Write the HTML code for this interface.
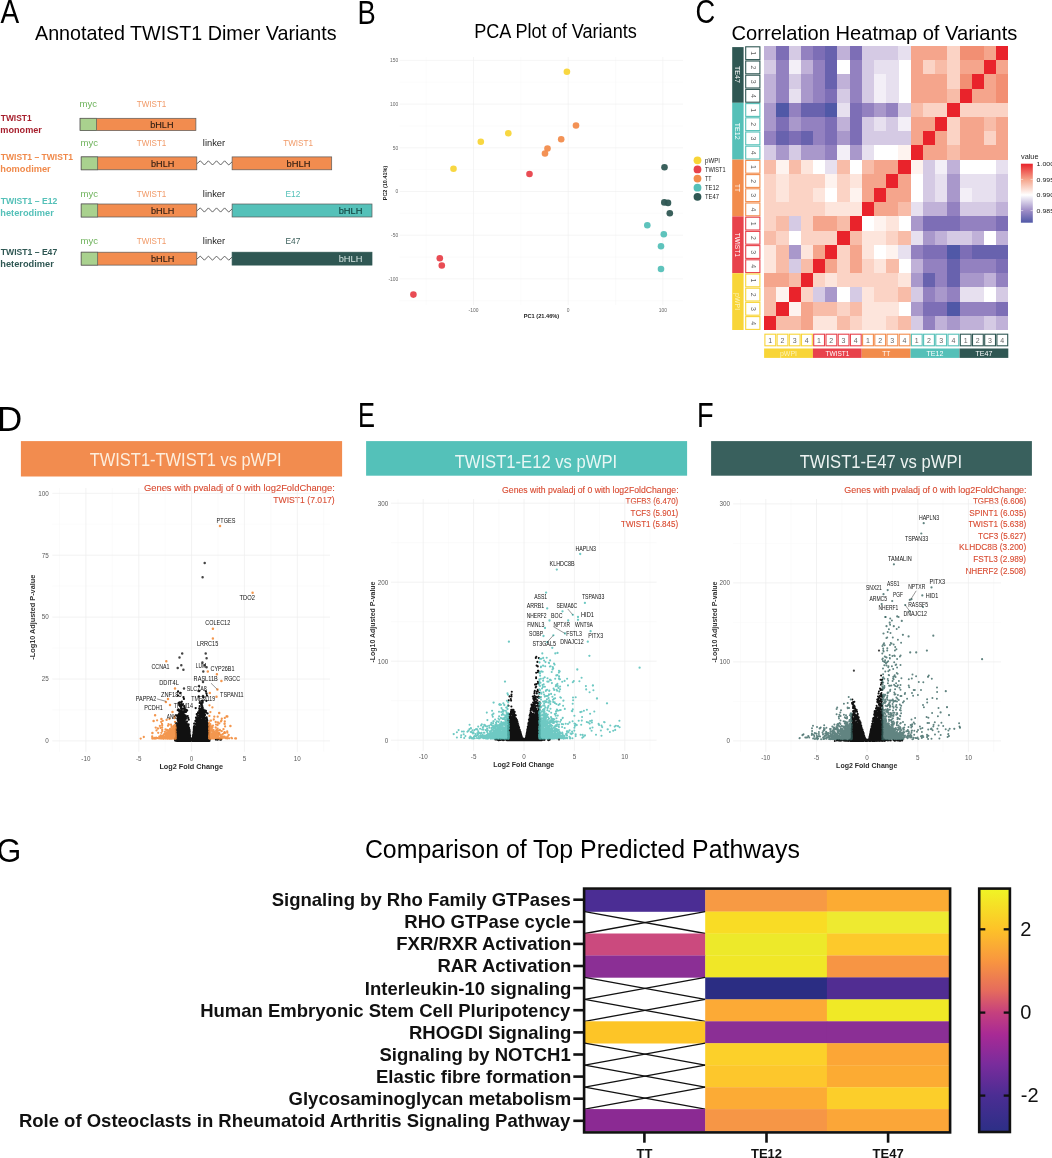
<!DOCTYPE html>
<html><head><meta charset="utf-8"><title>Figure</title>
<style>html,body{margin:0;padding:0;background:#fff}body{width:1052px;height:1158px;overflow:hidden}svg{display:block;will-change:transform}text{font-family:"Liberation Sans",sans-serif}</style></head>
<body>
<svg width="1052" height="1158" viewBox="0 0 1052 1158">
<rect width="1052" height="1158" fill="#fff"/>
<g id="A">
<text x="0.4" y="23.2" font-size="33.5" textLength="18.7" lengthAdjust="spacingAndGlyphs">A</text>
<text x="35.0" y="40.2" font-size="20.2" textLength="301.6" lengthAdjust="spacingAndGlyphs">Annotated TWIST1 Dimer Variants</text>
<rect x="80.1" y="118.3" width="115.8" height="12.3" fill="#f28c4f" stroke="#5a5a5a" stroke-width="0.7"/>
<rect x="80.1" y="118.3" width="16.5" height="12.3" fill="#a9d18e" stroke="#5a5a5a" stroke-width="0.7"/>
<text x="79.5" y="106.7" font-size="8.6" fill="#6db25a" textLength="17.5" lengthAdjust="spacingAndGlyphs">myc</text>
<text x="136.7" y="106.7" font-size="8.4" fill="#f19a68" textLength="29.7" lengthAdjust="spacingAndGlyphs">TWIST1</text>
<text x="150.2" y="127.7" font-size="8.8" fill="#2a1a10" textLength="23.3" lengthAdjust="spacingAndGlyphs" stroke="#2a1a10" stroke-width="0.12">bHLH</text>
<text x="0.8" y="121.4" font-size="8.7" fill="#a61e2c" font-weight="bold" textLength="30.8" lengthAdjust="spacingAndGlyphs">TWIST1</text>
<text x="0.3" y="133.3" font-size="8.7" fill="#a61e2c" font-weight="bold" textLength="41.6" lengthAdjust="spacingAndGlyphs">monomer</text>
<rect x="81.2" y="156.9" width="115.6" height="12.9" fill="#f28c4f" stroke="#5a5a5a" stroke-width="0.7"/>
<rect x="81.2" y="156.9" width="16.5" height="12.9" fill="#a9d18e" stroke="#5a5a5a" stroke-width="0.7"/>
<text x="80.6" y="145.7" font-size="8.6" fill="#6db25a" textLength="17.5" lengthAdjust="spacingAndGlyphs">myc</text>
<text x="136.7" y="145.7" font-size="8.4" fill="#f19a68" textLength="29.7" lengthAdjust="spacingAndGlyphs">TWIST1</text>
<text x="151.0" y="166.9" font-size="8.8" fill="#2a1a10" textLength="23.3" lengthAdjust="spacingAndGlyphs" stroke="#2a1a10" stroke-width="0.12">bHLH</text>
<text x="0.8" y="160.3" font-size="8.7" fill="#f0894a" font-weight="bold" textLength="72.1" lengthAdjust="spacingAndGlyphs">TWIST1 – TWIST1</text>
<text x="0.3" y="171.9" font-size="8.7" fill="#f0894a" font-weight="bold" textLength="50.4" lengthAdjust="spacingAndGlyphs">homodimer</text>
<polyline points="196.8,163.8 200.3,160.8 204.4,165.0 208.4,160.8 212.5,165.0 216.5,160.8 220.6,165.0 224.6,160.8 228.7,165.0 232.1,161.8" fill="none" stroke="#5a5a5a" stroke-width="0.95"/>
<text x="202.8" y="145.7" font-size="8.6" fill="#222" textLength="22.4" lengthAdjust="spacingAndGlyphs">linker</text>
<rect x="232.1" y="156.9" width="99.6" height="12.9" fill="#f28c4f" stroke="#5a5a5a" stroke-width="0.7"/>
<text x="283.2" y="145.7" font-size="8.4" fill="#f19a68" textLength="29.8" lengthAdjust="spacingAndGlyphs">TWIST1</text>
<text x="286.5" y="166.9" font-size="8.8" fill="#2a1a10" textLength="24.0" lengthAdjust="spacingAndGlyphs" stroke="#2a1a10" stroke-width="0.12">bHLH</text>
<rect x="81.2" y="204.0" width="115.6" height="13.0" fill="#f28c4f" stroke="#5a5a5a" stroke-width="0.7"/>
<rect x="81.2" y="204.0" width="16.5" height="13.0" fill="#a9d18e" stroke="#5a5a5a" stroke-width="0.7"/>
<text x="80.6" y="196.5" font-size="8.6" fill="#6db25a" textLength="17.5" lengthAdjust="spacingAndGlyphs">myc</text>
<text x="136.7" y="196.5" font-size="8.4" fill="#f19a68" textLength="29.7" lengthAdjust="spacingAndGlyphs">TWIST1</text>
<text x="151.0" y="214.1" font-size="8.8" fill="#2a1a10" textLength="23.3" lengthAdjust="spacingAndGlyphs" stroke="#2a1a10" stroke-width="0.12">bHLH</text>
<text x="0.8" y="203.7" font-size="8.7" fill="#54c0b8" font-weight="bold" textLength="56.5" lengthAdjust="spacingAndGlyphs">TWIST1 – E12</text>
<text x="0.3" y="215.6" font-size="8.7" fill="#54c0b8" font-weight="bold" textLength="53.5" lengthAdjust="spacingAndGlyphs">heterodimer</text>
<polyline points="196.8,210.9 200.3,207.9 204.4,212.1 208.4,207.9 212.5,212.1 216.5,207.9 220.6,212.1 224.6,207.9 228.7,212.1 232.1,208.9" fill="none" stroke="#5a5a5a" stroke-width="0.95"/>
<text x="202.8" y="196.5" font-size="8.6" fill="#222" textLength="22.4" lengthAdjust="spacingAndGlyphs">linker</text>
<rect x="232.1" y="204.0" width="139.9" height="13.0" fill="#55c1b9" stroke="#5a5a5a" stroke-width="0.7"/>
<text x="285.5" y="196.5" font-size="8.4" fill="#54c0b8" textLength="14.8" lengthAdjust="spacingAndGlyphs">E12</text>
<text x="338.7" y="214.1" font-size="8.8" fill="#0e3d3a" textLength="23.8" lengthAdjust="spacingAndGlyphs" stroke="#0e3d3a" stroke-width="0.1">bHLH</text>
<rect x="81.2" y="252.2" width="115.6" height="12.9" fill="#f28c4f" stroke="#5a5a5a" stroke-width="0.7"/>
<rect x="81.2" y="252.2" width="16.5" height="12.9" fill="#a9d18e" stroke="#5a5a5a" stroke-width="0.7"/>
<text x="80.6" y="244.4" font-size="8.6" fill="#6db25a" textLength="17.5" lengthAdjust="spacingAndGlyphs">myc</text>
<text x="136.7" y="244.4" font-size="8.4" fill="#f19a68" textLength="29.7" lengthAdjust="spacingAndGlyphs">TWIST1</text>
<text x="151.0" y="262.2" font-size="8.8" fill="#2a1a10" textLength="23.3" lengthAdjust="spacingAndGlyphs" stroke="#2a1a10" stroke-width="0.12">bHLH</text>
<text x="0.8" y="255.0" font-size="8.7" fill="#2f5753" font-weight="bold" textLength="56.4" lengthAdjust="spacingAndGlyphs">TWIST1 – E47</text>
<text x="0.3" y="266.9" font-size="8.7" fill="#2f5753" font-weight="bold" textLength="53.5" lengthAdjust="spacingAndGlyphs">heterodimer</text>
<polyline points="196.8,259.1 200.3,256.1 204.4,260.2 208.4,256.1 212.5,260.2 216.5,256.1 220.6,260.2 224.6,256.1 228.7,260.2 232.1,257.1" fill="none" stroke="#5a5a5a" stroke-width="0.95"/>
<text x="202.8" y="244.4" font-size="8.6" fill="#222" textLength="22.4" lengthAdjust="spacingAndGlyphs">linker</text>
<rect x="232.1" y="252.2" width="139.9" height="12.9" fill="#2f5753" stroke="#2f5753" stroke-width="0.7"/>
<text x="285.5" y="244.4" font-size="8.4" fill="#3c5f5b" textLength="14.8" lengthAdjust="spacingAndGlyphs">E47</text>
<text x="338.7" y="262.2" font-size="8.8" fill="#d4e4e1" textLength="23.8" lengthAdjust="spacingAndGlyphs">bHLH</text>
</g>
<g id="B">
<text x="357.4" y="23.5" font-size="33.8" textLength="18.2" lengthAdjust="spacingAndGlyphs">B</text>
<text x="474.2" y="38.3" font-size="19.6" textLength="162.6" lengthAdjust="spacingAndGlyphs">PCA Plot of Variants</text>
<line x1="426.2" y1="57.0" x2="426.2" y2="305.0" stroke="#f6f6f6" stroke-width="0.45"/>
<line x1="520.9" y1="57.0" x2="520.9" y2="305.0" stroke="#f6f6f6" stroke-width="0.45"/>
<line x1="615.6" y1="57.0" x2="615.6" y2="305.0" stroke="#f6f6f6" stroke-width="0.45"/>
<line x1="399.5" y1="300.8" x2="683.0" y2="300.8" stroke="#f6f6f6" stroke-width="0.45"/>
<line x1="399.5" y1="257.1" x2="683.0" y2="257.1" stroke="#f6f6f6" stroke-width="0.45"/>
<line x1="399.5" y1="213.3" x2="683.0" y2="213.3" stroke="#f6f6f6" stroke-width="0.45"/>
<line x1="399.5" y1="169.7" x2="683.0" y2="169.7" stroke="#f6f6f6" stroke-width="0.45"/>
<line x1="399.5" y1="126.0" x2="683.0" y2="126.0" stroke="#f6f6f6" stroke-width="0.45"/>
<line x1="399.5" y1="82.2" x2="683.0" y2="82.2" stroke="#f6f6f6" stroke-width="0.45"/>
<line x1="473.5" y1="57.0" x2="473.5" y2="305.0" stroke="#eeeeee" stroke-width="0.6"/>
<text x="473.5" y="311.6" font-size="4.9" fill="#666" text-anchor="middle">-100</text>
<line x1="568.2" y1="57.0" x2="568.2" y2="305.0" stroke="#eeeeee" stroke-width="0.6"/>
<text x="568.2" y="311.6" font-size="4.9" fill="#666" text-anchor="middle">0</text>
<line x1="662.9" y1="57.0" x2="662.9" y2="305.0" stroke="#eeeeee" stroke-width="0.6"/>
<text x="662.9" y="311.6" font-size="4.9" fill="#666" text-anchor="middle">100</text>
<line x1="399.5" y1="278.9" x2="683.0" y2="278.9" stroke="#eeeeee" stroke-width="0.6"/>
<text x="398.2" y="280.6" font-size="4.9" fill="#666" text-anchor="end">-100</text>
<line x1="399.5" y1="235.2" x2="683.0" y2="235.2" stroke="#eeeeee" stroke-width="0.6"/>
<text x="398.2" y="236.9" font-size="4.9" fill="#666" text-anchor="end">-50</text>
<line x1="399.5" y1="191.5" x2="683.0" y2="191.5" stroke="#eeeeee" stroke-width="0.6"/>
<text x="398.2" y="193.2" font-size="4.9" fill="#666" text-anchor="end">0</text>
<line x1="399.5" y1="147.8" x2="683.0" y2="147.8" stroke="#eeeeee" stroke-width="0.6"/>
<text x="398.2" y="149.5" font-size="4.9" fill="#666" text-anchor="end">50</text>
<line x1="399.5" y1="104.1" x2="683.0" y2="104.1" stroke="#eeeeee" stroke-width="0.6"/>
<text x="398.2" y="105.8" font-size="4.9" fill="#666" text-anchor="end">100</text>
<line x1="399.5" y1="60.4" x2="683.0" y2="60.4" stroke="#eeeeee" stroke-width="0.6"/>
<text x="398.2" y="62.1" font-size="4.9" fill="#666" text-anchor="end">150</text>
<text x="541.5" y="318.2" font-size="5" fill="#222" text-anchor="middle" font-weight="bold" textLength="35.5" lengthAdjust="spacingAndGlyphs">PC1 (21.46%)</text>
<text x="387.2" y="183.0" font-size="5" fill="#222" text-anchor="middle" font-weight="bold" textLength="34.5" lengthAdjust="spacingAndGlyphs" transform="rotate(-90 387.2 183.0)">PC2 (10.41%)</text>
<circle cx="566.9" cy="71.8" r="3.3" fill="#f8d537" fill-opacity="0.95"/>
<circle cx="508.3" cy="133.3" r="3.3" fill="#f8d537" fill-opacity="0.95"/>
<circle cx="480.8" cy="141.8" r="3.3" fill="#f8d537" fill-opacity="0.95"/>
<circle cx="453.5" cy="168.8" r="3.3" fill="#f8d537" fill-opacity="0.95"/>
<circle cx="576.0" cy="125.5" r="3.3" fill="#f28c4c" fill-opacity="0.95"/>
<circle cx="561.2" cy="139.2" r="3.3" fill="#f28c4c" fill-opacity="0.95"/>
<circle cx="547.5" cy="148.5" r="3.3" fill="#f28c4c" fill-opacity="0.95"/>
<circle cx="545.0" cy="153.5" r="3.3" fill="#f28c4c" fill-opacity="0.95"/>
<circle cx="529.5" cy="174.0" r="3.3" fill="#e8424b" fill-opacity="0.95"/>
<circle cx="439.8" cy="258.3" r="3.3" fill="#e8424b" fill-opacity="0.95"/>
<circle cx="441.8" cy="265.5" r="3.3" fill="#e8424b" fill-opacity="0.95"/>
<circle cx="413.4" cy="294.6" r="3.3" fill="#e8424b" fill-opacity="0.95"/>
<circle cx="664.5" cy="167.3" r="3.3" fill="#2f5753" fill-opacity="0.95"/>
<circle cx="664.3" cy="202.4" r="3.3" fill="#2f5753" fill-opacity="0.95"/>
<circle cx="668.0" cy="202.9" r="3.3" fill="#2f5753" fill-opacity="0.95"/>
<circle cx="669.8" cy="213.3" r="3.3" fill="#2f5753" fill-opacity="0.95"/>
<circle cx="647.3" cy="225.3" r="3.3" fill="#55c0b8" fill-opacity="0.95"/>
<circle cx="663.8" cy="234.3" r="3.3" fill="#55c0b8" fill-opacity="0.95"/>
<circle cx="661.0" cy="246.2" r="3.3" fill="#55c0b8" fill-opacity="0.95"/>
<circle cx="661.0" cy="269.0" r="3.3" fill="#55c0b8" fill-opacity="0.95"/>
<circle cx="697.5" cy="160.3" r="3.9" fill="#f8d537"/>
<text x="705.0" y="162.7" font-size="6.6" fill="#222" textLength="15.0" lengthAdjust="spacingAndGlyphs">pWPI</text>
<circle cx="697.5" cy="169.4" r="3.9" fill="#e8424b"/>
<text x="705.0" y="171.8" font-size="6.6" fill="#222" textLength="20.5" lengthAdjust="spacingAndGlyphs">TWIST1</text>
<circle cx="697.5" cy="178.6" r="3.9" fill="#f28c4c"/>
<text x="705.0" y="181.0" font-size="6.6" fill="#222" textLength="6.5" lengthAdjust="spacingAndGlyphs">TT</text>
<circle cx="697.5" cy="187.7" r="3.9" fill="#55c0b8"/>
<text x="705.0" y="190.1" font-size="6.6" fill="#222" textLength="14.0" lengthAdjust="spacingAndGlyphs">TE12</text>
<circle cx="697.5" cy="196.8" r="3.9" fill="#2f5753"/>
<text x="705.0" y="199.2" font-size="6.6" fill="#222" textLength="14.0" lengthAdjust="spacingAndGlyphs">TE47</text>
</g>
<g id="C">
<text x="695.6" y="23.3" font-size="33.5" textLength="19.7" lengthAdjust="spacingAndGlyphs">C</text>
<text x="731.6" y="39.7" font-size="20.2" textLength="285.7" lengthAdjust="spacingAndGlyphs">Correlation Heatmap of Variants</text>
<rect x="764.1" y="315.8" width="12.3" height="14.2" fill="#e9232b" shape-rendering="crispEdges"/>
<rect x="776.3" y="315.8" width="12.3" height="14.2" fill="#f8bca8" shape-rendering="crispEdges"/>
<rect x="788.5" y="315.8" width="12.3" height="14.2" fill="#f8bca8" shape-rendering="crispEdges"/>
<rect x="800.7" y="315.8" width="12.3" height="14.2" fill="#f5a58c" shape-rendering="crispEdges"/>
<rect x="812.9" y="315.8" width="12.3" height="14.2" fill="#fde5dc" shape-rendering="crispEdges"/>
<rect x="825.1" y="315.8" width="12.3" height="14.2" fill="#fde5dc" shape-rendering="crispEdges"/>
<rect x="837.4" y="315.8" width="12.3" height="14.2" fill="#f8bca8" shape-rendering="crispEdges"/>
<rect x="849.6" y="315.8" width="12.3" height="14.2" fill="#fbd3c5" shape-rendering="crispEdges"/>
<rect x="861.8" y="315.8" width="12.3" height="14.2" fill="#fde5dc" shape-rendering="crispEdges"/>
<rect x="874.0" y="315.8" width="12.3" height="14.2" fill="#fde5dc" shape-rendering="crispEdges"/>
<rect x="886.2" y="315.8" width="12.3" height="14.2" fill="#fbd3c5" shape-rendering="crispEdges"/>
<rect x="898.4" y="315.8" width="12.3" height="14.2" fill="#f8bca8" shape-rendering="crispEdges"/>
<rect x="910.6" y="315.8" width="12.3" height="14.2" fill="#d5cae4" shape-rendering="crispEdges"/>
<rect x="922.8" y="315.8" width="12.3" height="14.2" fill="#9381c0" shape-rendering="crispEdges"/>
<rect x="935.0" y="315.8" width="12.3" height="14.2" fill="#c0b1d8" shape-rendering="crispEdges"/>
<rect x="947.2" y="315.8" width="12.3" height="14.2" fill="#a998cb" shape-rendering="crispEdges"/>
<rect x="959.5" y="315.8" width="12.3" height="14.2" fill="#c0b1d8" shape-rendering="crispEdges"/>
<rect x="971.7" y="315.8" width="12.3" height="14.2" fill="#c0b1d8" shape-rendering="crispEdges"/>
<rect x="983.9" y="315.8" width="12.3" height="14.2" fill="#d5cae4" shape-rendering="crispEdges"/>
<rect x="996.1" y="315.8" width="12.3" height="14.2" fill="#c0b1d8" shape-rendering="crispEdges"/>
<rect x="764.1" y="301.6" width="12.3" height="14.2" fill="#f8bca8" shape-rendering="crispEdges"/>
<rect x="776.3" y="301.6" width="12.3" height="14.2" fill="#e9232b" shape-rendering="crispEdges"/>
<rect x="788.5" y="301.6" width="12.3" height="14.2" fill="#fef3ef" shape-rendering="crispEdges"/>
<rect x="800.7" y="301.6" width="12.3" height="14.2" fill="#f5a58c" shape-rendering="crispEdges"/>
<rect x="812.9" y="301.6" width="12.3" height="14.2" fill="#f8bca8" shape-rendering="crispEdges"/>
<rect x="825.1" y="301.6" width="12.3" height="14.2" fill="#f8bca8" shape-rendering="crispEdges"/>
<rect x="837.4" y="301.6" width="12.3" height="14.2" fill="#fbd3c5" shape-rendering="crispEdges"/>
<rect x="849.6" y="301.6" width="12.3" height="14.2" fill="#f8bca8" shape-rendering="crispEdges"/>
<rect x="861.8" y="301.6" width="12.3" height="14.2" fill="#fde5dc" shape-rendering="crispEdges"/>
<rect x="874.0" y="301.6" width="12.3" height="14.2" fill="#fde5dc" shape-rendering="crispEdges"/>
<rect x="886.2" y="301.6" width="12.3" height="14.2" fill="#fde5dc" shape-rendering="crispEdges"/>
<rect x="910.6" y="301.6" width="12.3" height="14.2" fill="#a998cb" shape-rendering="crispEdges"/>
<rect x="922.8" y="301.6" width="12.3" height="14.2" fill="#7d6eb6" shape-rendering="crispEdges"/>
<rect x="935.0" y="301.6" width="12.3" height="14.2" fill="#7d6eb6" shape-rendering="crispEdges"/>
<rect x="947.2" y="301.6" width="12.3" height="14.2" fill="#5058a7" shape-rendering="crispEdges"/>
<rect x="959.5" y="301.6" width="12.3" height="14.2" fill="#9381c0" shape-rendering="crispEdges"/>
<rect x="971.7" y="301.6" width="12.3" height="14.2" fill="#9381c0" shape-rendering="crispEdges"/>
<rect x="983.9" y="301.6" width="12.3" height="14.2" fill="#9381c0" shape-rendering="crispEdges"/>
<rect x="996.1" y="301.6" width="12.3" height="14.2" fill="#7d6eb6" shape-rendering="crispEdges"/>
<rect x="764.1" y="287.4" width="12.3" height="14.2" fill="#f8bca8" shape-rendering="crispEdges"/>
<rect x="776.3" y="287.4" width="12.3" height="14.2" fill="#fef3ef" shape-rendering="crispEdges"/>
<rect x="788.5" y="287.4" width="12.3" height="14.2" fill="#e9232b" shape-rendering="crispEdges"/>
<rect x="800.7" y="287.4" width="12.3" height="14.2" fill="#fbd3c5" shape-rendering="crispEdges"/>
<rect x="812.9" y="287.4" width="12.3" height="14.2" fill="#d5cae4" shape-rendering="crispEdges"/>
<rect x="825.1" y="287.4" width="12.3" height="14.2" fill="#a998cb" shape-rendering="crispEdges"/>
<rect x="849.6" y="287.4" width="12.3" height="14.2" fill="#d5cae4" shape-rendering="crispEdges"/>
<rect x="861.8" y="287.4" width="12.3" height="14.2" fill="#fde5dc" shape-rendering="crispEdges"/>
<rect x="874.0" y="287.4" width="12.3" height="14.2" fill="#fbd3c5" shape-rendering="crispEdges"/>
<rect x="886.2" y="287.4" width="12.3" height="14.2" fill="#fbd3c5" shape-rendering="crispEdges"/>
<rect x="898.4" y="287.4" width="12.3" height="14.2" fill="#f8bca8" shape-rendering="crispEdges"/>
<rect x="910.6" y="287.4" width="12.3" height="14.2" fill="#d5cae4" shape-rendering="crispEdges"/>
<rect x="922.8" y="287.4" width="12.3" height="14.2" fill="#9381c0" shape-rendering="crispEdges"/>
<rect x="935.0" y="287.4" width="12.3" height="14.2" fill="#a998cb" shape-rendering="crispEdges"/>
<rect x="947.2" y="287.4" width="12.3" height="14.2" fill="#9381c0" shape-rendering="crispEdges"/>
<rect x="959.5" y="287.4" width="12.3" height="14.2" fill="#e7e0ef" shape-rendering="crispEdges"/>
<rect x="971.7" y="287.4" width="12.3" height="14.2" fill="#e7e0ef" shape-rendering="crispEdges"/>
<rect x="996.1" y="287.4" width="12.3" height="14.2" fill="#d5cae4" shape-rendering="crispEdges"/>
<rect x="764.1" y="273.2" width="12.3" height="14.2" fill="#f5a58c" shape-rendering="crispEdges"/>
<rect x="776.3" y="273.2" width="12.3" height="14.2" fill="#f5a58c" shape-rendering="crispEdges"/>
<rect x="788.5" y="273.2" width="12.3" height="14.2" fill="#f8bca8" shape-rendering="crispEdges"/>
<rect x="800.7" y="273.2" width="12.3" height="14.2" fill="#e9232b" shape-rendering="crispEdges"/>
<rect x="812.9" y="273.2" width="12.3" height="14.2" fill="#fbd3c5" shape-rendering="crispEdges"/>
<rect x="825.1" y="273.2" width="12.3" height="14.2" fill="#fde5dc" shape-rendering="crispEdges"/>
<rect x="837.4" y="273.2" width="12.3" height="14.2" fill="#fbd3c5" shape-rendering="crispEdges"/>
<rect x="849.6" y="273.2" width="12.3" height="14.2" fill="#fbd3c5" shape-rendering="crispEdges"/>
<rect x="861.8" y="273.2" width="12.3" height="14.2" fill="#fbd3c5" shape-rendering="crispEdges"/>
<rect x="874.0" y="273.2" width="12.3" height="14.2" fill="#fbd3c5" shape-rendering="crispEdges"/>
<rect x="886.2" y="273.2" width="12.3" height="14.2" fill="#fbd3c5" shape-rendering="crispEdges"/>
<rect x="898.4" y="273.2" width="12.3" height="14.2" fill="#fde5dc" shape-rendering="crispEdges"/>
<rect x="910.6" y="273.2" width="12.3" height="14.2" fill="#a998cb" shape-rendering="crispEdges"/>
<rect x="922.8" y="273.2" width="12.3" height="14.2" fill="#6862ae" shape-rendering="crispEdges"/>
<rect x="935.0" y="273.2" width="12.3" height="14.2" fill="#9381c0" shape-rendering="crispEdges"/>
<rect x="947.2" y="273.2" width="12.3" height="14.2" fill="#6862ae" shape-rendering="crispEdges"/>
<rect x="959.5" y="273.2" width="12.3" height="14.2" fill="#a998cb" shape-rendering="crispEdges"/>
<rect x="971.7" y="273.2" width="12.3" height="14.2" fill="#a998cb" shape-rendering="crispEdges"/>
<rect x="983.9" y="273.2" width="12.3" height="14.2" fill="#c0b1d8" shape-rendering="crispEdges"/>
<rect x="996.1" y="273.2" width="12.3" height="14.2" fill="#9381c0" shape-rendering="crispEdges"/>
<rect x="764.1" y="259.0" width="12.3" height="14.2" fill="#fde5dc" shape-rendering="crispEdges"/>
<rect x="776.3" y="259.0" width="12.3" height="14.2" fill="#f8bca8" shape-rendering="crispEdges"/>
<rect x="788.5" y="259.0" width="12.3" height="14.2" fill="#d5cae4" shape-rendering="crispEdges"/>
<rect x="800.7" y="259.0" width="12.3" height="14.2" fill="#f8bca8" shape-rendering="crispEdges"/>
<rect x="812.9" y="259.0" width="12.3" height="14.2" fill="#e9232b" shape-rendering="crispEdges"/>
<rect x="825.1" y="259.0" width="12.3" height="14.2" fill="#f5a58c" shape-rendering="crispEdges"/>
<rect x="837.4" y="259.0" width="12.3" height="14.2" fill="#fbd3c5" shape-rendering="crispEdges"/>
<rect x="849.6" y="259.0" width="12.3" height="14.2" fill="#f5a58c" shape-rendering="crispEdges"/>
<rect x="861.8" y="259.0" width="12.3" height="14.2" fill="#fbd3c5" shape-rendering="crispEdges"/>
<rect x="874.0" y="259.0" width="12.3" height="14.2" fill="#fde5dc" shape-rendering="crispEdges"/>
<rect x="886.2" y="259.0" width="12.3" height="14.2" fill="#f8bca8" shape-rendering="crispEdges"/>
<rect x="910.6" y="259.0" width="12.3" height="14.2" fill="#c0b1d8" shape-rendering="crispEdges"/>
<rect x="922.8" y="259.0" width="12.3" height="14.2" fill="#9381c0" shape-rendering="crispEdges"/>
<rect x="935.0" y="259.0" width="12.3" height="14.2" fill="#9381c0" shape-rendering="crispEdges"/>
<rect x="947.2" y="259.0" width="12.3" height="14.2" fill="#6862ae" shape-rendering="crispEdges"/>
<rect x="959.5" y="259.0" width="12.3" height="14.2" fill="#9381c0" shape-rendering="crispEdges"/>
<rect x="971.7" y="259.0" width="12.3" height="14.2" fill="#9381c0" shape-rendering="crispEdges"/>
<rect x="983.9" y="259.0" width="12.3" height="14.2" fill="#9381c0" shape-rendering="crispEdges"/>
<rect x="996.1" y="259.0" width="12.3" height="14.2" fill="#7d6eb6" shape-rendering="crispEdges"/>
<rect x="764.1" y="244.8" width="12.3" height="14.2" fill="#fde5dc" shape-rendering="crispEdges"/>
<rect x="776.3" y="244.8" width="12.3" height="14.2" fill="#f8bca8" shape-rendering="crispEdges"/>
<rect x="788.5" y="244.8" width="12.3" height="14.2" fill="#a998cb" shape-rendering="crispEdges"/>
<rect x="800.7" y="244.8" width="12.3" height="14.2" fill="#fde5dc" shape-rendering="crispEdges"/>
<rect x="812.9" y="244.8" width="12.3" height="14.2" fill="#f5a58c" shape-rendering="crispEdges"/>
<rect x="825.1" y="244.8" width="12.3" height="14.2" fill="#e9232b" shape-rendering="crispEdges"/>
<rect x="837.4" y="244.8" width="12.3" height="14.2" fill="#fbd3c5" shape-rendering="crispEdges"/>
<rect x="849.6" y="244.8" width="12.3" height="14.2" fill="#f5a58c" shape-rendering="crispEdges"/>
<rect x="861.8" y="244.8" width="12.3" height="14.2" fill="#fde5dc" shape-rendering="crispEdges"/>
<rect x="886.2" y="244.8" width="12.3" height="14.2" fill="#fef3ef" shape-rendering="crispEdges"/>
<rect x="898.4" y="244.8" width="12.3" height="14.2" fill="#e7e0ef" shape-rendering="crispEdges"/>
<rect x="910.6" y="244.8" width="12.3" height="14.2" fill="#9381c0" shape-rendering="crispEdges"/>
<rect x="922.8" y="244.8" width="12.3" height="14.2" fill="#7d6eb6" shape-rendering="crispEdges"/>
<rect x="935.0" y="244.8" width="12.3" height="14.2" fill="#7d6eb6" shape-rendering="crispEdges"/>
<rect x="947.2" y="244.8" width="12.3" height="14.2" fill="#5058a7" shape-rendering="crispEdges"/>
<rect x="959.5" y="244.8" width="12.3" height="14.2" fill="#7d6eb6" shape-rendering="crispEdges"/>
<rect x="971.7" y="244.8" width="12.3" height="14.2" fill="#6862ae" shape-rendering="crispEdges"/>
<rect x="983.9" y="244.8" width="12.3" height="14.2" fill="#6862ae" shape-rendering="crispEdges"/>
<rect x="996.1" y="244.8" width="12.3" height="14.2" fill="#6862ae" shape-rendering="crispEdges"/>
<rect x="764.1" y="230.6" width="12.3" height="14.2" fill="#f8bca8" shape-rendering="crispEdges"/>
<rect x="776.3" y="230.6" width="12.3" height="14.2" fill="#fbd3c5" shape-rendering="crispEdges"/>
<rect x="800.7" y="230.6" width="12.3" height="14.2" fill="#fbd3c5" shape-rendering="crispEdges"/>
<rect x="812.9" y="230.6" width="12.3" height="14.2" fill="#fbd3c5" shape-rendering="crispEdges"/>
<rect x="825.1" y="230.6" width="12.3" height="14.2" fill="#fbd3c5" shape-rendering="crispEdges"/>
<rect x="837.4" y="230.6" width="12.3" height="14.2" fill="#e9232b" shape-rendering="crispEdges"/>
<rect x="849.6" y="230.6" width="12.3" height="14.2" fill="#f8bca8" shape-rendering="crispEdges"/>
<rect x="861.8" y="230.6" width="12.3" height="14.2" fill="#fde5dc" shape-rendering="crispEdges"/>
<rect x="874.0" y="230.6" width="12.3" height="14.2" fill="#fde5dc" shape-rendering="crispEdges"/>
<rect x="886.2" y="230.6" width="12.3" height="14.2" fill="#fbd3c5" shape-rendering="crispEdges"/>
<rect x="898.4" y="230.6" width="12.3" height="14.2" fill="#f8bca8" shape-rendering="crispEdges"/>
<rect x="910.6" y="230.6" width="12.3" height="14.2" fill="#e7e0ef" shape-rendering="crispEdges"/>
<rect x="922.8" y="230.6" width="12.3" height="14.2" fill="#a998cb" shape-rendering="crispEdges"/>
<rect x="935.0" y="230.6" width="12.3" height="14.2" fill="#c0b1d8" shape-rendering="crispEdges"/>
<rect x="947.2" y="230.6" width="12.3" height="14.2" fill="#d5cae4" shape-rendering="crispEdges"/>
<rect x="959.5" y="230.6" width="12.3" height="14.2" fill="#d5cae4" shape-rendering="crispEdges"/>
<rect x="971.7" y="230.6" width="12.3" height="14.2" fill="#c0b1d8" shape-rendering="crispEdges"/>
<rect x="996.1" y="230.6" width="12.3" height="14.2" fill="#c0b1d8" shape-rendering="crispEdges"/>
<rect x="764.1" y="216.4" width="12.3" height="14.2" fill="#fbd3c5" shape-rendering="crispEdges"/>
<rect x="776.3" y="216.4" width="12.3" height="14.2" fill="#f8bca8" shape-rendering="crispEdges"/>
<rect x="788.5" y="216.4" width="12.3" height="14.2" fill="#d5cae4" shape-rendering="crispEdges"/>
<rect x="800.7" y="216.4" width="12.3" height="14.2" fill="#fbd3c5" shape-rendering="crispEdges"/>
<rect x="812.9" y="216.4" width="12.3" height="14.2" fill="#f5a58c" shape-rendering="crispEdges"/>
<rect x="825.1" y="216.4" width="12.3" height="14.2" fill="#f5a58c" shape-rendering="crispEdges"/>
<rect x="837.4" y="216.4" width="12.3" height="14.2" fill="#f8bca8" shape-rendering="crispEdges"/>
<rect x="849.6" y="216.4" width="12.3" height="14.2" fill="#e9232b" shape-rendering="crispEdges"/>
<rect x="874.0" y="216.4" width="12.3" height="14.2" fill="#fef3ef" shape-rendering="crispEdges"/>
<rect x="886.2" y="216.4" width="12.3" height="14.2" fill="#fde5dc" shape-rendering="crispEdges"/>
<rect x="910.6" y="216.4" width="12.3" height="14.2" fill="#a998cb" shape-rendering="crispEdges"/>
<rect x="922.8" y="216.4" width="12.3" height="14.2" fill="#7d6eb6" shape-rendering="crispEdges"/>
<rect x="935.0" y="216.4" width="12.3" height="14.2" fill="#7d6eb6" shape-rendering="crispEdges"/>
<rect x="947.2" y="216.4" width="12.3" height="14.2" fill="#7d6eb6" shape-rendering="crispEdges"/>
<rect x="959.5" y="216.4" width="12.3" height="14.2" fill="#9381c0" shape-rendering="crispEdges"/>
<rect x="971.7" y="216.4" width="12.3" height="14.2" fill="#9381c0" shape-rendering="crispEdges"/>
<rect x="983.9" y="216.4" width="12.3" height="14.2" fill="#9381c0" shape-rendering="crispEdges"/>
<rect x="996.1" y="216.4" width="12.3" height="14.2" fill="#7d6eb6" shape-rendering="crispEdges"/>
<rect x="764.1" y="202.2" width="12.3" height="14.2" fill="#fbd3c5" shape-rendering="crispEdges"/>
<rect x="776.3" y="202.2" width="12.3" height="14.2" fill="#fbd3c5" shape-rendering="crispEdges"/>
<rect x="788.5" y="202.2" width="12.3" height="14.2" fill="#fbd3c5" shape-rendering="crispEdges"/>
<rect x="800.7" y="202.2" width="12.3" height="14.2" fill="#fbd3c5" shape-rendering="crispEdges"/>
<rect x="812.9" y="202.2" width="12.3" height="14.2" fill="#fbd3c5" shape-rendering="crispEdges"/>
<rect x="825.1" y="202.2" width="12.3" height="14.2" fill="#fde5dc" shape-rendering="crispEdges"/>
<rect x="837.4" y="202.2" width="12.3" height="14.2" fill="#fde5dc" shape-rendering="crispEdges"/>
<rect x="849.6" y="202.2" width="12.3" height="14.2" fill="#fde5dc" shape-rendering="crispEdges"/>
<rect x="861.8" y="202.2" width="12.3" height="14.2" fill="#e9232b" shape-rendering="crispEdges"/>
<rect x="874.0" y="202.2" width="12.3" height="14.2" fill="#f5a58c" shape-rendering="crispEdges"/>
<rect x="886.2" y="202.2" width="12.3" height="14.2" fill="#f5a58c" shape-rendering="crispEdges"/>
<rect x="898.4" y="202.2" width="12.3" height="14.2" fill="#f8bca8" shape-rendering="crispEdges"/>
<rect x="910.6" y="202.2" width="12.3" height="14.2" fill="#e7e0ef" shape-rendering="crispEdges"/>
<rect x="922.8" y="202.2" width="12.3" height="14.2" fill="#c0b1d8" shape-rendering="crispEdges"/>
<rect x="935.0" y="202.2" width="12.3" height="14.2" fill="#c0b1d8" shape-rendering="crispEdges"/>
<rect x="947.2" y="202.2" width="12.3" height="14.2" fill="#9381c0" shape-rendering="crispEdges"/>
<rect x="959.5" y="202.2" width="12.3" height="14.2" fill="#d5cae4" shape-rendering="crispEdges"/>
<rect x="971.7" y="202.2" width="12.3" height="14.2" fill="#d5cae4" shape-rendering="crispEdges"/>
<rect x="983.9" y="202.2" width="12.3" height="14.2" fill="#d5cae4" shape-rendering="crispEdges"/>
<rect x="996.1" y="202.2" width="12.3" height="14.2" fill="#c0b1d8" shape-rendering="crispEdges"/>
<rect x="764.1" y="188.0" width="12.3" height="14.2" fill="#fbd3c5" shape-rendering="crispEdges"/>
<rect x="776.3" y="188.0" width="12.3" height="14.2" fill="#fde5dc" shape-rendering="crispEdges"/>
<rect x="788.5" y="188.0" width="12.3" height="14.2" fill="#fbd3c5" shape-rendering="crispEdges"/>
<rect x="800.7" y="188.0" width="12.3" height="14.2" fill="#fbd3c5" shape-rendering="crispEdges"/>
<rect x="812.9" y="188.0" width="12.3" height="14.2" fill="#fde5dc" shape-rendering="crispEdges"/>
<rect x="837.4" y="188.0" width="12.3" height="14.2" fill="#fbd3c5" shape-rendering="crispEdges"/>
<rect x="849.6" y="188.0" width="12.3" height="14.2" fill="#fef3ef" shape-rendering="crispEdges"/>
<rect x="861.8" y="188.0" width="12.3" height="14.2" fill="#f5a58c" shape-rendering="crispEdges"/>
<rect x="874.0" y="188.0" width="12.3" height="14.2" fill="#e9232b" shape-rendering="crispEdges"/>
<rect x="886.2" y="188.0" width="12.3" height="14.2" fill="#f5a58c" shape-rendering="crispEdges"/>
<rect x="898.4" y="188.0" width="12.3" height="14.2" fill="#f5a58c" shape-rendering="crispEdges"/>
<rect x="922.8" y="188.0" width="12.3" height="14.2" fill="#d5cae4" shape-rendering="crispEdges"/>
<rect x="935.0" y="188.0" width="12.3" height="14.2" fill="#e7e0ef" shape-rendering="crispEdges"/>
<rect x="947.2" y="188.0" width="12.3" height="14.2" fill="#a998cb" shape-rendering="crispEdges"/>
<rect x="959.5" y="188.0" width="12.3" height="14.2" fill="#f3eff7" shape-rendering="crispEdges"/>
<rect x="971.7" y="188.0" width="12.3" height="14.2" fill="#e7e0ef" shape-rendering="crispEdges"/>
<rect x="983.9" y="188.0" width="12.3" height="14.2" fill="#e7e0ef" shape-rendering="crispEdges"/>
<rect x="996.1" y="188.0" width="12.3" height="14.2" fill="#d5cae4" shape-rendering="crispEdges"/>
<rect x="764.1" y="173.8" width="12.3" height="14.2" fill="#fbd3c5" shape-rendering="crispEdges"/>
<rect x="776.3" y="173.8" width="12.3" height="14.2" fill="#fde5dc" shape-rendering="crispEdges"/>
<rect x="788.5" y="173.8" width="12.3" height="14.2" fill="#fbd3c5" shape-rendering="crispEdges"/>
<rect x="800.7" y="173.8" width="12.3" height="14.2" fill="#fbd3c5" shape-rendering="crispEdges"/>
<rect x="812.9" y="173.8" width="12.3" height="14.2" fill="#fbd3c5" shape-rendering="crispEdges"/>
<rect x="825.1" y="173.8" width="12.3" height="14.2" fill="#fef3ef" shape-rendering="crispEdges"/>
<rect x="837.4" y="173.8" width="12.3" height="14.2" fill="#fbd3c5" shape-rendering="crispEdges"/>
<rect x="849.6" y="173.8" width="12.3" height="14.2" fill="#fde5dc" shape-rendering="crispEdges"/>
<rect x="861.8" y="173.8" width="12.3" height="14.2" fill="#f5a58c" shape-rendering="crispEdges"/>
<rect x="874.0" y="173.8" width="12.3" height="14.2" fill="#f5a58c" shape-rendering="crispEdges"/>
<rect x="886.2" y="173.8" width="12.3" height="14.2" fill="#e9232b" shape-rendering="crispEdges"/>
<rect x="898.4" y="173.8" width="12.3" height="14.2" fill="#f5a58c" shape-rendering="crispEdges"/>
<rect x="922.8" y="173.8" width="12.3" height="14.2" fill="#d5cae4" shape-rendering="crispEdges"/>
<rect x="935.0" y="173.8" width="12.3" height="14.2" fill="#e7e0ef" shape-rendering="crispEdges"/>
<rect x="947.2" y="173.8" width="12.3" height="14.2" fill="#a998cb" shape-rendering="crispEdges"/>
<rect x="959.5" y="173.8" width="12.3" height="14.2" fill="#e7e0ef" shape-rendering="crispEdges"/>
<rect x="971.7" y="173.8" width="12.3" height="14.2" fill="#e7e0ef" shape-rendering="crispEdges"/>
<rect x="983.9" y="173.8" width="12.3" height="14.2" fill="#e7e0ef" shape-rendering="crispEdges"/>
<rect x="996.1" y="173.8" width="12.3" height="14.2" fill="#d5cae4" shape-rendering="crispEdges"/>
<rect x="764.1" y="159.6" width="12.3" height="14.2" fill="#f8bca8" shape-rendering="crispEdges"/>
<rect x="776.3" y="159.6" width="12.3" height="14.2" fill="#fef3ef" shape-rendering="crispEdges"/>
<rect x="788.5" y="159.6" width="12.3" height="14.2" fill="#f8bca8" shape-rendering="crispEdges"/>
<rect x="800.7" y="159.6" width="12.3" height="14.2" fill="#fde5dc" shape-rendering="crispEdges"/>
<rect x="825.1" y="159.6" width="12.3" height="14.2" fill="#e7e0ef" shape-rendering="crispEdges"/>
<rect x="837.4" y="159.6" width="12.3" height="14.2" fill="#f8bca8" shape-rendering="crispEdges"/>
<rect x="861.8" y="159.6" width="12.3" height="14.2" fill="#f8bca8" shape-rendering="crispEdges"/>
<rect x="874.0" y="159.6" width="12.3" height="14.2" fill="#f5a58c" shape-rendering="crispEdges"/>
<rect x="886.2" y="159.6" width="12.3" height="14.2" fill="#f5a58c" shape-rendering="crispEdges"/>
<rect x="898.4" y="159.6" width="12.3" height="14.2" fill="#e9232b" shape-rendering="crispEdges"/>
<rect x="910.6" y="159.6" width="12.3" height="14.2" fill="#fef3ef" shape-rendering="crispEdges"/>
<rect x="922.8" y="159.6" width="12.3" height="14.2" fill="#d5cae4" shape-rendering="crispEdges"/>
<rect x="935.0" y="159.6" width="12.3" height="14.2" fill="#f3eff7" shape-rendering="crispEdges"/>
<rect x="947.2" y="159.6" width="12.3" height="14.2" fill="#c0b1d8" shape-rendering="crispEdges"/>
<rect x="996.1" y="159.6" width="12.3" height="14.2" fill="#e7e0ef" shape-rendering="crispEdges"/>
<rect x="764.1" y="145.4" width="12.3" height="14.2" fill="#d5cae4" shape-rendering="crispEdges"/>
<rect x="776.3" y="145.4" width="12.3" height="14.2" fill="#a998cb" shape-rendering="crispEdges"/>
<rect x="788.5" y="145.4" width="12.3" height="14.2" fill="#d5cae4" shape-rendering="crispEdges"/>
<rect x="800.7" y="145.4" width="12.3" height="14.2" fill="#a998cb" shape-rendering="crispEdges"/>
<rect x="812.9" y="145.4" width="12.3" height="14.2" fill="#a998cb" shape-rendering="crispEdges"/>
<rect x="825.1" y="145.4" width="12.3" height="14.2" fill="#9381c0" shape-rendering="crispEdges"/>
<rect x="837.4" y="145.4" width="12.3" height="14.2" fill="#f3eff7" shape-rendering="crispEdges"/>
<rect x="849.6" y="145.4" width="12.3" height="14.2" fill="#a998cb" shape-rendering="crispEdges"/>
<rect x="861.8" y="145.4" width="12.3" height="14.2" fill="#e7e0ef" shape-rendering="crispEdges"/>
<rect x="898.4" y="145.4" width="12.3" height="14.2" fill="#fef3ef" shape-rendering="crispEdges"/>
<rect x="910.6" y="145.4" width="12.3" height="14.2" fill="#e9232b" shape-rendering="crispEdges"/>
<rect x="922.8" y="145.4" width="12.3" height="14.2" fill="#f5a58c" shape-rendering="crispEdges"/>
<rect x="935.0" y="145.4" width="12.3" height="14.2" fill="#f5a58c" shape-rendering="crispEdges"/>
<rect x="947.2" y="145.4" width="12.3" height="14.2" fill="#f8bca8" shape-rendering="crispEdges"/>
<rect x="959.5" y="145.4" width="12.3" height="14.2" fill="#f5a58c" shape-rendering="crispEdges"/>
<rect x="971.7" y="145.4" width="12.3" height="14.2" fill="#f5a58c" shape-rendering="crispEdges"/>
<rect x="983.9" y="145.4" width="12.3" height="14.2" fill="#f5a58c" shape-rendering="crispEdges"/>
<rect x="996.1" y="145.4" width="12.3" height="14.2" fill="#f5a58c" shape-rendering="crispEdges"/>
<rect x="764.1" y="131.2" width="12.3" height="14.2" fill="#9381c0" shape-rendering="crispEdges"/>
<rect x="776.3" y="131.2" width="12.3" height="14.2" fill="#6862ae" shape-rendering="crispEdges"/>
<rect x="788.5" y="131.2" width="12.3" height="14.2" fill="#7d6eb6" shape-rendering="crispEdges"/>
<rect x="800.7" y="131.2" width="12.3" height="14.2" fill="#6862ae" shape-rendering="crispEdges"/>
<rect x="812.9" y="131.2" width="12.3" height="14.2" fill="#9381c0" shape-rendering="crispEdges"/>
<rect x="825.1" y="131.2" width="12.3" height="14.2" fill="#7d6eb6" shape-rendering="crispEdges"/>
<rect x="837.4" y="131.2" width="12.3" height="14.2" fill="#a998cb" shape-rendering="crispEdges"/>
<rect x="849.6" y="131.2" width="12.3" height="14.2" fill="#7d6eb6" shape-rendering="crispEdges"/>
<rect x="861.8" y="131.2" width="12.3" height="14.2" fill="#d5cae4" shape-rendering="crispEdges"/>
<rect x="874.0" y="131.2" width="12.3" height="14.2" fill="#d5cae4" shape-rendering="crispEdges"/>
<rect x="886.2" y="131.2" width="12.3" height="14.2" fill="#d5cae4" shape-rendering="crispEdges"/>
<rect x="898.4" y="131.2" width="12.3" height="14.2" fill="#d5cae4" shape-rendering="crispEdges"/>
<rect x="910.6" y="131.2" width="12.3" height="14.2" fill="#f5a58c" shape-rendering="crispEdges"/>
<rect x="922.8" y="131.2" width="12.3" height="14.2" fill="#e9232b" shape-rendering="crispEdges"/>
<rect x="935.0" y="131.2" width="12.3" height="14.2" fill="#f5a58c" shape-rendering="crispEdges"/>
<rect x="947.2" y="131.2" width="12.3" height="14.2" fill="#fbd3c5" shape-rendering="crispEdges"/>
<rect x="959.5" y="131.2" width="12.3" height="14.2" fill="#f5a58c" shape-rendering="crispEdges"/>
<rect x="971.7" y="131.2" width="12.3" height="14.2" fill="#f5a58c" shape-rendering="crispEdges"/>
<rect x="983.9" y="131.2" width="12.3" height="14.2" fill="#fbd3c5" shape-rendering="crispEdges"/>
<rect x="996.1" y="131.2" width="12.3" height="14.2" fill="#f5a58c" shape-rendering="crispEdges"/>
<rect x="764.1" y="117.0" width="12.3" height="14.2" fill="#a998cb" shape-rendering="crispEdges"/>
<rect x="776.3" y="117.0" width="12.3" height="14.2" fill="#7d6eb6" shape-rendering="crispEdges"/>
<rect x="788.5" y="117.0" width="12.3" height="14.2" fill="#a998cb" shape-rendering="crispEdges"/>
<rect x="800.7" y="117.0" width="12.3" height="14.2" fill="#9381c0" shape-rendering="crispEdges"/>
<rect x="812.9" y="117.0" width="12.3" height="14.2" fill="#9381c0" shape-rendering="crispEdges"/>
<rect x="825.1" y="117.0" width="12.3" height="14.2" fill="#7d6eb6" shape-rendering="crispEdges"/>
<rect x="837.4" y="117.0" width="12.3" height="14.2" fill="#c0b1d8" shape-rendering="crispEdges"/>
<rect x="849.6" y="117.0" width="12.3" height="14.2" fill="#7d6eb6" shape-rendering="crispEdges"/>
<rect x="861.8" y="117.0" width="12.3" height="14.2" fill="#d5cae4" shape-rendering="crispEdges"/>
<rect x="874.0" y="117.0" width="12.3" height="14.2" fill="#e7e0ef" shape-rendering="crispEdges"/>
<rect x="886.2" y="117.0" width="12.3" height="14.2" fill="#d5cae4" shape-rendering="crispEdges"/>
<rect x="898.4" y="117.0" width="12.3" height="14.2" fill="#f3eff7" shape-rendering="crispEdges"/>
<rect x="910.6" y="117.0" width="12.3" height="14.2" fill="#f5a58c" shape-rendering="crispEdges"/>
<rect x="922.8" y="117.0" width="12.3" height="14.2" fill="#f5a58c" shape-rendering="crispEdges"/>
<rect x="935.0" y="117.0" width="12.3" height="14.2" fill="#e9232b" shape-rendering="crispEdges"/>
<rect x="947.2" y="117.0" width="12.3" height="14.2" fill="#fbd3c5" shape-rendering="crispEdges"/>
<rect x="959.5" y="117.0" width="12.3" height="14.2" fill="#f5a58c" shape-rendering="crispEdges"/>
<rect x="971.7" y="117.0" width="12.3" height="14.2" fill="#f5a58c" shape-rendering="crispEdges"/>
<rect x="983.9" y="117.0" width="12.3" height="14.2" fill="#f8bca8" shape-rendering="crispEdges"/>
<rect x="996.1" y="117.0" width="12.3" height="14.2" fill="#f5a58c" shape-rendering="crispEdges"/>
<rect x="764.1" y="102.8" width="12.3" height="14.2" fill="#a998cb" shape-rendering="crispEdges"/>
<rect x="776.3" y="102.8" width="12.3" height="14.2" fill="#5058a7" shape-rendering="crispEdges"/>
<rect x="788.5" y="102.8" width="12.3" height="14.2" fill="#9381c0" shape-rendering="crispEdges"/>
<rect x="800.7" y="102.8" width="12.3" height="14.2" fill="#6862ae" shape-rendering="crispEdges"/>
<rect x="812.9" y="102.8" width="12.3" height="14.2" fill="#6862ae" shape-rendering="crispEdges"/>
<rect x="825.1" y="102.8" width="12.3" height="14.2" fill="#5058a7" shape-rendering="crispEdges"/>
<rect x="837.4" y="102.8" width="12.3" height="14.2" fill="#e7e0ef" shape-rendering="crispEdges"/>
<rect x="849.6" y="102.8" width="12.3" height="14.2" fill="#7d6eb6" shape-rendering="crispEdges"/>
<rect x="861.8" y="102.8" width="12.3" height="14.2" fill="#9381c0" shape-rendering="crispEdges"/>
<rect x="874.0" y="102.8" width="12.3" height="14.2" fill="#a998cb" shape-rendering="crispEdges"/>
<rect x="886.2" y="102.8" width="12.3" height="14.2" fill="#9381c0" shape-rendering="crispEdges"/>
<rect x="898.4" y="102.8" width="12.3" height="14.2" fill="#d5cae4" shape-rendering="crispEdges"/>
<rect x="910.6" y="102.8" width="12.3" height="14.2" fill="#f8bca8" shape-rendering="crispEdges"/>
<rect x="922.8" y="102.8" width="12.3" height="14.2" fill="#fbd3c5" shape-rendering="crispEdges"/>
<rect x="935.0" y="102.8" width="12.3" height="14.2" fill="#fbd3c5" shape-rendering="crispEdges"/>
<rect x="947.2" y="102.8" width="12.3" height="14.2" fill="#e9232b" shape-rendering="crispEdges"/>
<rect x="959.5" y="102.8" width="12.3" height="14.2" fill="#fbd3c5" shape-rendering="crispEdges"/>
<rect x="971.7" y="102.8" width="12.3" height="14.2" fill="#fbd3c5" shape-rendering="crispEdges"/>
<rect x="983.9" y="102.8" width="12.3" height="14.2" fill="#fbd3c5" shape-rendering="crispEdges"/>
<rect x="996.1" y="102.8" width="12.3" height="14.2" fill="#fbd3c5" shape-rendering="crispEdges"/>
<rect x="764.1" y="88.6" width="12.3" height="14.2" fill="#c0b1d8" shape-rendering="crispEdges"/>
<rect x="776.3" y="88.6" width="12.3" height="14.2" fill="#9381c0" shape-rendering="crispEdges"/>
<rect x="788.5" y="88.6" width="12.3" height="14.2" fill="#e7e0ef" shape-rendering="crispEdges"/>
<rect x="800.7" y="88.6" width="12.3" height="14.2" fill="#a998cb" shape-rendering="crispEdges"/>
<rect x="812.9" y="88.6" width="12.3" height="14.2" fill="#9381c0" shape-rendering="crispEdges"/>
<rect x="825.1" y="88.6" width="12.3" height="14.2" fill="#7d6eb6" shape-rendering="crispEdges"/>
<rect x="837.4" y="88.6" width="12.3" height="14.2" fill="#d5cae4" shape-rendering="crispEdges"/>
<rect x="849.6" y="88.6" width="12.3" height="14.2" fill="#9381c0" shape-rendering="crispEdges"/>
<rect x="861.8" y="88.6" width="12.3" height="14.2" fill="#d5cae4" shape-rendering="crispEdges"/>
<rect x="874.0" y="88.6" width="12.3" height="14.2" fill="#f3eff7" shape-rendering="crispEdges"/>
<rect x="886.2" y="88.6" width="12.3" height="14.2" fill="#e7e0ef" shape-rendering="crispEdges"/>
<rect x="910.6" y="88.6" width="12.3" height="14.2" fill="#f5a58c" shape-rendering="crispEdges"/>
<rect x="922.8" y="88.6" width="12.3" height="14.2" fill="#f5a58c" shape-rendering="crispEdges"/>
<rect x="935.0" y="88.6" width="12.3" height="14.2" fill="#f5a58c" shape-rendering="crispEdges"/>
<rect x="947.2" y="88.6" width="12.3" height="14.2" fill="#f8bca8" shape-rendering="crispEdges"/>
<rect x="959.5" y="88.6" width="12.3" height="14.2" fill="#e9232b" shape-rendering="crispEdges"/>
<rect x="971.7" y="88.6" width="12.3" height="14.2" fill="#f5a58c" shape-rendering="crispEdges"/>
<rect x="983.9" y="88.6" width="12.3" height="14.2" fill="#f5a58c" shape-rendering="crispEdges"/>
<rect x="996.1" y="88.6" width="12.3" height="14.2" fill="#f28f73" shape-rendering="crispEdges"/>
<rect x="764.1" y="74.4" width="12.3" height="14.2" fill="#c0b1d8" shape-rendering="crispEdges"/>
<rect x="776.3" y="74.4" width="12.3" height="14.2" fill="#9381c0" shape-rendering="crispEdges"/>
<rect x="788.5" y="74.4" width="12.3" height="14.2" fill="#d5cae4" shape-rendering="crispEdges"/>
<rect x="800.7" y="74.4" width="12.3" height="14.2" fill="#a998cb" shape-rendering="crispEdges"/>
<rect x="812.9" y="74.4" width="12.3" height="14.2" fill="#9381c0" shape-rendering="crispEdges"/>
<rect x="825.1" y="74.4" width="12.3" height="14.2" fill="#6862ae" shape-rendering="crispEdges"/>
<rect x="837.4" y="74.4" width="12.3" height="14.2" fill="#c0b1d8" shape-rendering="crispEdges"/>
<rect x="849.6" y="74.4" width="12.3" height="14.2" fill="#9381c0" shape-rendering="crispEdges"/>
<rect x="861.8" y="74.4" width="12.3" height="14.2" fill="#d5cae4" shape-rendering="crispEdges"/>
<rect x="874.0" y="74.4" width="12.3" height="14.2" fill="#f3eff7" shape-rendering="crispEdges"/>
<rect x="886.2" y="74.4" width="12.3" height="14.2" fill="#e7e0ef" shape-rendering="crispEdges"/>
<rect x="910.6" y="74.4" width="12.3" height="14.2" fill="#f5a58c" shape-rendering="crispEdges"/>
<rect x="922.8" y="74.4" width="12.3" height="14.2" fill="#f5a58c" shape-rendering="crispEdges"/>
<rect x="935.0" y="74.4" width="12.3" height="14.2" fill="#f5a58c" shape-rendering="crispEdges"/>
<rect x="947.2" y="74.4" width="12.3" height="14.2" fill="#fbd3c5" shape-rendering="crispEdges"/>
<rect x="959.5" y="74.4" width="12.3" height="14.2" fill="#f28f73" shape-rendering="crispEdges"/>
<rect x="971.7" y="74.4" width="12.3" height="14.2" fill="#e9232b" shape-rendering="crispEdges"/>
<rect x="983.9" y="74.4" width="12.3" height="14.2" fill="#f5a58c" shape-rendering="crispEdges"/>
<rect x="996.1" y="74.4" width="12.3" height="14.2" fill="#f28f73" shape-rendering="crispEdges"/>
<rect x="764.1" y="60.2" width="12.3" height="14.2" fill="#d5cae4" shape-rendering="crispEdges"/>
<rect x="776.3" y="60.2" width="12.3" height="14.2" fill="#9381c0" shape-rendering="crispEdges"/>
<rect x="788.5" y="60.2" width="12.3" height="14.2" fill="#f3eff7" shape-rendering="crispEdges"/>
<rect x="800.7" y="60.2" width="12.3" height="14.2" fill="#c0b1d8" shape-rendering="crispEdges"/>
<rect x="812.9" y="60.2" width="12.3" height="14.2" fill="#9381c0" shape-rendering="crispEdges"/>
<rect x="825.1" y="60.2" width="12.3" height="14.2" fill="#6862ae" shape-rendering="crispEdges"/>
<rect x="849.6" y="60.2" width="12.3" height="14.2" fill="#9381c0" shape-rendering="crispEdges"/>
<rect x="861.8" y="60.2" width="12.3" height="14.2" fill="#d5cae4" shape-rendering="crispEdges"/>
<rect x="874.0" y="60.2" width="12.3" height="14.2" fill="#e7e0ef" shape-rendering="crispEdges"/>
<rect x="886.2" y="60.2" width="12.3" height="14.2" fill="#e7e0ef" shape-rendering="crispEdges"/>
<rect x="910.6" y="60.2" width="12.3" height="14.2" fill="#f5a58c" shape-rendering="crispEdges"/>
<rect x="922.8" y="60.2" width="12.3" height="14.2" fill="#fbd3c5" shape-rendering="crispEdges"/>
<rect x="935.0" y="60.2" width="12.3" height="14.2" fill="#f8bca8" shape-rendering="crispEdges"/>
<rect x="947.2" y="60.2" width="12.3" height="14.2" fill="#fbd3c5" shape-rendering="crispEdges"/>
<rect x="959.5" y="60.2" width="12.3" height="14.2" fill="#f5a58c" shape-rendering="crispEdges"/>
<rect x="971.7" y="60.2" width="12.3" height="14.2" fill="#f5a58c" shape-rendering="crispEdges"/>
<rect x="983.9" y="60.2" width="12.3" height="14.2" fill="#e9232b" shape-rendering="crispEdges"/>
<rect x="996.1" y="60.2" width="12.3" height="14.2" fill="#f5a58c" shape-rendering="crispEdges"/>
<rect x="764.1" y="46.0" width="12.3" height="14.2" fill="#c0b1d8" shape-rendering="crispEdges"/>
<rect x="776.3" y="46.0" width="12.3" height="14.2" fill="#7d6eb6" shape-rendering="crispEdges"/>
<rect x="788.5" y="46.0" width="12.3" height="14.2" fill="#d5cae4" shape-rendering="crispEdges"/>
<rect x="800.7" y="46.0" width="12.3" height="14.2" fill="#9381c0" shape-rendering="crispEdges"/>
<rect x="812.9" y="46.0" width="12.3" height="14.2" fill="#7d6eb6" shape-rendering="crispEdges"/>
<rect x="825.1" y="46.0" width="12.3" height="14.2" fill="#6862ae" shape-rendering="crispEdges"/>
<rect x="837.4" y="46.0" width="12.3" height="14.2" fill="#c0b1d8" shape-rendering="crispEdges"/>
<rect x="849.6" y="46.0" width="12.3" height="14.2" fill="#7d6eb6" shape-rendering="crispEdges"/>
<rect x="861.8" y="46.0" width="12.3" height="14.2" fill="#d5cae4" shape-rendering="crispEdges"/>
<rect x="874.0" y="46.0" width="12.3" height="14.2" fill="#d5cae4" shape-rendering="crispEdges"/>
<rect x="886.2" y="46.0" width="12.3" height="14.2" fill="#d5cae4" shape-rendering="crispEdges"/>
<rect x="898.4" y="46.0" width="12.3" height="14.2" fill="#e7e0ef" shape-rendering="crispEdges"/>
<rect x="910.6" y="46.0" width="12.3" height="14.2" fill="#f5a58c" shape-rendering="crispEdges"/>
<rect x="922.8" y="46.0" width="12.3" height="14.2" fill="#f5a58c" shape-rendering="crispEdges"/>
<rect x="935.0" y="46.0" width="12.3" height="14.2" fill="#f5a58c" shape-rendering="crispEdges"/>
<rect x="947.2" y="46.0" width="12.3" height="14.2" fill="#fbd3c5" shape-rendering="crispEdges"/>
<rect x="959.5" y="46.0" width="12.3" height="14.2" fill="#f28f73" shape-rendering="crispEdges"/>
<rect x="971.7" y="46.0" width="12.3" height="14.2" fill="#f28f73" shape-rendering="crispEdges"/>
<rect x="983.9" y="46.0" width="12.3" height="14.2" fill="#f5a58c" shape-rendering="crispEdges"/>
<rect x="996.1" y="46.0" width="12.3" height="14.2" fill="#e9232b" shape-rendering="crispEdges"/>
<rect x="732.2" y="47.1" width="11.4" height="55.7" fill="#2f5753"/>
<text x="735.3" y="74.4" font-size="7.2" fill="#fff" text-anchor="middle" textLength="17.0" lengthAdjust="spacingAndGlyphs" transform="rotate(90 735.3 74.4)">TE47</text>
<rect x="745.7" y="46.8" width="14.2" height="12.8" fill="#fff" stroke="#2f5753" stroke-width="1.1"/>
<text x="750.6" y="53.3" font-size="7" fill="#666" text-anchor="middle" transform="rotate(90 750.6 53.3)">1</text>
<rect x="745.7" y="61.0" width="14.2" height="12.8" fill="#fff" stroke="#2f5753" stroke-width="1.1"/>
<text x="750.6" y="67.5" font-size="7" fill="#666" text-anchor="middle" transform="rotate(90 750.6 67.5)">2</text>
<rect x="745.7" y="75.2" width="14.2" height="12.8" fill="#fff" stroke="#2f5753" stroke-width="1.1"/>
<text x="750.6" y="81.7" font-size="7" fill="#666" text-anchor="middle" transform="rotate(90 750.6 81.7)">3</text>
<rect x="745.7" y="89.4" width="14.2" height="12.8" fill="#fff" stroke="#2f5753" stroke-width="1.1"/>
<text x="750.6" y="95.9" font-size="7" fill="#666" text-anchor="middle" transform="rotate(90 750.6 95.9)">4</text>
<rect x="732.2" y="102.8" width="11.4" height="56.8" fill="#55c0b8"/>
<text x="735.3" y="131.2" font-size="7.2" fill="#fff" text-anchor="middle" textLength="17.0" lengthAdjust="spacingAndGlyphs" transform="rotate(90 735.3 131.2)">TE12</text>
<rect x="745.7" y="103.6" width="14.2" height="12.8" fill="#fff" stroke="#55c0b8" stroke-width="1.1"/>
<text x="750.6" y="110.1" font-size="7" fill="#666" text-anchor="middle" transform="rotate(90 750.6 110.1)">1</text>
<rect x="745.7" y="117.8" width="14.2" height="12.8" fill="#fff" stroke="#55c0b8" stroke-width="1.1"/>
<text x="750.6" y="124.3" font-size="7" fill="#666" text-anchor="middle" transform="rotate(90 750.6 124.3)">2</text>
<rect x="745.7" y="132.0" width="14.2" height="12.8" fill="#fff" stroke="#55c0b8" stroke-width="1.1"/>
<text x="750.6" y="138.5" font-size="7" fill="#666" text-anchor="middle" transform="rotate(90 750.6 138.5)">3</text>
<rect x="745.7" y="146.2" width="14.2" height="12.8" fill="#fff" stroke="#55c0b8" stroke-width="1.1"/>
<text x="750.6" y="152.7" font-size="7" fill="#666" text-anchor="middle" transform="rotate(90 750.6 152.7)">4</text>
<rect x="732.2" y="159.6" width="11.4" height="56.8" fill="#f28c4c"/>
<text x="735.3" y="188.0" font-size="7.2" fill="#fff" text-anchor="middle" textLength="8.0" lengthAdjust="spacingAndGlyphs" transform="rotate(90 735.3 188.0)">TT</text>
<rect x="745.7" y="160.4" width="14.2" height="12.8" fill="#fff" stroke="#f28c4c" stroke-width="1.1"/>
<text x="750.6" y="166.9" font-size="7" fill="#666" text-anchor="middle" transform="rotate(90 750.6 166.9)">1</text>
<rect x="745.7" y="174.6" width="14.2" height="12.8" fill="#fff" stroke="#f28c4c" stroke-width="1.1"/>
<text x="750.6" y="181.1" font-size="7" fill="#666" text-anchor="middle" transform="rotate(90 750.6 181.1)">2</text>
<rect x="745.7" y="188.8" width="14.2" height="12.8" fill="#fff" stroke="#f28c4c" stroke-width="1.1"/>
<text x="750.6" y="195.3" font-size="7" fill="#666" text-anchor="middle" transform="rotate(90 750.6 195.3)">3</text>
<rect x="745.7" y="203.0" width="14.2" height="12.8" fill="#fff" stroke="#f28c4c" stroke-width="1.1"/>
<text x="750.6" y="209.5" font-size="7" fill="#666" text-anchor="middle" transform="rotate(90 750.6 209.5)">4</text>
<rect x="732.2" y="216.4" width="11.4" height="56.8" fill="#e8424b"/>
<text x="735.3" y="244.8" font-size="7.2" fill="#fff" text-anchor="middle" textLength="24.0" lengthAdjust="spacingAndGlyphs" transform="rotate(90 735.3 244.8)">TWIST1</text>
<rect x="745.7" y="217.2" width="14.2" height="12.8" fill="#fff" stroke="#e8424b" stroke-width="1.1"/>
<text x="750.6" y="223.7" font-size="7" fill="#666" text-anchor="middle" transform="rotate(90 750.6 223.7)">1</text>
<rect x="745.7" y="231.4" width="14.2" height="12.8" fill="#fff" stroke="#e8424b" stroke-width="1.1"/>
<text x="750.6" y="237.9" font-size="7" fill="#666" text-anchor="middle" transform="rotate(90 750.6 237.9)">2</text>
<rect x="745.7" y="245.6" width="14.2" height="12.8" fill="#fff" stroke="#e8424b" stroke-width="1.1"/>
<text x="750.6" y="252.1" font-size="7" fill="#666" text-anchor="middle" transform="rotate(90 750.6 252.1)">3</text>
<rect x="745.7" y="259.8" width="14.2" height="12.8" fill="#fff" stroke="#e8424b" stroke-width="1.1"/>
<text x="750.6" y="266.3" font-size="7" fill="#666" text-anchor="middle" transform="rotate(90 750.6 266.3)">4</text>
<rect x="732.2" y="273.2" width="11.4" height="56.8" fill="#f8d537"/>
<text x="735.3" y="301.6" font-size="7.2" fill="#fdf3b8" text-anchor="middle" textLength="17.0" lengthAdjust="spacingAndGlyphs" transform="rotate(90 735.3 301.6)">pWPI</text>
<rect x="745.7" y="274.0" width="14.2" height="12.8" fill="#fff" stroke="#f8d537" stroke-width="1.1"/>
<text x="750.6" y="280.5" font-size="7" fill="#666" text-anchor="middle" transform="rotate(90 750.6 280.5)">1</text>
<rect x="745.7" y="288.2" width="14.2" height="12.8" fill="#fff" stroke="#f8d537" stroke-width="1.1"/>
<text x="750.6" y="294.7" font-size="7" fill="#666" text-anchor="middle" transform="rotate(90 750.6 294.7)">2</text>
<rect x="745.7" y="302.4" width="14.2" height="12.8" fill="#fff" stroke="#f8d537" stroke-width="1.1"/>
<text x="750.6" y="308.9" font-size="7" fill="#666" text-anchor="middle" transform="rotate(90 750.6 308.9)">3</text>
<rect x="745.7" y="316.6" width="14.2" height="12.8" fill="#fff" stroke="#f8d537" stroke-width="1.1"/>
<text x="750.6" y="323.1" font-size="7" fill="#666" text-anchor="middle" transform="rotate(90 750.6 323.1)">4</text>
<rect x="764.1" y="348.5" width="48.8" height="9.4" fill="#f8d537"/>
<text x="788.5" y="356.2" font-size="7.2" fill="#fdf3b8" text-anchor="middle" textLength="17.0" lengthAdjust="spacingAndGlyphs">pWPI</text>
<rect x="764.9" y="334.2" width="10.8" height="11.6" fill="#fff" stroke="#f8d537" stroke-width="1.1"/>
<text x="770.2" y="342.6" font-size="7" fill="#666" text-anchor="middle">1</text>
<rect x="777.1" y="334.2" width="10.8" height="11.6" fill="#fff" stroke="#f8d537" stroke-width="1.1"/>
<text x="782.4" y="342.6" font-size="7" fill="#666" text-anchor="middle">2</text>
<rect x="789.3" y="334.2" width="10.8" height="11.6" fill="#fff" stroke="#f8d537" stroke-width="1.1"/>
<text x="794.6" y="342.6" font-size="7" fill="#666" text-anchor="middle">3</text>
<rect x="801.5" y="334.2" width="10.8" height="11.6" fill="#fff" stroke="#f8d537" stroke-width="1.1"/>
<text x="806.8" y="342.6" font-size="7" fill="#666" text-anchor="middle">4</text>
<rect x="812.9" y="348.5" width="48.8" height="9.4" fill="#e8424b"/>
<text x="837.4" y="356.2" font-size="7.2" fill="#fff" text-anchor="middle" textLength="24.0" lengthAdjust="spacingAndGlyphs">TWIST1</text>
<rect x="813.7" y="334.2" width="10.8" height="11.6" fill="#fff" stroke="#e8424b" stroke-width="1.1"/>
<text x="819.0" y="342.6" font-size="7" fill="#666" text-anchor="middle">1</text>
<rect x="826.0" y="334.2" width="10.8" height="11.6" fill="#fff" stroke="#e8424b" stroke-width="1.1"/>
<text x="831.3" y="342.6" font-size="7" fill="#666" text-anchor="middle">2</text>
<rect x="838.2" y="334.2" width="10.8" height="11.6" fill="#fff" stroke="#e8424b" stroke-width="1.1"/>
<text x="843.5" y="342.6" font-size="7" fill="#666" text-anchor="middle">3</text>
<rect x="850.4" y="334.2" width="10.8" height="11.6" fill="#fff" stroke="#e8424b" stroke-width="1.1"/>
<text x="855.7" y="342.6" font-size="7" fill="#666" text-anchor="middle">4</text>
<rect x="861.8" y="348.5" width="48.8" height="9.4" fill="#f28c4c"/>
<text x="886.2" y="356.2" font-size="7.2" fill="#fff" text-anchor="middle" textLength="8.0" lengthAdjust="spacingAndGlyphs">TT</text>
<rect x="862.6" y="334.2" width="10.8" height="11.6" fill="#fff" stroke="#f28c4c" stroke-width="1.1"/>
<text x="867.9" y="342.6" font-size="7" fill="#666" text-anchor="middle">1</text>
<rect x="874.8" y="334.2" width="10.8" height="11.6" fill="#fff" stroke="#f28c4c" stroke-width="1.1"/>
<text x="880.1" y="342.6" font-size="7" fill="#666" text-anchor="middle">2</text>
<rect x="887.0" y="334.2" width="10.8" height="11.6" fill="#fff" stroke="#f28c4c" stroke-width="1.1"/>
<text x="892.3" y="342.6" font-size="7" fill="#666" text-anchor="middle">3</text>
<rect x="899.2" y="334.2" width="10.8" height="11.6" fill="#fff" stroke="#f28c4c" stroke-width="1.1"/>
<text x="904.5" y="342.6" font-size="7" fill="#666" text-anchor="middle">4</text>
<rect x="910.6" y="348.5" width="48.8" height="9.4" fill="#55c0b8"/>
<text x="935.0" y="356.2" font-size="7.2" fill="#fff" text-anchor="middle" textLength="17.0" lengthAdjust="spacingAndGlyphs">TE12</text>
<rect x="911.4" y="334.2" width="10.8" height="11.6" fill="#fff" stroke="#55c0b8" stroke-width="1.1"/>
<text x="916.7" y="342.6" font-size="7" fill="#666" text-anchor="middle">1</text>
<rect x="923.6" y="334.2" width="10.8" height="11.6" fill="#fff" stroke="#55c0b8" stroke-width="1.1"/>
<text x="928.9" y="342.6" font-size="7" fill="#666" text-anchor="middle">2</text>
<rect x="935.8" y="334.2" width="10.8" height="11.6" fill="#fff" stroke="#55c0b8" stroke-width="1.1"/>
<text x="941.1" y="342.6" font-size="7" fill="#666" text-anchor="middle">3</text>
<rect x="948.0" y="334.2" width="10.8" height="11.6" fill="#fff" stroke="#55c0b8" stroke-width="1.1"/>
<text x="953.4" y="342.6" font-size="7" fill="#666" text-anchor="middle">4</text>
<rect x="959.5" y="348.5" width="48.8" height="9.4" fill="#2f5753"/>
<text x="983.9" y="356.2" font-size="7.2" fill="#fff" text-anchor="middle" textLength="17.0" lengthAdjust="spacingAndGlyphs">TE47</text>
<rect x="960.3" y="334.2" width="10.8" height="11.6" fill="#fff" stroke="#2f5753" stroke-width="1.1"/>
<text x="965.6" y="342.6" font-size="7" fill="#666" text-anchor="middle">1</text>
<rect x="972.5" y="334.2" width="10.8" height="11.6" fill="#fff" stroke="#2f5753" stroke-width="1.1"/>
<text x="977.8" y="342.6" font-size="7" fill="#666" text-anchor="middle">2</text>
<rect x="984.7" y="334.2" width="10.8" height="11.6" fill="#fff" stroke="#2f5753" stroke-width="1.1"/>
<text x="990.0" y="342.6" font-size="7" fill="#666" text-anchor="middle">3</text>
<rect x="996.9" y="334.2" width="10.8" height="11.6" fill="#fff" stroke="#2f5753" stroke-width="1.1"/>
<text x="1002.2" y="342.6" font-size="7" fill="#666" text-anchor="middle">4</text>
<defs><linearGradient id="cg" x1="0" y1="0" x2="0" y2="1"><stop offset="0" stop-color="#e9232b"/><stop offset="0.27" stop-color="#f5a58c"/><stop offset="0.53" stop-color="#ffffff"/><stop offset="0.79" stop-color="#9f8ec7"/><stop offset="1" stop-color="#5058a7"/></linearGradient></defs>
<rect x="1020.9" y="163.7" width="11.9" height="59.0" fill="url(#cg)"/>
<line x1="1020.9" y1="179.4" x2="1023.2" y2="179.4" stroke="#fff" stroke-width="0.5"/>
<line x1="1030.5" y1="179.4" x2="1032.8" y2="179.4" stroke="#fff" stroke-width="0.5"/>
<line x1="1020.9" y1="210.6" x2="1023.2" y2="210.6" stroke="#fff" stroke-width="0.5"/>
<line x1="1030.5" y1="210.6" x2="1032.8" y2="210.6" stroke="#fff" stroke-width="0.5"/>
<text x="1021.0" y="158.6" font-size="7" fill="#222" textLength="17.5" lengthAdjust="spacingAndGlyphs">value</text>
<text x="1036.6" y="165.8" font-size="6" fill="#222" textLength="17.5" lengthAdjust="spacingAndGlyphs">1.000</text>
<text x="1036.6" y="181.5" font-size="6" fill="#222" textLength="17.5" lengthAdjust="spacingAndGlyphs">0.995</text>
<text x="1036.6" y="197.2" font-size="6" fill="#222" textLength="17.5" lengthAdjust="spacingAndGlyphs">0.990</text>
<text x="1036.6" y="212.7" font-size="6" fill="#222" textLength="17.5" lengthAdjust="spacingAndGlyphs">0.985</text>
</g>
<g id="D">
<text x="-3.1" y="430.7" font-size="35" textLength="25.2" lengthAdjust="spacingAndGlyphs">D</text>
<rect x="20.9" y="441.1" width="321.2" height="35.4" fill="#f28c4f"/>
<text x="89.7" y="465.9" font-size="19.0" fill="#fdeedd" textLength="192.0" lengthAdjust="spacingAndGlyphs">TWIST1-TWIST1 vs pWPI</text>
<text x="143.9" y="490.6" font-size="9.9" fill="#d94a30" textLength="191.0" lengthAdjust="spacingAndGlyphs" stroke="#d94a30" stroke-width="0.12">Genes with pvaladj of 0 with log2FoldChange:</text>
<text x="273.3" y="502.7" font-size="9.9" fill="#d94a30" textLength="61.3" lengthAdjust="spacingAndGlyphs" stroke="#d94a30" stroke-width="0.12">TWIST1 (7.017)</text>
<line x1="59.5" y1="488.0" x2="59.5" y2="751.8" stroke="#f6f6f6" stroke-width="0.5"/>
<line x1="112.3" y1="488.0" x2="112.3" y2="751.8" stroke="#f6f6f6" stroke-width="0.5"/>
<line x1="165.2" y1="488.0" x2="165.2" y2="751.8" stroke="#f6f6f6" stroke-width="0.5"/>
<line x1="218.0" y1="488.0" x2="218.0" y2="751.8" stroke="#f6f6f6" stroke-width="0.5"/>
<line x1="270.9" y1="488.0" x2="270.9" y2="751.8" stroke="#f6f6f6" stroke-width="0.5"/>
<line x1="323.7" y1="488.0" x2="323.7" y2="751.8" stroke="#f6f6f6" stroke-width="0.5"/>
<line x1="52.3" y1="709.9" x2="330.0" y2="709.9" stroke="#f6f6f6" stroke-width="0.5"/>
<line x1="52.3" y1="648.0" x2="330.0" y2="648.0" stroke="#f6f6f6" stroke-width="0.5"/>
<line x1="52.3" y1="586.1" x2="330.0" y2="586.1" stroke="#f6f6f6" stroke-width="0.5"/>
<line x1="52.3" y1="524.2" x2="330.0" y2="524.2" stroke="#f6f6f6" stroke-width="0.5"/>
<line x1="85.9" y1="488.0" x2="85.9" y2="751.8" stroke="#eeeeee" stroke-width="0.75"/>
<text x="85.9" y="761.0" font-size="6.3" fill="#5a5a5a" text-anchor="middle">-10</text>
<line x1="138.8" y1="488.0" x2="138.8" y2="751.8" stroke="#eeeeee" stroke-width="0.75"/>
<text x="138.8" y="761.0" font-size="6.3" fill="#5a5a5a" text-anchor="middle">-5</text>
<line x1="191.6" y1="488.0" x2="191.6" y2="751.8" stroke="#eeeeee" stroke-width="0.75"/>
<text x="191.6" y="761.0" font-size="6.3" fill="#5a5a5a" text-anchor="middle">0</text>
<line x1="244.4" y1="488.0" x2="244.4" y2="751.8" stroke="#eeeeee" stroke-width="0.75"/>
<text x="244.4" y="761.0" font-size="6.3" fill="#5a5a5a" text-anchor="middle">5</text>
<line x1="297.3" y1="488.0" x2="297.3" y2="751.8" stroke="#eeeeee" stroke-width="0.75"/>
<text x="297.3" y="761.0" font-size="6.3" fill="#5a5a5a" text-anchor="middle">10</text>
<line x1="52.3" y1="740.9" x2="330.0" y2="740.9" stroke="#eeeeee" stroke-width="0.75"/>
<text x="48.7" y="743.1" font-size="6.3" fill="#5a5a5a" text-anchor="end">0</text>
<line x1="52.3" y1="679.0" x2="330.0" y2="679.0" stroke="#eeeeee" stroke-width="0.75"/>
<text x="48.7" y="681.2" font-size="6.3" fill="#5a5a5a" text-anchor="end">25</text>
<line x1="52.3" y1="617.1" x2="330.0" y2="617.1" stroke="#eeeeee" stroke-width="0.75"/>
<text x="48.7" y="619.4" font-size="6.3" fill="#5a5a5a" text-anchor="end">50</text>
<line x1="52.3" y1="555.2" x2="330.0" y2="555.2" stroke="#eeeeee" stroke-width="0.75"/>
<text x="48.7" y="557.5" font-size="6.3" fill="#5a5a5a" text-anchor="end">75</text>
<line x1="52.3" y1="493.3" x2="330.0" y2="493.3" stroke="#eeeeee" stroke-width="0.75"/>
<text x="48.7" y="495.5" font-size="6.3" fill="#5a5a5a" text-anchor="end">100</text>
<text x="159.4" y="769.3" font-size="7.0" fill="#2a2a2a" font-weight="bold" textLength="63.7" lengthAdjust="spacingAndGlyphs">Log2 Fold Change</text>
<text x="34.9" y="617.2" font-size="7.0" fill="#333" text-anchor="middle" font-weight="bold" textLength="85.0" lengthAdjust="spacingAndGlyphs" transform="rotate(-90 34.9 617.2)">-Log10 Adjusted P-value</text>
<path d="M189.0 736.8h0M185.4 715.3h0M178.3 720.7h0M181.8 738.3h0M189.1 740.9h0M183.6 730.6h0M183.4 739.9h0M187.1 726.0h0M179.5 732.4h0M187.7 725.8h0M184.1 728.8h0M181.6 709.6h0M183.6 730.0h0M181.3 724.9h0M179.5 734.9h0M176.4 740.7h0M186.0 734.6h0M180.8 737.3h0M180.2 739.5h0M185.6 731.1h0M190.3 738.1h0M176.1 739.3h0M185.8 735.7h0M185.7 736.7h0M177.2 728.0h0M181.2 722.3h0M182.0 705.5h0M179.1 739.3h0M189.8 737.2h0M179.8 728.3h0M183.7 715.8h0M189.0 738.7h0M180.5 732.8h0M176.8 740.6h0M187.3 737.6h0M180.9 730.0h0M184.6 715.1h0M179.5 737.6h0M179.7 734.0h0M186.9 735.0h0M178.2 734.3h0M180.6 733.0h0M180.3 736.1h0M178.0 715.8h0M184.1 739.7h0M179.2 735.6h0M177.5 739.6h0M188.4 732.4h0M178.0 739.7h0M183.8 723.9h0M181.9 705.1h0M187.0 721.7h0M180.1 737.8h0M186.2 739.7h0M177.6 737.0h0M185.1 719.3h0M181.9 732.0h0M184.1 731.5h0M181.5 740.5h0M187.0 731.8h0M187.8 739.5h0M179.5 740.8h0M179.4 740.7h0M180.9 705.8h0M176.9 737.9h0M187.2 736.0h0M177.8 729.0h0M188.0 740.8h0M176.3 739.9h0M181.2 737.0h0M181.3 732.5h0M176.2 737.2h0M178.8 737.4h0M178.6 729.5h0M189.5 738.0h0M184.7 734.1h0M189.0 737.8h0M187.1 732.2h0M187.4 740.8h0M177.7 728.8h0M188.4 736.8h0M185.2 724.5h0M183.0 735.8h0M178.0 740.1h0M176.3 739.4h0M179.7 726.9h0M186.4 726.2h0M182.2 733.3h0M179.5 718.2h0M189.4 736.7h0M180.0 723.0h0M185.0 739.6h0M181.4 730.1h0M180.4 733.8h0M180.5 735.2h0M182.7 738.7h0M182.2 737.5h0M187.5 739.3h0M182.9 734.6h0M187.6 726.8h0M182.9 730.0h0M182.5 737.7h0M179.0 738.8h0M184.6 738.5h0M190.2 739.9h0M181.8 716.8h0M187.5 740.2h0M179.6 740.6h0M184.7 738.4h0M184.7 737.6h0M177.1 739.8h0M184.6 739.3h0M185.2 737.4h0M184.0 716.5h0M183.2 734.7h0M188.4 731.3h0M182.2 734.0h0M176.9 732.9h0M182.0 735.7h0M179.5 740.6h0M176.5 733.2h0M178.1 739.6h0M179.5 740.5h0M178.1 716.4h0M178.3 736.3h0M184.7 707.8h0M182.6 722.2h0M185.0 732.9h0M185.8 727.8h0M181.6 727.6h0M185.8 740.9h0M180.9 725.7h0M181.6 732.7h0M188.9 739.4h0M183.8 737.4h0M184.6 736.9h0M179.2 704.7h0M189.2 740.6h0M187.9 739.1h0M182.2 722.3h0M184.2 734.3h0M180.6 738.0h0M185.5 738.2h0M187.5 739.1h0M176.7 733.6h0M186.8 738.1h0M188.3 740.2h0M185.2 722.1h0M185.5 740.4h0M187.2 740.5h0M181.4 711.0h0M176.7 736.9h0M187.8 728.5h0M184.3 738.0h0M180.3 729.7h0M177.4 737.7h0M175.7 740.1h0M188.1 736.3h0M181.2 704.6h0M177.4 727.8h0M188.8 729.6h0M181.8 738.9h0M187.9 739.8h0M179.2 739.4h0M176.7 738.9h0M182.0 727.3h0M190.3 739.0h0M189.4 738.4h0M183.5 723.5h0M178.0 736.9h0M186.8 736.9h0M180.0 719.6h0M183.9 728.1h0M185.6 724.9h0M179.7 722.3h0M185.9 740.3h0M183.6 714.7h0M179.1 733.7h0M183.1 739.1h0M178.9 739.9h0M182.6 733.9h0M185.9 709.7h0M183.8 737.1h0M177.6 738.2h0M182.1 738.9h0M176.2 715.5h0M188.7 719.7h0M185.5 740.8h0M178.9 727.0h0M179.8 719.9h0M182.2 740.6h0M180.6 737.8h0M177.5 730.1h0M179.4 703.9h0M181.9 727.3h0M182.0 734.0h0M180.7 740.8h0M185.5 737.4h0M180.3 728.8h0M181.4 739.7h0M178.7 731.7h0M182.8 727.7h0M190.0 739.2h0M182.5 737.9h0M177.8 738.4h0M181.1 740.8h0M180.4 720.6h0M184.0 726.3h0M184.6 728.8h0M179.8 735.8h0M189.1 737.4h0M177.7 739.1h0M177.4 723.7h0M176.3 738.3h0M188.5 740.4h0M188.7 739.4h0M177.2 729.5h0M184.6 740.8h0M186.3 737.7h0M183.8 719.9h0M180.8 739.8h0M187.9 737.2h0M183.3 739.1h0M180.6 733.2h0M179.6 729.4h0M190.3 740.1h0M178.4 731.5h0M183.9 735.6h0M183.1 720.9h0M182.2 740.0h0M185.3 723.1h0M177.4 740.2h0M186.7 730.1h0M182.0 726.8h0M188.0 740.0h0M181.1 732.5h0M177.2 738.7h0M177.4 737.7h0M188.4 738.5h0M180.8 726.8h0M177.2 730.3h0M187.6 740.9h0M184.4 740.9h0M179.7 727.6h0M179.6 739.2h0M182.8 719.0h0M180.9 734.4h0M180.4 733.4h0M185.0 734.8h0M180.9 740.4h0M181.4 725.2h0M180.2 738.4h0M182.0 716.8h0M185.5 740.6h0M184.1 740.6h0M176.9 736.4h0M187.3 734.8h0M188.2 739.4h0M190.1 738.1h0M177.8 734.3h0M175.9 738.8h0M187.0 739.6h0M186.5 739.0h0M187.5 739.3h0M181.5 735.3h0M182.1 711.1h0M178.3 734.6h0M187.3 739.2h0M177.5 736.7h0M183.0 725.5h0M178.2 717.2h0M178.6 738.1h0M177.1 739.3h0M182.7 729.2h0M181.2 730.6h0M181.4 718.3h0M187.6 738.6h0M182.3 722.7h0M176.8 738.7h0M177.0 734.7h0M189.3 729.7h0M180.3 726.6h0M185.4 736.0h0M188.4 739.7h0M188.2 737.1h0M178.8 739.3h0M176.3 739.5h0M182.2 724.9h0M184.7 737.4h0M181.4 702.3h0M178.2 736.4h0M178.9 714.1h0M189.4 738.9h0M187.2 737.9h0M177.6 735.2h0M182.9 734.0h0M180.7 737.8h0M178.8 726.4h0M180.9 734.2h0M179.4 730.4h0M182.5 740.7h0M186.4 730.1h0M187.5 736.2h0M175.8 738.9h0M190.2 739.0h0M180.1 731.2h0M177.5 740.3h0M186.8 735.4h0M189.3 734.6h0M184.5 738.8h0M185.4 735.7h0M182.8 722.1h0M183.8 731.4h0M176.6 735.8h0M187.9 728.9h0M176.5 733.2h0M189.7 738.7h0M176.6 737.9h0M185.1 732.7h0M179.6 735.0h0M190.1 735.8h0M183.9 739.8h0M180.5 738.8h0M181.2 739.7h0M178.6 737.7h0M188.1 739.1h0M184.0 729.3h0M181.5 740.8h0M189.9 738.0h0M178.1 736.0h0M184.4 740.9h0M186.0 726.2h0M186.4 728.4h0M180.4 724.5h0M189.6 738.4h0M186.2 729.7h0M185.8 737.6h0M186.5 738.2h0M179.7 737.4h0M181.6 735.4h0M177.1 735.9h0M180.2 740.1h0M186.1 738.8h0M184.6 721.2h0M188.7 740.4h0M186.9 739.8h0M181.6 740.7h0M179.7 739.9h0M186.1 739.1h0M185.2 737.2h0M178.6 735.4h0M176.3 736.7h0M189.3 740.5h0M189.0 734.5h0M179.1 729.3h0M182.7 728.0h0M184.2 740.8h0M181.2 740.5h0M179.2 735.3h0M189.1 736.2h0M176.3 740.7h0M176.4 740.5h0M184.3 738.7h0M183.4 737.1h0M185.9 730.9h0M181.7 736.0h0M187.5 740.3h0M182.3 731.3h0M177.1 736.7h0M183.0 740.0h0M178.3 740.5h0M187.8 740.0h0M177.4 733.5h0M188.7 740.6h0M187.2 737.7h0M179.7 732.6h0M186.0 740.0h0M188.6 738.9h0M188.9 736.6h0M178.8 740.4h0M190.2 740.3h0M189.4 736.7h0M176.5 740.4h0M178.9 739.4h0M185.0 740.4h0M187.2 733.7h0M177.6 733.3h0M178.7 731.1h0M180.6 740.3h0M182.7 740.3h0M182.6 735.9h0M176.1 738.9h0M182.8 739.6h0M189.1 738.8h0M188.7 731.8h0M181.7 740.7h0M179.6 736.8h0M181.0 733.1h0M179.3 729.7h0M185.8 735.2h0M184.9 738.8h0M186.3 735.4h0M184.1 723.6h0M186.0 731.9h0M178.1 734.5h0M187.2 724.4h0M187.3 739.0h0M179.9 736.8h0M184.6 740.4h0M185.0 731.6h0M176.1 738.6h0M177.3 736.0h0M187.3 740.5h0M187.6 732.1h0M182.3 719.7h0M182.0 738.3h0M184.3 720.6h0M181.6 735.8h0M180.3 735.1h0M178.3 726.5h0M185.6 719.6h0M180.9 736.6h0M187.7 716.1h0M189.4 738.7h0M189.6 739.1h0M188.5 737.1h0M178.9 737.9h0M183.6 714.0h0M182.1 713.5h0M182.8 718.1h0M186.9 732.4h0M189.8 739.5h0M187.5 736.0h0M177.8 740.6h0M185.4 739.3h0M184.2 738.9h0M184.7 709.4h0M179.4 733.2h0M179.6 719.9h0M184.5 734.0h0M182.7 732.8h0M183.5 718.7h0M181.5 726.5h0M181.3 728.3h0M181.9 739.1h0M177.1 731.2h0M176.5 734.6h0M189.6 738.7h0M184.8 739.3h0M189.8 739.0h0M185.0 740.5h0M178.5 732.2h0M180.4 736.7h0M181.9 733.0h0M188.1 726.2h0M178.5 740.9h0M181.1 730.1h0M186.0 739.0h0M178.7 728.7h0M189.9 740.2h0M186.2 718.0h0M178.6 727.8h0M189.3 734.3h0M188.5 739.9h0M182.9 735.5h0M180.0 740.0h0M181.6 734.4h0M189.6 735.6h0M184.3 706.2h0M180.0 738.9h0M184.9 731.8h0M187.4 736.5h0M190.5 740.7h0M186.4 737.5h0M176.8 740.8h0M189.8 740.2h0M182.3 740.2h0M177.1 739.8h0M180.1 739.6h0M185.7 728.9h0M180.6 728.6h0M188.3 735.1h0M182.3 721.5h0M186.5 739.3h0M177.6 738.6h0M177.7 739.9h0M179.0 726.1h0M184.9 739.2h0M178.7 737.2h0M176.0 733.3h0M184.9 738.0h0M181.8 717.7h0M188.1 740.5h0M188.7 737.1h0M179.9 740.5h0M189.6 739.7h0M181.4 734.2h0M188.8 739.5h0M180.6 739.4h0M179.4 740.3h0M176.6 739.7h0M184.8 740.7h0M184.2 730.7h0M184.0 729.0h0M180.1 739.5h0M178.7 732.2h0M188.7 739.2h0M185.5 736.8h0M189.2 734.6h0M186.8 737.3h0M179.3 724.4h0M176.7 736.5h0M176.0 734.0h0M189.4 739.8h0M184.1 731.6h0M177.6 736.7h0M183.0 739.0h0M184.6 727.7h0M178.7 724.9h0M177.7 740.6h0M188.0 735.1h0M182.6 733.2h0M187.6 729.9h0M187.2 731.1h0M181.9 720.4h0M186.5 736.5h0M178.3 721.7h0M184.8 734.1h0M186.8 725.7h0M181.2 740.1h0M185.6 724.7h0M189.2 736.9h0M175.8 739.4h0M187.7 739.8h0M188.5 739.6h0M183.2 736.4h0M189.7 731.9h0M178.6 728.6h0M189.4 740.3h0M189.4 733.5h0M176.2 734.7h0M182.0 718.2h0M176.8 733.4h0M177.2 736.2h0M179.3 722.7h0M189.7 735.8h0M180.9 736.2h0M188.6 728.2h0M190.3 740.3h0M178.0 734.9h0M185.8 737.1h0M178.7 702.9h0M182.1 726.5h0M178.9 739.5h0M180.9 736.4h0M176.1 736.5h0M181.8 701.6h0M177.9 738.8h0M178.3 735.9h0M181.8 738.1h0M182.6 729.2h0M183.8 732.9h0M181.0 740.6h0M187.6 740.6h0M183.6 732.3h0M180.7 731.7h0M184.5 715.2h0M187.0 736.1h0M188.9 740.5h0M178.4 725.8h0M177.4 727.1h0M178.2 740.3h0M179.7 724.0h0M181.1 725.9h0M189.6 740.4h0M177.5 738.6h0M183.5 739.4h0M180.3 738.8h0M188.7 739.8h0M178.8 709.7h0M187.8 732.8h0M176.3 735.7h0M179.9 735.7h0M182.4 732.8h0M180.4 724.3h0M186.9 737.9h0M182.7 729.2h0M189.2 739.6h0M186.3 738.5h0M186.0 736.1h0M187.6 734.3h0M184.1 734.2h0M189.2 735.9h0M190.0 739.2h0M184.7 723.9h0M175.9 731.5h0M179.6 734.8h0M182.6 708.6h0M186.7 727.4h0M188.0 730.6h0M183.2 718.1h0M180.6 730.5h0M178.3 739.1h0M183.4 734.1h0M177.9 740.4h0M178.5 735.5h0M177.9 736.8h0M184.7 725.3h0M183.2 731.1h0M188.2 740.7h0M181.6 732.9h0M189.8 740.0h0M183.5 738.5h0M187.6 733.3h0M183.5 740.6h0M187.6 737.9h0M189.6 730.1h0M183.4 722.2h0M184.2 740.6h0M182.1 728.8h0M188.7 740.6h0M183.1 738.4h0M185.8 735.7h0M189.2 739.5h0M184.2 734.7h0M180.6 737.1h0M185.5 731.7h0M179.7 730.7h0M178.3 709.4h0M190.1 737.6h0M186.8 733.3h0M185.6 728.1h0M181.6 736.2h0M183.3 740.4h0M182.1 739.9h0M188.8 732.9h0M185.7 731.8h0M187.4 730.9h0M179.5 738.8h0M180.0 725.7h0M185.5 732.5h0M177.6 740.0h0M188.5 740.1h0M189.4 730.7h0M184.8 737.6h0M180.5 735.4h0M176.5 740.5h0M182.7 732.4h0M188.5 740.8h0M181.5 736.1h0M189.8 735.1h0M178.3 728.8h0M185.6 738.7h0M188.8 737.8h0M187.9 734.6h0M178.2 733.6h0M177.1 733.7h0M187.5 737.0h0M175.8 737.9h0M177.8 740.4h0M185.6 739.7h0M189.3 734.4h0M188.0 737.2h0M183.5 728.3h0M186.8 730.0h0M187.1 729.9h0M186.4 739.3h0M177.5 734.2h0M189.0 728.9h0M176.9 739.4h0M183.7 737.0h0M179.6 738.4h0M182.9 738.9h0M176.5 731.2h0M187.8 739.6h0M186.5 737.3h0M182.8 734.6h0M182.9 738.1h0M185.2 733.5h0M185.8 737.0h0M189.0 738.6h0M182.9 735.5h0M178.1 731.2h0M177.7 738.0h0M183.6 725.5h0M176.0 740.4h0M176.2 737.1h0M185.5 736.1h0M188.6 738.5h0M177.9 720.6h0M176.6 739.9h0M179.8 702.3h0M176.3 738.7h0M183.4 738.9h0M182.7 738.5h0M189.1 736.7h0M184.9 737.9h0M176.8 735.3h0M189.0 740.7h0M188.4 739.9h0M189.0 727.9h0M183.1 738.8h0M181.0 722.3h0M182.2 730.4h0M177.5 736.1h0M180.3 735.5h0M180.3 713.8h0M181.6 740.1h0M182.3 723.5h0M189.2 737.9h0M188.8 737.5h0M180.4 722.3h0M187.2 737.4h0M183.5 723.5h0M180.5 725.0h0M181.3 728.7h0M186.7 737.4h0M186.5 739.3h0M188.4 740.6h0M180.7 740.0h0M179.9 740.6h0M188.2 735.0h0M185.8 729.3h0M188.2 738.6h0M181.3 735.9h0M184.4 712.0h0M177.4 718.7h0M186.4 737.5h0M181.0 739.1h0M181.0 735.5h0M176.6 739.0h0M179.8 737.9h0M176.7 740.3h0M181.5 730.6h0M190.4 739.6h0M184.6 721.2h0M179.5 736.0h0M183.7 708.8h0M179.8 705.8h0M187.9 729.4h0M180.4 720.6h0M184.6 736.0h0M176.5 739.2h0M189.1 736.0h0M184.5 728.0h0M179.1 737.1h0M184.5 737.0h0M183.7 740.4h0M185.5 739.2h0M188.9 737.9h0M185.8 740.5h0M177.4 727.1h0M179.0 729.4h0M185.8 737.8h0M180.5 734.0h0M178.6 727.9h0M178.7 738.1h0M189.6 739.1h0M187.2 728.1h0M176.4 735.6h0M184.9 717.3h0M178.9 732.1h0M181.0 734.0h0M177.6 733.9h0M189.3 740.2h0M176.7 733.5h0M177.6 739.9h0M186.6 734.8h0M179.8 730.7h0M190.0 735.6h0M177.7 740.6h0M184.2 735.8h0M179.4 734.3h0M178.8 739.7h0M189.4 731.7h0M177.5 740.1h0M188.8 737.8h0M187.5 731.0h0M183.6 737.6h0M186.5 736.0h0M181.0 740.8h0M187.0 730.7h0M181.2 735.6h0M179.3 740.1h0M176.3 740.6h0M184.2 732.9h0M186.3 740.8h0M181.9 736.9h0M180.6 730.5h0M176.8 732.0h0M181.0 714.8h0M183.8 736.3h0M186.0 738.3h0M179.8 739.9h0M181.1 739.2h0M188.5 728.9h0M184.8 718.2h0M187.2 729.1h0M182.9 732.7h0M184.4 730.9h0M188.0 737.5h0M181.8 719.0h0M180.6 736.0h0M185.2 736.5h0M177.9 720.0h0M188.7 736.8h0M189.5 738.3h0M180.1 739.9h0M181.7 727.4h0M179.2 728.6h0M176.7 734.9h0M182.0 717.7h0M178.5 740.8h0M180.4 722.9h0M182.7 735.5h0M183.1 739.9h0M175.9 738.6h0M184.7 728.6h0M182.9 713.2h0M182.8 725.4h0M181.0 740.0h0M189.3 737.0h0M180.3 721.2h0M189.8 738.8h0M184.8 738.7h0M183.6 732.6h0M180.9 707.1h0M181.2 717.7h0M181.2 727.8h0M189.6 734.0h0M185.5 737.0h0M179.5 733.6h0M184.3 740.4h0M178.3 736.8h0M182.0 728.9h0M181.7 729.4h0M180.3 731.2h0M176.0 739.6h0M190.4 740.1h0M188.8 740.7h0M188.4 729.9h0M187.5 740.7h0M189.3 729.8h0M175.9 740.7h0M188.1 738.2h0M183.4 738.7h0M177.5 738.9h0M183.5 740.8h0M185.4 718.0h0M184.5 712.2h0M184.2 738.0h0M186.0 740.6h0M183.2 732.0h0M184.2 735.6h0M188.9 734.9h0M177.6 738.7h0M176.2 737.8h0M182.2 740.5h0M189.1 739.8h0M177.1 740.6h0M184.9 735.3h0M184.7 737.9h0M186.3 733.9h0M176.8 736.6h0M180.1 733.4h0M185.3 728.0h0M184.5 729.5h0M182.5 704.4h0M184.8 738.8h0M180.2 726.2h0M176.5 736.6h0M189.8 739.8h0M177.9 734.4h0M178.0 739.6h0M187.2 739.4h0M176.1 739.6h0M177.6 738.8h0M179.5 728.0h0M188.1 729.3h0M183.9 740.9h0M179.1 729.6h0M181.1 708.6h0M189.2 735.1h0M178.7 714.8h0M183.6 722.7h0M187.2 740.2h0M185.4 740.3h0M188.6 735.6h0M184.6 729.3h0M190.2 740.1h0M175.8 738.0h0M188.3 738.4h0M185.5 739.9h0M185.7 734.5h0M183.3 732.1h0M184.9 729.7h0M177.3 733.5h0M187.6 738.8h0M175.8 729.7h0M183.6 719.7h0M176.0 731.9h0M184.9 728.8h0M188.9 735.8h0M178.1 735.9h0M187.6 732.9h0M179.4 734.7h0M177.5 739.4h0M187.1 737.1h0M185.5 735.1h0M181.2 714.8h0M177.6 735.0h0M177.7 725.7h0M183.1 735.9h0M182.1 739.0h0M178.7 740.9h0M188.2 739.8h0M176.7 736.1h0M177.8 740.9h0M186.4 730.0h0M180.9 730.9h0M179.6 737.0h0M180.9 738.0h0M188.9 733.8h0M189.2 735.0h0M187.2 740.7h0M188.2 731.0h0M183.1 735.6h0M179.6 739.7h0M181.0 713.2h0M177.1 733.8h0M183.0 733.3h0M183.8 738.6h0M188.6 740.1h0M176.4 739.5h0M180.5 739.4h0M176.0 739.7h0M176.7 731.9h0M188.6 732.3h0M180.6 711.5h0M182.7 726.5h0M179.2 733.4h0M189.5 736.7h0M180.7 736.6h0M181.2 732.7h0M183.5 712.0h0M188.5 738.6h0M180.1 728.4h0M189.7 739.2h0M185.5 740.5h0M189.8 736.3h0M185.8 737.4h0M186.3 731.5h0M180.4 710.7h0M180.4 738.5h0M179.7 727.6h0M183.4 718.8h0M179.2 733.4h0M180.7 738.9h0M181.7 717.3h0M179.0 738.3h0M176.2 736.1h0M183.3 738.7h0M176.3 738.1h0M180.7 722.2h0M184.8 740.0h0M183.4 738.1h0M180.6 731.1h0M185.6 736.1h0M176.9 736.3h0M184.8 739.8h0M181.0 732.5h0M177.8 738.7h0M177.8 710.2h0M180.5 738.9h0M179.9 735.7h0M179.3 736.8h0M180.9 712.9h0M183.4 725.5h0M177.2 739.2h0M188.1 740.6h0M188.1 733.7h0M185.1 726.9h0M185.9 723.7h0M176.1 737.0h0M182.7 740.3h0M177.4 738.6h0M181.6 719.8h0M186.8 732.4h0M177.6 740.2h0M177.4 732.1h0M188.4 736.6h0M179.0 732.7h0M181.8 732.7h0M185.9 712.0h0M184.7 726.4h0M179.4 727.9h0M187.5 737.3h0M181.5 738.8h0M182.5 737.9h0M182.7 740.0h0M187.8 740.1h0M178.3 740.5h0M182.5 739.5h0M180.3 740.5h0M181.2 740.4h0M185.6 738.1h0M179.6 739.9h0M184.3 733.1h0M176.9 737.6h0M183.7 740.5h0M186.8 728.5h0M182.6 717.6h0M184.4 735.4h0M176.5 739.9h0M186.0 740.8h0M177.3 732.8h0M189.8 736.6h0M188.4 739.2h0M184.7 715.5h0M179.4 734.0h0M181.0 721.5h0M184.1 736.2h0M183.4 721.4h0M177.8 717.1h0M187.0 736.6h0M178.7 733.1h0M184.5 731.7h0M180.2 737.7h0M178.4 740.3h0M184.0 736.7h0M186.6 725.1h0M186.9 739.4h0M186.6 735.8h0M188.8 736.4h0M183.4 724.0h0M181.0 739.5h0M184.7 738.8h0M176.4 740.0h0M176.6 740.7h0M179.0 739.1h0M178.7 736.3h0M185.8 739.5h0M179.3 738.7h0M188.8 729.4h0M190.0 737.8h0M187.1 710.5h0M184.7 721.3h0M179.6 734.2h0M189.6 735.3h0M184.6 735.1h0M181.6 738.1h0M178.0 740.5h0M182.2 739.6h0M186.8 739.8h0M189.1 739.4h0M182.7 733.5h0M178.5 735.8h0M178.2 738.7h0M181.1 732.7h0M187.6 736.3h0M188.9 734.5h0M189.6 738.1h0M186.5 740.9h0M182.4 735.2h0M188.2 738.6h0M181.0 729.0h0M185.2 729.7h0M178.7 732.3h0M181.5 710.9h0M179.2 740.1h0M186.4 735.0h0M182.1 739.8h0M177.3 731.4h0M190.3 740.5h0M176.7 738.3h0M181.7 737.4h0M175.8 738.1h0M186.3 740.3h0M182.9 731.6h0M180.2 733.9h0M181.4 731.2h0M181.2 737.7h0M177.7 740.0h0M187.1 726.1h0M179.8 736.2h0M183.9 739.8h0M177.0 732.8h0M176.5 737.1h0M183.3 726.6h0M184.9 733.8h0M177.1 729.8h0M176.6 739.3h0M179.0 735.9h0M177.1 739.3h0M176.5 738.0h0M183.1 733.7h0M184.5 727.3h0M188.5 726.1h0M183.6 732.1h0M186.9 734.7h0M179.6 733.2h0M181.3 736.1h0M176.7 737.7h0M180.2 734.5h0M186.6 737.4h0M184.1 723.4h0M182.7 730.3h0M182.3 734.4h0M176.6 740.8h0M180.9 733.3h0M184.7 723.7h0M185.7 727.7h0M181.0 712.2h0M188.6 732.5h0M183.5 735.5h0M177.3 740.7h0M176.9 739.2h0M181.6 724.6h0M182.3 736.5h0M185.5 738.4h0M181.5 732.4h0M183.3 731.0h0M180.2 717.4h0M176.4 739.7h0M179.2 734.9h0M188.4 739.0h0M187.5 734.6h0M180.3 738.0h0M176.1 734.6h0M181.5 734.7h0M178.1 737.1h0M185.7 728.6h0M185.3 715.3h0M176.0 740.3h0M177.5 739.3h0M183.9 740.6h0M178.5 740.8h0M181.0 739.3h0M178.8 731.4h0M181.7 737.6h0M180.2 733.0h0M176.6 740.5h0M183.9 735.9h0M179.6 737.3h0M176.3 739.0h0M188.6 724.5h0M186.3 732.2h0M184.9 734.3h0M182.0 740.3h0M183.6 737.2h0M176.5 725.0h0M186.7 726.7h0M184.2 710.8h0M188.8 732.7h0M187.4 733.3h0M181.7 738.4h0M189.6 739.3h0M176.6 738.0h0M179.1 733.2h0M188.8 734.8h0M178.8 737.0h0M188.3 735.1h0M182.5 732.3h0M186.5 727.3h0M186.3 716.4h0M182.7 740.7h0M177.5 740.4h0M189.2 739.9h0M187.4 740.0h0M182.3 716.4h0M176.4 737.9h0M184.9 736.4h0M177.6 737.7h0M182.3 736.2h0M182.7 716.2h0M179.1 734.3h0M187.1 732.5h0M182.7 739.5h0M189.7 736.4h0M182.6 735.1h0M175.8 739.5h0M189.3 738.3h0M189.0 740.0h0M181.1 715.7h0M176.7 729.8h0M181.7 725.5h0M176.3 732.7h0M185.8 740.5h0M175.9 740.4h0M187.2 737.9h0M179.1 739.7h0M184.0 712.3h0M178.1 735.1h0M189.8 738.1h0M185.4 732.7h0M176.9 740.6h0M178.9 729.7h0M182.8 729.1h0M184.9 740.1h0M176.6 738.9h0M187.3 735.0h0M187.1 732.0h0M189.1 733.7h0M180.6 740.7h0M177.0 738.7h0M188.5 739.4h0M179.2 738.7h0M179.1 736.2h0M187.1 734.8h0M182.7 738.0h0M181.7 730.0h0M189.6 739.6h0M176.5 738.8h0M188.2 736.2h0M188.2 739.6h0M179.4 710.8h0M182.7 731.3h0M178.8 734.4h0M180.9 738.8h0M188.7 735.5h0M183.3 729.5h0M176.0 736.5h0M184.9 722.8h0M186.9 727.4h0M177.4 739.4h0M188.7 733.4h0M184.4 739.1h0M175.8 722.8h0M177.7 728.6h0M187.4 724.3h0M188.2 727.9h0M183.4 739.8h0M180.3 736.6h0M178.5 737.8h0M187.3 737.0h0M184.0 736.3h0M182.6 715.0h0M186.0 740.7h0M179.6 710.3h0M182.3 732.9h0M183.8 728.1h0M179.1 739.5h0M184.8 719.5h0M181.1 725.4h0M178.7 726.7h0M185.4 737.9h0M190.1 740.8h0M190.5 740.3h0M178.7 730.0h0M178.3 729.7h0M179.3 711.8h0M190.2 740.8h0M186.7 740.4h0M176.5 733.8h0M181.8 728.3h0M183.7 731.9h0M176.1 726.4h0M176.2 738.5h0M186.6 737.3h0M179.9 740.3h0M178.4 739.6h0M177.9 734.5h0M177.0 740.7h0M178.9 715.7h0M188.7 730.4h0M185.5 731.3h0M187.5 739.7h0M180.9 734.9h0M182.4 738.8h0M176.1 728.8h0M186.7 735.3h0M188.0 732.1h0M188.2 717.9h0M187.4 738.7h0M177.2 731.3h0M181.3 737.5h0M186.6 735.9h0M181.9 737.0h0M180.2 715.4h0M185.6 740.6h0M189.7 734.3h0M180.1 737.6h0M181.6 730.6h0M188.6 732.1h0M182.5 725.7h0M188.4 740.6h0M184.3 739.4h0M179.6 738.1h0M181.0 724.0h0M184.4 718.9h0M179.1 736.7h0M186.5 736.3h0M180.7 735.6h0M186.0 737.7h0M181.1 737.3h0M180.9 710.8h0M181.6 738.5h0M178.0 737.8h0M178.3 725.0h0M176.0 739.2h0M192.8 739.9h0M195.9 735.6h0M198.2 723.8h0M196.0 717.6h0M198.0 739.8h0M205.6 733.1h0M199.9 740.5h0M206.8 736.4h0M198.6 720.6h0M193.0 737.2h0M204.2 740.8h0M194.8 737.2h0M205.4 736.5h0M202.3 711.7h0M197.9 732.6h0M202.8 737.6h0M203.5 737.4h0M207.0 736.6h0M200.7 730.0h0M201.7 733.1h0M198.8 731.3h0M196.2 733.9h0M208.6 739.2h0M198.0 736.3h0M199.6 730.9h0M195.5 728.2h0M197.0 734.2h0M199.5 722.6h0M206.7 739.3h0M206.8 740.7h0M206.2 739.8h0M201.3 740.8h0M206.6 736.9h0M193.3 738.9h0M201.9 738.6h0M199.9 731.1h0M198.9 738.7h0M194.1 737.2h0M209.0 739.9h0M208.3 735.8h0M206.9 737.3h0M193.7 740.3h0M206.0 724.7h0M199.2 732.8h0M193.1 739.8h0M201.3 733.6h0M194.6 738.0h0M204.1 737.4h0M202.7 734.7h0M193.1 737.0h0M196.8 737.6h0M203.7 731.5h0M204.3 733.6h0M203.1 738.2h0M194.5 738.4h0M204.9 740.9h0M209.0 735.0h0M198.7 737.6h0M195.6 737.9h0M206.3 733.5h0M201.5 739.5h0M193.3 738.6h0M195.8 733.9h0M195.1 739.5h0M205.7 731.8h0M205.1 735.9h0M207.1 737.5h0M195.7 736.1h0M200.7 740.2h0M203.2 723.0h0M204.5 738.8h0M207.0 739.1h0M199.1 726.4h0M193.5 735.4h0M200.8 731.2h0M203.7 731.7h0M195.1 736.7h0M201.8 731.9h0M198.1 726.5h0M205.9 727.8h0M202.7 736.3h0M202.1 739.5h0M192.9 740.8h0M194.0 740.1h0M200.4 739.6h0M202.2 723.4h0M199.5 727.6h0M196.4 735.9h0M194.5 740.2h0M195.3 733.8h0M202.1 740.0h0M201.5 738.8h0M199.3 733.5h0M204.3 724.7h0M205.6 724.3h0M206.9 740.3h0M202.0 739.0h0M204.7 738.2h0M207.2 734.9h0M201.4 728.6h0M205.5 729.3h0M198.1 736.1h0M196.2 738.6h0M207.2 724.5h0M205.3 733.8h0M201.1 729.6h0M205.0 735.2h0M206.1 739.4h0M202.1 734.0h0M205.6 736.5h0M193.3 739.8h0M208.0 738.4h0M207.0 734.2h0M203.8 739.8h0M207.0 740.4h0M201.2 725.2h0M201.2 736.4h0M193.8 729.3h0M193.0 738.9h0M200.3 716.1h0M199.9 720.5h0M208.3 734.7h0M207.5 713.4h0M197.4 730.9h0M200.6 731.6h0M197.8 740.1h0M203.2 729.8h0M204.0 732.9h0M194.2 738.7h0M196.9 740.6h0M196.1 740.5h0M201.2 734.7h0M198.6 740.5h0M201.4 714.7h0M199.7 702.9h0M195.9 740.2h0M198.4 732.2h0M193.6 736.8h0M201.2 739.2h0M196.2 739.7h0M203.6 725.0h0M205.7 739.1h0M195.1 734.3h0M198.5 734.1h0M204.1 736.7h0M196.7 736.9h0M207.8 738.2h0M197.2 739.8h0M204.0 716.2h0M201.8 731.8h0M207.7 740.8h0M205.6 740.4h0M205.1 737.3h0M194.4 727.8h0M196.6 734.1h0M208.6 740.7h0M195.3 734.7h0M205.6 732.7h0M208.9 740.8h0M196.9 718.9h0M208.8 740.4h0M206.3 730.6h0M193.0 737.4h0M194.1 737.8h0M194.5 733.1h0M196.7 733.1h0M193.2 739.6h0M196.6 723.6h0M206.4 739.5h0M207.3 723.5h0M203.5 738.5h0M200.0 739.5h0M204.0 733.1h0M205.0 722.8h0M202.8 701.0h0M193.9 738.7h0M193.5 732.4h0M196.2 731.8h0M197.7 725.8h0M208.0 737.6h0M204.2 733.0h0M203.1 737.1h0M201.5 740.8h0M205.8 727.2h0M201.5 740.0h0M209.0 740.6h0M207.6 740.2h0M198.0 719.4h0M203.4 733.9h0M202.8 739.3h0M208.7 739.7h0M204.5 737.7h0M208.1 740.4h0M200.2 740.2h0M204.4 734.6h0M193.5 740.1h0M199.4 730.8h0M199.5 723.1h0M207.7 729.7h0M199.4 728.7h0M205.4 737.2h0M195.3 736.7h0M200.4 738.0h0M200.4 726.7h0M196.8 736.5h0M198.2 736.5h0M193.9 727.9h0M203.0 735.5h0M208.6 735.2h0M197.7 734.8h0M199.1 719.2h0M195.5 740.6h0M207.9 734.3h0M208.4 734.3h0M196.1 740.0h0M207.5 733.8h0M203.7 723.1h0M200.5 734.0h0M205.6 739.4h0M204.8 721.2h0M205.1 740.6h0M197.4 727.0h0M195.7 736.2h0M206.9 738.1h0M195.7 730.2h0M205.4 710.7h0M200.3 730.6h0M203.7 739.4h0M201.2 736.5h0M208.3 738.5h0M205.7 734.6h0M207.4 730.4h0M193.2 737.4h0M203.5 729.6h0M195.0 729.7h0M197.3 739.1h0M208.0 738.8h0M204.6 740.2h0M205.1 738.9h0M199.7 736.5h0M207.4 732.5h0M203.2 731.3h0M204.8 736.4h0M194.9 737.5h0M193.2 737.8h0M206.3 739.1h0M201.7 714.1h0M204.6 740.0h0M202.1 721.7h0M197.8 740.5h0M195.7 735.3h0M207.0 736.5h0M197.1 726.0h0M192.9 738.1h0M199.0 740.5h0M201.6 739.4h0M205.4 731.8h0M195.5 736.2h0M201.4 736.3h0M197.7 740.6h0M194.2 739.0h0M205.5 735.6h0M200.4 728.6h0M205.2 734.3h0M199.5 726.2h0M209.0 739.2h0M197.3 733.9h0M196.3 738.0h0M205.8 726.6h0M202.6 726.7h0M196.1 738.7h0M200.7 726.5h0M202.6 736.4h0M202.4 733.3h0M193.1 737.3h0M208.2 737.2h0M205.0 715.0h0M209.0 737.2h0M202.9 736.4h0M196.6 740.7h0M199.7 723.8h0M206.9 735.4h0M204.3 736.7h0M199.1 724.6h0M205.9 735.7h0M202.9 738.7h0M200.0 739.8h0M196.1 740.9h0M198.0 726.5h0M200.3 736.3h0M204.5 723.1h0M202.6 731.2h0M197.7 732.5h0M208.8 737.2h0M195.5 740.9h0M200.7 712.7h0M194.2 737.0h0M200.8 724.2h0M201.6 740.3h0M202.3 729.5h0M203.5 715.1h0M196.3 720.4h0M205.1 725.5h0M201.8 704.6h0M206.5 735.8h0M207.7 735.3h0M207.7 737.5h0M207.3 739.4h0M202.4 735.9h0M201.4 740.6h0M197.8 732.1h0M200.2 740.2h0M197.3 740.8h0M202.2 722.0h0M208.2 738.9h0M203.0 737.2h0M193.0 738.7h0M199.4 740.3h0M206.2 738.2h0M198.3 717.9h0M205.0 738.9h0M195.3 734.0h0M194.6 738.3h0M198.3 722.8h0M199.2 727.7h0M205.9 730.6h0M195.1 735.2h0M205.9 712.5h0M203.9 731.8h0M193.7 735.7h0M197.1 738.1h0M201.6 740.2h0M196.2 735.2h0M200.9 731.3h0M204.4 740.3h0M204.1 727.3h0M199.6 728.2h0M205.1 730.4h0M198.0 738.8h0M196.4 740.8h0M199.3 725.1h0M194.9 727.8h0M207.1 739.4h0M195.3 735.6h0M200.8 735.9h0M198.6 731.4h0M200.8 727.8h0M193.2 740.5h0M206.8 729.5h0M201.4 710.7h0M199.3 734.3h0M194.9 736.4h0M205.5 740.1h0M195.6 726.9h0M203.9 722.4h0M200.2 725.1h0M199.6 729.2h0M196.2 733.1h0M200.9 732.0h0M198.9 737.0h0M193.6 737.0h0M205.1 734.6h0M208.6 733.5h0M208.6 740.8h0M205.0 740.4h0M208.5 734.9h0M203.7 732.8h0M196.2 740.7h0M199.9 723.1h0M203.5 711.9h0M201.1 738.9h0M206.3 740.2h0M207.3 720.7h0M199.2 738.8h0M199.0 737.6h0M198.6 740.7h0M199.7 708.9h0M201.3 735.7h0M197.6 738.2h0M193.6 736.4h0M196.8 735.5h0M202.0 711.2h0M199.7 721.5h0M203.4 740.7h0M207.5 728.5h0M203.9 730.5h0M201.9 734.6h0M201.9 725.1h0M203.5 717.7h0M200.5 728.5h0M196.2 724.4h0M208.4 739.9h0M199.7 736.4h0M204.3 736.1h0M208.1 739.9h0M196.9 737.8h0M199.0 712.5h0M197.1 722.6h0M204.0 736.5h0M196.8 733.3h0M196.6 739.6h0M195.1 738.3h0M203.1 721.5h0M196.7 724.0h0M196.8 737.2h0M204.1 713.3h0M208.4 739.3h0M200.9 725.9h0M192.8 739.9h0M202.8 715.0h0M193.1 738.7h0M199.8 731.7h0M208.9 732.5h0M195.9 738.0h0M193.6 733.2h0M199.3 731.5h0M202.1 733.6h0M205.5 730.5h0M209.0 740.1h0M208.9 736.9h0M196.4 718.9h0M208.3 730.1h0M197.8 737.5h0M198.6 735.8h0M203.3 718.8h0M207.0 722.4h0M201.6 732.7h0M204.6 728.7h0M206.4 734.2h0M196.5 739.6h0M196.0 738.1h0M196.0 733.2h0M193.6 739.2h0M195.2 740.8h0M198.4 738.0h0M196.7 725.9h0M203.3 737.1h0M202.3 739.8h0M206.1 740.7h0M202.6 722.5h0M195.6 736.9h0M200.3 739.1h0M208.4 735.4h0M204.0 736.3h0M207.1 735.9h0M206.5 738.5h0M198.0 733.0h0M197.4 739.4h0M203.0 730.2h0M201.1 736.5h0M204.3 712.2h0M206.6 736.9h0M198.1 740.4h0M207.6 727.8h0M208.3 734.8h0M195.4 736.5h0M203.8 729.4h0M207.3 740.6h0M196.1 732.2h0M203.7 736.1h0M204.2 734.0h0M204.5 739.2h0M194.5 737.5h0M194.6 734.0h0M207.5 738.5h0M194.0 730.7h0M199.7 717.1h0M199.9 734.9h0M208.9 730.3h0M201.6 734.7h0M208.4 739.2h0M201.8 724.8h0M207.4 735.9h0M193.7 735.7h0M206.7 738.7h0M206.4 738.6h0M199.9 727.6h0M208.0 733.8h0M196.6 737.5h0M195.4 737.2h0M204.7 736.7h0M194.1 732.8h0M198.4 731.8h0M208.9 736.3h0M204.0 729.5h0M205.7 736.5h0M198.9 740.7h0M199.5 738.9h0M207.4 736.7h0M204.5 736.2h0M197.4 738.0h0M199.9 735.9h0M199.7 726.6h0M208.7 739.7h0M202.9 740.2h0M202.5 738.2h0M199.3 708.4h0M197.3 726.4h0M201.0 738.4h0M196.3 735.8h0M204.0 740.7h0M200.2 729.5h0M200.7 735.5h0M195.1 738.8h0M206.4 738.9h0M206.9 740.6h0M202.6 737.7h0M204.7 719.0h0M196.2 740.5h0M195.9 723.8h0M206.6 735.9h0M199.1 729.1h0M200.9 708.9h0M200.7 724.8h0M208.6 731.6h0M207.5 740.7h0M202.0 739.5h0M198.6 740.7h0M193.1 739.5h0M201.8 733.3h0M206.3 739.5h0M207.7 735.0h0M196.7 736.3h0M202.7 740.9h0M198.5 724.0h0M200.4 733.9h0M208.3 740.8h0M195.6 739.2h0M208.1 740.8h0M193.7 735.4h0M193.7 736.8h0M198.9 733.4h0M205.8 740.4h0M205.0 738.1h0M206.6 737.4h0M205.8 735.6h0M199.8 737.5h0M200.5 729.4h0M200.4 740.6h0M202.1 702.6h0M206.4 737.5h0M197.5 724.5h0M195.9 732.6h0M206.1 737.1h0M197.2 729.6h0M204.7 738.9h0M199.9 702.2h0M204.9 718.3h0M207.3 726.1h0M204.7 723.4h0M205.5 740.5h0M203.2 735.0h0M208.8 734.3h0M204.7 737.4h0M206.3 733.7h0M204.9 734.1h0M196.5 738.4h0M199.6 728.4h0M202.3 706.2h0M205.2 727.6h0M200.6 740.6h0M206.8 739.8h0M199.7 730.4h0M201.0 731.2h0M193.8 739.0h0M206.6 737.4h0M208.5 726.0h0M196.4 737.3h0M207.9 737.4h0M202.5 733.5h0M197.0 739.5h0M199.8 739.2h0M206.9 740.0h0M197.8 736.5h0M206.4 729.8h0M201.9 735.2h0M206.6 727.7h0M195.9 732.1h0M207.2 733.9h0M198.8 735.4h0M193.5 736.2h0M200.2 729.7h0M198.4 738.6h0M194.4 735.2h0M198.8 729.3h0M205.7 738.9h0M203.2 737.0h0M201.5 735.4h0M198.2 717.4h0M197.0 733.3h0M206.9 736.6h0M192.8 740.5h0M195.9 727.8h0M203.1 737.0h0M209.0 738.4h0M193.1 740.0h0M194.7 737.1h0M206.3 735.4h0M201.7 707.8h0M205.6 732.2h0M203.9 729.2h0M201.6 713.9h0M208.0 740.7h0M199.9 739.1h0M202.1 737.9h0M200.3 731.7h0M196.2 729.7h0M203.9 727.3h0M199.1 729.6h0M192.9 739.5h0M200.4 733.5h0M200.0 729.9h0M195.0 736.9h0M200.5 736.9h0M193.3 737.5h0M199.5 736.5h0M196.6 737.4h0M193.9 737.3h0M195.1 735.4h0M201.9 700.9h0M205.4 721.1h0M206.3 738.7h0M193.4 740.4h0M202.0 737.1h0M193.8 738.6h0M195.1 740.5h0M206.6 730.2h0M196.1 732.9h0M199.8 714.4h0M207.0 736.3h0M193.6 735.4h0M202.8 728.1h0M196.8 714.2h0M200.6 731.4h0M197.1 724.2h0M201.4 727.2h0M203.1 740.2h0M200.3 711.7h0M200.0 736.8h0M208.8 735.5h0M205.2 737.4h0M207.9 738.3h0M200.8 727.5h0M194.4 734.7h0M199.3 735.8h0M196.1 728.4h0M193.8 738.6h0M207.2 734.6h0M199.5 739.6h0M197.4 732.8h0M199.0 737.8h0M194.6 737.6h0M195.0 740.8h0M203.6 725.2h0M202.7 739.4h0M194.0 735.0h0M193.4 738.2h0M205.3 734.1h0M200.9 722.2h0M199.0 740.5h0M194.7 727.7h0M206.3 732.0h0M200.5 732.5h0M198.4 721.1h0M193.2 735.0h0M200.0 733.7h0M206.2 720.6h0M208.8 736.6h0M197.6 738.0h0M199.4 728.2h0M193.2 740.2h0M200.4 727.1h0M194.6 738.6h0M203.3 716.1h0M200.6 727.9h0M196.3 732.1h0M198.8 725.6h0M195.6 735.0h0M202.7 714.7h0M192.9 739.7h0M195.7 732.4h0M193.8 738.5h0M207.8 730.4h0M207.7 738.4h0M202.3 732.0h0M197.6 722.6h0M201.8 737.2h0M198.8 721.6h0M197.6 738.7h0M201.5 712.5h0M207.2 737.3h0M201.2 735.8h0M208.1 740.9h0M202.0 734.9h0M193.2 740.6h0M208.1 740.8h0M202.2 717.6h0M206.8 724.9h0M209.0 737.6h0M195.3 740.5h0M203.7 732.0h0M202.3 733.9h0M194.0 729.0h0M203.9 725.7h0M205.0 721.1h0M197.2 737.5h0M199.5 732.0h0M201.2 740.4h0M193.7 739.5h0M207.3 740.7h0M194.2 737.0h0M198.3 737.1h0M203.4 718.8h0M202.8 736.3h0M206.9 737.6h0M196.3 734.8h0M203.9 728.8h0M195.1 736.5h0M204.2 739.4h0M202.8 720.0h0M207.1 729.3h0M206.7 740.8h0M193.2 735.1h0M196.9 737.2h0M202.9 734.3h0M198.4 739.2h0M193.1 740.4h0M206.5 738.1h0M208.4 739.5h0M196.5 731.7h0M196.1 738.4h0M205.1 729.5h0M201.1 710.6h0M208.6 729.3h0M198.8 736.5h0M202.4 722.3h0M205.0 739.9h0M200.6 727.6h0M207.3 739.4h0M198.9 739.6h0M200.3 723.0h0M207.6 738.5h0M198.0 737.7h0M208.9 730.4h0M206.3 738.8h0M194.2 728.4h0M207.9 740.3h0M195.2 738.1h0M193.2 740.7h0M204.4 740.9h0M202.0 739.5h0M208.7 737.4h0M204.2 715.6h0M199.5 735.9h0M200.6 721.7h0M202.4 740.7h0M200.9 730.8h0M201.1 732.9h0M208.3 734.1h0M203.1 732.2h0M202.4 716.2h0M206.8 739.9h0M201.5 736.2h0M200.5 740.2h0M194.8 723.7h0M208.2 740.7h0M196.2 723.3h0M199.8 733.8h0M193.6 739.1h0M201.5 739.2h0M195.8 736.8h0M202.5 736.0h0M207.4 740.3h0M194.4 739.4h0M200.1 723.1h0M207.8 738.6h0M193.5 740.4h0M198.1 723.6h0M197.1 738.8h0M206.9 739.6h0M202.2 714.0h0M207.4 740.2h0M207.4 739.7h0M204.4 738.9h0M197.9 729.8h0M206.0 737.1h0M196.2 729.2h0M201.6 740.3h0M207.9 734.0h0M208.0 738.8h0M204.8 728.5h0M192.8 739.9h0M201.9 731.5h0M208.2 738.9h0M206.8 740.9h0M194.2 727.9h0M195.7 739.3h0M197.9 731.7h0M200.8 739.3h0M206.4 734.5h0M205.2 731.0h0M204.4 730.2h0M202.8 718.4h0M207.9 739.3h0M201.6 736.7h0M198.9 724.6h0M202.8 710.3h0M195.8 740.1h0M201.7 735.1h0M208.2 740.7h0M194.7 735.3h0M193.6 738.0h0M196.7 740.7h0M200.8 730.2h0M196.8 730.3h0M193.1 736.8h0M195.5 731.6h0M202.0 735.3h0M197.5 740.2h0M207.7 734.3h0M202.5 731.9h0M208.9 737.0h0M199.6 736.0h0M197.1 726.2h0M204.6 740.5h0M203.4 737.1h0M204.1 740.1h0M202.1 722.3h0M205.7 739.1h0M196.0 738.8h0M207.7 739.3h0M200.8 733.9h0M206.1 731.5h0M205.4 736.9h0M204.8 737.8h0M208.2 739.4h0M205.1 739.2h0M203.8 728.6h0M202.6 737.3h0M198.6 740.4h0M204.4 737.9h0M207.6 739.8h0M193.2 740.6h0M202.6 717.2h0M200.9 726.3h0M205.4 732.4h0M197.8 737.8h0M197.5 725.9h0M206.8 725.9h0M206.3 721.9h0M197.7 721.0h0M208.6 735.6h0M195.9 731.0h0M204.4 739.9h0M194.7 740.4h0M193.9 739.0h0M195.1 738.7h0M194.2 738.4h0M197.6 737.4h0M199.5 710.5h0M197.0 740.1h0M198.4 736.0h0M207.6 735.9h0M206.7 739.2h0M197.4 733.2h0M194.3 726.2h0M206.3 740.2h0M195.5 734.0h0M208.7 727.4h0M206.9 738.3h0M197.7 739.7h0M200.2 730.7h0M202.1 712.8h0M207.0 730.6h0M193.7 734.0h0M199.8 733.9h0M195.1 732.6h0M205.6 726.8h0M194.2 732.2h0M204.6 736.7h0M205.6 738.3h0M197.8 722.6h0M206.1 737.0h0M197.7 740.4h0M199.2 731.9h0M197.9 740.5h0M205.1 736.3h0M206.6 717.4h0M202.2 737.8h0M201.8 729.9h0M208.8 733.2h0M198.3 731.8h0M205.8 738.2h0M197.6 723.5h0M200.6 737.5h0M200.1 720.4h0M196.0 734.5h0M195.4 734.8h0M203.5 736.7h0M204.6 739.6h0M193.1 737.9h0M201.0 732.2h0M203.3 722.4h0M201.0 736.7h0M198.8 740.3h0M195.1 734.3h0M196.6 728.0h0M193.6 740.1h0M195.6 728.6h0M207.0 735.1h0M195.2 733.7h0M197.4 728.1h0M199.0 734.9h0M197.8 738.9h0M196.2 734.4h0M193.4 739.0h0M196.7 737.8h0M201.5 733.3h0M193.3 737.1h0M198.7 727.0h0M201.2 721.9h0M202.0 733.8h0M197.2 727.9h0M196.3 740.5h0M194.7 737.9h0M201.2 739.9h0M200.7 733.9h0M207.3 740.2h0M204.7 723.2h0M206.6 735.0h0M194.2 738.4h0M199.9 715.8h0M196.1 733.4h0M200.3 740.1h0M195.3 738.1h0M203.7 738.3h0M208.7 739.9h0M197.0 733.6h0M208.2 740.0h0M203.3 729.6h0M195.4 720.9h0M201.3 736.9h0M203.8 740.6h0M193.8 738.2h0M197.4 726.6h0M206.5 739.2h0M208.0 739.3h0M202.0 735.8h0M201.7 731.5h0M207.5 736.9h0M203.4 740.0h0M204.1 729.8h0M208.9 726.0h0M196.2 733.7h0M200.0 734.4h0M199.7 706.1h0M207.1 738.6h0M193.6 736.9h0M202.9 740.5h0M206.0 738.8h0M196.0 727.8h0M197.1 740.6h0M198.0 730.6h0M201.9 730.2h0M194.5 730.8h0M200.5 734.6h0M202.9 721.6h0M193.7 731.2h0M205.2 735.3h0M194.0 736.3h0M193.3 738.9h0M202.8 727.3h0M206.8 737.7h0M196.8 738.1h0M204.1 735.1h0M193.9 740.4h0M201.8 705.9h0M206.9 733.0h0M204.9 726.8h0M206.9 725.7h0M201.7 713.7h0M208.6 736.7h0M206.4 740.0h0M197.6 734.6h0M206.2 740.5h0M204.2 710.6h0M208.5 738.7h0M203.2 733.3h0M199.0 719.7h0M202.5 733.1h0M205.1 738.5h0M205.9 725.2h0M203.0 735.2h0M199.7 733.6h0M202.4 738.8h0M197.0 725.4h0M208.6 737.1h0M202.1 708.4h0M199.9 713.2h0M207.7 723.5h0M205.9 739.2h0M198.5 721.0h0M204.2 720.0h0M202.3 734.3h0M203.4 738.4h0M196.9 721.9h0M203.7 718.9h0M203.5 727.1h0M197.8 731.8h0M208.2 738.7h0M208.5 740.0h0M207.5 736.2h0M207.2 734.8h0M204.0 731.3h0M206.8 740.6h0M198.1 739.3h0M200.0 732.7h0M205.8 738.1h0M204.0 738.2h0M201.2 727.2h0M193.3 740.8h0M200.6 737.9h0M197.2 730.5h0M204.5 734.3h0M204.4 740.5h0M202.7 727.7h0M206.5 732.0h0M202.6 736.7h0M200.1 740.9h0M195.2 738.4h0M195.8 734.7h0M194.7 740.8h0M198.9 740.8h0M204.8 739.1h0M198.9 736.4h0M206.6 729.1h0M201.1 739.5h0M206.6 738.0h0M206.8 737.9h0M196.3 738.0h0M206.2 738.4h0M208.9 730.9h0M204.0 729.1h0M196.6 724.2h0M207.3 729.3h0M201.4 737.2h0M198.9 734.3h0M204.3 732.7h0M197.6 733.3h0M201.7 709.9h0M198.2 737.3h0M202.6 702.7h0M207.2 727.6h0M201.5 738.5h0M196.3 739.5h0M208.3 738.8h0M200.6 709.4h0M203.3 729.5h0M208.8 739.2h0M202.4 714.7h0M197.7 732.0h0M203.8 735.2h0M208.1 731.7h0M203.7 736.8h0M208.5 729.3h0M200.8 726.8h0M193.9 735.1h0M193.1 735.9h0M195.9 739.6h0M204.4 739.3h0M192.9 738.8h0M195.5 731.1h0M201.2 728.8h0M199.1 725.7h0M205.3 734.4h0M199.9 734.5h0M195.5 739.3h0M208.7 739.4h0M198.1 720.1h0M208.1 734.6h0M204.8 723.5h0M207.6 739.9h0M208.9 735.7h0M206.7 727.8h0M204.4 729.1h0M194.5 737.2h0M194.2 723.7h0M202.1 738.4h0M208.1 735.1h0M208.3 740.7h0M202.3 737.3h0M196.5 740.2h0M204.5 738.3h0M208.1 726.7h0M208.5 738.8h0M192.8 740.8h0M196.9 736.3h0M199.2 731.6h0M198.5 738.0h0M196.6 726.8h0M203.0 726.4h0M202.2 731.9h0M204.9 717.8h0M197.5 738.7h0M196.1 738.6h0M206.0 737.5h0M198.3 733.2h0M198.1 712.5h0M204.4 739.7h0M196.3 735.8h0M196.9 733.9h0M200.8 725.3h0M194.6 740.4h0M197.5 739.7h0M207.9 734.4h0M199.2 728.0h0M194.1 735.4h0M205.9 733.3h0M199.6 734.7h0M208.7 729.1h0M204.3 734.1h0M198.2 740.1h0M207.3 736.2h0M194.7 734.0h0M206.9 729.9h0M201.0 721.4h0M202.8 720.0h0M207.8 736.7h0M207.9 735.8h0M193.1 739.8h0M200.0 739.3h0M207.8 739.5h0M199.7 739.5h0M194.3 739.7h0M207.6 736.0h0M197.0 739.6h0M204.4 739.4h0M203.1 725.7h0M203.2 729.0h0M208.7 740.5h0M203.3 731.4h0M201.5 734.9h0M193.4 738.5h0M199.2 734.0h0M204.8 734.4h0M204.0 735.4h0M200.1 740.4h0M196.7 740.4h0M197.6 739.5h0M193.9 739.3h0M194.7 730.7h0M204.8 737.4h0M203.1 728.3h0M205.3 739.9h0M204.7 730.3h0M206.3 726.9h0M200.7 740.0h0M196.7 733.9h0M197.4 715.8h0M198.4 731.2h0M205.5 740.6h0M206.5 733.4h0M198.4 740.1h0M203.2 713.3h0M195.0 738.8h0M208.8 740.4h0M193.0 738.3h0M203.6 726.1h0M201.8 736.3h0M198.1 732.6h0M206.4 736.8h0M193.0 739.2h0M201.9 729.3h0M203.7 736.6h0M205.1 728.5h0M202.8 733.9h0M204.3 734.6h0M206.0 740.0h0M202.4 738.8h0M201.0 738.2h0M195.2 738.3h0M199.4 732.4h0M206.1 740.2h0M200.8 731.3h0M199.9 729.2h0M198.3 731.3h0M199.9 736.9h0M203.4 734.2h0M203.8 737.3h0M197.0 739.8h0M206.4 700.8h0M193.0 739.7h0M198.0 739.4h0M194.6 737.4h0M204.3 717.0h0M201.2 737.5h0M206.7 740.1h0M207.4 739.1h0M207.0 719.2h0M204.7 729.1h0M208.7 740.1h0M199.3 715.6h0M203.0 722.9h0M194.4 733.8h0M206.2 740.6h0M197.9 713.6h0M205.2 718.5h0M205.2 740.0h0M201.9 740.1h0M202.8 730.9h0M208.3 735.9h0M201.4 723.8h0M198.7 724.9h0M202.3 733.4h0M205.8 735.5h0M204.2 737.2h0M192.9 740.2h0M202.3 739.1h0M195.8 738.7h0M201.3 717.3h0M208.4 734.0h0M207.2 740.2h0M197.6 739.3h0M197.8 736.1h0M200.8 728.5h0M200.1 726.2h0M201.3 739.4h0M204.2 733.4h0M208.7 737.0h0M198.5 733.4h0M193.0 738.7h0M199.0 729.4h0M200.2 734.7h0M201.1 737.7h0M195.5 733.0h0M194.0 732.9h0M201.7 713.7h0M204.9 737.6h0M205.9 711.0h0M193.3 738.5h0M203.6 709.6h0M201.7 720.2h0M198.4 739.8h0M203.1 731.7h0M195.4 740.9h0M208.2 726.0h0M201.8 735.3h0M194.5 735.3h0M194.3 734.6h0M197.6 739.2h0M197.2 727.9h0M202.9 734.4h0M202.3 737.2h0M201.8 737.2h0M205.6 738.1h0M195.1 731.3h0M207.8 738.1h0M200.3 727.5h0M193.8 737.6h0M194.8 732.0h0M206.2 724.3h0M197.6 739.7h0M200.2 740.2h0M194.6 739.5h0M204.6 735.6h0M194.6 736.3h0M207.4 728.4h0M195.2 731.1h0M206.3 738.2h0M200.8 718.1h0M199.6 731.9h0M194.4 738.6h0M198.9 732.1h0M207.7 738.8h0M194.1 733.3h0M194.6 738.5h0M208.3 736.6h0M205.9 739.4h0M207.8 739.0h0M207.5 740.1h0M208.7 737.7h0M199.7 719.7h0M206.4 726.9h0M199.2 721.6h0M202.8 737.4h0M192.9 739.4h0M199.3 710.6h0M198.2 735.7h0M198.5 735.6h0M195.3 736.9h0M193.3 735.8h0M196.6 737.4h0M195.7 708.1h0M196.5 733.1h0M203.3 735.5h0M202.5 727.2h0M204.6 711.3h0M203.7 739.5h0M193.7 739.6h0M202.7 708.0h0M200.5 714.0h0M200.1 718.9h0M199.1 724.6h0M199.8 730.3h0M206.2 723.1h0M196.7 731.1h0M203.7 738.8h0M200.2 735.7h0M203.2 729.1h0M198.7 740.5h0M206.6 740.7h0M203.4 738.1h0M200.7 732.5h0M193.2 736.5h0M193.6 736.6h0M196.4 736.2h0M204.9 726.5h0M197.6 735.0h0M204.9 730.2h0M198.9 725.6h0M202.9 735.4h0M196.2 727.3h0M195.3 738.8h0M208.6 740.2h0M203.8 737.4h0M195.5 737.9h0M199.7 706.1h0M194.9 737.2h0M196.9 727.0h0M205.4 736.4h0M198.2 723.8h0M207.3 728.3h0M193.1 737.3h0M203.3 734.5h0M198.1 719.0h0M207.3 736.6h0M198.7 735.3h0M198.4 730.8h0M198.9 737.0h0M194.7 734.3h0M207.6 734.9h0M207.8 738.7h0M204.3 738.5h0M201.5 732.0h0M199.6 734.5h0M201.0 735.6h0M208.7 740.4h0M201.2 736.9h0M204.9 728.1h0M199.6 738.6h0M206.9 725.8h0M201.1 740.4h0M200.5 732.7h0M197.1 737.4h0M199.7 714.1h0M195.7 738.7h0M201.2 727.9h0M208.5 740.3h0M205.7 738.5h0M204.2 723.0h0M204.1 728.0h0M199.9 739.2h0M197.2 732.5h0M195.6 736.9h0M205.9 739.7h0M206.6 732.8h0M203.7 713.5h0M199.4 738.2h0M197.0 718.7h0M193.3 736.8h0M193.6 739.4h0M203.2 735.3h0M199.6 727.9h0M199.8 715.6h0M204.5 732.4h0M206.8 737.1h0M202.8 733.0h0M205.0 739.2h0M203.5 730.7h0M201.1 734.0h0M200.1 731.8h0M196.0 739.4h0M208.3 738.8h0M205.9 738.0h0M201.5 740.0h0M205.0 732.8h0M198.0 739.4h0M202.3 740.7h0M204.1 740.8h0M196.6 723.5h0M205.0 725.0h0M194.9 739.9h0M198.3 739.6h0M201.7 728.4h0M201.0 704.1h0M196.5 737.7h0M202.3 730.6h0M194.0 726.9h0M195.7 740.2h0M193.4 740.6h0M209.5 740.8h0M184.9 740.6h0M191.2 740.0h0M208.0 739.2h0M208.5 740.9h0M195.2 738.6h0M195.7 738.6h0M182.4 740.5h0M177.4 739.1h0M179.9 740.8h0M189.4 739.2h0M197.1 740.2h0M194.7 740.9h0M198.8 740.9h0M205.0 738.8h0M189.5 739.1h0M175.5 739.5h0M188.6 740.1h0M201.2 740.8h0M209.3 740.4h0M191.9 739.4h0M174.9 738.6h0M198.4 740.9h0M199.6 740.3h0M191.7 738.8h0M204.9 740.7h0M186.0 739.7h0M203.8 739.4h0M193.3 739.7h0M195.3 739.5h0M182.8 740.8h0M189.4 740.8h0M183.8 740.9h0M194.1 740.6h0M175.4 739.9h0M176.4 740.6h0M182.6 739.4h0M175.5 740.6h0M206.8 740.7h0M192.4 738.5h0M203.9 740.2h0M189.4 740.3h0M199.3 739.0h0M206.2 740.9h0M181.2 739.7h0M188.2 738.8h0M197.0 740.9h0M193.9 740.5h0M179.4 740.8h0M207.2 739.8h0M207.5 739.3h0M191.8 739.4h0M200.0 740.2h0M191.0 740.8h0M200.0 740.9h0M177.6 740.2h0M177.0 738.8h0M183.6 740.8h0M188.7 740.6h0M208.1 739.5h0M200.9 739.8h0M178.6 738.8h0M194.1 740.8h0M198.9 740.8h0M176.0 739.0h0M186.6 739.1h0M207.0 740.4h0M191.8 740.3h0M192.4 740.1h0M193.5 739.8h0M196.0 740.9h0M196.7 738.9h0M197.7 740.8h0M207.7 740.9h0M190.1 740.6h0M200.1 740.9h0M200.2 739.0h0M199.4 740.1h0M198.3 740.9h0M178.7 740.9h0M205.3 739.2h0M197.5 740.7h0M204.8 738.9h0M190.7 740.6h0M184.2 740.1h0M186.6 739.5h0M188.4 739.3h0M180.7 738.8h0M205.9 740.7h0M186.0 739.8h0M203.9 739.5h0M176.9 740.4h0M190.5 739.7h0M206.6 739.5h0M206.2 738.5h0M187.5 740.2h0M188.0 740.1h0M194.6 740.7h0M208.6 739.1h0M182.1 740.9h0M190.2 740.8h0M209.7 739.7h0M207.9 739.2h0M194.7 739.6h0M196.5 740.5h0M209.5 740.8h0M183.4 739.7h0M198.7 739.8h0M180.9 740.5h0M180.2 740.2h0M179.0 740.7h0M199.7 739.7h0M187.1 740.9h0M186.8 739.9h0M205.4 740.5h0M189.6 740.8h0M209.4 738.8h0M192.4 738.8h0M201.5 740.4h0M200.3 738.8h0M176.6 739.1h0M183.2 739.1h0M177.6 740.9h0M194.6 739.6h0M205.5 740.7h0M187.9 740.8h0M182.3 739.0h0M176.9 740.6h0M177.0 739.9h0M197.4 739.3h0M180.9 739.6h0M196.7 740.2h0M175.1 740.3h0M208.7 740.0h0M176.9 739.7h0M188.0 738.6h0M206.2 740.8h0M186.3 739.7h0M202.1 738.7h0M182.1 740.8h0M178.6 738.6h0M195.4 740.7h0M199.4 738.7h0M177.6 740.6h0M200.6 740.3h0M185.5 740.9h0M206.5 739.7h0M175.6 740.6h0M198.2 740.2h0M199.7 740.5h0M176.4 739.7h0M196.8 740.4h0M178.5 740.1h0M190.4 739.3h0M203.1 739.7h0M201.9 739.9h0M188.6 738.5h0M206.4 739.5h0M189.3 739.9h0M175.5 739.6h0M197.0 740.9h0M196.4 740.6h0M202.1 740.2h0M182.9 739.3h0M201.8 740.5h0M208.4 739.0h0M180.0 738.5h0M182.5 740.9h0M189.4 740.2h0M208.0 740.8h0M177.8 738.6h0M190.0 740.9h0M190.6 738.4h0M189.2 740.9h0M178.9 740.9h0M202.5 740.2h0M177.0 740.3h0M183.8 739.7h0M206.7 740.9h0M207.6 740.3h0M176.0 739.1h0M197.5 740.4h0M206.2 739.0h0M194.4 740.4h0M193.0 740.4h0M196.2 739.0h0M177.0 740.4h0M207.5 740.7h0M191.5 738.9h0M178.5 738.7h0M200.9 739.6h0M201.6 740.6h0M178.4 738.9h0M188.2 740.9h0M189.9 740.6h0M200.5 739.8h0M189.8 740.1h0M194.1 738.7h0M189.0 740.9h0M188.7 739.2h0M195.9 740.5h0M206.9 740.6h0M192.7 738.9h0M198.0 740.4h0M199.7 740.0h0M202.0 740.2h0M181.9 740.7h0M181.8 740.4h0M195.8 739.2h0M209.4 739.7h0M187.3 738.6h0M207.1 740.9h0M177.2 740.8h0M198.3 739.7h0M194.5 740.9h0M187.0 739.8h0M175.5 740.7h0M177.3 740.9h0M186.5 740.8h0M203.2 740.8h0M201.1 739.8h0M206.4 740.3h0M177.5 740.9h0M208.7 739.9h0M175.4 740.7h0M198.4 740.4h0M192.5 739.3h0M195.4 738.5h0M187.2 739.1h0M187.6 739.6h0M183.3 738.6h0M179.6 740.7h0M191.9 739.9h0M198.0 740.6h0M197.2 740.8h0M182.4 738.6h0M187.5 739.3h0M183.6 740.9h0M206.6 739.4h0M191.5 740.3h0M187.6 740.6h0M189.9 740.4h0M203.3 739.9h0M180.7 739.2h0M203.8 740.9h0M197.6 738.8h0M188.6 739.0h0M207.2 740.4h0M199.2 740.9h0M181.4 740.2h0M202.0 740.7h0M207.3 739.8h0M177.9 740.9h0M203.3 738.5h0M180.9 740.2h0M191.1 739.4h0M202.8 740.5h0M181.7 738.9h0M179.9 740.2h0M205.7 738.9h0M177.4 739.3h0M182.8 739.4h0M186.0 739.7h0M202.7 740.5h0M187.0 739.9h0M189.4 740.0h0M185.6 740.7h0M191.1 739.7h0M186.4 740.6h0M186.0 739.9h0M191.1 740.5h0M194.1 740.8h0M187.0 738.7h0M188.8 739.0h0M205.1 738.9h0M203.5 739.1h0M199.0 740.8h0M195.9 740.6h0M203.0 740.6h0M191.2 739.3h0M196.2 740.9h0M201.6 740.2h0M183.3 738.9h0M178.2 740.3h0M190.0 738.7h0M175.6 738.5h0M204.3 739.3h0M196.9 740.5h0M183.0 740.5h0M182.0 740.3h0M179.1 739.4h0M205.4 739.4h0M208.6 739.2h0M190.7 738.7h0M192.5 740.9h0M198.4 740.4h0M190.7 740.6h0M209.0 740.8h0M183.2 738.9h0M191.4 740.6h0M221.1 739.6h0M217.2 739.6h0M217.7 739.6h0M220.1 739.5h0M221.0 739.2h0M220.9 739.5h0M217.2 739.2h0M220.2 739.5h0M215.9 739.6h0M218.7 739.2h0M178.1 691.5h0M183.9 698.9h0M183.5 697.2h0M178.0 695.6h0M180.6 692.9h0M203.7 697.1h0M205.9 691.4h0M206.5 693.5h0M203.2 697.0h0M207.0 695.6h0M198.8 696.5h0M199.2 691.0h0" stroke="#111" stroke-width="2.3" stroke-linecap="round" fill="none"/>
<path d="M174.3 738.0h0M169.7 738.5h0M171.4 737.0h0M173.2 736.4h0M165.9 737.9h0M174.6 737.6h0M174.6 738.2h0M167.4 738.7h0M172.1 736.9h0M169.3 730.2h0M169.9 732.5h0M161.5 738.4h0M162.6 738.0h0M175.7 736.4h0M172.1 736.7h0M172.5 736.2h0M175.2 735.6h0M170.8 736.6h0M165.9 738.4h0M170.6 736.9h0M173.8 728.4h0M172.6 731.2h0M173.7 733.5h0M174.5 718.2h0M158.8 738.1h0M168.6 735.6h0M159.3 736.6h0M175.3 738.3h0M169.9 737.4h0M169.9 738.0h0M174.8 732.5h0M171.5 733.4h0M169.7 737.9h0M175.5 727.4h0M172.3 732.8h0M163.0 736.8h0M175.2 735.9h0M169.1 733.8h0M169.0 732.8h0M174.7 735.6h0M175.4 734.2h0M166.6 738.1h0M175.6 727.7h0M173.8 734.6h0M162.7 738.0h0M169.4 734.8h0M171.7 726.4h0M170.1 736.9h0M170.0 736.8h0M170.4 735.3h0M165.2 734.0h0M175.7 737.0h0M173.5 737.3h0M140.7 738.6h0M175.5 732.9h0M175.7 734.0h0M157.4 738.1h0M174.3 727.2h0M173.5 735.3h0M154.4 738.5h0M171.0 724.7h0M174.4 735.7h0M174.2 737.5h0M174.7 734.2h0M152.2 736.3h0M166.5 736.1h0M166.9 734.9h0M161.4 732.8h0M164.1 738.2h0M174.1 731.8h0M171.1 737.4h0M173.0 730.3h0M170.6 734.4h0M175.2 738.6h0M175.1 733.2h0M175.3 737.0h0M172.4 738.3h0M155.9 738.5h0M163.7 735.9h0M175.6 728.8h0M175.2 736.0h0M169.0 738.5h0M167.2 734.3h0M168.2 734.2h0M175.3 728.0h0M159.1 738.4h0M171.5 726.9h0M169.9 733.5h0M168.9 733.3h0M174.3 727.2h0M170.3 738.2h0M170.7 735.1h0M172.4 737.2h0M175.6 737.9h0M171.5 732.1h0M174.9 731.3h0M170.3 733.3h0M169.4 733.3h0M175.2 736.3h0M174.8 732.5h0M173.6 732.7h0M167.1 732.7h0M175.6 737.8h0M173.2 737.7h0M173.3 729.4h0M174.4 738.1h0M174.3 727.1h0M153.1 738.4h0M175.3 737.5h0M171.7 738.0h0M175.5 731.5h0M171.1 734.2h0M175.6 731.3h0M175.2 736.8h0M172.4 729.8h0M175.1 727.2h0M172.4 728.6h0M174.2 735.3h0M171.0 736.3h0M173.1 733.3h0M170.4 735.2h0M164.2 734.1h0M171.9 738.0h0M175.3 737.8h0M171.8 737.9h0M174.1 738.3h0M173.0 737.6h0M175.3 734.6h0M172.5 733.0h0M156.2 737.6h0M161.5 738.3h0M168.2 738.3h0M174.8 733.3h0M174.1 732.0h0M173.7 728.3h0M174.6 737.5h0M165.0 737.0h0M169.1 733.3h0M175.4 728.1h0M171.4 737.8h0M170.5 734.8h0M168.3 736.0h0M173.3 730.7h0M160.4 736.9h0M171.0 735.9h0M162.2 735.8h0M160.5 736.9h0M172.2 734.0h0M168.0 735.4h0M168.4 734.2h0M169.8 731.4h0M168.5 735.2h0M170.4 737.5h0M175.1 728.8h0M175.3 737.4h0M167.6 737.9h0M169.2 737.1h0M175.7 737.3h0M174.8 735.7h0M175.1 735.8h0M164.0 738.6h0M166.4 737.9h0M175.7 738.3h0M168.8 737.6h0M167.8 738.3h0M175.4 726.8h0M175.3 737.6h0M168.0 730.5h0M174.6 727.9h0M168.6 733.2h0M143.8 737.0h0M171.4 736.6h0M174.7 733.2h0M170.2 735.2h0M173.6 737.8h0M175.7 734.9h0M173.6 736.0h0M173.1 729.4h0M169.0 731.0h0M166.1 737.9h0M164.3 736.8h0M154.5 737.9h0M167.9 738.5h0M173.4 732.0h0M167.0 737.6h0M166.2 732.3h0M166.7 737.5h0M174.7 738.6h0M173.1 736.8h0M166.3 738.3h0M169.5 738.4h0M173.1 737.9h0M175.1 736.9h0M173.4 735.0h0M175.3 737.5h0M169.8 731.4h0M170.9 730.2h0M166.9 738.1h0M174.1 736.1h0M172.4 736.0h0M174.8 734.6h0M163.3 738.6h0M174.1 728.1h0M168.8 730.6h0M173.1 735.6h0M172.6 733.0h0M171.9 737.6h0M171.5 733.9h0M163.2 738.6h0M174.5 726.4h0M167.8 737.3h0M161.0 738.6h0M175.7 736.0h0M170.3 738.7h0M175.6 737.9h0M168.8 737.2h0M171.9 734.5h0M173.1 736.5h0M169.3 737.2h0M173.9 738.3h0M175.0 735.3h0M173.9 733.6h0M173.5 732.8h0M170.6 736.8h0M175.4 737.3h0M173.2 734.0h0M172.4 735.4h0M160.8 735.5h0M171.6 733.1h0M173.1 728.9h0M166.9 730.0h0M165.5 729.4h0M170.0 735.9h0M168.1 732.8h0M166.8 733.2h0M161.7 737.5h0M171.0 738.5h0M163.1 735.3h0M168.4 737.8h0M168.0 735.6h0M167.2 735.5h0M171.4 732.5h0M171.4 736.8h0M174.1 734.5h0M175.3 734.7h0M171.2 733.4h0M165.8 738.6h0M174.2 733.3h0M169.5 738.3h0M166.6 734.4h0M169.7 737.1h0M175.5 733.0h0M175.7 738.5h0M175.4 738.3h0M173.1 728.1h0M174.2 733.6h0M175.1 734.2h0M174.0 733.5h0M161.6 736.2h0M172.0 738.7h0M174.2 728.3h0M171.9 730.6h0M170.9 736.4h0M174.0 736.8h0M174.7 735.8h0M174.3 735.6h0M172.2 733.0h0M160.4 737.6h0M175.7 736.4h0M174.6 716.7h0M173.4 738.0h0M171.0 737.7h0M175.4 737.6h0M175.6 731.6h0M171.9 737.4h0M175.6 737.3h0M167.0 737.7h0M172.5 735.1h0M164.1 736.2h0M174.1 736.8h0M167.3 733.4h0M173.7 732.7h0M174.6 738.3h0M174.5 736.9h0M166.2 738.1h0M172.7 732.5h0M175.3 734.1h0M166.8 737.6h0M174.2 731.4h0M166.1 735.6h0M170.1 728.8h0M152.3 737.5h0M175.2 738.3h0M173.5 738.6h0M173.8 726.0h0M174.5 729.8h0M171.9 737.0h0M166.7 734.8h0M175.3 725.1h0M173.0 736.3h0M167.0 737.3h0M170.1 734.8h0M174.1 730.0h0M174.0 727.1h0M172.5 736.1h0M166.2 729.9h0M172.6 734.7h0M152.3 738.6h0M175.6 738.3h0M174.0 734.1h0M174.7 738.6h0M169.8 738.5h0M174.3 737.4h0M169.2 734.1h0M173.9 732.6h0M166.4 735.5h0M174.5 731.5h0M174.3 737.3h0M166.0 736.4h0M175.1 736.9h0M169.5 735.9h0M173.8 728.1h0M171.7 736.2h0M168.0 737.1h0M173.9 736.4h0M175.1 737.7h0M170.8 729.1h0M172.2 737.3h0M171.3 735.9h0M166.4 737.7h0M211.8 735.3h0M211.6 736.0h0M212.5 738.1h0M209.2 736.8h0M209.8 735.4h0M212.6 736.3h0M209.4 735.3h0M209.6 738.2h0M215.6 735.7h0M209.4 733.7h0M213.0 736.1h0M213.7 737.2h0M214.0 738.6h0M216.4 730.2h0M229.1 738.3h0M217.7 732.9h0M210.9 737.6h0M216.3 732.4h0M211.0 736.8h0M219.4 738.2h0M209.6 732.6h0M211.8 737.8h0M221.1 736.4h0M209.5 737.4h0M209.6 738.5h0M209.2 731.6h0M214.3 731.7h0M236.0 738.5h0M210.7 736.6h0M209.3 725.5h0M214.6 734.2h0M213.8 719.5h0M215.3 736.4h0M219.3 734.4h0M213.4 736.6h0M218.0 736.6h0M216.3 730.8h0M227.2 737.2h0M212.3 736.1h0M211.2 737.7h0M211.8 734.6h0M212.0 738.1h0M217.5 736.8h0M227.0 738.3h0M216.6 734.6h0M210.0 733.1h0M213.4 731.7h0M210.8 735.3h0M209.2 735.2h0M218.6 735.4h0M213.6 737.3h0M214.1 738.0h0M209.8 736.0h0M215.7 722.0h0M210.8 734.2h0M215.5 735.3h0M210.4 720.7h0M209.3 727.4h0M215.0 732.7h0M210.3 724.2h0M217.9 730.5h0M211.7 738.2h0M209.2 738.0h0M215.7 732.5h0M210.6 734.7h0M209.6 733.5h0M210.9 733.2h0M209.1 725.2h0M209.5 705.3h0M214.3 735.3h0M211.1 733.4h0M222.8 736.4h0M210.0 737.6h0M213.4 735.5h0M209.3 727.1h0M211.9 735.2h0M209.9 734.5h0M209.6 731.3h0M209.2 738.6h0M210.5 734.5h0M212.4 707.4h0M212.1 730.8h0M211.0 726.3h0M218.5 738.0h0M214.5 737.4h0M219.1 737.7h0M209.4 715.9h0M210.1 734.0h0M209.3 736.2h0M209.5 725.3h0M212.4 736.4h0M235.2 738.4h0M210.5 737.6h0M216.5 734.9h0M213.3 732.2h0M227.7 736.4h0M213.8 736.6h0M216.6 734.8h0M213.8 738.4h0M222.5 738.3h0M212.9 737.4h0M220.6 737.8h0M220.8 738.4h0M221.9 737.6h0M210.6 737.2h0M209.7 738.1h0M211.4 728.9h0M209.7 733.5h0M211.6 735.0h0M210.5 728.0h0M209.3 729.4h0M215.8 734.3h0M209.1 728.8h0M210.0 729.4h0M211.3 734.7h0M212.2 736.2h0M209.6 736.2h0M211.6 738.6h0M213.1 738.0h0M209.8 733.0h0M231.4 737.8h0M215.5 737.5h0M209.2 738.4h0M210.1 735.9h0M210.1 736.8h0M220.1 730.4h0M215.0 735.7h0M210.5 736.1h0M218.2 734.3h0M228.7 734.9h0M219.9 737.9h0M211.7 735.6h0M210.7 731.2h0M213.6 734.8h0M220.2 738.5h0M210.5 735.3h0M210.5 734.7h0M210.0 737.1h0M209.9 730.2h0M210.6 736.4h0M217.1 738.2h0M209.5 731.4h0M209.4 733.9h0M211.8 729.8h0M217.9 733.3h0M215.1 734.3h0M222.8 734.1h0M210.4 712.1h0M209.2 736.0h0M210.6 737.1h0M212.3 734.3h0M221.9 738.3h0M209.1 738.1h0M211.6 734.8h0M211.3 728.2h0M219.4 738.5h0M212.5 727.6h0M217.2 737.9h0M216.2 730.5h0M210.5 738.5h0M213.2 735.9h0M211.6 736.4h0M209.1 722.7h0M209.7 731.0h0M219.7 738.5h0M209.4 728.9h0M212.2 734.3h0M214.2 734.9h0M212.9 737.4h0M225.0 737.5h0M217.0 731.1h0M222.6 738.2h0M227.2 738.4h0M211.9 737.4h0M209.9 725.2h0M212.5 738.4h0M209.2 729.7h0M209.3 729.9h0M210.7 728.7h0M211.1 730.8h0M209.7 737.0h0M210.3 737.3h0M210.2 730.2h0M210.6 725.7h0M213.5 730.1h0M224.6 737.1h0M210.5 734.1h0M217.3 735.8h0M219.7 737.6h0M209.3 738.2h0M210.8 727.1h0M216.5 736.9h0M225.7 738.2h0M214.1 732.5h0M211.0 737.8h0M218.9 737.6h0M210.0 734.5h0M209.7 732.2h0M213.2 737.2h0M224.3 737.6h0M211.5 733.1h0M216.2 738.1h0M209.1 736.3h0M211.6 735.9h0M212.8 730.3h0M210.6 736.5h0M210.8 737.3h0M219.8 729.9h0M209.9 738.6h0M209.4 732.9h0M213.4 737.6h0M213.3 733.1h0M220.8 735.0h0M215.6 736.8h0M212.8 735.4h0M210.7 734.7h0M210.7 726.8h0M217.7 738.2h0M213.1 738.3h0M210.0 737.5h0M212.3 735.1h0M209.7 738.4h0M225.2 737.4h0M212.4 737.3h0M212.7 737.9h0M224.6 736.7h0M210.0 736.1h0M216.1 724.6h0M216.7 733.0h0M212.9 737.5h0M213.4 737.3h0M210.2 737.1h0M222.6 736.6h0M214.8 737.7h0M232.0 738.3h0M215.6 734.6h0M211.2 737.8h0M212.5 735.0h0M217.3 733.2h0M212.1 737.4h0M214.6 732.7h0M212.3 727.8h0M210.9 735.8h0M210.4 732.7h0M210.0 736.0h0M209.7 734.2h0M209.6 731.1h0M211.3 737.1h0M212.7 737.5h0M213.4 732.9h0M211.1 735.0h0M214.6 737.9h0M213.1 735.8h0M225.3 737.3h0M214.1 731.6h0M209.6 737.4h0M210.9 737.6h0M211.6 726.8h0M213.8 738.1h0M223.5 729.2h0M169.4 719.0h0M160.5 727.9h0M157.1 720.3h0M162.1 727.5h0M162.2 729.8h0M156.5 730.4h0M170.8 731.0h0M162.2 731.1h0M162.8 720.8h0M175.0 721.8h0M168.0 725.8h0M162.0 723.9h0M155.7 727.6h0M166.6 719.9h0M164.8 731.8h0M158.2 732.8h0M174.5 727.5h0M174.2 729.2h0M168.5 724.2h0M174.8 732.4h0M174.7 725.0h0M161.2 721.9h0M162.2 725.2h0M168.8 724.8h0M159.9 725.9h0M211.1 720.6h0M214.3 716.7h0M221.8 731.1h0M227.2 731.5h0M224.9 733.0h0M217.7 716.7h0M226.5 716.3h0M221.5 720.5h0M217.6 728.6h0M227.3 732.7h0M216.8 731.0h0M219.3 723.3h0M217.6 731.7h0M213.0 725.6h0M220.9 721.4h0M217.9 722.5h0M215.7 727.5h0M217.6 725.0h0M224.8 717.9h0M225.1 726.4h0M224.4 732.9h0M215.9 733.1h0M221.8 718.6h0M224.8 721.5h0M213.6 730.1h0" stroke="#f28c3c" stroke-width="2.3" stroke-linecap="round" fill="none" stroke-opacity="0.9"/>
<path d="M220.0 526.0h0M252.6 592.7h0M212.9 628.7h0M212.9 638.4h0M166.3 661.2h0M207.8 671.5h0M216.9 674.2h0M221.4 681.0h0M217.4 689.5h0M175.0 688.6h0M165.9 702.0h0M209.8 693.1h0M216.5 696.8h0M219.2 713.0h0M227.3 716.6h0M224.6 723.8h0M230.4 726.0h0M224.6 732.3h0M219.2 732.9h0M155.1 715.2h0M161.4 719.0h0M153.6 721.1h0M152.4 732.9h0M157.8 728.4h0M170.0 705.0h0M172.5 712.0h0M168.0 699.0h0" stroke="#f28c3c" stroke-width="2.5" stroke-linecap="round" fill="none" stroke-opacity="0.9"/>
<path d="M204.7 562.9h0M202.6 577.3h0M182.2 653.4h0M179.5 657.6h0M181.3 665.2h0M177.7 667.9h0M183.4 669.7h0M205.7 653.4h0M206.6 658.3h0M202.4 662.4h0M204.7 665.2h0M206.6 667.3h0M203.3 671.5h0M184.0 688.6h0M199.0 686.0h0M203.0 682.0h0M198.5 691.0h0M203.0 696.0h0" stroke="#222" stroke-width="2.5" stroke-linecap="round" fill="none" stroke-opacity="0.85"/>
<line x1="211.0" y1="683.2" x2="217.4" y2="689.5" stroke="#333" stroke-width="0.5"/>
<line x1="156.9" y1="698.9" x2="165.9" y2="701.3" stroke="#333" stroke-width="0.5"/>
<text x="216.6" y="522.5" font-size="6.4" fill="#111" textLength="18.8" lengthAdjust="spacingAndGlyphs">PTGES</text>
<text x="239.6" y="599.9" font-size="6.4" fill="#111" textLength="15.4" lengthAdjust="spacingAndGlyphs">TDO2</text>
<text x="205.3" y="625.4" font-size="6.4" fill="#111" textLength="24.9" lengthAdjust="spacingAndGlyphs">COLEC12</text>
<text x="197.0" y="645.6" font-size="6.4" fill="#111" textLength="21.3" lengthAdjust="spacingAndGlyphs">LRRC15</text>
<text x="151.5" y="668.8" font-size="6.4" fill="#111" textLength="18.0" lengthAdjust="spacingAndGlyphs">CCNA1</text>
<text x="195.7" y="668.0" font-size="6.4" fill="#111" textLength="10.5" lengthAdjust="spacingAndGlyphs">LUM</text>
<text x="210.5" y="671.0" font-size="6.4" fill="#111" textLength="24.0" lengthAdjust="spacingAndGlyphs">CYP26B1</text>
<text x="224.3" y="680.5" font-size="6.4" fill="#111" textLength="15.7" lengthAdjust="spacingAndGlyphs">RGCC</text>
<text x="193.6" y="681.4" font-size="6.4" fill="#111" textLength="24.2" lengthAdjust="spacingAndGlyphs">RASL11B</text>
<text x="220.1" y="696.8" font-size="6.4" fill="#111" textLength="23.5" lengthAdjust="spacingAndGlyphs">TSPAN11</text>
<text x="159.2" y="685.4" font-size="6.4" fill="#111" textLength="19.7" lengthAdjust="spacingAndGlyphs">DDIT4L</text>
<text x="186.7" y="690.8" font-size="6.4" fill="#111" textLength="20.2" lengthAdjust="spacingAndGlyphs">SLC7A8</text>
<text x="161.0" y="696.8" font-size="6.4" fill="#111" textLength="20.6" lengthAdjust="spacingAndGlyphs">ZNF185</text>
<text x="135.8" y="700.7" font-size="6.4" fill="#111" textLength="20.5" lengthAdjust="spacingAndGlyphs">PAPPA2</text>
<text x="191.2" y="701.3" font-size="6.4" fill="#111" textLength="24.0" lengthAdjust="spacingAndGlyphs">TMEM119</text>
<text x="144.2" y="710.3" font-size="6.4" fill="#111" textLength="18.6" lengthAdjust="spacingAndGlyphs">PCDH1</text>
<text x="173.7" y="707.6" font-size="6.4" fill="#111" textLength="19.3" lengthAdjust="spacingAndGlyphs">TRIM14</text>
<text x="166.8" y="719.0" font-size="6.4" fill="#111" textLength="19.2" lengthAdjust="spacingAndGlyphs">ANKRD1</text>
</g><g id="E">
<text x="357.9" y="427.2" font-size="35" textLength="17.0" lengthAdjust="spacingAndGlyphs">E</text>
<rect x="366.1" y="441.1" width="321.0" height="34.6" fill="#54c1b9"/>
<text x="454.7" y="467.5" font-size="19.0" fill="#e9f7f5" textLength="162.4" lengthAdjust="spacingAndGlyphs">TWIST1-E12 vs pWPI</text>
<text x="502.1" y="492.7" font-size="9.1" fill="#d94a30" textLength="176.5" lengthAdjust="spacingAndGlyphs" stroke="#d94a30" stroke-width="0.12">Genes with pvaladj of 0 with log2FoldChange:</text>
<text x="625.6" y="504.0" font-size="9.1" fill="#d94a30" textLength="52.6" lengthAdjust="spacingAndGlyphs" stroke="#d94a30" stroke-width="0.12">TGFB3 (6.470)</text>
<text x="630.6" y="515.6" font-size="9.1" fill="#d94a30" textLength="47.7" lengthAdjust="spacingAndGlyphs" stroke="#d94a30" stroke-width="0.12">TCF3 (5.901)</text>
<text x="621.1" y="527.4" font-size="9.1" fill="#d94a30" textLength="57.1" lengthAdjust="spacingAndGlyphs" stroke="#d94a30" stroke-width="0.12">TWIST1 (5.845)</text>
<line x1="398.0" y1="499.0" x2="398.0" y2="750.8" stroke="#f6f6f6" stroke-width="0.5"/>
<line x1="448.4" y1="499.0" x2="448.4" y2="750.8" stroke="#f6f6f6" stroke-width="0.5"/>
<line x1="498.8" y1="499.0" x2="498.8" y2="750.8" stroke="#f6f6f6" stroke-width="0.5"/>
<line x1="549.2" y1="499.0" x2="549.2" y2="750.8" stroke="#f6f6f6" stroke-width="0.5"/>
<line x1="599.6" y1="499.0" x2="599.6" y2="750.8" stroke="#f6f6f6" stroke-width="0.5"/>
<line x1="650.0" y1="499.0" x2="650.0" y2="750.8" stroke="#f6f6f6" stroke-width="0.5"/>
<line x1="391.0" y1="700.7" x2="656.6" y2="700.7" stroke="#f6f6f6" stroke-width="0.5"/>
<line x1="391.0" y1="621.7" x2="656.6" y2="621.7" stroke="#f6f6f6" stroke-width="0.5"/>
<line x1="391.0" y1="542.7" x2="656.6" y2="542.7" stroke="#f6f6f6" stroke-width="0.5"/>
<line x1="423.2" y1="499.0" x2="423.2" y2="750.8" stroke="#eeeeee" stroke-width="0.75"/>
<text x="423.2" y="759.0" font-size="6.3" fill="#5a5a5a" text-anchor="middle">-10</text>
<line x1="473.6" y1="499.0" x2="473.6" y2="750.8" stroke="#eeeeee" stroke-width="0.75"/>
<text x="473.6" y="759.0" font-size="6.3" fill="#5a5a5a" text-anchor="middle">-5</text>
<line x1="524.0" y1="499.0" x2="524.0" y2="750.8" stroke="#eeeeee" stroke-width="0.75"/>
<text x="524.0" y="759.0" font-size="6.3" fill="#5a5a5a" text-anchor="middle">0</text>
<line x1="574.4" y1="499.0" x2="574.4" y2="750.8" stroke="#eeeeee" stroke-width="0.75"/>
<text x="574.4" y="759.0" font-size="6.3" fill="#5a5a5a" text-anchor="middle">5</text>
<line x1="624.8" y1="499.0" x2="624.8" y2="750.8" stroke="#eeeeee" stroke-width="0.75"/>
<text x="624.8" y="759.0" font-size="6.3" fill="#5a5a5a" text-anchor="middle">10</text>
<line x1="391.0" y1="740.2" x2="656.6" y2="740.2" stroke="#eeeeee" stroke-width="0.75"/>
<text x="388.2" y="742.5" font-size="6.3" fill="#5a5a5a" text-anchor="end">0</text>
<line x1="391.0" y1="661.2" x2="656.6" y2="661.2" stroke="#eeeeee" stroke-width="0.75"/>
<text x="388.2" y="663.5" font-size="6.3" fill="#5a5a5a" text-anchor="end">100</text>
<line x1="391.0" y1="582.2" x2="656.6" y2="582.2" stroke="#eeeeee" stroke-width="0.75"/>
<text x="388.2" y="584.5" font-size="6.3" fill="#5a5a5a" text-anchor="end">200</text>
<line x1="391.0" y1="503.2" x2="656.6" y2="503.2" stroke="#eeeeee" stroke-width="0.75"/>
<text x="388.2" y="505.5" font-size="6.3" fill="#5a5a5a" text-anchor="end">300</text>
<text x="493.2" y="766.9" font-size="7.0" fill="#2a2a2a" font-weight="bold" textLength="61.0" lengthAdjust="spacingAndGlyphs">Log2 Fold Change</text>
<text x="374.9" y="622.0" font-size="7.0" fill="#333" text-anchor="middle" font-weight="bold" textLength="81.0" lengthAdjust="spacingAndGlyphs" transform="rotate(-90 374.9 622.0)">-Log10 Adjusted P-value</text>
<path d="M511.6 729.4h0M514.0 735.8h0M510.1 739.9h0M514.0 736.6h0M509.1 734.9h0M514.3 739.2h0M519.3 739.7h0M510.2 731.9h0M509.1 731.2h0M519.1 730.5h0M515.8 738.3h0M511.3 722.1h0M514.5 728.3h0M513.4 723.5h0M514.5 735.9h0M514.9 739.5h0M510.1 736.6h0M518.6 735.5h0M513.8 722.6h0M512.4 739.8h0M522.0 739.1h0M516.8 733.0h0M520.7 737.3h0M509.9 734.4h0M511.1 739.9h0M518.3 725.5h0M518.3 740.2h0M509.3 722.4h0M516.1 732.5h0M517.6 737.7h0M510.7 734.4h0M515.3 729.4h0M510.3 735.9h0M519.4 736.6h0M512.8 731.2h0M510.3 728.0h0M508.9 737.2h0M513.8 737.1h0M520.1 737.7h0M517.7 729.1h0M522.6 740.1h0M510.1 735.5h0M509.4 739.4h0M508.8 729.8h0M513.6 731.8h0M518.7 733.7h0M509.3 735.2h0M514.1 728.5h0M511.5 737.5h0M509.3 736.8h0M515.1 739.2h0M511.1 737.0h0M514.5 739.2h0M510.5 727.8h0M511.8 732.6h0M516.8 719.8h0M510.9 739.2h0M511.0 732.8h0M516.1 722.1h0M508.4 738.5h0M514.4 716.0h0M513.3 735.0h0M511.6 733.1h0M510.4 721.4h0M513.4 712.8h0M516.9 739.2h0M514.5 726.5h0M513.5 709.7h0M519.3 733.6h0M511.6 732.8h0M520.8 740.2h0M517.9 732.3h0M511.2 736.7h0M510.9 712.8h0M513.3 734.6h0M515.3 733.3h0M518.8 738.9h0M515.4 735.0h0M518.9 739.4h0M513.3 730.7h0M511.9 714.2h0M517.8 738.1h0M516.7 733.6h0M510.7 733.6h0M520.8 738.2h0M510.4 727.0h0M521.4 735.8h0M514.1 731.7h0M510.7 733.1h0M517.4 723.3h0M512.3 740.0h0M516.4 740.2h0M508.7 736.4h0M517.6 733.0h0M513.1 726.4h0M509.0 734.4h0M510.9 725.9h0M517.8 737.9h0M513.7 729.0h0M519.6 737.6h0M517.9 726.5h0M511.5 730.5h0M510.6 730.3h0M512.0 736.4h0M513.5 740.1h0M509.0 739.8h0M513.0 738.8h0M510.9 735.0h0M509.9 739.8h0M509.7 734.0h0M508.6 739.5h0M513.4 732.1h0M519.7 737.3h0M514.9 736.1h0M518.8 733.6h0M516.8 727.0h0M519.3 735.7h0M513.7 736.5h0M509.9 734.3h0M510.7 726.9h0M518.3 735.9h0M514.9 733.0h0M510.1 724.8h0M513.9 736.8h0M516.2 732.4h0M514.4 739.8h0M521.6 740.0h0M511.7 724.1h0M522.2 739.7h0M519.9 730.8h0M511.2 729.1h0M508.5 720.2h0M508.8 731.5h0M515.2 728.4h0M514.6 736.7h0M516.5 731.5h0M517.6 727.6h0M512.5 733.4h0M513.8 737.9h0M517.8 725.6h0M514.6 735.2h0M509.2 724.1h0M508.5 734.7h0M510.5 735.2h0M514.9 739.7h0M514.4 739.9h0M518.6 737.8h0M508.5 736.3h0M510.6 739.1h0M514.0 726.2h0M519.4 739.0h0M514.5 739.7h0M516.1 736.3h0M511.5 734.9h0M511.0 735.9h0M515.5 732.7h0M516.4 737.6h0M517.7 726.2h0M516.7 738.6h0M516.5 738.5h0M518.6 736.0h0M516.9 727.2h0M516.4 739.3h0M508.8 737.5h0M518.5 739.1h0M509.9 740.2h0M514.2 739.9h0M518.8 736.1h0M520.8 739.1h0M510.8 729.3h0M520.7 734.5h0M513.3 739.3h0M519.2 738.8h0M518.4 726.5h0M517.9 728.4h0M515.6 739.2h0M512.9 734.1h0M521.8 739.7h0M509.9 734.5h0M517.0 731.9h0M511.1 728.0h0M516.2 732.3h0M512.0 722.6h0M518.9 731.0h0M517.5 732.1h0M520.0 738.5h0M513.5 735.0h0M521.8 737.5h0M521.2 738.3h0M520.8 733.5h0M515.7 729.3h0M510.8 739.8h0M518.7 735.1h0M510.2 733.8h0M509.7 736.1h0M517.7 736.1h0M517.4 721.5h0M518.1 737.4h0M510.2 730.3h0M513.1 739.6h0M513.2 736.9h0M509.0 728.7h0M516.8 729.8h0M515.8 737.9h0M515.2 724.6h0M509.7 730.8h0M508.2 719.8h0M512.3 711.4h0M518.5 739.4h0M513.4 729.6h0M515.5 736.1h0M512.8 734.2h0M511.3 733.9h0M518.6 735.2h0M518.2 732.5h0M516.3 736.0h0M509.5 734.4h0M510.9 731.3h0M509.8 737.5h0M511.0 727.9h0M519.1 739.8h0M509.1 736.0h0M517.5 731.5h0M516.2 730.3h0M508.1 719.3h0M514.4 735.0h0M510.2 734.6h0M514.7 732.5h0M514.9 726.7h0M519.4 731.7h0M511.4 738.5h0M513.2 714.7h0M508.1 737.2h0M511.1 738.6h0M508.7 730.5h0M513.1 736.8h0M519.5 739.6h0M515.9 736.9h0M520.0 733.1h0M511.8 721.1h0M509.8 732.1h0M511.0 740.0h0M509.1 735.2h0M515.1 738.4h0M519.5 738.9h0M512.6 736.0h0M515.5 740.2h0M511.0 736.8h0M515.5 737.7h0M518.3 732.2h0M508.9 726.7h0M522.6 740.2h0M515.0 739.1h0M518.9 739.5h0M512.2 726.7h0M521.8 737.4h0M508.8 740.1h0M512.9 724.8h0M515.3 737.8h0M515.5 729.6h0M521.5 737.7h0M512.5 736.2h0M510.8 732.6h0M512.2 739.0h0M513.8 728.3h0M514.5 738.9h0M514.1 733.3h0M520.1 738.4h0M516.8 738.3h0M512.7 721.6h0M519.3 736.5h0M517.3 736.1h0M518.7 737.6h0M517.3 739.8h0M513.1 733.6h0M517.9 739.0h0M510.2 731.1h0M510.1 729.0h0M521.2 735.0h0M518.4 737.3h0M518.8 732.7h0M522.0 739.0h0M514.8 734.6h0M518.0 734.4h0M518.7 738.9h0M514.9 730.8h0M513.0 733.8h0M519.7 733.3h0M511.9 731.0h0M516.2 739.3h0M509.4 720.0h0M520.4 731.9h0M511.8 738.9h0M508.8 727.1h0M511.5 733.8h0M517.1 738.9h0M515.6 730.3h0M515.3 735.5h0M509.5 738.2h0M515.7 728.5h0M518.8 732.4h0M518.9 738.3h0M511.6 737.6h0M512.2 739.0h0M521.5 740.0h0M511.1 731.4h0M519.8 733.7h0M512.4 738.0h0M514.1 714.1h0M510.1 739.9h0M510.4 735.8h0M513.5 733.2h0M513.9 725.1h0M520.1 739.1h0M520.0 738.7h0M512.8 728.2h0M514.3 729.9h0M516.6 724.5h0M508.4 736.3h0M508.9 737.9h0M514.1 730.9h0M511.5 731.6h0M509.9 739.7h0M510.8 738.8h0M517.1 733.5h0M516.6 735.3h0M518.1 736.2h0M513.0 732.9h0M515.1 740.0h0M511.7 733.4h0M521.7 738.2h0M514.9 724.6h0M512.4 727.3h0M509.2 726.7h0M521.5 737.4h0M510.2 719.9h0M520.7 735.0h0M519.3 739.6h0M511.2 733.3h0M519.5 739.3h0M515.4 737.5h0M520.9 737.8h0M514.2 736.9h0M517.5 726.1h0M518.9 735.9h0M510.7 739.8h0M520.0 740.0h0M516.1 727.5h0M515.7 736.9h0M515.5 732.6h0M518.8 729.8h0M514.6 740.0h0M509.6 738.6h0M521.0 735.7h0M513.7 736.4h0M520.7 735.7h0M511.1 735.8h0M508.4 737.7h0M519.8 738.9h0M520.3 738.6h0M515.5 732.3h0M516.9 726.2h0M513.2 738.3h0M508.4 735.2h0M518.3 735.5h0M516.1 739.7h0M508.4 731.4h0M512.6 738.8h0M518.7 733.0h0M509.8 740.1h0M515.3 737.2h0M508.2 734.8h0M517.9 723.3h0M518.1 735.5h0M513.7 739.9h0M514.7 733.1h0M509.2 724.4h0M516.7 738.7h0M519.3 737.4h0M516.3 729.4h0M513.2 739.9h0M514.0 739.9h0M521.0 737.3h0M517.0 738.8h0M515.4 737.0h0M514.2 718.5h0M522.0 738.7h0M513.9 737.3h0M517.3 739.6h0M516.7 728.1h0M517.3 736.4h0M512.8 735.0h0M518.3 736.4h0M514.9 738.5h0M518.4 729.3h0M518.5 737.4h0M508.6 738.6h0M516.2 732.4h0M517.3 740.0h0M516.1 733.9h0M513.9 734.6h0M512.5 735.4h0M508.2 705.5h0M509.7 733.0h0M513.4 738.0h0M522.1 738.5h0M514.8 732.9h0M514.6 728.6h0M509.0 738.9h0M511.8 733.7h0M520.6 732.8h0M513.1 735.3h0M513.7 725.6h0M510.5 735.4h0M519.3 739.8h0M513.0 722.6h0M515.8 739.8h0M513.2 737.0h0M512.0 729.8h0M515.3 736.6h0M520.8 737.6h0M508.3 733.0h0M509.6 734.0h0M513.6 735.6h0M509.2 738.5h0M515.5 737.6h0M508.4 727.0h0M511.4 730.8h0M511.3 740.1h0M509.0 733.8h0M510.3 737.2h0M521.3 737.3h0M516.9 740.2h0M515.9 739.9h0M515.8 728.3h0M510.0 738.3h0M519.8 737.1h0M519.8 738.4h0M520.7 738.0h0M518.0 727.1h0M516.9 736.8h0M521.8 736.7h0M522.3 740.2h0M512.4 732.8h0M513.3 737.9h0M510.3 739.7h0M512.7 715.6h0M513.3 739.6h0M510.7 732.5h0M509.3 734.5h0M512.8 723.7h0M518.9 740.0h0M518.2 735.3h0M517.1 735.4h0M514.4 739.8h0M512.0 736.6h0M508.5 725.7h0M509.7 739.0h0M516.1 736.1h0M512.9 734.0h0M514.4 731.8h0M511.4 729.1h0M519.9 739.6h0M512.0 734.9h0M519.0 732.2h0M520.8 739.3h0M513.3 739.9h0M512.0 723.7h0M510.8 735.3h0M511.2 736.9h0M515.2 734.3h0M518.2 739.5h0M509.8 739.3h0M519.0 740.1h0M513.8 734.2h0M510.3 738.8h0M513.1 713.8h0M511.3 734.5h0M512.5 729.3h0M511.4 737.7h0M518.4 734.7h0M520.6 736.3h0M519.1 734.5h0M513.7 736.9h0M510.6 736.9h0M520.6 739.1h0M510.3 737.4h0M517.0 734.7h0M516.2 740.0h0M509.1 735.0h0M512.7 720.1h0M522.6 740.1h0M522.1 738.6h0M515.7 718.0h0M508.1 735.2h0M511.3 738.3h0M512.5 731.9h0M508.5 738.8h0M516.9 739.8h0M515.2 738.0h0M518.9 738.1h0M516.3 721.9h0M511.3 735.0h0M513.2 714.5h0M513.4 727.8h0M512.6 728.0h0M514.9 715.1h0M514.1 737.8h0M510.7 718.2h0M520.1 737.7h0M521.0 734.2h0M517.6 738.2h0M514.5 718.5h0M509.7 739.7h0M511.7 735.0h0M511.6 733.2h0M510.8 731.0h0M509.1 739.4h0M518.9 737.8h0M514.4 731.1h0M520.0 735.2h0M516.3 730.5h0M516.1 722.4h0M520.7 735.9h0M518.0 739.1h0M521.8 739.0h0M515.3 737.1h0M518.9 732.3h0M514.2 729.3h0M516.0 738.8h0M510.4 736.8h0M509.2 730.1h0M516.7 733.2h0M520.5 739.5h0M510.5 735.4h0M515.8 737.3h0M515.7 735.5h0M510.4 736.5h0M511.4 730.8h0M516.3 738.7h0M511.3 733.7h0M519.0 738.2h0M514.4 738.1h0M519.1 740.0h0M519.9 739.3h0M510.9 738.4h0M513.9 719.2h0M508.8 731.6h0M508.6 729.9h0M520.9 739.0h0M509.1 721.3h0M517.8 733.4h0M517.9 726.3h0M510.4 737.5h0M510.0 738.3h0M518.3 739.9h0M516.7 739.9h0M509.6 738.3h0M510.3 734.9h0M516.3 739.5h0M509.5 736.6h0M509.9 717.9h0M508.2 737.8h0M517.2 738.8h0M517.3 738.7h0M512.2 734.5h0M514.6 736.6h0M517.0 739.4h0M510.5 724.9h0M515.4 733.2h0M515.2 737.9h0M518.9 732.8h0M509.2 735.5h0M519.6 737.9h0M512.0 732.1h0M513.6 730.6h0M511.7 731.6h0M517.1 731.6h0M518.8 738.5h0M515.0 722.1h0M513.1 740.0h0M519.7 739.8h0M519.2 733.3h0M514.6 724.5h0M508.5 720.7h0M520.6 732.9h0M518.1 739.5h0M511.7 735.8h0M514.5 721.8h0M514.8 739.6h0M514.3 738.2h0M521.1 740.1h0M518.9 733.4h0M515.6 734.8h0M508.4 726.0h0M518.7 735.9h0M510.1 727.3h0M515.7 734.6h0M518.0 738.9h0M511.2 729.5h0M510.9 739.8h0M514.1 726.0h0M509.7 730.3h0M510.9 736.0h0M519.3 731.8h0M510.7 735.1h0M512.7 724.4h0M509.6 739.1h0M508.5 727.3h0M521.4 735.6h0M514.3 730.6h0M512.0 738.1h0M520.0 740.1h0M517.0 738.1h0M508.8 739.7h0M511.2 732.4h0M514.5 727.4h0M516.9 735.2h0M514.7 740.1h0M509.8 718.6h0M518.8 737.3h0M513.6 739.9h0M510.1 734.1h0M519.0 734.6h0M520.7 738.2h0M511.0 729.4h0M512.5 733.3h0M517.7 729.9h0M511.8 735.7h0M509.8 739.7h0M512.9 725.2h0M512.0 739.2h0M516.8 740.0h0M517.4 727.8h0M518.9 728.2h0M515.2 739.7h0M514.7 737.2h0M511.8 738.6h0M513.8 721.0h0M510.5 716.1h0M514.5 740.2h0M518.3 728.4h0M517.2 736.9h0M521.0 735.5h0M516.2 737.2h0M518.1 738.5h0M508.3 735.4h0M511.8 733.8h0M512.3 726.7h0M514.3 739.1h0M509.3 737.0h0M519.3 736.2h0M519.1 730.9h0M515.5 723.9h0M514.2 727.0h0M521.3 739.2h0M514.7 723.0h0M516.9 740.2h0M510.7 721.5h0M508.8 731.6h0M513.7 732.3h0M510.4 735.3h0M513.4 719.9h0M518.4 738.2h0M514.9 735.0h0M512.2 738.7h0M510.5 720.8h0M513.9 738.0h0M520.9 736.7h0M511.5 720.9h0M514.3 739.2h0M518.6 733.6h0M512.5 737.1h0M518.8 739.5h0M515.8 729.8h0M514.0 740.1h0M513.2 739.7h0M515.0 731.9h0M510.3 737.2h0M519.0 739.2h0M508.7 738.2h0M508.3 732.0h0M517.5 733.5h0M508.8 727.2h0M518.2 739.7h0M517.7 738.9h0M517.0 733.9h0M510.1 734.4h0M520.0 740.0h0M520.0 732.2h0M519.5 738.4h0M508.1 728.2h0M508.3 730.8h0M516.0 738.6h0M509.5 730.4h0M515.9 735.7h0M511.4 724.6h0M512.5 726.6h0M515.6 739.8h0M512.1 733.9h0M511.0 737.5h0M516.9 720.5h0M517.7 739.2h0M514.4 736.8h0M514.7 736.0h0M509.1 731.1h0M516.6 738.0h0M515.8 715.3h0M521.0 739.2h0M516.0 738.9h0M520.9 736.0h0M519.5 739.7h0M512.1 735.2h0M518.3 739.6h0M513.2 720.1h0M511.0 728.0h0M511.2 714.3h0M511.7 710.4h0M514.7 717.0h0M515.4 735.0h0M512.3 734.7h0M517.9 739.6h0M511.3 740.2h0M522.3 739.9h0M518.9 737.9h0M510.7 737.4h0M517.1 725.6h0M510.7 734.6h0M515.6 735.5h0M518.9 736.8h0M514.0 735.4h0M516.4 736.2h0M516.6 728.5h0M514.6 718.1h0M510.6 731.0h0M508.8 714.0h0M509.4 737.2h0M511.6 719.3h0M511.5 720.4h0M517.1 736.6h0M518.9 739.3h0M516.2 732.0h0M520.0 737.4h0M513.5 731.7h0M512.2 734.0h0M512.8 736.1h0M510.2 722.7h0M516.0 734.2h0M510.0 737.7h0M517.7 724.5h0M514.2 736.5h0M516.1 734.9h0M517.9 734.5h0M517.7 732.4h0M517.5 735.0h0M508.1 730.0h0M520.3 738.3h0M512.7 736.0h0M514.9 735.0h0M508.3 735.1h0M513.6 738.9h0M516.7 736.7h0M516.5 720.5h0M514.4 714.3h0M508.7 738.7h0M508.1 730.3h0M520.6 732.7h0M518.6 737.9h0M510.8 738.8h0M522.7 740.0h0M510.8 731.7h0M509.9 722.8h0M508.7 737.4h0M510.2 738.1h0M512.7 735.3h0M513.9 737.5h0M513.9 736.9h0M520.2 738.6h0M517.7 732.4h0M510.2 715.7h0M512.8 740.0h0M512.4 738.8h0M513.3 731.1h0M508.7 729.1h0M512.0 734.8h0M519.7 739.9h0M509.5 737.6h0M517.0 732.9h0M522.0 739.5h0M517.8 732.8h0M517.8 725.4h0M512.7 725.4h0M518.8 739.9h0M512.7 736.9h0M511.1 736.9h0M510.2 733.3h0M511.1 733.5h0M520.6 733.5h0M519.9 734.9h0M520.3 732.0h0M520.6 738.4h0M512.1 736.2h0M515.7 736.9h0M520.4 739.7h0M515.1 728.4h0M514.1 736.3h0M513.8 727.8h0M510.8 738.3h0M515.1 735.8h0M516.9 728.9h0M516.4 735.2h0M513.8 720.9h0M514.1 718.0h0M513.9 739.5h0M522.3 740.1h0M516.7 731.0h0M519.8 738.6h0M508.9 725.4h0M520.4 740.2h0M518.6 736.8h0M513.6 738.6h0M514.6 739.5h0M519.2 731.0h0M508.4 723.3h0M509.1 739.7h0M514.2 738.5h0M516.7 734.8h0M514.3 720.6h0M518.2 735.2h0M512.2 732.6h0M514.0 734.9h0M517.3 735.3h0M511.9 736.8h0M510.6 713.6h0M514.5 730.5h0M513.4 726.3h0M508.9 734.4h0M515.0 730.0h0M514.8 739.3h0M517.7 737.4h0M510.3 737.9h0M509.5 728.3h0M513.5 724.1h0M518.6 734.1h0M508.3 731.2h0M518.8 731.6h0M508.9 734.9h0M510.2 721.6h0M517.2 730.0h0M511.3 709.7h0M521.3 739.2h0M508.3 732.6h0M515.3 724.7h0M514.1 736.8h0M512.5 738.7h0M508.2 738.3h0M515.7 725.4h0M517.5 739.6h0M508.1 726.0h0M514.4 732.8h0M513.9 731.1h0M509.6 739.2h0M513.7 736.4h0M517.7 738.7h0M508.7 738.7h0M512.4 739.1h0M520.0 740.0h0M516.3 724.6h0M512.5 709.7h0M517.4 737.9h0M512.3 733.3h0M518.2 740.0h0M513.1 738.9h0M512.3 738.5h0M512.6 740.0h0M521.5 737.8h0M517.1 740.1h0M515.7 738.9h0M519.2 737.9h0M509.8 733.3h0M516.5 731.0h0M516.0 733.4h0M519.5 738.5h0M512.3 729.8h0M509.3 739.1h0M510.6 739.9h0M511.5 736.8h0M522.0 739.2h0M511.2 722.6h0M510.9 731.1h0M512.7 738.7h0M511.7 739.0h0M512.6 737.1h0M518.1 736.6h0M519.9 732.6h0M514.9 734.9h0M520.2 735.4h0M508.8 735.2h0M511.4 730.6h0M508.7 732.9h0M509.6 736.5h0M515.4 739.8h0M521.6 740.1h0M514.0 732.8h0M517.9 727.5h0M512.4 739.3h0M510.9 737.0h0M515.0 734.4h0M510.7 736.3h0M520.0 739.6h0M514.7 711.9h0M514.1 728.4h0M520.9 735.6h0M513.8 733.6h0M509.4 732.3h0M520.4 737.8h0M517.6 734.6h0M508.8 736.7h0M508.3 720.3h0M510.1 738.9h0M513.8 732.3h0M512.7 731.6h0M512.6 734.8h0M510.8 738.4h0M508.5 727.6h0M511.6 737.1h0M510.7 733.3h0M518.8 733.9h0M510.5 721.6h0M518.5 734.3h0M513.4 739.5h0M510.7 736.9h0M515.3 735.3h0M516.2 729.8h0M514.6 737.2h0M516.6 736.6h0M512.4 730.4h0M519.1 738.7h0M509.4 731.5h0M514.1 729.9h0M519.0 739.8h0M512.5 739.3h0M508.8 736.1h0M514.1 739.4h0M509.8 739.5h0M522.4 739.9h0M509.1 716.8h0M519.5 740.1h0M513.9 735.3h0M512.7 715.6h0M511.7 719.6h0M518.7 739.0h0M509.8 735.9h0M515.5 731.1h0M515.4 725.0h0M511.0 738.9h0M520.3 737.8h0M510.3 730.1h0M512.8 738.5h0M515.9 735.7h0M511.7 735.3h0M514.1 728.6h0M514.2 729.3h0M519.6 733.1h0M519.6 732.7h0M512.8 740.2h0M517.3 739.0h0M516.9 735.6h0M516.4 733.7h0M508.4 714.1h0M512.5 735.9h0M516.4 737.7h0M509.8 736.2h0M518.4 732.7h0M521.4 739.6h0M510.0 734.9h0M513.5 736.1h0M514.9 736.9h0M520.8 740.0h0M511.6 739.5h0M519.1 736.6h0M512.1 711.5h0M514.3 730.7h0M513.4 738.9h0M513.8 739.1h0M521.5 736.9h0M508.1 734.1h0M513.6 734.7h0M515.9 739.3h0M520.0 734.9h0M508.6 740.0h0M510.5 736.3h0M508.9 737.4h0M513.7 739.5h0M516.1 737.1h0M512.2 728.9h0M518.9 736.8h0M518.0 731.0h0M515.3 737.9h0M519.5 735.6h0M511.5 736.7h0M516.5 736.8h0M515.7 738.9h0M516.1 724.0h0M510.6 735.8h0M515.0 740.0h0M517.4 728.6h0M511.4 731.2h0M519.1 732.8h0M512.1 736.9h0M511.7 737.4h0M508.4 725.5h0M512.5 716.3h0M516.8 736.6h0M513.0 739.4h0M517.9 727.8h0M516.8 739.2h0M517.1 732.7h0M513.8 728.3h0M518.1 731.3h0M510.5 739.3h0M517.5 738.1h0M521.9 739.0h0M513.7 736.9h0M516.5 726.9h0M513.1 736.3h0M512.9 738.5h0M516.5 729.8h0M516.9 731.8h0M509.3 735.8h0M509.7 731.8h0M519.7 739.3h0M518.3 736.3h0M516.4 725.5h0M513.1 738.3h0M512.0 737.7h0M517.8 732.0h0M519.4 734.7h0M511.8 737.3h0M522.5 739.3h0M510.7 723.6h0M508.9 738.1h0M522.0 737.8h0M512.8 730.9h0M511.0 719.1h0M510.4 728.2h0M515.5 739.0h0M512.6 737.7h0M518.4 738.7h0M513.5 711.0h0M513.1 739.8h0M516.1 733.0h0M515.4 730.3h0M516.2 720.2h0M518.3 725.0h0M517.9 732.3h0M511.2 727.2h0M513.3 736.8h0M515.2 733.4h0M515.6 737.8h0M511.0 732.9h0M511.9 728.1h0M510.6 729.7h0M511.3 717.5h0M516.1 728.6h0M516.5 731.7h0M509.0 737.9h0M511.1 728.2h0M512.3 734.8h0M516.0 737.8h0M514.5 737.8h0M510.5 714.6h0M509.3 734.5h0M515.4 737.6h0M508.6 733.1h0M512.2 730.3h0M511.0 727.2h0M510.4 716.0h0M511.1 737.5h0M518.6 732.2h0M517.4 740.1h0M514.1 737.0h0M508.8 731.7h0M515.3 737.9h0M521.4 739.7h0M519.7 733.1h0M516.6 727.8h0M516.0 733.3h0M517.1 739.2h0M510.8 737.9h0M516.5 737.4h0M512.5 734.5h0M514.3 723.8h0M515.3 731.8h0M511.2 728.1h0M518.6 732.8h0M513.3 736.6h0M509.4 736.2h0M519.0 738.5h0M513.7 737.8h0M511.6 729.9h0M521.5 738.7h0M517.2 734.8h0M519.4 738.0h0M508.8 737.9h0M517.2 739.4h0M517.1 729.9h0M515.8 734.8h0M516.8 735.7h0M518.3 736.7h0M516.8 724.4h0M514.0 733.6h0M514.6 716.7h0M520.6 737.6h0M517.4 725.3h0M510.2 740.1h0M515.0 734.7h0M521.2 739.7h0M509.1 732.3h0M509.7 718.5h0M518.7 736.0h0M521.3 739.7h0M516.8 730.0h0M512.7 735.1h0M517.4 738.2h0M514.3 732.8h0M518.0 737.9h0M522.5 739.7h0M521.1 738.8h0M512.4 735.4h0M516.7 730.9h0M517.1 734.8h0M520.1 737.3h0M513.7 739.9h0M517.6 730.1h0M515.0 727.8h0M518.4 735.5h0M516.3 737.0h0M512.2 738.4h0M512.5 734.2h0M512.5 727.4h0M515.8 721.3h0M510.8 737.0h0M511.1 721.5h0M511.0 724.1h0M509.6 737.1h0M509.4 731.7h0M520.7 738.8h0M511.1 730.3h0M520.5 739.7h0M510.4 734.1h0M513.5 730.8h0M517.2 732.4h0M516.3 737.1h0M510.9 736.3h0M519.8 737.4h0M519.0 737.4h0M518.2 727.4h0M511.7 712.1h0M518.8 735.1h0M516.3 731.7h0M516.3 739.5h0M509.8 736.9h0M515.6 737.0h0M509.6 716.6h0M508.5 739.6h0M519.1 727.5h0M518.5 737.1h0M519.8 730.6h0M509.5 739.0h0M510.9 735.3h0M514.4 725.6h0M520.2 733.0h0M514.4 719.7h0M511.7 723.6h0M514.5 738.8h0M511.4 732.7h0M509.1 716.8h0M516.9 727.0h0M508.2 731.2h0M521.4 739.2h0M508.2 737.2h0M514.9 738.6h0M520.0 734.8h0M511.3 732.8h0M510.2 717.5h0M514.4 728.1h0M516.6 719.8h0M516.4 731.5h0M521.6 736.2h0M508.1 738.7h0M514.9 734.1h0M514.6 717.5h0M520.5 739.8h0M521.5 738.6h0M510.9 738.5h0M511.6 735.6h0M511.8 733.8h0M512.6 737.8h0M514.1 737.6h0M513.1 733.8h0M511.2 725.0h0M516.9 722.0h0M508.8 734.0h0M509.2 729.3h0M508.9 730.9h0M511.8 733.1h0M512.1 724.9h0M512.4 735.7h0M509.2 740.1h0M517.4 731.3h0M514.0 738.6h0M520.6 737.2h0M519.8 739.3h0M510.6 734.1h0M514.9 737.9h0M510.8 724.5h0M515.7 734.9h0M514.7 717.1h0M518.0 733.6h0M511.0 711.4h0M512.6 734.4h0M512.1 731.3h0M514.3 712.6h0M512.5 718.1h0M513.8 729.4h0M517.4 729.1h0M518.3 726.5h0M516.2 735.3h0M518.8 739.5h0M519.3 734.7h0M509.0 738.4h0M514.1 717.7h0M517.2 737.3h0M510.0 738.1h0M514.8 739.4h0M508.8 726.0h0M509.4 724.1h0M519.0 737.0h0M508.2 738.0h0M515.3 738.2h0M517.2 739.0h0M513.9 740.0h0M512.0 736.0h0M514.0 734.8h0M513.1 729.1h0M516.4 738.3h0M518.5 728.6h0M512.4 736.2h0M512.5 727.3h0M509.8 740.0h0M518.1 732.1h0M514.4 736.5h0M512.8 733.5h0M520.4 738.5h0M513.9 737.4h0M512.5 733.9h0M515.5 735.4h0M510.0 740.0h0M509.0 735.2h0M508.3 734.5h0M512.8 733.8h0M514.9 733.0h0M519.6 739.0h0M512.2 739.4h0M519.4 740.1h0M513.6 737.7h0M515.7 730.3h0M511.0 738.6h0M512.5 735.5h0M517.7 729.4h0M521.7 739.0h0M509.0 734.3h0M518.5 733.9h0M514.3 721.1h0M517.8 739.4h0M522.0 738.5h0M510.6 738.8h0M517.5 738.8h0M508.1 738.3h0M518.2 738.5h0M515.3 719.6h0M508.6 726.4h0M510.6 729.4h0M512.0 728.7h0M516.5 719.7h0M508.4 721.6h0M508.2 734.9h0M512.1 737.3h0M512.9 733.4h0M509.3 736.8h0M513.6 735.0h0M512.9 728.7h0M512.8 733.8h0M514.4 734.8h0M510.2 738.9h0M520.0 731.7h0M511.7 710.0h0M511.0 726.6h0M518.6 737.1h0M513.6 738.5h0M518.6 735.3h0M516.0 720.2h0M513.7 737.8h0M519.7 729.6h0M511.6 734.1h0M519.1 738.0h0M516.1 738.0h0M512.0 730.7h0M511.8 736.4h0M510.4 726.3h0M518.8 738.7h0M510.6 738.9h0M510.0 723.6h0M512.1 736.8h0M519.5 735.9h0M519.7 739.5h0M510.2 726.4h0M510.1 732.3h0M510.4 736.3h0M515.9 733.1h0M519.6 739.1h0M510.7 734.0h0M519.4 732.9h0M516.0 733.9h0M520.4 735.9h0M519.9 739.0h0M509.0 740.1h0M511.2 717.2h0M509.8 721.5h0M514.0 740.0h0M514.1 730.5h0M520.0 736.9h0M517.2 733.4h0M517.9 739.0h0M520.6 734.2h0M516.2 728.4h0M520.4 732.3h0M515.2 739.6h0M508.8 739.3h0M513.3 733.8h0M515.1 734.2h0M522.3 740.1h0M513.5 739.5h0M511.8 739.6h0M509.0 734.7h0M517.3 733.9h0M513.2 729.0h0M517.2 732.3h0M508.5 721.5h0M508.1 731.4h0M511.0 719.6h0M512.9 731.7h0M518.7 736.8h0M515.8 725.7h0M518.5 736.3h0M508.7 737.4h0M515.4 734.9h0M518.5 736.1h0M508.3 732.2h0M508.2 737.4h0M519.4 733.4h0M517.5 738.4h0M517.8 739.4h0M512.0 724.3h0M514.7 718.6h0M514.1 736.8h0M510.7 731.2h0M516.0 740.0h0M518.7 739.6h0M518.5 735.3h0M521.5 738.8h0M511.0 739.8h0M511.5 740.1h0M516.2 739.0h0M510.0 734.3h0M513.7 723.9h0M511.4 729.3h0M519.3 736.2h0M519.7 738.7h0M508.3 737.8h0M518.8 734.4h0M514.7 735.2h0M519.7 738.7h0M522.7 739.9h0M515.9 739.0h0M520.6 739.1h0M511.9 730.5h0M518.5 737.6h0M511.2 730.7h0M510.0 739.0h0M515.1 733.3h0M515.9 733.3h0M517.8 739.0h0M510.9 738.1h0M509.1 739.1h0M518.2 736.3h0M509.7 717.3h0M509.1 734.7h0M510.8 737.8h0M515.1 737.0h0M518.9 727.1h0M512.2 738.2h0M508.5 736.1h0M510.8 739.1h0M509.8 727.5h0M509.1 739.7h0M516.9 723.5h0M510.9 739.1h0M515.0 737.7h0M516.3 734.7h0M509.1 721.4h0M520.1 739.8h0M509.6 732.7h0M512.2 737.5h0M516.3 732.1h0M518.0 734.0h0M514.2 737.3h0M518.8 738.7h0M509.7 731.0h0M520.5 732.1h0M512.3 735.0h0M519.1 740.1h0M513.4 739.8h0M514.8 726.8h0M517.6 735.2h0M513.7 738.3h0M509.4 739.0h0M518.8 737.0h0M512.2 730.6h0M511.8 736.1h0M513.9 738.4h0M517.1 728.5h0M516.5 735.9h0M516.8 740.0h0M513.1 718.0h0M509.3 736.2h0M518.2 739.8h0M519.4 733.9h0M520.9 736.5h0M519.8 739.1h0M521.2 737.7h0M509.2 736.1h0M519.0 738.6h0M516.0 738.5h0M518.3 737.0h0M509.3 739.1h0M519.4 732.1h0M520.5 739.7h0M512.5 736.9h0M515.5 738.9h0M514.7 734.0h0M518.7 735.3h0M508.4 736.7h0M514.4 737.7h0M515.3 740.1h0M518.0 736.2h0M510.3 740.0h0M513.8 740.0h0M515.3 720.2h0M510.6 737.5h0M520.0 739.2h0M516.2 738.3h0M515.6 735.2h0M517.6 740.1h0M510.9 722.2h0M517.7 739.5h0M513.5 716.2h0M519.1 739.3h0M508.3 719.1h0M516.5 725.4h0M518.2 735.2h0M520.9 740.1h0M512.4 738.6h0M508.5 736.9h0M511.5 734.5h0M512.0 732.9h0M509.7 736.6h0M514.5 736.6h0M513.4 727.0h0M518.8 735.0h0M520.0 739.1h0M518.6 736.2h0M509.2 737.0h0M513.6 732.0h0M511.7 739.1h0M509.3 740.0h0M508.3 738.3h0M517.5 740.0h0M516.3 736.0h0M511.6 738.3h0M516.1 733.9h0M518.3 733.9h0M512.8 728.4h0M513.8 739.0h0M508.4 731.0h0M514.5 729.1h0M508.4 725.5h0M511.1 700.6h0M509.2 734.7h0M532.4 732.8h0M539.4 740.0h0M529.5 735.0h0M528.9 733.3h0M535.8 732.4h0M526.8 739.7h0M538.2 710.4h0M536.4 702.9h0M529.2 734.0h0M527.7 737.4h0M530.0 738.0h0M536.1 738.8h0M535.0 738.4h0M538.5 728.1h0M537.7 738.4h0M538.5 734.3h0M534.6 720.4h0M535.1 728.8h0M536.3 728.2h0M532.6 708.0h0M535.9 739.4h0M536.9 731.7h0M530.7 721.1h0M533.8 728.6h0M536.6 735.6h0M533.4 720.2h0M529.3 735.0h0M533.2 738.6h0M530.6 730.3h0M535.2 708.0h0M538.3 670.9h0M527.7 738.3h0M534.2 725.9h0M537.3 733.5h0M531.8 728.2h0M533.1 733.1h0M534.3 739.3h0M530.4 721.4h0M537.1 734.8h0M539.5 736.8h0M536.3 727.2h0M535.3 731.1h0M527.6 736.7h0M532.8 728.7h0M532.8 715.3h0M531.4 718.5h0M536.1 710.5h0M537.5 736.5h0M538.1 672.1h0M531.3 738.0h0M538.9 739.3h0M530.1 738.8h0M535.1 733.5h0M535.6 726.6h0M534.1 732.4h0M527.0 734.6h0M527.0 734.6h0M534.4 737.5h0M539.2 739.7h0M538.1 718.4h0M525.9 738.3h0M539.3 734.0h0M538.6 735.0h0M531.8 738.1h0M539.6 703.0h0M533.9 739.1h0M534.5 715.0h0M528.0 730.7h0M533.4 707.1h0M534.0 711.3h0M529.9 736.3h0M531.6 737.0h0M532.3 736.5h0M534.6 739.5h0M536.4 735.1h0M527.6 731.8h0M535.1 730.3h0M533.5 740.0h0M532.5 721.8h0M538.8 724.5h0M526.0 739.4h0M536.6 731.6h0M538.2 736.6h0M535.9 733.7h0M535.6 733.6h0M537.0 733.3h0M536.9 732.1h0M537.8 730.9h0M529.4 723.6h0M539.3 713.0h0M536.6 701.9h0M533.6 737.4h0M538.5 719.1h0M533.7 707.2h0M533.2 738.0h0M528.4 723.2h0M534.4 737.5h0M539.0 730.9h0M537.0 736.0h0M535.6 740.2h0M534.6 702.0h0M539.3 717.6h0M531.7 727.1h0M534.8 724.7h0M528.6 735.8h0M528.0 736.9h0M536.5 730.9h0M530.2 735.8h0M537.7 736.6h0M536.2 731.5h0M534.6 738.5h0M538.0 732.3h0M536.5 721.8h0M527.8 731.3h0M530.3 732.0h0M531.1 727.5h0M538.9 738.7h0M535.7 724.0h0M527.7 739.3h0M539.7 719.7h0M533.8 718.3h0M534.1 718.8h0M533.6 738.0h0M529.6 715.8h0M533.6 720.3h0M533.8 730.9h0M535.4 699.1h0M529.7 732.7h0M532.3 734.6h0M539.5 728.9h0M535.4 726.2h0M536.1 739.0h0M535.4 731.3h0M533.9 726.1h0M527.5 735.4h0M539.6 726.1h0M530.0 733.3h0M531.3 722.5h0M532.8 719.8h0M533.0 730.4h0M535.5 732.7h0M534.7 725.9h0M539.0 717.2h0M526.3 739.4h0M526.8 733.0h0M539.3 739.3h0M527.7 732.0h0M532.5 726.1h0M531.0 740.0h0M527.6 734.0h0M526.9 739.2h0M534.3 729.8h0M534.0 722.5h0M538.2 728.1h0M538.1 733.9h0M533.2 710.2h0M526.6 734.2h0M534.2 723.6h0M528.9 725.8h0M526.2 738.2h0M536.9 720.3h0M531.2 728.3h0M537.0 738.2h0M534.0 719.7h0M537.4 735.2h0M539.4 739.9h0M529.9 733.6h0M539.0 735.2h0M528.7 738.5h0M531.3 738.7h0M537.5 703.2h0M532.7 706.4h0M529.4 739.1h0M535.8 723.5h0M533.2 738.7h0M532.7 704.6h0M538.0 721.6h0M527.8 731.1h0M528.9 723.5h0M534.7 730.6h0M527.6 738.8h0M531.7 727.3h0M534.9 723.7h0M531.9 709.2h0M535.2 738.7h0M530.0 736.8h0M538.1 737.6h0M529.1 740.2h0M531.2 726.8h0M525.7 739.0h0M526.3 735.8h0M535.2 729.0h0M534.5 735.0h0M537.4 738.2h0M528.6 731.5h0M537.7 727.0h0M532.2 723.7h0M539.4 739.0h0M535.7 734.6h0M538.0 739.2h0M528.9 733.1h0M529.6 725.1h0M536.3 733.8h0M533.1 732.1h0M538.1 734.2h0M533.0 740.0h0M532.6 715.8h0M538.5 739.4h0M539.0 736.7h0M530.1 722.0h0M527.2 731.0h0M529.4 736.0h0M534.2 733.3h0M531.2 723.1h0M529.7 732.7h0M527.3 737.3h0M532.6 716.0h0M535.2 738.0h0M536.5 735.3h0M536.2 732.3h0M530.4 729.6h0M534.9 737.5h0M537.2 720.6h0M535.1 738.0h0M538.8 736.4h0M534.6 734.2h0M528.5 733.4h0M538.2 732.4h0M537.8 737.0h0M529.8 729.2h0M530.7 739.4h0M538.7 735.4h0M538.5 730.2h0M533.7 703.6h0M531.2 708.0h0M527.2 738.3h0M535.1 735.4h0M539.2 739.7h0M531.8 734.3h0M527.3 740.2h0M535.4 728.0h0M535.8 738.1h0M527.9 735.4h0M535.8 728.7h0M531.2 731.7h0M527.4 731.8h0M538.2 735.3h0M537.7 740.0h0M539.4 727.4h0M539.4 735.4h0M537.4 735.8h0M529.9 734.3h0M530.6 738.2h0M539.3 727.7h0M538.8 740.0h0M534.1 725.4h0M528.0 736.7h0M532.4 740.1h0M538.1 733.3h0M532.4 720.3h0M527.9 734.8h0M533.0 727.6h0M527.8 730.4h0M530.8 709.1h0M538.7 705.8h0M535.2 734.6h0M529.7 739.0h0M533.2 733.9h0M532.2 714.2h0M528.2 732.1h0M535.5 736.1h0M539.2 737.8h0M535.8 725.6h0M535.6 739.2h0M536.8 739.3h0M539.5 731.8h0M536.4 738.8h0M527.3 739.0h0M536.4 736.7h0M533.5 734.0h0M535.5 735.3h0M537.9 738.1h0M527.2 735.7h0M536.8 719.0h0M533.6 719.9h0M530.6 710.8h0M536.3 738.8h0M527.1 736.0h0M528.9 736.2h0M529.2 727.4h0M535.8 725.7h0M535.0 734.9h0M526.9 740.0h0M538.5 740.2h0M532.6 720.2h0M538.6 735.2h0M539.3 732.9h0M535.1 722.4h0M534.5 718.3h0M534.0 736.2h0M526.2 737.2h0M535.2 734.2h0M536.9 735.2h0M539.5 738.9h0M527.3 736.6h0M534.9 737.5h0M529.1 739.1h0M526.4 739.9h0M529.8 732.5h0M537.8 733.0h0M529.7 725.0h0M535.8 698.2h0M531.2 719.3h0M528.1 739.2h0M537.7 736.7h0M539.7 736.9h0M532.9 736.8h0M534.7 738.1h0M539.7 725.4h0M538.5 737.7h0M535.3 730.6h0M538.6 737.5h0M530.1 726.4h0M528.3 738.0h0M538.8 737.9h0M532.6 719.1h0M538.0 713.2h0M532.5 740.1h0M536.1 717.2h0M535.8 730.6h0M531.7 737.4h0M534.5 695.7h0M539.3 737.9h0M533.8 735.8h0M539.1 720.2h0M529.3 732.2h0M530.4 732.8h0M537.2 733.1h0M530.1 721.1h0M529.8 724.9h0M533.9 718.2h0M536.7 720.3h0M527.4 730.5h0M531.8 716.4h0M539.0 737.4h0M536.0 730.0h0M539.2 736.4h0M527.5 729.1h0M538.3 728.0h0M527.0 739.0h0M538.3 733.7h0M531.8 736.5h0M539.1 708.3h0M529.5 725.4h0M534.1 716.8h0M532.3 714.8h0M539.6 706.9h0M530.3 735.9h0M531.9 734.5h0M531.2 721.1h0M534.3 720.9h0M537.9 732.1h0M528.0 736.5h0M533.9 738.6h0M529.9 725.2h0M534.3 739.8h0M534.2 723.4h0M528.1 731.6h0M528.8 727.3h0M529.4 725.2h0M527.6 739.5h0M536.4 714.7h0M533.4 735.1h0M531.3 738.1h0M533.1 731.4h0M527.6 733.8h0M529.1 737.4h0M530.6 736.5h0M526.3 739.7h0M532.0 726.5h0M539.3 692.7h0M534.2 731.2h0M536.5 738.5h0M530.8 734.8h0M538.1 697.5h0M529.9 728.5h0M527.6 739.0h0M539.6 740.1h0M536.2 731.8h0M528.7 736.5h0M538.7 738.0h0M539.6 733.4h0M538.5 714.0h0M536.3 735.8h0M534.6 737.3h0M530.1 731.8h0M526.0 738.7h0M538.0 703.1h0M534.3 731.7h0M538.3 733.8h0M529.4 739.5h0M528.0 736.7h0M538.1 729.2h0M536.9 712.1h0M527.1 733.7h0M534.5 734.4h0M534.1 735.9h0M529.3 729.6h0M530.9 740.2h0M532.9 738.9h0M527.9 727.4h0M538.1 719.5h0M533.6 735.3h0M532.8 735.5h0M532.9 734.6h0M526.1 739.3h0M533.2 738.1h0M530.0 736.9h0M537.4 738.8h0M528.7 739.5h0M539.3 713.1h0M530.5 736.4h0M527.7 730.1h0M538.3 727.9h0M528.2 731.9h0M531.3 737.9h0M538.0 731.3h0M534.4 728.0h0M538.1 720.6h0M527.6 738.0h0M533.2 736.6h0M534.6 730.5h0M532.9 732.5h0M530.0 733.7h0M531.7 737.6h0M531.2 736.4h0M533.6 737.6h0M528.4 725.7h0M534.3 734.7h0M526.8 735.5h0M528.4 725.9h0M528.6 737.0h0M539.1 736.0h0M533.7 719.7h0M533.8 732.9h0M538.9 728.2h0M534.6 740.0h0M533.1 725.8h0M529.3 721.8h0M536.9 705.7h0M528.1 733.9h0M537.2 737.7h0M533.4 735.5h0M539.3 716.5h0M535.2 708.8h0M527.8 738.3h0M530.4 716.5h0M537.3 726.3h0M537.3 700.3h0M532.6 737.6h0M532.1 735.4h0M539.4 709.4h0M531.3 733.5h0M533.5 736.2h0M536.5 713.7h0M539.0 724.3h0M529.9 723.9h0M533.7 739.2h0M529.6 738.4h0M538.4 735.6h0M532.2 728.6h0M529.0 734.7h0M538.0 734.7h0M538.0 721.5h0M536.7 723.9h0M526.6 734.3h0M526.4 738.1h0M531.3 734.5h0M536.5 732.1h0M529.8 739.7h0M528.7 726.3h0M537.9 740.2h0M529.9 738.4h0M536.8 738.9h0M530.3 726.5h0M539.7 736.2h0M536.3 738.2h0M537.6 738.5h0M539.2 737.2h0M536.5 729.9h0M536.4 719.7h0M538.5 728.7h0M533.0 727.4h0M533.5 738.8h0M537.2 732.1h0M531.5 740.0h0M535.9 735.6h0M534.7 725.6h0M528.7 722.6h0M535.6 715.6h0M530.8 736.6h0M530.1 731.1h0M531.3 736.8h0M534.2 728.1h0M535.0 736.9h0M539.6 706.6h0M529.7 727.6h0M529.5 725.1h0M531.5 713.8h0M532.5 738.0h0M537.7 724.1h0M530.0 735.0h0M538.7 734.7h0M538.0 729.5h0M536.3 720.6h0M535.1 731.0h0M536.0 729.5h0M531.8 718.6h0M539.0 735.1h0M534.3 709.0h0M537.7 735.3h0M526.2 737.0h0M531.3 739.1h0M538.9 736.6h0M537.3 739.8h0M537.1 714.7h0M533.3 737.7h0M536.1 735.4h0M532.5 729.8h0M539.5 727.9h0M532.7 737.4h0M537.8 736.6h0M531.5 736.8h0M533.6 733.2h0M537.8 666.4h0M534.2 719.5h0M537.8 730.9h0M528.4 737.7h0M531.6 732.4h0M528.5 738.3h0M538.5 735.1h0M532.3 738.6h0M534.5 734.2h0M534.6 691.6h0M536.1 738.8h0M530.9 738.0h0M539.3 702.3h0M530.2 725.6h0M534.5 733.1h0M530.5 736.8h0M528.9 728.5h0M530.1 738.5h0M530.2 726.4h0M534.6 740.0h0M531.8 737.1h0M529.0 732.8h0M537.6 739.1h0M533.8 738.3h0M534.7 727.7h0M535.5 733.1h0M539.6 738.3h0M527.8 736.4h0M539.4 738.4h0M527.3 732.9h0M537.8 722.0h0M534.8 729.9h0M536.5 731.0h0M538.1 739.6h0M530.5 728.4h0M536.9 717.9h0M533.0 736.2h0M538.3 738.5h0M529.0 737.4h0M534.0 730.5h0M534.9 738.3h0M534.6 711.3h0M533.6 722.6h0M532.5 734.8h0M528.8 735.0h0M535.7 737.8h0M526.8 740.2h0M529.9 738.2h0M534.4 733.5h0M527.7 734.2h0M533.9 738.1h0M537.9 734.8h0M534.9 723.7h0M531.2 740.1h0M526.7 734.4h0M530.8 740.0h0M529.0 738.5h0M531.7 706.0h0M529.3 725.2h0M539.4 737.4h0M534.9 733.2h0M534.4 726.3h0M530.7 738.1h0M533.9 700.0h0M538.7 729.1h0M529.3 728.6h0M533.0 739.0h0M530.6 737.8h0M535.2 737.0h0M536.2 737.7h0M539.1 729.8h0M536.7 714.5h0M529.5 718.2h0M533.0 721.4h0M532.7 737.9h0M539.6 721.6h0M537.0 727.3h0M533.9 727.4h0M536.8 740.2h0M533.3 735.1h0M538.4 737.3h0M536.7 738.4h0M529.7 738.5h0M535.9 716.9h0M537.6 731.2h0M534.4 739.7h0M526.9 736.6h0M531.7 727.5h0M536.2 686.6h0M534.7 709.7h0M532.0 719.0h0M528.6 727.9h0M538.1 672.2h0M526.3 737.1h0M531.9 739.2h0M534.3 700.6h0M532.6 716.4h0M528.4 739.2h0M532.5 733.3h0M534.6 739.1h0M529.9 733.5h0M535.8 724.2h0M531.8 728.3h0M534.7 731.8h0M529.6 720.5h0M537.1 734.5h0M539.0 726.6h0M539.1 726.1h0M536.7 728.7h0M528.0 731.2h0M527.6 730.2h0M533.7 711.1h0M527.0 735.2h0M527.1 731.9h0M531.7 739.3h0M533.0 727.8h0M531.6 733.2h0M533.0 734.2h0M529.0 736.2h0M528.0 738.4h0M530.9 739.4h0M535.2 730.4h0M527.2 734.3h0M536.5 717.2h0M536.3 739.3h0M528.0 730.4h0M530.9 723.3h0M530.2 738.8h0M538.0 740.0h0M539.7 697.2h0M536.9 717.2h0M530.2 732.3h0M536.5 739.6h0M531.8 727.3h0M537.9 724.7h0M532.8 722.1h0M530.4 737.6h0M537.3 738.8h0M538.9 738.3h0M539.5 733.5h0M527.6 739.1h0M530.6 738.1h0M531.4 734.8h0M533.9 738.0h0M528.9 723.7h0M528.2 729.5h0M536.9 721.7h0M531.9 736.4h0M527.5 738.3h0M532.6 714.1h0M526.9 736.7h0M534.2 731.1h0M528.9 734.6h0M537.3 718.7h0M532.7 726.5h0M526.2 736.1h0M536.7 737.7h0M531.2 723.4h0M531.9 739.2h0M528.0 737.9h0M528.4 730.6h0M536.2 728.9h0M530.6 728.2h0M536.6 738.6h0M534.5 738.6h0M532.1 729.1h0M537.7 739.9h0M537.0 734.0h0M536.1 728.4h0M539.0 717.5h0M529.2 720.4h0M528.2 736.6h0M534.3 739.8h0M531.2 730.5h0M528.6 729.0h0M539.4 719.5h0M525.9 739.7h0M534.3 716.9h0M535.3 740.2h0M536.0 696.9h0M537.0 729.2h0M530.8 715.3h0M538.1 737.0h0M529.7 724.5h0M528.1 739.7h0M536.7 724.2h0M528.5 735.5h0M528.6 731.4h0M530.7 736.2h0M533.0 732.1h0M528.3 735.2h0M535.1 737.1h0M539.2 721.0h0M539.3 731.8h0M530.1 738.9h0M533.0 724.0h0M535.6 738.2h0M526.0 737.5h0M536.4 734.3h0M534.7 732.3h0M533.7 715.0h0M531.1 736.3h0M529.1 730.7h0M539.5 705.1h0M539.2 720.8h0M538.8 697.7h0M535.5 702.5h0M533.2 721.2h0M539.6 734.7h0M533.6 737.8h0M534.0 739.1h0M531.8 738.0h0M531.7 731.7h0M533.5 739.9h0M537.7 724.2h0M533.3 735.5h0M529.4 733.0h0M531.2 735.8h0M533.1 730.6h0M531.0 739.9h0M537.5 726.6h0M527.5 740.0h0M530.2 739.0h0M530.9 731.9h0M535.0 718.0h0M529.6 737.7h0M534.2 739.9h0M531.3 738.3h0M534.1 736.1h0M538.9 729.2h0M536.9 719.6h0M537.8 689.7h0M532.4 737.1h0M528.1 733.0h0M537.5 736.6h0M534.5 738.1h0M532.6 730.7h0M539.7 737.6h0M528.8 729.3h0M532.0 726.6h0M536.2 735.1h0M528.6 735.0h0M535.6 735.6h0M528.1 737.3h0M530.0 739.2h0M538.5 735.4h0M532.3 725.0h0M537.2 735.2h0M532.3 709.7h0M529.8 736.6h0M533.9 727.8h0M526.6 735.1h0M531.1 738.9h0M533.5 739.1h0M539.3 736.4h0M534.8 704.2h0M533.7 724.3h0M535.8 699.2h0M538.3 727.4h0M539.7 726.1h0M531.1 712.5h0M536.6 730.2h0M537.0 732.0h0M530.2 733.4h0M527.5 730.1h0M534.9 737.5h0M532.8 732.4h0M531.1 739.7h0M533.7 736.5h0M527.2 731.2h0M532.5 728.1h0M528.5 736.1h0M528.3 738.3h0M527.4 739.3h0M536.0 739.1h0M538.2 717.3h0M538.8 711.7h0M530.1 722.8h0M535.0 731.6h0M534.5 693.1h0M532.5 734.6h0M532.0 738.7h0M539.0 728.9h0M539.5 731.5h0M539.6 718.8h0M530.9 726.3h0M535.2 740.0h0M526.5 735.8h0M531.0 726.3h0M534.3 721.3h0M539.6 729.5h0M535.9 739.9h0M537.1 738.1h0M536.3 726.7h0M532.3 705.2h0M533.0 732.4h0M532.9 728.5h0M536.0 718.0h0M531.9 739.8h0M536.8 693.4h0M527.9 731.5h0M535.0 728.1h0M534.8 730.2h0M526.8 735.3h0M531.4 734.6h0M529.6 731.2h0M537.2 713.8h0M539.1 739.1h0M532.8 696.6h0M534.6 736.2h0M533.5 738.9h0M531.6 740.0h0M537.6 727.6h0M536.2 727.9h0M529.8 734.7h0M539.7 730.8h0M533.0 736.0h0M528.7 728.6h0M527.7 737.3h0M528.0 727.6h0M535.8 723.0h0M539.0 708.7h0M533.7 727.4h0M530.8 731.3h0M539.2 725.7h0M535.9 730.9h0M536.9 737.5h0M534.6 739.3h0M529.7 728.0h0M539.4 736.2h0M532.3 737.8h0M529.9 733.3h0M532.6 732.5h0M531.6 732.2h0M539.3 739.0h0M536.7 736.3h0M539.4 735.8h0M538.2 710.3h0M532.4 736.5h0M530.6 739.4h0M538.4 726.5h0M536.9 735.5h0M529.0 739.7h0M536.6 740.0h0M536.0 734.2h0M535.0 731.1h0M529.1 723.9h0M533.3 698.7h0M534.6 735.1h0M531.8 718.0h0M526.7 733.6h0M536.4 710.8h0M534.6 720.8h0M533.8 734.1h0M537.3 730.6h0M531.2 727.8h0M539.2 726.3h0M528.4 736.1h0M532.6 737.9h0M537.5 737.8h0M533.9 717.5h0M536.1 726.0h0M529.7 738.8h0M534.2 731.4h0M537.1 734.6h0M533.3 738.8h0M536.6 739.6h0M529.9 723.7h0M530.4 739.5h0M539.0 733.6h0M536.6 737.7h0M536.1 725.5h0M538.0 724.4h0M532.9 739.1h0M532.2 736.4h0M526.2 737.7h0M537.1 728.4h0M535.7 739.9h0M535.6 717.6h0M539.3 739.6h0M528.6 727.7h0M531.8 713.8h0M529.6 736.0h0M535.9 729.2h0M539.7 702.2h0M537.3 738.3h0M529.9 727.7h0M531.4 738.4h0M530.0 734.8h0M534.6 709.9h0M530.5 736.2h0M533.6 730.7h0M526.2 736.7h0M534.6 734.8h0M535.0 701.8h0M533.7 718.8h0M533.7 739.9h0M528.4 734.7h0M530.5 736.7h0M539.3 729.5h0M532.8 732.5h0M535.3 697.7h0M539.5 732.8h0M530.5 732.3h0M537.2 722.7h0M528.4 724.2h0M531.3 721.5h0M532.4 737.9h0M528.9 739.5h0M526.9 734.2h0M535.0 738.3h0M534.0 718.6h0M529.0 737.4h0M537.1 732.6h0M526.6 737.3h0M538.0 721.5h0M528.1 727.8h0M531.9 734.1h0M528.7 739.6h0M537.1 735.2h0M530.0 731.5h0M534.3 739.4h0M537.4 739.7h0M534.4 731.6h0M537.1 723.7h0M537.7 738.3h0M536.3 738.4h0M528.6 733.9h0M537.5 728.6h0M535.7 735.2h0M535.4 740.2h0M539.0 728.8h0M529.2 726.2h0M528.0 734.5h0M539.2 732.4h0M527.2 732.6h0M538.4 730.7h0M532.6 734.5h0M535.4 726.3h0M525.7 739.4h0M533.9 726.3h0M530.8 722.6h0M533.9 726.2h0M533.3 739.1h0M536.0 713.7h0M530.4 740.1h0M535.0 736.2h0M536.2 722.7h0M538.7 738.5h0M539.6 726.8h0M536.0 731.9h0M529.1 736.6h0M530.1 731.8h0M536.0 737.1h0M528.7 730.6h0M536.4 728.8h0M534.4 705.5h0M539.5 736.4h0M532.0 716.7h0M529.3 736.8h0M538.3 697.7h0M530.5 732.8h0M537.8 733.2h0M531.1 716.9h0M537.7 738.7h0M532.9 733.5h0M536.3 724.2h0M532.6 715.3h0M536.2 724.0h0M536.0 738.9h0M529.9 714.3h0M536.3 737.4h0M535.4 740.1h0M535.9 713.5h0M538.4 738.2h0M532.3 737.3h0M536.7 738.9h0M532.4 738.2h0M536.3 733.6h0M534.6 731.8h0M539.1 734.7h0M533.8 736.9h0M534.5 738.9h0M526.3 737.1h0M535.3 714.9h0M529.4 738.8h0M539.1 735.5h0M534.0 737.5h0M529.6 724.6h0M530.0 738.3h0M530.6 736.5h0M537.9 731.8h0M530.3 723.1h0M534.3 738.1h0M537.3 725.3h0M538.6 709.9h0M537.9 739.4h0M539.3 729.1h0M526.0 737.9h0M536.3 740.2h0M530.3 719.1h0M534.2 737.9h0M539.5 704.2h0M531.1 724.9h0M535.9 736.5h0M535.8 706.1h0M534.4 725.1h0M537.1 716.7h0M527.6 735.4h0M534.0 727.9h0M534.1 731.0h0M526.5 737.5h0M535.3 716.7h0M533.2 738.2h0M537.9 738.0h0M535.3 729.9h0M537.7 738.1h0M534.0 735.8h0M534.6 709.8h0M528.9 736.0h0M530.9 731.0h0M536.4 739.8h0M535.5 740.0h0M526.7 736.4h0M530.6 728.7h0M538.8 720.9h0M531.1 722.6h0M528.6 733.7h0M538.0 724.6h0M539.3 735.3h0M539.6 731.9h0M535.2 739.5h0M527.0 738.5h0M537.9 733.7h0M527.2 739.4h0M526.6 736.7h0M538.0 730.2h0M538.3 726.4h0M532.7 733.6h0M532.6 732.8h0M528.1 735.2h0M535.3 735.4h0M529.3 739.7h0M534.6 740.1h0M538.0 736.2h0M536.2 716.5h0M528.8 737.7h0M532.4 707.5h0M533.5 738.2h0M529.6 737.7h0M538.0 739.2h0M532.8 731.1h0M534.3 738.1h0M528.5 737.8h0M534.1 737.3h0M536.8 737.5h0M535.9 739.1h0M534.0 736.3h0M538.8 730.5h0M538.9 723.3h0M531.7 732.2h0M533.0 737.4h0M530.1 725.8h0M529.8 736.9h0M534.3 738.7h0M533.0 714.7h0M537.1 736.5h0M534.5 733.6h0M529.0 729.6h0M537.3 736.6h0M533.0 735.1h0M536.2 732.5h0M530.2 735.1h0M531.3 715.1h0M527.6 737.7h0M538.9 737.4h0M528.8 739.6h0M527.5 732.0h0M533.8 739.4h0M529.5 723.4h0M534.3 729.0h0M539.0 727.4h0M529.1 728.8h0M539.1 716.8h0M531.3 735.1h0M533.3 735.7h0M528.1 731.1h0M529.1 728.2h0M537.8 740.1h0M534.6 739.7h0M532.3 735.4h0M527.0 734.8h0M533.5 713.6h0M535.0 737.3h0M531.5 704.6h0M534.5 723.9h0M535.7 730.3h0M533.2 738.1h0M537.0 733.7h0M537.5 729.6h0M530.8 734.4h0M538.9 703.0h0M537.9 734.5h0M531.1 735.8h0M537.8 738.2h0M536.3 731.3h0M533.4 737.9h0M531.1 740.1h0M539.1 732.9h0M536.4 739.6h0M530.0 739.6h0M531.2 730.5h0M534.4 693.5h0M531.5 739.9h0M533.3 737.4h0M528.9 740.2h0M529.7 739.3h0M529.6 735.4h0M534.6 736.7h0M533.1 732.1h0M539.2 726.1h0M528.5 736.8h0M534.9 703.7h0M533.3 734.6h0M536.1 733.7h0M530.6 736.2h0M533.5 731.0h0M535.0 714.2h0M529.8 725.5h0M531.7 717.9h0M536.6 737.5h0M532.7 731.1h0M539.1 731.9h0M535.0 735.4h0M532.6 739.1h0M529.8 739.9h0M532.1 738.2h0M539.4 715.4h0M532.6 738.9h0M535.7 737.0h0M531.0 729.9h0M531.5 735.3h0M534.3 738.5h0M536.6 738.2h0M536.3 734.5h0M536.7 731.9h0M528.8 731.3h0M527.8 732.9h0M533.2 739.9h0M535.7 735.5h0M533.0 734.6h0M527.7 736.3h0M529.4 737.8h0M539.5 737.7h0M531.3 733.7h0M536.6 738.8h0M533.3 733.8h0M538.5 736.9h0M528.4 727.8h0M530.0 727.1h0M528.9 725.2h0M534.6 740.2h0M536.5 708.6h0M528.3 734.7h0M538.2 718.6h0M535.7 718.9h0M536.5 735.6h0M536.2 737.3h0M530.1 736.6h0M537.2 738.5h0M528.0 733.5h0M529.4 722.3h0M528.6 737.4h0M533.4 739.7h0M530.2 729.2h0M534.4 738.7h0M528.8 732.3h0M531.3 732.7h0M528.7 723.2h0M534.8 737.6h0M526.4 739.5h0M534.1 710.4h0M533.3 731.9h0M533.0 731.4h0M534.8 690.7h0M537.5 729.4h0M534.1 731.1h0M536.2 723.6h0M530.7 730.4h0M533.0 735.2h0M532.8 723.0h0M530.6 736.6h0M539.3 722.7h0M538.0 733.0h0M533.3 729.1h0M537.2 735.7h0M533.0 714.1h0M535.4 736.7h0M535.6 732.5h0M531.8 738.9h0M536.5 730.4h0M535.2 734.8h0M533.7 718.4h0M529.4 729.7h0M531.2 737.0h0M527.2 739.8h0M536.7 713.6h0M529.7 736.8h0M538.9 734.3h0M533.9 722.3h0M537.6 731.8h0M535.5 714.7h0M533.3 711.1h0M527.9 737.9h0M533.1 715.8h0M534.5 734.7h0M526.6 737.1h0M531.4 738.3h0M537.1 715.7h0M531.0 737.2h0M538.7 732.7h0M534.5 727.2h0M526.5 738.0h0M537.3 730.5h0M539.1 714.5h0M531.2 739.7h0M528.4 739.7h0M531.0 729.4h0M536.1 677.3h0M531.9 723.4h0M529.2 739.5h0M529.3 722.3h0M526.8 735.6h0M534.8 737.1h0M536.7 723.9h0M530.8 733.6h0M528.1 739.0h0M527.8 732.7h0M532.0 718.1h0M536.5 739.2h0M529.9 733.9h0M537.7 728.8h0M529.2 737.2h0M531.3 721.8h0M528.4 726.5h0M536.0 724.0h0M526.6 739.9h0M530.3 739.9h0M531.9 721.5h0M533.3 731.8h0M538.0 731.7h0M538.4 696.5h0M533.7 719.8h0M532.8 737.3h0M538.6 735.4h0M532.7 727.7h0M530.6 725.9h0M527.9 736.6h0M527.6 736.1h0M534.2 733.7h0M531.5 730.2h0M538.7 737.4h0M535.1 721.4h0M534.1 729.1h0M533.8 697.5h0M530.0 732.9h0M538.4 739.6h0M536.7 740.0h0M528.8 739.0h0M534.1 736.2h0M531.8 730.3h0M531.4 733.9h0M530.5 731.0h0M527.9 733.8h0M529.8 736.0h0M534.8 738.2h0M537.4 740.1h0M528.8 730.1h0M530.2 721.8h0M529.7 729.8h0M532.1 713.8h0M536.8 734.3h0M535.5 734.7h0M528.8 740.1h0M529.6 738.3h0M529.1 736.9h0M533.8 739.6h0M534.8 722.0h0M531.4 732.9h0M526.4 737.8h0M538.2 730.5h0M532.0 733.4h0M534.6 739.6h0M531.0 725.7h0M530.8 718.5h0M539.4 726.7h0M539.1 736.1h0M528.4 728.3h0M527.2 736.4h0M526.6 736.8h0M537.6 729.4h0M534.5 734.4h0M527.9 738.8h0M529.7 728.0h0M531.8 734.4h0M532.8 723.2h0M536.9 738.7h0M533.5 729.2h0M539.5 706.9h0M532.0 734.9h0M529.5 736.4h0M538.4 737.3h0M529.0 738.9h0M532.8 728.7h0M533.8 735.7h0M530.2 732.3h0M536.8 739.7h0M533.8 729.3h0M538.7 732.1h0M535.3 701.7h0M534.3 738.6h0M531.0 728.8h0M530.9 738.2h0M539.4 724.5h0M532.4 728.9h0M534.5 723.7h0M533.2 718.6h0M533.6 728.1h0M536.0 734.5h0M534.8 718.0h0M532.1 725.8h0M531.7 732.8h0M532.3 726.9h0M531.1 728.4h0M532.2 724.1h0M531.3 733.2h0M531.6 713.9h0M527.4 736.4h0M530.2 737.9h0M537.6 738.3h0M531.2 714.3h0M530.0 739.9h0M539.3 736.0h0M538.4 734.4h0M526.5 737.4h0M539.1 724.8h0M530.5 727.6h0M530.2 736.1h0M535.9 739.3h0M535.8 737.3h0M530.0 731.9h0M528.4 733.2h0M534.8 739.5h0M538.3 702.8h0M533.3 736.2h0M532.2 731.5h0M533.7 723.9h0M534.5 736.8h0M531.8 717.7h0M529.1 739.0h0M530.5 732.4h0M536.2 738.0h0M528.0 731.0h0M528.7 723.2h0M534.2 729.3h0M538.6 715.8h0M538.6 739.8h0M537.6 726.4h0M536.3 716.8h0M534.0 702.8h0M530.1 727.7h0M532.5 731.0h0M531.8 715.7h0M537.9 722.8h0M528.2 726.2h0M531.1 731.2h0M533.8 707.1h0M531.3 730.8h0M532.9 721.7h0M527.7 740.1h0M527.6 729.4h0M526.8 737.6h0M527.9 727.0h0M534.8 717.8h0M529.1 738.8h0M535.4 735.0h0M536.2 738.4h0M536.9 735.5h0M533.2 725.9h0M531.6 731.6h0M534.1 724.8h0M538.4 724.4h0M528.4 735.8h0M536.8 733.2h0M527.8 736.5h0M533.9 732.9h0M528.1 732.7h0M536.2 728.3h0M536.8 719.4h0M531.4 739.7h0M527.4 737.3h0M534.9 724.2h0M528.8 727.4h0M537.0 727.1h0M529.3 735.4h0M534.4 724.6h0M532.4 731.9h0M534.5 736.7h0M527.8 726.5h0M527.3 732.7h0M532.1 732.7h0M528.9 727.6h0M529.4 735.0h0M537.0 726.6h0M539.1 733.8h0M531.0 738.8h0M528.8 738.7h0M537.2 740.0h0M530.5 735.3h0M536.2 734.9h0M539.0 708.5h0M538.2 720.9h0M536.5 738.5h0M537.9 691.0h0M526.7 738.5h0M538.7 739.2h0M537.6 697.1h0M530.1 718.5h0M530.3 724.0h0M531.3 739.7h0M533.7 729.0h0M531.5 739.9h0M528.8 737.6h0M532.4 724.6h0M532.9 732.6h0M529.8 730.5h0M536.4 737.7h0M536.8 733.2h0M526.1 739.8h0M536.7 734.5h0M538.0 736.1h0M531.1 725.2h0M532.9 728.8h0M525.9 738.9h0M525.5 740.0h0M532.0 738.8h0M528.1 738.8h0M531.2 735.7h0M530.8 735.9h0M531.7 737.5h0M534.6 721.1h0M535.5 738.1h0M538.5 735.5h0M531.0 734.3h0M537.9 725.3h0M536.2 739.7h0M533.7 737.9h0M529.9 737.9h0M539.1 732.4h0M530.7 736.2h0M527.5 732.0h0M539.0 736.7h0M526.4 735.5h0M538.5 718.4h0M536.7 734.9h0M534.7 731.7h0M539.7 740.0h0M530.0 738.0h0M539.0 739.1h0M539.2 737.5h0M533.0 714.9h0M529.1 726.6h0M533.3 732.0h0M529.3 734.7h0M530.9 735.8h0M532.9 733.5h0M539.3 740.1h0M536.2 734.2h0M536.1 728.6h0M533.1 740.1h0M532.7 720.1h0M535.4 731.7h0M530.9 739.0h0M532.0 731.4h0M535.1 731.4h0M533.1 738.8h0M538.4 739.7h0M536.3 727.4h0M536.2 736.8h0M534.2 724.1h0M533.4 737.4h0M538.0 736.2h0M528.3 739.1h0M539.5 724.1h0M535.8 732.4h0M534.3 732.1h0M534.4 723.0h0M533.9 735.8h0M536.8 733.8h0M528.1 734.1h0M535.7 724.1h0M532.8 735.3h0M534.9 725.0h0M537.1 715.0h0M535.0 730.5h0M529.2 737.0h0M537.7 727.8h0M536.1 734.2h0M539.5 729.0h0M528.6 738.8h0M536.4 729.8h0M536.0 709.4h0M527.2 732.5h0M527.4 733.5h0M534.9 708.6h0M538.5 730.2h0M536.8 721.4h0M529.3 736.4h0M532.1 709.3h0M534.5 734.6h0M535.4 724.2h0M528.6 739.1h0M534.8 720.5h0M531.8 732.7h0M532.6 737.8h0M538.2 735.6h0M534.7 730.5h0M535.4 712.3h0M530.5 734.7h0M528.3 735.7h0M538.3 711.1h0M539.6 739.1h0M535.6 715.0h0M529.5 728.6h0M530.7 734.7h0M526.6 737.2h0M538.3 715.6h0M537.1 717.3h0M533.0 728.8h0M531.2 738.9h0M535.0 724.2h0M533.1 723.2h0M539.3 710.1h0M535.0 726.9h0M527.6 738.8h0M538.7 733.8h0M536.7 732.3h0M531.7 737.1h0M528.5 725.8h0M535.8 727.5h0M535.6 737.2h0M529.2 738.0h0M534.4 709.3h0M530.5 738.9h0M529.3 727.1h0M534.2 728.8h0M531.9 731.0h0M538.2 737.7h0M534.4 725.5h0M533.0 738.5h0M532.5 732.9h0M527.6 731.1h0M528.5 737.3h0M527.0 738.0h0M536.9 733.4h0M538.5 707.1h0M532.3 734.7h0M528.4 724.1h0M534.5 700.2h0M538.2 729.0h0M535.6 734.2h0M539.3 734.6h0M536.8 714.0h0M532.0 737.8h0M533.6 735.1h0M526.7 739.3h0M537.0 703.3h0M535.5 734.2h0M529.6 738.9h0M538.1 727.3h0M527.9 730.5h0M533.3 736.9h0M534.4 727.0h0M531.5 734.3h0M533.0 734.3h0M536.7 734.4h0M536.4 737.2h0M531.4 717.8h0M532.1 715.2h0M530.5 725.9h0M538.7 732.1h0M531.8 725.5h0M529.4 726.3h0M527.6 739.5h0M535.8 723.5h0M535.2 720.6h0M530.0 737.5h0M531.5 728.1h0M526.5 739.9h0M531.3 739.3h0M538.1 720.1h0M533.4 719.4h0M528.7 728.9h0M535.6 738.0h0M534.3 739.9h0M527.4 733.7h0M533.5 735.9h0M529.5 734.0h0M534.1 732.6h0M528.4 723.6h0M530.5 729.4h0M537.4 736.5h0M537.5 734.7h0M527.1 739.7h0M529.4 737.9h0M538.8 738.3h0M530.5 734.1h0M539.3 726.2h0M529.9 737.6h0M530.3 740.1h0M533.3 737.8h0M533.8 734.8h0M528.6 738.5h0M528.8 739.0h0M538.5 731.7h0M532.5 740.0h0M537.8 721.9h0M536.4 701.6h0M529.7 737.5h0M530.1 735.0h0M537.6 731.2h0M535.8 737.2h0M533.0 737.8h0M528.2 728.0h0M537.3 725.4h0M531.0 725.3h0M535.5 737.9h0M531.4 739.3h0M526.5 739.0h0M531.4 721.3h0M535.1 727.1h0M532.2 739.1h0M529.6 724.5h0M538.4 739.8h0M538.3 722.8h0M527.3 729.6h0M539.5 738.1h0M538.2 704.9h0M536.8 711.1h0M532.9 726.1h0M532.2 732.0h0M535.1 722.1h0M529.5 724.6h0M526.3 739.4h0M528.9 719.8h0M537.2 718.3h0M531.3 729.3h0M529.0 732.8h0M533.5 739.4h0M535.5 721.6h0M539.4 729.6h0M533.6 725.1h0M532.3 733.6h0M538.9 718.5h0M531.6 739.7h0M529.5 730.8h0M532.0 739.6h0M535.7 720.1h0M527.7 732.3h0M538.2 721.3h0M539.0 737.9h0M535.1 707.5h0M530.6 712.6h0M538.5 707.7h0M531.1 727.9h0M527.1 736.1h0M528.4 731.4h0M539.0 737.2h0M537.0 739.6h0M535.8 736.8h0M539.5 739.6h0M530.7 717.1h0M533.2 724.2h0M539.5 730.0h0M530.5 733.1h0M538.5 733.4h0M535.7 739.0h0M534.5 731.4h0M539.7 697.5h0M535.4 735.6h0M537.0 725.8h0M536.7 719.2h0M532.7 730.7h0M529.5 736.4h0M527.6 738.0h0M539.4 739.7h0M530.6 736.8h0M537.3 734.0h0M530.9 732.7h0M533.9 737.8h0M533.7 698.8h0M539.6 733.1h0M534.3 726.8h0M538.7 736.0h0M536.7 739.0h0M536.0 733.8h0M532.0 724.2h0M528.9 736.1h0M535.0 730.6h0M534.4 730.6h0M530.5 736.9h0M527.9 736.9h0M529.4 737.4h0M529.9 727.7h0M531.7 735.8h0M530.9 727.6h0M532.8 737.0h0M532.5 729.0h0M530.5 730.3h0M533.6 722.5h0M528.6 731.9h0M531.4 717.6h0M538.7 730.3h0M536.1 739.8h0M533.4 739.6h0M532.3 731.7h0M536.8 737.3h0M532.0 730.2h0M535.0 684.6h0M533.1 702.5h0M534.2 735.2h0M538.4 714.5h0M530.7 736.0h0M531.4 740.2h0M539.5 732.4h0M539.6 734.2h0M531.3 739.6h0M538.4 732.7h0M529.7 726.2h0M533.3 730.1h0M526.8 738.3h0M529.5 739.4h0M530.0 737.0h0M538.2 740.1h0M536.6 733.9h0M533.1 734.1h0M532.6 738.2h0M537.2 726.0h0M536.7 722.4h0M533.8 740.0h0M536.9 739.8h0M535.2 735.7h0M535.8 727.7h0M528.0 736.9h0M532.0 719.7h0M538.7 726.3h0M538.7 723.4h0M529.4 723.8h0M535.4 725.6h0M528.0 737.2h0M536.6 723.1h0M530.9 715.7h0M533.1 736.3h0M529.1 726.6h0M535.1 731.2h0M536.1 726.2h0M540.0 739.9h0M537.6 739.5h0M538.3 738.8h0M521.7 739.9h0M508.4 740.2h0M535.9 740.2h0M540.1 739.5h0M517.6 740.1h0M512.4 740.1h0M514.3 739.8h0M519.2 739.1h0M508.5 740.1h0M537.2 740.1h0M537.8 739.6h0M519.0 739.9h0M539.0 739.7h0M533.5 739.8h0M515.9 740.2h0M540.9 739.0h0M513.3 740.0h0M509.2 740.0h0M524.8 739.9h0M537.1 740.1h0M509.2 738.9h0M535.7 739.7h0M519.2 739.7h0M516.2 739.2h0M516.7 739.1h0M538.5 739.5h0M521.6 740.0h0M531.1 739.9h0M509.3 739.4h0M507.0 739.8h0M512.4 739.8h0M507.4 740.0h0M522.8 738.8h0M541.0 739.9h0M540.2 740.2h0M514.1 739.7h0M507.3 740.0h0M514.8 740.0h0M537.7 739.3h0M519.3 740.2h0M532.7 739.8h0M531.7 739.9h0M524.2 739.6h0M516.9 739.8h0M516.3 740.2h0M530.2 739.8h0M518.2 739.8h0M540.9 738.8h0M515.7 739.4h0M540.7 739.2h0M508.5 739.8h0M537.3 740.0h0M535.2 740.0h0M529.0 739.9h0M529.9 738.7h0M507.5 740.1h0M512.3 740.2h0M509.4 739.9h0M540.2 739.4h0M534.2 738.7h0M539.8 740.0h0M506.9 739.9h0M510.0 739.8h0M524.0 739.9h0M507.1 740.1h0M516.9 738.7h0M538.9 739.6h0M522.4 740.2h0M513.8 740.2h0M537.8 739.4h0M520.6 739.5h0M521.8 738.9h0M518.9 740.1h0M528.1 740.2h0M530.6 740.1h0M530.0 739.8h0M511.4 738.8h0M520.9 739.2h0M515.7 738.8h0M523.5 740.0h0M524.5 739.1h0M512.0 739.0h0M538.4 739.2h0M525.6 738.7h0M514.1 740.2h0M512.8 738.8h0M509.1 739.9h0M513.5 740.2h0M532.9 739.8h0M512.9 739.9h0M517.8 740.1h0M509.4 740.1h0M514.1 740.2h0M537.0 740.2h0M517.8 739.6h0M507.9 739.5h0M536.4 739.4h0M523.7 738.6h0M518.2 739.0h0M511.1 740.0h0M529.0 739.0h0M517.9 740.1h0M537.7 740.1h0M524.9 740.2h0M517.8 739.1h0M511.1 740.1h0M531.0 739.9h0M525.2 740.1h0M511.9 739.3h0M525.1 740.1h0M526.4 739.1h0M524.6 739.2h0M528.3 739.3h0M528.6 739.3h0M519.5 739.7h0M518.2 739.7h0M530.8 740.0h0M516.2 739.5h0M511.9 740.1h0M522.9 739.7h0M514.4 739.5h0M538.4 739.6h0M526.9 739.4h0M534.4 740.1h0M518.5 739.7h0M513.7 739.1h0M528.2 738.9h0M522.8 740.2h0M515.5 739.5h0M518.1 739.1h0M507.5 739.6h0M510.2 739.7h0M540.3 740.0h0M531.5 740.2h0M530.9 739.2h0M519.5 739.6h0M528.3 739.2h0M531.4 739.6h0M523.3 738.9h0M507.3 739.8h0M531.7 739.5h0M525.5 740.1h0M511.9 739.3h0M514.3 739.3h0M527.2 740.2h0M520.3 740.1h0M510.0 739.4h0M514.5 739.4h0M520.5 739.2h0M513.7 739.1h0M517.3 739.3h0M527.2 739.2h0M522.3 739.6h0M517.3 740.1h0M532.0 739.6h0M521.5 738.7h0M519.9 740.2h0M535.7 740.0h0M538.5 739.7h0M534.8 740.1h0M522.1 739.1h0M540.3 739.7h0M507.8 738.9h0M514.2 739.8h0M530.4 739.4h0M520.5 738.7h0M511.9 739.8h0M530.0 740.2h0M508.7 739.4h0M532.9 740.1h0M512.4 740.2h0M531.7 739.3h0M532.1 738.8h0M521.6 739.5h0M520.1 738.7h0M534.0 739.0h0M532.6 739.7h0M520.0 738.7h0M522.6 739.2h0M513.5 738.9h0M510.2 740.2h0M522.7 739.3h0M526.4 739.1h0M508.1 739.6h0M521.3 740.1h0M532.9 739.6h0M532.0 738.8h0M517.5 738.9h0M520.7 739.2h0M519.1 738.9h0M514.4 739.3h0M537.0 738.9h0M526.4 739.9h0M518.8 740.1h0M535.1 739.5h0M516.8 738.9h0M512.7 739.0h0M528.4 739.3h0M531.1 740.1h0M509.9 740.1h0M526.8 738.6h0M529.2 739.9h0M522.3 738.9h0M528.4 738.8h0M522.0 739.2h0M534.4 738.6h0M514.5 739.4h0M529.2 739.5h0M533.4 740.1h0M514.2 738.7h0M523.8 739.9h0M509.6 739.7h0M517.9 739.4h0M516.0 738.8h0M524.7 739.8h0M526.1 740.1h0M518.1 738.7h0M536.6 740.1h0M530.9 739.5h0M511.7 738.8h0M518.9 739.9h0M525.2 739.7h0M534.7 740.0h0M532.4 739.5h0M540.5 739.0h0M518.7 739.3h0M533.7 740.2h0M514.7 740.2h0M524.3 739.0h0M516.8 740.0h0M521.1 740.0h0M507.0 740.1h0M520.3 739.3h0M512.2 739.3h0M510.5 739.4h0M539.8 739.1h0M512.0 738.9h0M520.4 739.0h0M526.2 739.0h0M534.1 739.0h0M523.4 739.8h0M523.9 739.0h0M526.3 740.1h0M525.8 739.6h0M526.5 739.1h0M516.7 738.9h0M539.1 739.8h0M538.3 740.2h0M526.3 738.9h0M522.0 739.0h0M510.0 739.8h0M517.8 739.6h0M524.7 739.4h0M522.0 739.0h0M508.8 739.2h0M540.6 740.0h0M519.7 738.8h0M507.9 740.2h0M516.9 739.9h0M511.2 739.9h0M535.3 739.9h0M537.6 739.8h0M531.2 740.2h0M528.0 739.2h0M517.0 740.0h0M515.6 739.9h0M530.9 739.1h0M514.6 740.2h0M512.8 740.2h0M518.2 740.0h0M534.6 739.1h0M519.2 738.8h0M512.4 739.0h0M514.4 738.8h0M537.9 740.1h0M526.5 740.1h0M539.9 739.5h0M539.0 739.4h0M540.1 740.2h0M528.9 740.0h0M530.0 740.2h0M537.2 740.2h0M509.9 738.7h0M513.4 739.9h0M528.0 738.8h0M522.4 739.2h0M527.2 739.1h0M529.5 739.8h0M518.1 740.0h0M515.5 739.2h0M527.8 740.0h0M514.7 739.5h0M517.3 739.8h0M516.7 739.0h0M527.4 739.2h0M537.1 740.0h0M507.5 739.1h0M507.2 740.2h0M510.1 740.0h0M535.1 739.7h0M516.0 739.0h0M539.0 738.8h0M509.9 740.0h0M534.1 739.5h0M541.0 740.1h0M537.9 740.2h0M526.3 738.9h0M513.9 739.7h0M535.2 740.1h0M538.4 740.0h0M533.7 739.9h0M509.7 739.8h0M527.7 739.5h0M534.8 740.1h0M513.6 739.5h0M530.6 740.2h0M535.3 739.6h0M513.2 739.1h0M512.9 739.1h0M523.4 739.7h0M535.1 739.3h0M529.6 739.6h0M523.0 740.2h0M537.7 738.9h0M537.9 739.3h0M540.4 739.6h0M533.4 739.4h0M514.5 740.2h0M527.3 739.9h0M539.2 740.1h0M510.2 739.8h0M517.0 739.0h0M512.8 739.1h0M537.8 739.3h0M529.8 740.2h0M535.0 738.6h0M536.1 739.8h0M527.5 738.6h0M528.2 739.8h0M519.0 739.3h0M520.8 740.2h0M540.8 740.0h0M539.2 739.7h0M532.1 738.7h0M527.3 739.0h0M523.9 740.1h0M519.0 740.2h0M508.3 739.5h0M537.1 740.2h0M538.8 739.9h0M538.1 739.7h0M517.8 740.1h0M517.1 740.0h0M536.5 739.5h0M531.6 739.4h0M508.7 739.3h0M524.4 739.8h0M540.5 739.9h0M535.4 739.7h0M509.6 739.1h0M506.9 740.2h0M527.2 739.2h0M508.5 739.0h0M534.3 739.7h0M536.8 739.8h0M538.1 739.5h0M515.3 738.8h0M514.4 739.8h0M522.2 740.2h0M515.6 739.6h0M511.9 740.1h0M511.0 738.9h0M533.6 739.0h0M533.9 740.2h0M534.5 739.9h0M536.3 739.2h0M512.9 739.0h0M525.5 740.0h0M523.6 739.6h0M520.5 738.8h0M510.8 739.4h0M529.7 739.7h0M525.4 740.0h0M535.7 739.6h0M511.7 740.0h0M523.4 739.2h0M512.0 738.8h0M517.9 739.5h0M518.4 739.9h0M527.6 740.2h0M528.8 740.0h0M526.7 739.6h0M528.4 738.9h0M507.2 740.1h0M536.8 739.9h0M524.2 739.9h0M509.4 740.0h0M537.9 681.9h0M537.9 670.7h0M536.2 672.8h0M535.8 657.9h0M537.4 661.9h0M536.6 665.6h0M538.8 658.1h0M538.5 671.4h0M536.1 678.2h0M536.3 684.1h0M536.9 691.5h0M538.2 683.5h0M536.3 656.7h0M535.7 687.4h0M508.5 705.8h0M510.8 699.0h0M511.8 691.8h0M508.7 700.4h0M511.4 706.5h0M509.5 696.4h0M511.5 696.4h0M511.5 694.6h0M503.1 740.2h0M502.7 739.9h0M497.5 739.7h0M505.3 739.5h0M505.3 739.5h0M503.5 739.9h0M499.5 739.6h0M500.0 739.6h0M498.1 740.1h0M499.0 740.2h0M501.5 739.8h0M506.8 739.8h0M499.6 739.6h0M500.2 739.5h0M496.7 739.4h0M495.3 739.5h0M505.0 739.7h0M497.1 739.5h0M500.5 740.0h0M501.7 739.5h0M543.8 739.7h0M544.6 739.8h0M548.6 740.1h0M544.2 739.6h0M543.7 739.8h0M543.3 739.7h0M549.9 739.5h0M542.0 739.8h0M548.7 739.8h0M548.9 740.1h0M544.2 740.0h0M541.9 739.6h0M548.6 739.6h0M541.8 740.2h0M548.1 739.9h0M549.7 739.7h0" stroke="#111" stroke-width="2.1" stroke-linecap="round" fill="none"/>
<path d="M507.9 731.5h0M498.8 738.4h0M506.0 735.6h0M504.5 737.9h0M505.2 736.9h0M506.7 736.8h0M504.8 736.8h0M506.6 728.1h0M507.4 737.3h0M497.0 738.3h0M491.4 733.2h0M498.4 737.4h0M494.2 732.8h0M497.0 735.0h0M499.9 734.7h0M504.0 733.4h0M498.7 722.0h0M507.5 735.1h0M507.7 728.4h0M505.2 736.1h0M499.5 734.5h0M487.4 738.1h0M504.9 737.1h0M456.9 737.5h0M506.5 733.4h0M503.1 738.3h0M504.6 734.1h0M506.6 721.8h0M504.5 738.0h0M504.2 734.0h0M505.3 730.8h0M495.0 736.5h0M502.6 738.1h0M505.6 737.8h0M500.2 736.3h0M507.8 736.6h0M482.6 734.8h0M508.0 737.6h0M498.7 738.6h0M491.7 734.1h0M502.3 737.5h0M507.6 737.8h0M482.3 735.7h0M494.6 734.4h0M487.8 735.4h0M490.0 733.1h0M501.6 738.0h0M489.1 725.7h0M498.6 736.6h0M505.3 737.5h0M508.9 736.5h0M507.2 732.5h0M498.2 736.1h0M492.8 716.8h0M506.9 736.9h0M480.0 738.1h0M494.7 736.8h0M501.5 738.1h0M499.6 737.2h0M503.7 738.5h0M503.3 738.0h0M506.8 738.2h0M499.9 736.6h0M487.7 737.9h0M507.9 733.0h0M506.9 735.2h0M507.8 730.5h0M501.7 737.9h0M503.9 736.4h0M503.1 737.8h0M505.1 734.7h0M506.5 737.0h0M507.6 738.2h0M507.5 733.8h0M506.5 738.4h0M490.2 736.1h0M508.7 719.8h0M508.6 728.8h0M503.9 735.0h0M506.2 735.8h0M507.7 736.1h0M494.1 736.2h0M501.2 729.2h0M472.6 732.9h0M501.2 735.7h0M505.3 736.7h0M507.9 732.0h0M498.8 736.5h0M489.7 737.7h0M492.4 735.1h0M508.0 735.6h0M505.7 736.4h0M497.7 737.0h0M502.4 725.5h0M499.8 731.0h0M503.0 737.1h0M501.7 735.0h0M502.3 731.3h0M504.9 736.8h0M508.7 734.0h0M498.6 730.6h0M504.1 737.9h0M502.1 735.9h0M505.2 731.8h0M506.2 737.9h0M508.8 735.3h0M505.8 734.9h0M495.6 738.5h0M506.8 736.2h0M499.8 737.0h0M504.0 737.1h0M499.7 737.9h0M508.6 737.2h0M506.6 734.1h0M504.0 733.8h0M503.8 737.7h0M508.2 731.2h0M505.6 737.3h0M490.5 736.7h0M502.4 738.2h0M501.1 736.6h0M494.2 731.3h0M505.4 736.5h0M500.5 738.1h0M507.4 737.7h0M500.5 737.5h0M508.1 738.1h0M489.5 737.7h0M504.5 738.3h0M505.1 737.6h0M507.8 736.9h0M484.4 737.7h0M500.6 736.3h0M508.4 726.1h0M490.9 735.7h0M508.3 732.0h0M503.1 736.1h0M494.9 738.2h0M508.4 732.8h0M499.2 736.8h0M499.8 738.4h0M498.6 721.9h0M501.3 735.7h0M506.4 731.1h0M497.3 730.7h0M508.8 738.0h0M507.3 735.2h0M504.0 733.1h0M507.3 731.7h0M507.7 728.6h0M500.4 737.8h0M496.2 724.3h0M495.5 737.4h0M505.8 710.7h0M508.3 738.4h0M507.0 737.7h0M505.4 736.0h0M507.3 737.7h0M504.8 717.3h0M478.2 734.1h0M503.4 736.1h0M504.9 735.2h0M504.0 738.5h0M488.3 737.3h0M497.7 737.7h0M507.3 737.4h0M494.2 738.5h0M490.4 735.5h0M500.3 735.8h0M502.1 738.2h0M494.7 736.0h0M505.6 733.9h0M489.0 734.6h0M507.4 732.0h0M478.5 738.3h0M507.6 736.7h0M485.1 735.7h0M496.5 730.9h0M471.5 738.2h0M502.8 737.4h0M500.7 738.6h0M498.5 732.7h0M506.3 732.2h0M508.5 736.7h0M486.4 737.1h0M505.0 733.0h0M508.9 728.8h0M506.2 729.9h0M497.4 736.8h0M497.2 735.4h0M508.4 737.4h0M507.8 736.7h0M486.4 737.4h0M502.6 733.8h0M506.2 727.9h0M498.0 731.9h0M508.5 736.2h0M498.4 736.0h0M507.6 733.2h0M506.0 738.4h0M501.0 736.9h0M500.8 737.8h0M506.1 735.4h0M507.5 734.4h0M507.3 735.6h0M499.7 733.6h0M500.9 734.0h0M508.3 735.8h0M495.9 738.6h0M489.2 734.1h0M507.0 735.4h0M506.3 733.0h0M506.1 738.1h0M491.5 738.1h0M508.6 737.9h0M508.1 737.6h0M508.4 732.1h0M508.8 735.2h0M508.2 734.5h0M506.1 731.6h0M500.2 737.3h0M500.8 733.0h0M484.2 724.8h0M503.0 736.2h0M505.7 738.5h0M508.5 738.4h0M504.9 736.4h0M500.8 735.9h0M500.0 734.8h0M482.2 737.5h0M497.7 737.8h0M507.2 737.7h0M500.3 727.6h0M504.4 735.7h0M500.3 737.3h0M506.8 737.3h0M502.3 737.3h0M508.4 725.8h0M502.9 738.4h0M504.2 735.3h0M471.2 737.4h0M507.0 737.9h0M503.1 736.7h0M498.2 735.6h0M508.3 735.6h0M491.5 728.3h0M504.6 736.9h0M504.3 730.5h0M493.5 735.7h0M500.9 735.5h0M498.8 738.0h0M504.1 732.9h0M496.6 737.1h0M494.4 736.2h0M505.8 733.0h0M493.5 738.4h0M508.5 736.3h0M480.3 735.6h0M485.1 736.5h0M505.5 735.5h0M498.2 737.4h0M495.6 732.2h0M494.8 736.6h0M506.2 738.5h0M502.0 737.2h0M499.0 733.2h0M500.8 738.6h0M505.6 726.1h0M507.2 732.6h0M498.3 735.6h0M506.8 732.8h0M505.8 732.8h0M508.4 734.6h0M505.7 737.7h0M506.7 735.0h0M505.1 733.0h0M495.5 736.2h0M498.1 729.3h0M508.9 736.7h0M499.1 736.7h0M501.9 725.5h0M506.0 736.3h0M498.8 730.2h0M479.1 738.2h0M488.8 736.4h0M502.8 737.9h0M505.0 737.6h0M506.5 738.6h0M495.6 736.4h0M506.6 734.3h0M505.1 738.1h0M493.6 728.3h0M507.4 738.1h0M492.6 735.0h0M505.3 735.4h0M494.6 737.0h0M508.7 738.6h0M496.8 733.4h0M502.0 733.4h0M503.9 732.4h0M502.4 736.2h0M504.5 738.2h0M492.2 738.5h0M503.4 737.2h0M498.9 736.6h0M499.7 735.5h0M496.7 731.6h0M505.5 737.2h0M499.1 737.1h0M500.5 736.6h0M492.2 735.7h0M492.7 736.6h0M503.6 735.1h0M506.1 738.5h0M501.6 735.4h0M499.4 719.7h0M508.1 736.8h0M503.1 733.8h0M498.3 734.4h0M508.4 734.9h0M490.9 734.2h0M507.6 734.6h0M508.8 734.0h0M491.2 736.9h0M501.3 737.5h0M502.1 737.6h0M503.3 732.2h0M496.3 734.9h0M508.8 736.6h0M496.9 721.2h0M505.1 729.5h0M501.7 736.9h0M501.6 736.2h0M501.9 736.2h0M502.7 731.0h0M493.4 737.0h0M507.9 734.5h0M501.3 735.5h0M492.2 736.9h0M505.9 734.9h0M461.0 737.3h0M504.9 736.7h0M508.6 737.8h0M498.4 738.3h0M500.6 738.1h0M484.4 732.7h0M503.6 727.3h0M504.5 737.0h0M500.9 734.6h0M502.5 735.8h0M503.0 734.3h0M506.1 736.8h0M490.9 738.5h0M498.7 735.5h0M484.5 735.5h0M496.4 737.1h0M493.6 737.2h0M507.6 737.9h0M502.1 736.1h0M493.2 738.1h0M492.9 738.2h0M507.3 738.2h0M508.4 737.9h0M499.1 733.6h0M507.1 736.4h0M508.6 738.0h0M505.7 734.0h0M492.4 738.4h0M502.1 737.4h0M507.2 736.6h0M507.2 732.6h0M502.1 728.6h0M507.1 738.4h0M507.7 733.9h0M508.8 734.9h0M494.3 736.5h0M507.9 737.9h0M508.0 738.1h0M501.1 729.2h0M508.8 734.5h0M503.7 736.8h0M481.4 733.2h0M503.7 729.8h0M494.3 735.1h0M504.2 730.0h0M501.5 735.5h0M507.7 737.7h0M505.6 738.6h0M503.8 737.3h0M506.8 731.7h0M502.7 736.4h0M497.8 738.3h0M505.2 733.6h0M502.8 737.5h0M487.2 732.1h0M508.0 734.5h0M504.8 735.5h0M506.4 738.1h0M505.0 737.6h0M504.3 738.4h0M504.1 737.7h0M506.9 732.2h0M500.5 735.3h0M506.2 735.4h0M506.3 733.1h0M503.1 733.7h0M505.1 733.0h0M484.4 737.5h0M503.1 736.8h0M506.6 722.5h0M503.4 737.0h0M504.1 730.8h0M506.9 731.3h0M507.1 738.4h0M507.3 738.2h0M500.6 735.2h0M494.8 732.7h0M499.5 727.1h0M504.0 730.1h0M494.2 734.4h0M503.9 734.9h0M501.8 737.7h0M507.1 732.2h0M507.6 737.2h0M507.1 736.8h0M494.1 733.8h0M508.7 738.4h0M494.1 738.2h0M505.0 737.2h0M501.5 729.1h0M486.8 712.6h0M508.9 737.7h0M506.2 729.3h0M505.9 728.4h0M487.4 720.1h0M493.8 738.0h0M498.4 735.2h0M508.5 737.5h0M499.2 736.8h0M505.6 738.5h0M505.4 736.4h0M501.8 736.9h0M508.5 738.3h0M508.2 727.8h0M506.9 737.8h0M501.9 734.1h0M501.2 734.6h0M486.5 735.1h0M500.6 732.4h0M508.6 737.1h0M506.9 732.4h0M502.9 734.5h0M474.9 736.1h0M507.6 738.4h0M476.9 738.0h0M508.9 736.4h0M508.1 735.1h0M507.0 732.0h0M491.4 730.4h0M502.2 738.2h0M490.8 736.1h0M486.8 737.1h0M498.4 733.8h0M498.8 737.6h0M499.7 735.1h0M501.9 723.3h0M476.4 736.0h0M506.9 727.7h0M505.1 738.6h0M508.1 736.6h0M502.5 718.5h0M501.3 735.9h0M499.2 704.5h0M480.9 733.4h0M495.1 737.9h0M507.4 735.9h0M505.0 733.8h0M505.3 735.6h0M503.4 722.8h0M498.8 736.9h0M497.2 734.9h0M498.5 718.6h0M504.9 734.7h0M503.9 718.1h0M497.5 737.0h0M495.1 737.4h0M505.2 733.1h0M495.7 735.5h0M501.0 733.7h0M507.0 724.5h0M504.3 723.9h0M506.3 722.9h0M504.9 724.6h0M508.9 733.1h0M508.9 737.8h0M492.5 737.9h0M507.9 719.0h0M507.2 736.9h0M501.3 728.0h0M508.0 735.0h0M504.8 738.1h0M503.8 719.0h0M501.7 727.9h0M506.2 707.5h0M505.6 729.2h0M505.2 729.6h0M488.8 737.4h0M502.6 709.8h0M505.0 738.3h0M508.1 718.8h0M504.9 736.8h0M495.9 736.3h0M499.6 727.8h0M501.8 738.4h0M498.5 732.7h0M495.5 737.0h0M508.2 702.4h0M508.5 728.9h0M498.0 736.1h0M500.4 735.6h0M491.5 736.2h0M495.3 733.6h0M497.2 731.9h0M506.0 736.7h0M508.8 734.8h0M506.4 734.4h0M494.1 736.1h0M504.7 734.3h0M500.4 723.9h0M508.3 737.9h0M500.7 737.7h0M507.9 738.6h0M507.8 724.1h0M481.9 737.5h0M508.7 736.4h0M497.1 729.8h0M497.8 738.4h0M506.0 736.5h0M507.8 738.2h0M498.9 728.8h0M504.2 737.5h0M506.1 738.1h0M501.2 722.3h0M506.3 725.8h0M503.3 703.3h0M506.1 716.1h0M506.1 717.6h0M507.8 735.6h0M506.3 737.3h0M503.0 734.2h0M501.0 730.4h0M505.2 730.5h0M506.7 714.0h0M498.1 735.9h0M508.7 731.9h0M508.4 721.7h0M490.6 738.1h0M502.0 737.6h0M501.7 727.6h0M507.3 734.0h0M507.3 733.8h0M500.1 737.5h0M503.7 737.6h0M504.1 738.1h0M506.3 730.5h0M503.6 714.6h0M501.1 735.0h0M500.2 726.0h0M501.8 734.7h0M499.9 733.1h0M507.6 732.5h0M504.1 728.0h0M507.8 737.3h0M487.8 737.2h0M506.3 730.3h0M507.5 693.4h0M502.4 738.0h0M488.6 736.9h0M486.9 737.2h0M505.9 736.6h0M506.8 737.3h0M504.5 730.7h0M503.2 732.4h0M506.0 728.9h0M485.9 738.5h0M505.4 733.1h0M507.6 736.9h0M485.6 736.3h0M494.5 733.4h0M495.6 726.3h0M491.4 736.2h0M491.0 736.9h0M481.5 732.7h0M496.9 738.5h0M506.2 737.9h0M508.0 734.9h0M505.6 733.0h0M494.4 730.6h0M503.6 732.6h0M505.4 728.4h0M503.9 710.5h0M502.5 736.5h0M503.5 730.1h0M505.3 715.5h0M503.9 736.9h0M503.9 733.3h0M502.7 733.5h0M505.6 736.0h0M499.3 731.2h0M497.7 730.7h0M505.2 732.5h0M507.8 724.2h0M508.2 736.0h0M505.0 737.5h0M497.7 726.3h0M496.4 732.3h0M491.5 734.8h0M500.6 733.9h0M494.6 737.2h0M502.4 728.7h0M508.8 733.2h0M507.3 738.4h0M504.9 735.9h0M501.4 728.5h0M498.0 728.2h0M502.0 735.4h0M506.4 737.7h0M506.6 731.0h0M497.5 738.3h0M507.2 731.4h0M504.7 738.4h0M496.3 738.0h0M507.9 738.2h0M500.2 724.1h0M504.1 727.7h0M501.2 712.0h0M504.2 736.6h0M496.5 731.0h0M506.3 719.2h0M507.4 727.3h0M501.4 724.5h0M494.8 738.0h0M505.8 737.4h0M501.1 725.2h0M488.4 735.2h0M502.0 734.9h0M503.3 718.4h0M507.1 733.5h0M489.3 727.8h0M505.5 729.1h0M508.2 735.1h0M507.3 726.4h0M505.0 727.9h0M506.4 737.0h0M507.3 731.3h0M502.5 738.5h0M508.1 714.5h0M500.4 738.6h0M498.8 737.7h0M505.7 738.1h0M499.0 711.7h0M499.9 737.9h0M507.5 708.9h0M497.1 736.8h0M498.8 730.3h0M498.7 734.5h0M497.8 729.1h0M492.9 729.7h0M508.8 723.9h0M507.8 737.7h0M508.4 715.5h0M502.8 737.7h0M505.5 730.7h0M493.3 726.0h0M496.1 730.6h0M495.5 727.9h0M505.2 719.9h0M505.4 734.0h0M506.7 718.4h0M508.0 716.5h0M490.6 737.3h0M506.0 738.0h0M504.2 734.3h0M496.9 734.3h0M507.7 734.6h0M506.5 736.0h0M497.6 738.3h0M493.8 736.0h0M506.2 717.4h0M505.3 738.6h0M502.9 730.7h0M488.1 738.4h0M506.5 728.8h0M480.9 736.8h0M508.3 729.1h0M502.7 738.5h0M494.1 732.7h0M504.2 737.9h0M504.3 733.1h0M498.9 738.4h0M506.7 717.9h0M507.7 725.1h0M471.5 737.7h0M503.9 734.2h0M505.9 735.8h0M500.9 731.1h0M508.2 738.6h0M497.4 725.4h0M493.9 726.2h0M501.5 733.1h0M504.2 704.9h0M501.8 714.9h0M487.1 728.6h0M493.6 721.3h0M505.3 737.6h0M501.4 721.7h0M507.0 734.8h0M505.6 736.1h0M505.4 716.8h0M495.5 728.9h0M503.2 730.1h0M507.7 731.9h0M498.1 727.0h0M504.3 729.3h0M497.4 735.9h0M493.5 737.6h0M506.2 731.7h0M490.4 736.4h0M502.5 736.0h0M507.7 733.6h0M503.3 727.7h0M502.6 737.7h0M498.4 735.1h0M503.4 711.6h0M508.3 735.7h0M499.6 725.0h0M508.0 694.7h0M489.9 731.3h0M508.0 718.5h0M503.9 729.0h0M507.1 734.6h0M503.9 735.9h0M503.7 730.1h0M505.6 725.5h0M504.1 722.3h0M492.3 738.3h0M494.5 736.1h0M503.7 732.4h0M505.2 738.5h0M487.8 733.4h0M506.6 731.5h0M503.9 734.3h0M504.2 738.2h0M506.9 734.8h0M508.6 733.6h0M492.9 725.6h0M505.4 722.6h0M507.8 706.0h0M508.1 731.5h0M499.7 732.7h0M496.1 730.1h0M507.5 723.9h0M502.6 718.9h0M498.5 738.2h0M493.0 736.3h0M507.9 717.0h0M502.9 711.6h0M507.1 732.6h0M504.1 718.5h0M507.5 709.3h0M503.9 736.8h0M497.6 727.3h0M505.2 731.8h0M487.4 738.6h0M507.8 719.5h0M501.1 736.5h0M508.1 713.9h0M496.7 736.7h0M502.3 727.5h0M506.7 729.3h0M508.2 726.8h0M505.2 736.0h0M506.9 700.8h0M489.7 736.6h0M495.0 736.8h0M477.4 733.1h0M498.3 732.4h0M506.1 737.2h0M507.9 734.3h0M496.6 736.5h0M501.3 738.3h0M497.5 731.0h0M495.7 737.0h0M500.1 737.3h0M507.0 738.5h0M507.7 735.7h0M480.1 728.8h0M498.7 731.3h0M500.3 738.0h0M484.5 737.7h0M506.6 712.4h0M508.5 737.8h0M499.3 735.1h0M495.1 737.8h0M489.8 736.1h0M506.0 721.2h0M507.7 733.3h0M507.7 735.4h0M508.4 713.2h0M502.0 737.1h0M508.3 728.0h0M505.9 733.3h0M498.1 738.0h0M502.7 713.9h0M503.1 729.8h0M507.6 715.3h0M492.2 733.3h0M506.1 728.0h0M507.3 733.1h0M508.1 734.9h0M505.1 737.9h0M497.1 736.6h0M497.3 737.8h0M497.4 733.8h0M507.1 736.0h0M507.7 726.0h0M508.6 727.9h0M506.7 736.6h0M499.6 733.6h0M464.2 738.0h0M499.1 716.2h0M508.3 727.6h0M495.8 731.9h0M498.9 735.6h0M499.5 730.7h0M500.2 728.9h0M500.0 738.5h0M503.1 737.0h0M486.0 726.3h0M490.6 738.6h0M505.6 727.1h0M503.8 731.3h0M508.1 738.4h0M496.0 722.6h0M505.6 738.4h0M502.3 736.9h0M507.3 736.4h0M493.4 734.6h0M504.5 729.8h0M506.5 734.7h0M507.6 717.8h0M503.1 724.5h0M499.7 704.0h0M502.3 735.4h0M500.5 738.2h0M507.0 733.8h0M502.5 723.1h0M506.0 732.4h0M491.7 734.0h0M501.9 738.1h0M508.2 732.9h0M504.0 724.7h0M508.8 725.6h0M508.3 731.9h0M495.4 727.1h0M471.9 738.1h0M508.2 732.0h0M500.8 735.9h0M508.4 731.7h0M508.0 728.8h0M507.3 719.2h0M504.4 738.4h0M504.1 734.6h0M489.1 737.1h0M508.2 726.5h0M506.0 735.0h0M508.5 736.7h0M502.7 737.7h0M507.7 729.9h0M508.1 715.1h0M504.2 738.6h0M507.6 723.1h0M502.1 732.5h0M496.4 736.1h0M502.7 735.5h0M486.4 736.6h0M489.9 733.9h0M507.3 722.7h0M502.2 736.4h0M506.5 736.2h0M498.7 736.9h0M508.8 738.1h0M505.8 724.4h0M507.0 730.3h0M489.9 737.1h0M507.2 738.4h0M508.5 735.3h0M499.6 736.6h0M506.5 727.5h0M508.9 726.1h0M549.0 732.0h0M545.6 736.3h0M539.7 727.7h0M541.5 738.4h0M541.7 732.4h0M552.3 725.8h0M539.1 736.1h0M540.3 736.8h0M541.0 737.4h0M548.2 738.5h0M551.4 729.1h0M545.1 734.3h0M548.0 738.3h0M543.6 738.4h0M540.4 734.0h0M545.1 737.5h0M546.0 732.8h0M551.2 736.7h0M542.8 732.2h0M546.4 730.6h0M546.4 732.2h0M553.8 735.3h0M543.9 724.9h0M539.8 738.2h0M546.4 736.1h0M570.1 737.9h0M542.6 737.7h0M554.5 730.6h0M540.5 736.3h0M541.6 711.3h0M552.9 734.7h0M552.2 730.8h0M541.9 738.4h0M544.4 734.9h0M543.6 729.9h0M543.4 724.9h0M547.1 735.8h0M539.6 734.0h0M540.7 726.6h0M559.4 738.3h0M545.0 718.2h0M567.2 738.2h0M566.9 731.4h0M554.0 735.1h0M547.0 735.5h0M543.9 729.9h0M541.8 735.0h0M540.7 734.6h0M539.4 702.6h0M540.4 734.5h0M542.1 736.2h0M541.5 737.0h0M546.8 734.9h0M540.7 729.3h0M546.3 737.8h0M542.8 732.3h0M552.1 732.5h0M539.5 737.3h0M554.9 729.8h0M547.7 737.8h0M549.9 734.6h0M541.3 736.2h0M547.2 732.9h0M543.6 737.3h0M552.3 729.8h0M555.6 738.1h0M539.5 738.5h0M539.4 735.6h0M545.2 726.3h0M554.4 721.7h0M541.3 725.5h0M558.1 735.8h0M540.7 723.2h0M541.8 729.8h0M550.2 737.0h0M539.4 738.5h0M539.1 736.4h0M547.3 724.5h0M550.1 722.4h0M539.7 731.8h0M540.7 738.3h0M565.9 734.0h0M544.2 736.8h0M546.1 738.5h0M539.6 738.0h0M562.9 735.1h0M543.3 736.9h0M546.0 734.7h0M542.7 729.2h0M551.5 734.7h0M541.2 730.9h0M544.4 729.6h0M541.9 729.4h0M547.0 737.3h0M544.4 732.5h0M544.9 736.1h0M544.0 733.7h0M546.8 733.1h0M549.0 737.8h0M539.4 734.1h0M558.7 732.7h0M548.8 736.5h0M581.8 720.6h0M545.3 732.1h0M540.1 737.3h0M545.5 736.0h0M540.3 735.1h0M541.5 734.6h0M542.1 738.6h0M545.5 734.8h0M541.2 738.4h0M563.8 738.6h0M545.0 734.3h0M558.8 729.9h0M544.4 732.4h0M540.0 733.6h0M539.5 736.9h0M540.4 726.2h0M541.1 738.5h0M549.1 738.2h0M540.2 726.8h0M540.6 732.0h0M568.4 732.2h0M559.8 737.1h0M541.2 738.0h0M572.1 731.6h0M543.7 734.7h0M539.8 725.7h0M542.4 735.3h0M545.8 734.4h0M583.5 736.7h0M543.6 734.9h0M553.3 736.4h0M541.4 735.1h0M551.5 738.5h0M548.8 729.7h0M585.0 735.4h0M542.2 729.6h0M548.1 725.8h0M562.3 732.6h0M545.1 731.3h0M548.1 737.9h0M541.0 737.1h0M557.5 738.1h0M566.3 737.7h0M555.3 732.1h0M541.5 737.1h0M556.7 737.7h0M540.1 733.2h0M555.1 736.0h0M540.4 734.3h0M542.2 725.3h0M549.0 732.0h0M539.5 738.4h0M541.7 733.7h0M544.6 736.4h0M545.0 737.5h0M549.3 738.3h0M540.9 737.6h0M548.4 733.8h0M546.5 737.7h0M540.6 738.5h0M540.8 712.7h0M556.2 734.0h0M542.4 732.0h0M547.9 734.0h0M544.0 732.6h0M548.6 733.6h0M544.0 736.2h0M550.1 735.0h0M550.6 732.1h0M540.8 723.2h0M541.0 734.3h0M550.5 731.6h0M541.3 731.3h0M562.3 733.7h0M550.1 729.9h0M545.4 733.6h0M555.0 738.5h0M541.7 720.6h0M559.8 738.2h0M540.9 738.4h0M544.9 736.4h0M539.8 734.3h0M539.4 729.6h0M542.4 728.1h0M543.2 736.7h0M539.6 734.4h0M539.8 731.7h0M557.8 715.6h0M555.1 737.1h0M545.0 738.4h0M545.1 734.3h0M545.0 737.0h0M540.0 730.7h0M548.9 737.9h0M544.4 730.5h0M539.5 734.8h0M548.2 733.9h0M543.7 729.5h0M547.1 738.3h0M539.7 736.0h0M544.2 735.6h0M549.7 737.8h0M562.8 717.7h0M544.4 714.9h0M550.5 733.6h0M539.8 733.8h0M549.1 731.5h0M540.4 731.9h0M547.9 732.3h0M570.6 733.5h0M540.4 730.1h0M542.9 738.3h0M548.2 736.4h0M551.4 738.5h0M549.8 737.7h0M544.0 726.6h0M557.3 731.6h0M541.7 738.0h0M543.0 724.1h0M562.5 735.5h0M542.2 738.5h0M543.8 731.9h0M546.7 737.9h0M548.5 738.6h0M539.7 736.6h0M548.4 738.6h0M543.3 735.4h0M543.9 737.4h0M544.7 731.6h0M546.9 732.2h0M540.1 723.7h0M541.7 729.7h0M542.7 732.6h0M539.9 733.6h0M543.0 726.2h0M540.2 735.3h0M542.7 736.4h0M555.1 736.4h0M562.5 733.7h0M547.1 734.5h0M541.6 737.8h0M547.6 727.4h0M540.0 733.0h0M542.5 718.2h0M540.9 737.7h0M540.1 737.2h0M543.9 731.8h0M546.0 736.3h0M544.0 716.3h0M543.1 734.1h0M541.0 730.7h0M539.9 737.7h0M556.6 736.5h0M543.4 737.3h0M544.6 737.7h0M550.3 736.8h0M541.8 734.5h0M540.4 738.6h0M545.5 716.3h0M558.2 734.1h0M540.0 738.6h0M556.2 731.2h0M543.6 738.1h0M540.0 729.5h0M582.3 737.7h0M550.9 732.4h0M540.6 735.4h0M541.5 737.2h0M554.6 726.9h0M541.6 736.6h0M559.4 731.5h0M543.3 738.4h0M548.1 730.5h0M546.4 738.2h0M541.1 734.3h0M547.3 735.6h0M548.2 735.9h0M553.5 735.5h0M539.7 737.5h0M549.6 735.3h0M544.0 728.5h0M546.7 736.0h0M542.6 736.3h0M548.6 730.1h0M557.4 734.8h0M545.3 707.2h0M544.4 735.6h0M541.8 735.0h0M540.9 736.9h0M541.0 733.0h0M540.1 724.5h0M543.9 734.9h0M550.1 737.6h0M541.1 735.1h0M555.0 736.3h0M541.2 734.5h0M542.7 729.6h0M545.8 738.3h0M539.2 731.4h0M543.9 737.4h0M552.8 738.6h0M539.7 735.4h0M542.3 736.9h0M543.5 738.6h0M541.7 736.3h0M541.1 733.1h0M556.0 730.9h0M582.7 734.9h0M560.2 732.7h0M540.1 731.1h0M545.0 735.9h0M546.3 724.2h0M551.4 737.9h0M542.6 738.4h0M539.4 727.6h0M540.7 720.2h0M545.9 690.9h0M554.1 738.2h0M555.5 738.0h0M541.1 725.3h0M545.8 736.3h0M549.9 732.9h0M550.7 735.3h0M543.0 727.1h0M540.0 725.0h0M545.6 734.2h0M572.2 711.2h0M543.5 735.4h0M575.7 734.4h0M547.8 730.6h0M540.6 733.0h0M547.6 737.7h0M540.4 733.5h0M540.3 733.5h0M543.6 732.3h0M549.0 728.2h0M548.6 730.9h0M551.2 737.6h0M541.8 736.5h0M543.2 733.5h0M541.9 738.1h0M555.5 734.5h0M550.4 733.9h0M562.1 727.0h0M574.3 730.6h0M542.9 715.0h0M544.2 737.8h0M548.4 725.8h0M542.4 737.3h0M557.1 738.6h0M545.5 729.7h0M547.0 729.7h0M559.3 734.8h0M550.3 735.7h0M539.7 737.6h0M545.8 736.8h0M549.4 737.9h0M556.8 736.8h0M544.1 732.1h0M546.1 727.8h0M552.3 736.1h0M549.9 721.1h0M552.4 734.3h0M544.3 737.2h0M539.8 736.7h0M545.0 735.5h0M546.9 732.1h0M546.2 731.8h0M543.3 736.6h0M542.6 738.2h0M558.1 736.7h0M540.9 737.6h0M547.8 714.6h0M548.6 737.9h0M548.0 733.9h0M539.7 730.4h0M540.8 733.5h0M541.4 733.6h0M564.7 728.0h0M545.3 733.6h0M545.5 735.3h0M539.6 733.3h0M553.2 736.2h0M541.4 734.5h0M551.2 734.8h0M556.5 728.8h0M542.0 731.5h0M544.2 737.1h0M546.0 734.5h0M564.4 736.7h0M542.5 733.0h0M547.3 730.1h0M545.3 724.4h0M539.8 729.4h0M540.3 733.3h0M546.6 733.7h0M539.4 731.8h0M542.3 735.4h0M540.5 731.8h0M540.4 726.4h0M540.8 728.3h0M547.3 729.6h0M540.4 736.8h0M541.4 728.5h0M542.4 734.8h0M551.6 730.3h0M541.9 730.5h0M539.4 738.3h0M547.4 730.9h0M539.6 727.3h0M539.3 722.2h0M542.2 727.0h0M545.5 732.7h0M541.8 727.1h0M571.2 734.1h0M544.9 686.8h0M555.7 733.5h0M540.9 738.1h0M544.6 735.2h0M543.4 735.1h0M541.6 729.3h0M549.2 737.9h0M540.2 737.4h0M540.0 716.8h0M552.7 735.9h0M543.7 737.4h0M545.6 729.4h0M557.4 721.8h0M567.0 737.9h0M550.6 738.6h0M551.4 735.9h0M543.3 734.1h0M551.2 725.0h0M540.6 732.4h0M540.9 731.1h0M561.4 737.2h0M556.5 735.1h0M551.7 733.9h0M542.0 738.3h0M553.2 735.9h0M539.2 735.3h0M543.1 736.6h0M548.1 707.0h0M545.5 724.4h0M541.4 706.5h0M544.5 737.9h0M542.8 726.9h0M545.1 737.6h0M543.0 730.8h0M539.2 721.5h0M542.9 735.2h0M552.5 721.9h0M545.2 722.5h0M549.9 724.1h0M542.9 735.0h0M553.7 738.4h0M544.4 722.5h0M539.9 736.3h0M541.5 736.3h0M557.7 732.9h0M555.7 725.4h0M540.4 734.6h0M543.2 714.6h0M557.8 736.3h0M544.7 730.9h0M550.2 728.5h0M562.7 737.1h0M541.5 732.1h0M572.4 738.2h0M549.1 718.5h0M544.2 735.9h0M566.7 733.6h0M548.0 731.5h0M542.3 720.5h0M542.4 736.7h0M540.7 715.5h0M553.9 734.7h0M551.6 722.1h0M560.6 733.5h0M551.8 735.7h0M555.6 736.5h0M543.6 737.6h0M575.7 736.1h0M547.2 737.7h0M544.6 716.0h0M540.9 733.9h0M570.1 738.4h0M541.2 732.8h0M547.4 732.3h0M544.7 737.0h0M547.4 724.5h0M548.6 733.9h0M548.7 736.5h0M557.7 737.2h0M545.1 737.6h0M547.7 734.5h0M549.1 737.7h0M545.8 727.8h0M543.8 738.2h0M543.0 737.1h0M545.1 737.6h0M553.8 722.9h0M545.8 715.2h0M549.0 738.5h0M539.9 733.9h0M555.3 734.6h0M543.7 720.5h0M541.8 733.7h0M543.5 732.5h0M547.4 729.0h0M542.3 729.5h0M544.5 723.5h0M544.7 730.7h0M541.1 731.3h0M564.7 735.8h0M545.8 729.6h0M550.9 730.6h0M539.3 707.2h0M540.9 735.2h0M540.0 734.3h0M550.4 730.2h0M540.4 728.1h0M552.3 737.9h0M540.2 724.8h0M539.8 735.6h0M541.7 731.8h0M541.7 736.7h0M543.5 718.6h0M541.9 737.3h0M549.3 733.1h0M541.8 733.3h0M547.1 729.0h0M547.2 737.6h0M552.6 736.6h0M549.8 726.6h0M551.6 725.5h0M556.5 722.1h0M541.7 718.3h0M574.4 727.8h0M539.4 715.3h0M546.7 736.0h0M558.8 738.1h0M547.1 737.3h0M547.6 737.9h0M546.8 737.7h0M572.7 733.3h0M544.8 730.6h0M540.7 731.6h0M549.0 730.3h0M539.2 704.7h0M542.2 735.6h0M539.6 734.2h0M539.7 733.2h0M542.7 731.5h0M543.1 701.6h0M539.2 728.6h0M551.1 736.1h0M543.2 735.2h0M542.8 735.6h0M540.4 732.1h0M559.0 737.9h0M539.3 734.4h0M547.2 729.7h0M544.2 735.5h0M546.4 738.0h0M545.7 729.9h0M544.0 735.6h0M543.1 738.2h0M551.5 731.7h0M559.5 738.1h0M546.5 725.8h0M544.4 731.8h0M557.0 738.6h0M554.2 734.6h0M540.8 736.1h0M547.6 738.4h0M561.5 738.2h0M540.2 725.4h0M540.7 729.2h0M543.9 719.5h0M540.4 717.7h0M544.1 734.8h0M556.9 736.1h0M547.1 728.0h0M539.6 736.9h0M541.1 734.2h0M543.7 714.0h0M543.9 732.3h0M539.4 716.4h0M547.3 737.2h0M541.6 735.9h0M540.0 728.3h0M567.7 731.2h0M539.8 732.5h0M543.8 714.4h0M541.9 718.6h0M548.0 728.8h0M558.0 737.4h0M543.9 710.4h0M569.6 737.1h0M551.2 726.1h0M561.1 736.5h0M544.9 738.3h0M539.5 738.4h0M539.8 714.3h0M545.9 737.0h0M539.5 728.0h0M542.5 738.1h0M560.0 737.1h0M545.3 719.2h0M552.8 738.4h0M551.1 733.8h0M546.2 732.8h0M547.1 731.4h0M540.1 734.3h0M539.6 734.3h0M553.0 736.6h0M539.2 737.5h0M555.1 737.0h0M545.8 721.6h0M543.9 731.4h0M545.8 731.1h0M542.9 723.6h0M544.8 737.4h0M539.9 728.4h0M542.4 721.9h0M539.2 732.3h0M546.2 717.6h0M539.6 708.3h0M547.5 732.3h0M560.5 735.8h0M550.2 738.0h0M553.0 720.3h0M543.9 734.6h0M540.5 729.9h0M551.4 737.8h0M540.5 731.8h0M539.5 720.4h0M541.8 724.0h0M544.5 737.9h0M544.8 725.5h0M552.5 728.9h0M553.1 730.8h0M550.8 737.1h0M542.1 724.8h0M555.3 725.9h0M539.3 723.7h0M540.0 733.7h0M558.2 738.0h0M544.4 734.1h0M553.0 735.1h0M543.0 734.1h0M548.6 733.1h0M553.0 733.6h0M541.4 734.5h0M551.4 720.2h0M547.3 710.2h0M554.0 735.8h0M539.4 716.4h0M546.0 719.1h0M541.4 733.9h0M553.5 730.8h0M539.5 729.8h0M539.9 721.4h0M547.0 715.8h0M546.9 737.0h0M542.4 736.8h0M541.0 715.5h0M554.0 733.9h0M555.8 735.3h0M541.0 731.7h0M541.4 693.8h0M580.6 734.7h0M543.1 727.6h0M552.2 730.8h0M542.4 736.1h0M542.4 725.2h0M545.5 701.4h0M553.6 727.8h0M544.0 732.1h0M544.9 723.3h0M561.5 736.3h0M548.3 738.5h0M542.6 727.9h0M543.2 735.5h0M542.0 736.6h0M552.9 734.6h0M551.9 731.7h0M548.8 734.4h0M539.5 727.7h0M540.1 722.1h0M552.6 734.7h0M540.5 736.5h0M553.0 737.7h0M540.0 728.6h0M544.5 733.4h0M554.5 737.2h0M543.6 728.7h0M548.1 719.7h0M548.3 737.5h0M554.4 721.9h0M557.0 736.7h0M556.5 718.2h0M550.5 708.8h0M552.2 731.4h0M550.9 728.6h0M539.6 734.6h0M545.7 719.5h0M540.4 736.7h0M541.4 721.6h0M559.4 734.9h0M539.8 734.9h0M545.1 737.3h0M545.0 730.8h0M569.5 736.8h0M544.3 710.8h0M548.1 733.1h0M546.9 731.5h0M549.4 727.4h0M543.4 730.3h0M549.5 736.2h0M542.3 736.1h0M547.6 727.8h0M556.2 721.3h0M554.5 732.0h0M543.8 721.9h0M543.6 738.0h0M565.6 738.3h0M563.3 738.4h0M539.3 679.2h0M541.2 720.0h0M548.1 733.8h0M550.2 733.3h0M541.9 737.6h0M561.8 724.1h0M540.6 734.2h0M543.1 729.5h0M540.9 722.3h0M567.0 735.4h0M542.7 725.0h0M542.9 686.9h0M559.1 724.6h0M549.0 726.8h0M552.3 738.4h0M541.9 730.1h0M548.9 730.6h0M545.7 737.9h0M544.4 718.8h0M501.1 737.0h0M495.4 731.5h0M489.8 734.3h0M501.1 733.8h0M483.7 737.0h0M476.1 729.1h0M486.9 730.6h0M496.9 733.4h0M483.0 735.8h0M474.5 730.1h0M479.2 738.0h0M505.3 725.6h0M500.3 734.9h0M499.7 726.9h0M472.4 730.2h0M507.6 734.0h0M494.5 728.1h0M497.9 727.1h0M508.7 733.4h0M483.4 729.6h0M503.8 731.2h0M502.7 733.1h0M470.3 736.5h0M498.7 728.4h0M491.3 724.9h0M493.3 731.9h0M506.1 724.1h0M487.2 726.3h0M504.0 738.2h0M505.9 733.7h0M478.3 731.4h0M498.1 736.3h0M487.0 731.8h0M469.6 724.7h0M480.4 735.4h0M488.3 736.3h0M477.3 729.4h0M500.9 728.7h0M501.3 734.4h0M473.6 737.9h0M474.0 736.5h0M491.4 722.9h0M487.1 736.4h0M469.5 738.1h0M471.4 732.0h0M499.8 730.0h0M508.7 738.1h0M490.8 735.5h0M501.6 737.5h0M504.9 738.6h0M486.0 726.2h0M491.1 731.6h0M470.8 732.0h0M508.9 735.8h0M478.7 736.2h0M501.3 734.1h0M502.5 738.3h0M506.9 727.5h0M504.4 738.1h0M481.1 725.4h0M508.5 734.9h0M508.5 725.7h0M470.9 728.1h0M500.0 737.1h0M495.2 734.7h0M490.8 724.5h0M504.6 729.7h0M481.8 724.3h0M505.9 737.8h0M496.1 725.9h0M494.5 731.1h0M491.9 727.9h0M483.7 738.3h0M493.2 723.3h0M500.4 733.6h0M485.7 730.1h0M507.9 729.6h0M491.6 727.7h0M497.0 725.6h0M492.6 738.0h0M493.1 726.2h0M482.3 737.7h0M483.5 726.5h0M496.1 730.3h0M473.4 733.3h0M490.5 736.7h0M508.3 724.3h0M487.8 730.2h0M471.0 728.3h0M482.9 727.4h0M496.2 723.5h0M479.7 733.0h0M498.1 735.5h0M478.9 737.6h0M494.6 738.0h0M473.1 738.6h0M485.1 725.3h0M475.4 734.1h0M482.1 729.5h0M478.2 726.6h0M477.7 733.3h0M469.6 737.6h0M498.4 738.1h0M490.9 733.7h0M500.0 732.2h0M494.6 738.6h0M483.8 732.7h0M484.9 737.9h0M474.7 738.2h0M472.9 733.5h0M559.3 679.3h0M541.1 707.3h0M558.9 727.1h0M543.5 722.2h0M552.8 667.1h0M546.5 735.1h0M543.6 736.2h0M539.1 734.9h0M544.6 735.7h0M557.1 690.8h0M560.2 721.7h0M542.5 685.1h0M549.2 700.3h0M547.2 735.9h0M540.8 731.4h0M550.0 725.5h0M549.2 711.3h0M543.7 684.4h0M553.6 688.5h0M543.2 657.9h0M544.5 705.5h0M544.8 701.3h0M551.0 717.1h0M548.8 662.7h0M555.2 678.7h0M539.5 681.0h0M549.1 663.1h0M543.3 711.9h0M541.0 666.5h0M546.4 723.0h0M540.6 723.7h0M540.1 728.7h0M540.9 671.5h0M547.5 708.2h0M539.3 689.4h0M545.3 701.9h0M543.4 729.2h0M542.6 735.9h0M539.7 710.9h0M540.4 734.8h0M556.9 709.5h0M540.9 692.6h0M550.3 679.7h0M558.5 736.1h0M542.2 725.6h0M545.5 729.2h0M542.4 714.6h0M544.8 696.6h0M558.6 726.2h0M543.2 678.6h0M539.1 712.2h0M549.9 666.5h0M540.9 732.5h0M544.1 660.5h0M549.7 728.8h0M545.2 666.3h0M545.1 713.5h0M555.3 653.4h0M557.9 721.5h0M540.5 731.0h0M547.9 734.7h0M539.5 720.7h0M542.9 686.7h0M552.3 731.6h0M559.7 671.4h0M556.1 685.1h0M550.4 701.7h0M539.1 713.6h0M551.1 693.9h0M543.7 709.3h0M558.9 678.6h0M549.5 736.2h0M544.2 720.5h0M557.4 675.1h0M540.2 724.1h0M540.6 736.2h0M548.1 730.5h0M554.8 703.0h0M544.1 694.6h0M540.2 730.1h0M546.8 735.7h0M546.5 729.6h0M541.5 723.1h0M539.3 697.6h0M539.9 710.2h0M546.7 657.7h0M547.5 678.2h0M555.9 730.4h0M559.3 735.2h0M560.1 689.2h0M539.3 735.3h0M539.9 714.0h0M543.2 728.3h0M554.9 728.1h0M559.3 691.4h0M548.7 729.0h0M540.0 732.9h0M541.6 735.6h0M542.7 671.8h0M546.7 734.1h0M553.8 698.9h0M543.5 735.4h0M539.8 718.1h0M544.8 715.7h0M541.0 699.6h0M559.1 676.4h0M544.1 719.6h0M539.5 718.3h0M542.3 653.4h0M548.2 702.4h0M549.0 728.4h0M544.9 723.1h0M549.0 722.9h0M539.5 721.6h0M550.6 735.0h0M550.9 680.3h0M551.6 734.5h0M540.3 735.3h0M545.8 734.7h0M545.5 662.1h0M539.8 682.9h0M542.7 733.3h0M540.4 734.7h0M543.4 692.3h0M554.6 702.2h0M539.9 658.7h0M560.0 679.3h0M548.6 698.1h0M543.2 736.1h0M539.3 726.4h0M556.3 675.4h0M543.8 720.1h0M544.6 708.9h0M554.3 731.3h0M555.1 698.2h0M559.7 704.1h0M539.3 723.7h0M548.7 702.6h0M551.9 683.1h0M542.2 729.6h0M560.3 697.2h0M540.1 675.8h0M541.3 658.8h0M543.1 680.7h0M543.2 705.5h0M540.7 703.2h0M539.8 719.8h0M544.7 677.3h0M551.7 672.0h0M552.9 722.1h0M549.9 679.8h0M541.1 697.1h0M558.4 687.9h0M548.6 681.6h0M540.9 667.3h0M545.7 735.9h0M542.0 688.5h0M553.3 731.1h0M551.4 718.1h0M551.6 728.1h0M545.1 701.3h0M540.1 725.6h0M549.8 701.0h0M552.4 696.8h0M549.5 722.1h0M553.8 735.1h0M547.6 707.6h0M539.1 684.4h0M553.2 701.9h0M540.1 725.6h0M555.8 686.3h0M559.9 736.1h0M539.4 720.6h0M550.4 731.8h0M558.5 705.0h0M553.0 723.0h0M548.1 695.8h0M547.1 696.1h0M554.0 730.7h0M540.9 734.7h0M541.9 730.5h0M542.5 715.5h0M545.7 719.3h0M554.0 663.6h0M553.2 668.4h0M548.7 731.3h0M543.5 724.4h0M552.2 732.6h0M544.3 709.5h0M547.3 681.6h0M540.8 678.7h0M539.6 716.4h0M544.2 703.5h0M556.4 704.0h0M543.7 712.4h0M540.3 722.5h0M550.6 735.8h0M548.5 732.9h0M546.2 701.6h0M539.2 729.2h0M543.1 665.7h0M540.0 723.1h0M554.6 664.6h0M550.9 722.1h0M541.4 671.4h0M545.2 721.2h0M540.1 735.8h0M545.9 735.6h0M548.5 705.7h0M554.2 689.9h0M554.3 719.2h0M556.0 713.5h0M544.5 711.6h0M541.9 736.1h0M540.1 690.1h0M550.9 736.2h0M549.0 694.4h0M540.5 729.8h0M539.1 728.0h0M549.8 735.2h0M539.2 694.0h0M559.6 731.7h0M553.9 719.6h0M539.3 711.8h0M539.6 685.5h0M550.1 660.4h0M557.1 730.7h0M543.2 724.7h0M547.5 721.1h0M546.8 724.3h0M543.0 665.6h0M551.2 712.8h0M540.0 673.5h0M540.0 686.0h0M556.7 726.0h0M540.2 719.9h0M555.7 715.8h0M545.7 714.7h0M557.9 710.7h0M559.0 670.8h0M552.1 733.1h0M540.5 682.7h0M539.2 726.3h0M556.9 729.4h0M551.9 735.5h0M558.5 735.2h0M543.0 726.7h0M558.9 672.6h0M552.9 699.7h0M539.4 672.6h0M542.9 709.8h0M550.6 666.2h0M539.5 662.4h0M540.6 735.4h0M539.2 734.3h0M543.1 730.5h0M543.8 717.9h0M552.5 669.4h0M542.7 733.6h0M544.4 711.4h0M546.9 699.4h0M547.6 721.6h0M580.3 712.1h0M547.4 723.4h0M557.2 724.4h0M589.6 692.2h0M563.5 700.6h0M556.6 689.8h0M567.1 678.7h0M550.3 704.1h0M553.2 719.1h0M561.1 719.9h0M573.1 700.3h0M568.0 685.4h0M582.1 717.0h0M546.1 702.1h0M575.4 724.1h0M560.1 686.5h0M556.0 711.4h0M557.4 683.9h0M575.7 697.2h0M560.9 697.8h0M594.3 711.5h0M547.2 689.8h0M557.8 686.0h0M586.2 689.4h0M581.6 677.7h0M574.4 715.8h0M572.8 709.4h0M564.6 680.9h0M583.9 710.7h0M591.9 722.5h0M593.4 690.3h0M586.8 722.0h0M549.2 690.9h0M564.8 708.9h0M562.2 681.8h0M563.1 705.7h0M554.8 714.1h0M572.6 721.3h0M572.7 703.7h0M548.2 717.2h0M563.3 700.8h0M572.8 682.2h0M549.4 690.6h0M560.7 710.0h0M574.5 723.6h0M544.2 711.4h0M549.0 694.8h0M586.9 709.8h0M568.0 724.0h0M573.8 681.0h0M546.1 713.5h0M552.7 719.1h0M545.8 720.3h0M569.6 722.4h0M579.4 681.2h0M565.7 723.7h0M550.4 720.4h0M585.9 686.1h0M559.7 710.3h0M562.7 718.1h0M554.7 694.7h0M571.8 711.0h0M563.1 724.3h0M581.6 711.8h0M546.1 690.4h0M546.0 696.0h0M573.0 697.5h0M590.1 713.8h0M588.3 722.5h0M614.7 726.6h0M590.1 728.4h0M602.2 727.1h0M592.5 727.5h0M609.9 732.0h0M574.9 725.9h0M601.5 725.6h0M591.6 730.8h0M600.9 730.5h0M610.3 725.5h0M589.7 723.6h0M601.5 735.7h0M613.2 730.8h0M576.8 725.1h0M604.1 722.1h0M604.6 722.3h0M569.6 730.4h0M619.4 720.8h0M572.0 733.6h0M591.9 720.5h0M590.1 721.0h0M581.2 724.7h0M619.6 727.3h0M599.1 725.0h0M615.2 729.9h0M578.7 720.7h0M615.9 725.7h0M598.6 723.9h0M596.0 734.7h0M507.2 714.9h0M499.9 704.9h0M508.6 725.1h0M504.4 705.1h0M501.0 704.7h0M507.0 722.7h0M503.6 718.2h0M501.5 708.1h0M495.1 719.5h0M503.0 727.8h0M500.8 727.7h0M493.2 727.2h0M499.2 724.9h0M500.2 704.8h0M492.1 710.8h0M504.9 724.0h0M502.2 727.8h0M493.5 713.6h0M492.3 714.9h0M493.3 721.2h0M500.9 717.9h0M506.7 707.5h0M506.0 720.9h0M495.9 728.2h0M495.2 725.0h0M473.4 732.4h0M467.4 731.7h0M456.9 732.3h0M463.8 731.6h0M465.4 736.1h0M469.5 729.1h0M461.2 735.2h0M458.6 730.1h0M461.9 731.5h0M477.1 735.2h0M478.3 732.3h0M463.7 734.2h0" stroke="#55c0b8" stroke-width="2.1" stroke-linecap="round" fill="none" stroke-opacity="0.85"/>
<path d="M580.2 554.0h0M556.8 569.6h0M546.1 592.6h0M584.9 602.9h0M547.2 608.4h0M562.5 611.3h0M578.0 617.0h0M578.0 619.8h0M549.5 620.5h0M568.2 620.5h0M590.6 631.2h0M553.4 635.3h0M587.8 641.7h0M508.9 641.7h0M552.3 647.8h0M557.5 652.9h0M589.4 655.8h0M639.6 667.7h0M577.3 669.5h0M505.0 681.6h0M592.9 685.5h0M597.0 698.5h0M607.0 703.3h0M493.6 702.6h0M453.7 734.1h0M468.5 730.7h0M618.0 726.1h0M607.7 729.3h0M572.8 614.8h0M565.0 633.5h0M547.2 642.1h0M545.0 628.0h0M543.5 636.0h0" stroke="#55c0b8" stroke-width="2.3000000000000003" stroke-linecap="round" fill="none" stroke-opacity="0.85"/>
<path d="M559.0 739.6h0" stroke="#222" stroke-width="2.3000000000000003" stroke-linecap="round" fill="none" stroke-opacity="0.85"/>
<line x1="567.8" y1="609.0" x2="572.8" y2="614.8" stroke="#333" stroke-width="0.5"/>
<line x1="553.4" y1="626.6" x2="565.0" y2="633.5" stroke="#333" stroke-width="0.5"/>
<line x1="553.4" y1="635.3" x2="547.2" y2="642.1" stroke="#333" stroke-width="0.5"/>
<text x="575.5" y="551.3" font-size="6.3" fill="#111" textLength="20.5" lengthAdjust="spacingAndGlyphs">HAPLN3</text>
<text x="549.5" y="566.3" font-size="6.3" fill="#111" textLength="25.1" lengthAdjust="spacingAndGlyphs">KLHDC8B</text>
<text x="534.2" y="599.2" font-size="6.3" fill="#111" textLength="13.0" lengthAdjust="spacingAndGlyphs">ASS1</text>
<text x="581.9" y="598.8" font-size="6.3" fill="#111" textLength="22.4" lengthAdjust="spacingAndGlyphs">TSPAN33</text>
<text x="526.7" y="608.4" font-size="6.3" fill="#111" textLength="17.6" lengthAdjust="spacingAndGlyphs">ARRB1</text>
<text x="556.4" y="607.9" font-size="6.3" fill="#111" textLength="20.9" lengthAdjust="spacingAndGlyphs">SEMA6C</text>
<text x="581.0" y="616.6" font-size="6.3" fill="#111" textLength="13.0" lengthAdjust="spacingAndGlyphs">HID1</text>
<text x="526.7" y="617.5" font-size="6.3" fill="#111" textLength="19.8" lengthAdjust="spacingAndGlyphs">NHERF2</text>
<text x="551.1" y="617.5" font-size="6.3" fill="#111" textLength="11.4" lengthAdjust="spacingAndGlyphs">BOC</text>
<text x="527.2" y="626.8" font-size="6.3" fill="#111" textLength="17.1" lengthAdjust="spacingAndGlyphs">FMNL3</text>
<text x="553.4" y="627.3" font-size="6.3" fill="#111" textLength="16.6" lengthAdjust="spacingAndGlyphs">NPTXR</text>
<text x="575.1" y="627.3" font-size="6.3" fill="#111" textLength="17.8" lengthAdjust="spacingAndGlyphs">WNT9A</text>
<text x="529.0" y="636.4" font-size="6.3" fill="#111" textLength="14.1" lengthAdjust="spacingAndGlyphs">SOBP</text>
<text x="566.2" y="635.7" font-size="6.3" fill="#111" textLength="15.7" lengthAdjust="spacingAndGlyphs">FSTL3</text>
<text x="588.3" y="638.0" font-size="6.3" fill="#111" textLength="14.8" lengthAdjust="spacingAndGlyphs">PITX3</text>
<text x="532.4" y="645.6" font-size="6.3" fill="#111" textLength="23.5" lengthAdjust="spacingAndGlyphs">ST3GAL5</text>
<text x="560.2" y="644.4" font-size="6.3" fill="#111" textLength="23.5" lengthAdjust="spacingAndGlyphs">DNAJC12</text>
</g><g id="F">
<text x="697.1" y="427.4" font-size="35" textLength="16.6" lengthAdjust="spacingAndGlyphs">F</text>
<rect x="711.1" y="441.1" width="320.8" height="34.6" fill="#39605d"/>
<text x="799.7" y="467.5" font-size="19.0" fill="#eef3f2" textLength="162.4" lengthAdjust="spacingAndGlyphs">TWIST1-E47 vs pWPI</text>
<text x="844.3" y="492.7" font-size="9.6" fill="#d94a30" textLength="182.3" lengthAdjust="spacingAndGlyphs" stroke="#d94a30" stroke-width="0.12">Genes with pvaladj of 0 with log2FoldChange:</text>
<text x="972.9" y="504.0" font-size="9.6" fill="#d94a30" textLength="53.3" lengthAdjust="spacingAndGlyphs" stroke="#d94a30" stroke-width="0.12">TGFB3 (6.606)</text>
<text x="969.3" y="515.5" font-size="9.6" fill="#d94a30" textLength="56.9" lengthAdjust="spacingAndGlyphs" stroke="#d94a30" stroke-width="0.12">SPINT1 (6.035)</text>
<text x="968.0" y="527.0" font-size="9.6" fill="#d94a30" textLength="58.2" lengthAdjust="spacingAndGlyphs" stroke="#d94a30" stroke-width="0.12">TWIST1 (5.638)</text>
<text x="978.1" y="538.7" font-size="9.6" fill="#d94a30" textLength="48.1" lengthAdjust="spacingAndGlyphs" stroke="#d94a30" stroke-width="0.12">TCF3 (5.627)</text>
<text x="959.1" y="550.4" font-size="9.6" fill="#d94a30" textLength="67.1" lengthAdjust="spacingAndGlyphs" stroke="#d94a30" stroke-width="0.12">KLHDC8B (3.200)</text>
<text x="973.2" y="562.0" font-size="9.6" fill="#d94a30" textLength="52.9" lengthAdjust="spacingAndGlyphs" stroke="#d94a30" stroke-width="0.12">FSTL3 (2.989)</text>
<text x="965.4" y="573.5" font-size="9.6" fill="#d94a30" textLength="60.7" lengthAdjust="spacingAndGlyphs" stroke="#d94a30" stroke-width="0.12">NHERF2 (2.508)</text>
<line x1="740.5" y1="499.0" x2="740.5" y2="751.8" stroke="#f6f6f6" stroke-width="0.5"/>
<line x1="791.1" y1="499.0" x2="791.1" y2="751.8" stroke="#f6f6f6" stroke-width="0.5"/>
<line x1="841.8" y1="499.0" x2="841.8" y2="751.8" stroke="#f6f6f6" stroke-width="0.5"/>
<line x1="892.4" y1="499.0" x2="892.4" y2="751.8" stroke="#f6f6f6" stroke-width="0.5"/>
<line x1="943.1" y1="499.0" x2="943.1" y2="751.8" stroke="#f6f6f6" stroke-width="0.5"/>
<line x1="993.7" y1="499.0" x2="993.7" y2="751.8" stroke="#f6f6f6" stroke-width="0.5"/>
<line x1="733.2" y1="701.4" x2="1001.0" y2="701.4" stroke="#f6f6f6" stroke-width="0.5"/>
<line x1="733.2" y1="622.4" x2="1001.0" y2="622.4" stroke="#f6f6f6" stroke-width="0.5"/>
<line x1="733.2" y1="543.4" x2="1001.0" y2="543.4" stroke="#f6f6f6" stroke-width="0.5"/>
<line x1="765.8" y1="499.0" x2="765.8" y2="751.8" stroke="#eeeeee" stroke-width="0.75"/>
<text x="765.8" y="760.3" font-size="6.3" fill="#5a5a5a" text-anchor="middle">-10</text>
<line x1="816.5" y1="499.0" x2="816.5" y2="751.8" stroke="#eeeeee" stroke-width="0.75"/>
<text x="816.5" y="760.3" font-size="6.3" fill="#5a5a5a" text-anchor="middle">-5</text>
<line x1="867.1" y1="499.0" x2="867.1" y2="751.8" stroke="#eeeeee" stroke-width="0.75"/>
<text x="867.1" y="760.3" font-size="6.3" fill="#5a5a5a" text-anchor="middle">0</text>
<line x1="917.8" y1="499.0" x2="917.8" y2="751.8" stroke="#eeeeee" stroke-width="0.75"/>
<text x="917.8" y="760.3" font-size="6.3" fill="#5a5a5a" text-anchor="middle">5</text>
<line x1="968.4" y1="499.0" x2="968.4" y2="751.8" stroke="#eeeeee" stroke-width="0.75"/>
<text x="968.4" y="760.3" font-size="6.3" fill="#5a5a5a" text-anchor="middle">10</text>
<line x1="733.2" y1="740.9" x2="1001.0" y2="740.9" stroke="#eeeeee" stroke-width="0.75"/>
<text x="730.0" y="743.1" font-size="6.3" fill="#5a5a5a" text-anchor="end">0</text>
<line x1="733.2" y1="661.9" x2="1001.0" y2="661.9" stroke="#eeeeee" stroke-width="0.75"/>
<text x="730.0" y="664.1" font-size="6.3" fill="#5a5a5a" text-anchor="end">100</text>
<line x1="733.2" y1="582.9" x2="1001.0" y2="582.9" stroke="#eeeeee" stroke-width="0.75"/>
<text x="730.0" y="585.1" font-size="6.3" fill="#5a5a5a" text-anchor="end">200</text>
<line x1="733.2" y1="503.9" x2="1001.0" y2="503.9" stroke="#eeeeee" stroke-width="0.75"/>
<text x="730.0" y="506.1" font-size="6.3" fill="#5a5a5a" text-anchor="end">300</text>
<text x="836.1" y="768.2" font-size="7.0" fill="#2a2a2a" font-weight="bold" textLength="61.2" lengthAdjust="spacingAndGlyphs">Log2 Fold Change</text>
<text x="716.8" y="622.0" font-size="7.0" fill="#333" text-anchor="middle" font-weight="bold" textLength="81.0" lengthAdjust="spacingAndGlyphs" transform="rotate(-90 716.8 622.0)">-Log10 Adjusted P-value</text>
<path d="M859.4 736.4h0M862.0 728.9h0M855.1 736.6h0M855.7 714.9h0M856.8 734.4h0M857.4 738.5h0M854.3 731.9h0M858.0 740.3h0M863.0 740.7h0M859.2 736.4h0M860.2 738.9h0M854.5 738.0h0M853.2 740.2h0M858.6 735.2h0M855.4 725.4h0M863.0 734.3h0M860.1 739.5h0M854.7 738.5h0M855.6 734.1h0M854.9 715.5h0M852.3 732.9h0M860.1 740.5h0M861.3 736.3h0M856.8 736.6h0M858.0 740.8h0M856.7 735.4h0M853.4 738.7h0M851.9 739.7h0M853.8 728.2h0M854.6 733.2h0M861.8 739.2h0M864.8 738.4h0M855.0 737.5h0M852.1 739.2h0M859.8 735.1h0M859.9 733.1h0M853.9 740.2h0M857.0 725.4h0M864.5 736.9h0M852.2 721.1h0M854.4 735.4h0M860.3 722.8h0M862.6 732.3h0M863.6 735.4h0M856.1 739.5h0M852.6 722.1h0M858.0 729.1h0M861.2 726.4h0M855.6 736.8h0M852.1 735.8h0M852.2 740.8h0M852.6 738.0h0M856.4 734.1h0M863.3 740.1h0M862.9 734.9h0M865.2 740.1h0M853.8 736.0h0M859.3 739.0h0M852.5 737.3h0M863.5 732.8h0M854.6 725.3h0M857.8 727.1h0M861.2 739.7h0M863.6 740.0h0M858.4 740.5h0M863.4 737.5h0M860.9 740.4h0M854.5 735.6h0M863.8 740.5h0M852.0 739.4h0M862.3 736.0h0M860.4 740.5h0M860.0 735.4h0M857.0 738.5h0M860.7 738.5h0M856.0 736.5h0M852.7 722.4h0M855.1 734.6h0M856.5 739.8h0M863.1 736.9h0M852.2 729.3h0M855.0 739.8h0M860.4 728.1h0M855.9 731.1h0M856.4 738.8h0M855.8 740.7h0M859.7 735.3h0M856.2 732.2h0M853.9 713.1h0M860.0 739.7h0M852.4 737.0h0M854.7 737.6h0M853.9 738.1h0M857.0 734.9h0M859.7 729.8h0M854.9 738.8h0M863.1 733.6h0M861.9 738.9h0M860.2 734.8h0M864.5 738.7h0M862.0 738.8h0M860.6 737.1h0M854.1 740.7h0M859.5 740.2h0M855.8 731.1h0M857.6 740.5h0M858.7 734.7h0M855.6 737.6h0M856.5 737.1h0M853.0 737.8h0M862.6 731.2h0M852.0 723.7h0M856.2 739.9h0M854.3 740.6h0M853.3 738.0h0M860.4 731.9h0M853.1 735.9h0M851.6 732.4h0M859.7 739.1h0M861.2 736.0h0M855.4 708.7h0M857.6 739.7h0M860.4 734.3h0M854.5 735.5h0M855.7 738.0h0M851.9 734.0h0M863.0 738.5h0M854.2 726.7h0M863.4 739.7h0M861.6 739.6h0M851.7 735.1h0M858.5 739.8h0M852.8 730.8h0M860.2 736.4h0M857.7 725.8h0M858.4 734.0h0M857.5 738.3h0M862.5 740.2h0M852.2 728.5h0M852.7 735.6h0M860.5 735.9h0M861.6 728.9h0M853.7 737.1h0M853.1 736.7h0M856.0 735.5h0M853.3 739.0h0M860.4 738.2h0M854.1 739.6h0M855.0 737.1h0M855.9 737.1h0M854.1 721.9h0M853.3 731.0h0M857.1 711.7h0M852.4 719.8h0M863.0 737.7h0M861.6 733.2h0M861.0 731.3h0M857.4 737.7h0M854.7 729.1h0M857.3 739.8h0M864.3 740.0h0M863.8 740.6h0M851.6 737.9h0M854.7 740.2h0M862.1 740.3h0M856.9 726.1h0M864.6 738.6h0M851.7 736.7h0M852.8 729.9h0M855.1 711.8h0M851.9 739.0h0M854.3 729.0h0M854.4 740.3h0M858.6 739.9h0M852.0 732.8h0M852.4 737.4h0M863.9 735.2h0M862.6 735.3h0M859.1 730.8h0M853.1 740.1h0M854.0 735.6h0M860.4 738.6h0M857.7 740.0h0M857.5 715.1h0M864.8 737.4h0M860.7 733.0h0M862.3 735.4h0M860.6 724.0h0M853.0 740.1h0M865.3 738.9h0M859.4 740.7h0M863.2 736.7h0M852.7 738.0h0M863.6 740.8h0M858.4 737.4h0M856.0 736.7h0M859.6 736.3h0M862.0 731.1h0M851.8 735.0h0M852.5 735.0h0M860.6 731.7h0M856.9 732.9h0M865.5 739.7h0M859.7 740.3h0M856.1 734.6h0M858.9 737.0h0M864.2 738.7h0M852.5 740.5h0M862.1 731.0h0M858.0 737.0h0M864.1 736.9h0M863.6 739.8h0M861.1 740.9h0M862.2 732.2h0M852.4 736.8h0M864.4 739.3h0M852.7 724.3h0M859.3 738.0h0M859.7 736.7h0M856.5 733.8h0M856.8 735.0h0M852.1 740.0h0M852.2 733.0h0M856.1 733.2h0M860.8 732.8h0M852.3 735.0h0M860.2 739.5h0M855.6 709.9h0M855.8 739.4h0M860.6 739.4h0M853.9 740.5h0M855.7 730.0h0M856.3 721.7h0M861.4 727.6h0M863.3 738.1h0M860.0 724.5h0M859.2 735.2h0M852.7 740.1h0M859.7 739.1h0M864.6 738.8h0M861.9 734.5h0M862.0 736.4h0M858.3 729.7h0M862.7 734.3h0M856.9 739.8h0M861.2 733.3h0M854.2 734.0h0M857.0 739.2h0M864.4 738.1h0M853.3 737.3h0M852.8 733.2h0M854.9 733.1h0M852.7 734.8h0M863.0 735.5h0M854.9 740.6h0M862.8 733.4h0M863.5 740.1h0M857.6 731.8h0M858.0 725.8h0M855.2 734.3h0M853.2 714.9h0M863.1 737.9h0M859.7 737.8h0M858.9 736.0h0M852.2 731.7h0M861.5 736.6h0M862.7 738.8h0M859.6 735.5h0M861.8 735.1h0M861.4 730.5h0M853.0 733.8h0M857.3 736.8h0M863.6 736.1h0M863.4 737.8h0M862.5 737.8h0M863.8 737.1h0M856.3 740.8h0M859.5 736.5h0M856.5 737.6h0M857.9 732.7h0M854.6 722.0h0M854.4 727.6h0M860.8 727.5h0M854.5 731.7h0M856.6 723.0h0M861.4 740.0h0M852.2 738.4h0M858.1 737.6h0M862.4 736.8h0M863.6 737.9h0M860.6 727.0h0M857.4 733.7h0M856.4 728.4h0M854.8 740.5h0M858.9 734.8h0M858.0 739.6h0M855.5 740.5h0M852.7 727.5h0M855.5 727.6h0M859.0 727.7h0M859.3 730.9h0M862.2 733.4h0M861.9 737.4h0M852.6 723.1h0M854.7 722.8h0M856.5 734.6h0M860.4 729.8h0M859.4 734.7h0M856.2 735.8h0M861.3 728.5h0M860.1 738.3h0M863.6 737.6h0M861.1 733.6h0M858.9 736.8h0M859.4 729.4h0M860.2 734.6h0M860.1 734.3h0M857.3 734.8h0M863.5 737.5h0M858.6 720.3h0M853.6 740.0h0M857.6 736.9h0M858.5 737.4h0M854.7 738.1h0M857.0 740.8h0M852.5 740.3h0M860.3 736.0h0M859.2 734.7h0M861.2 732.0h0M863.3 740.5h0M856.3 739.7h0M852.0 730.2h0M859.3 740.7h0M856.1 738.3h0M856.2 740.3h0M852.4 739.7h0M858.6 738.1h0M863.8 738.7h0M851.8 733.3h0M858.6 734.5h0M863.1 734.6h0M859.1 728.0h0M858.7 738.3h0M863.2 739.3h0M853.6 724.4h0M851.9 729.6h0M855.4 732.4h0M860.1 734.3h0M865.1 738.6h0M861.5 729.5h0M854.8 737.8h0M857.9 738.4h0M857.5 731.2h0M852.4 703.0h0M864.2 737.1h0M852.1 733.2h0M852.0 740.3h0M859.1 733.2h0M854.3 737.5h0M861.9 739.5h0M855.2 737.7h0M857.0 721.4h0M855.8 740.0h0M852.3 738.5h0M858.9 735.0h0M863.1 740.7h0M854.1 730.8h0M856.6 737.5h0M858.3 729.3h0M859.2 739.7h0M858.4 740.3h0M852.1 738.8h0M854.0 730.8h0M857.5 738.2h0M864.0 740.6h0M856.6 738.8h0M860.4 730.1h0M853.6 731.2h0M852.7 733.5h0M861.3 737.7h0M855.9 717.0h0M851.7 729.5h0M861.0 735.8h0M855.5 736.4h0M855.8 736.2h0M863.6 740.7h0M860.5 729.2h0M855.0 733.5h0M860.6 730.9h0M860.1 739.4h0M857.8 736.6h0M861.7 740.7h0M853.9 729.6h0M856.6 738.4h0M860.0 725.1h0M855.2 724.6h0M861.5 738.3h0M863.9 737.4h0M857.8 739.0h0M854.3 719.8h0M853.4 734.0h0M852.1 735.3h0M856.8 730.7h0M860.9 732.4h0M855.3 718.3h0M852.8 734.4h0M863.9 739.0h0M854.4 731.6h0M856.6 736.9h0M855.9 727.9h0M853.2 734.8h0M859.3 721.6h0M852.3 729.9h0M852.7 733.7h0M860.1 731.5h0M852.3 739.9h0M853.0 736.1h0M864.4 740.7h0M862.8 740.5h0M853.4 739.0h0M862.6 736.3h0M852.7 729.1h0M852.9 738.0h0M855.1 738.7h0M864.3 740.3h0M860.3 740.1h0M857.2 738.8h0M862.1 740.1h0M861.4 734.5h0M863.5 732.9h0M857.4 735.9h0M864.0 740.1h0M860.6 739.9h0M856.0 731.4h0M858.2 740.5h0M865.1 740.2h0M863.1 737.5h0M857.4 735.0h0M860.9 734.0h0M862.0 733.4h0M856.7 734.9h0M854.9 734.9h0M859.6 732.3h0M861.9 737.3h0M858.8 728.7h0M858.2 737.0h0M864.6 739.5h0M863.2 733.2h0M859.5 739.4h0M860.3 736.4h0M862.9 739.1h0M852.8 739.0h0M851.7 739.2h0M862.9 733.6h0M858.3 731.6h0M854.5 716.8h0M855.6 737.9h0M852.1 735.3h0M860.8 736.1h0M858.4 734.9h0M858.5 733.6h0M852.3 737.0h0M856.4 738.9h0M854.8 738.1h0M853.0 736.3h0M860.9 740.0h0M863.4 734.8h0M857.3 725.6h0M854.1 737.3h0M861.8 735.8h0M851.7 730.5h0M853.5 737.6h0M857.9 740.5h0M853.9 734.8h0M861.3 737.2h0M859.3 737.4h0M862.4 730.3h0M860.5 728.9h0M852.4 727.5h0M862.8 738.3h0M856.1 730.6h0M856.5 731.3h0M852.8 718.1h0M862.6 735.3h0M854.6 737.4h0M853.2 737.2h0M858.5 739.3h0M860.6 739.4h0M854.6 738.6h0M853.3 740.2h0M858.8 726.5h0M860.1 737.7h0M861.8 731.5h0M855.6 728.8h0M852.1 727.7h0M852.4 735.6h0M859.4 735.2h0M860.0 736.8h0M854.8 740.1h0M858.7 736.5h0M859.4 733.3h0M858.8 738.8h0M852.2 737.5h0M855.6 716.6h0M856.4 734.2h0M855.8 740.0h0M852.6 739.5h0M856.5 740.4h0M863.7 733.8h0M862.1 735.7h0M859.0 738.9h0M860.0 740.5h0M851.9 738.3h0M862.5 740.8h0M855.7 734.8h0M858.7 739.6h0M857.1 734.3h0M854.1 727.2h0M861.2 735.4h0M855.5 725.9h0M852.4 733.9h0M851.9 735.9h0M854.3 731.2h0M854.1 734.7h0M855.2 733.8h0M862.3 738.5h0M856.0 733.5h0M862.6 737.9h0M859.9 724.8h0M857.2 716.5h0M852.4 739.7h0M864.3 738.9h0M853.8 708.2h0M855.4 717.3h0M855.8 736.8h0M857.1 734.4h0M856.4 739.6h0M858.2 737.4h0M859.8 740.2h0M853.9 734.9h0M853.7 734.1h0M851.7 728.6h0M852.1 737.5h0M853.3 734.8h0M861.2 737.6h0M859.7 738.8h0M855.8 738.9h0M853.7 740.8h0M852.2 733.8h0M863.1 732.9h0M860.7 735.2h0M852.4 728.9h0M853.5 728.9h0M853.1 739.8h0M856.4 734.7h0M863.6 736.8h0M864.0 740.6h0M853.1 730.5h0M861.7 733.7h0M858.6 738.6h0M857.2 738.9h0M860.0 736.2h0M857.1 739.7h0M854.5 731.4h0M852.7 732.2h0M857.3 716.5h0M862.9 740.5h0M854.9 723.1h0M851.6 740.8h0M859.0 721.4h0M856.6 732.6h0M861.0 740.1h0M865.5 740.9h0M858.3 736.4h0M858.3 735.4h0M859.5 731.7h0M857.6 719.6h0M861.0 737.1h0M855.4 735.9h0M855.3 732.1h0M859.2 739.9h0M859.9 728.1h0M858.2 720.9h0M856.8 729.6h0M855.9 739.7h0M858.4 739.5h0M857.1 734.8h0M856.1 739.1h0M858.1 737.2h0M860.8 739.0h0M861.1 739.4h0M853.7 723.1h0M861.8 737.0h0M858.5 736.9h0M858.4 721.3h0M856.0 729.8h0M859.9 734.7h0M854.7 740.4h0M852.3 736.2h0M853.9 728.8h0M854.8 730.6h0M861.8 737.9h0M856.4 735.9h0M861.4 737.2h0M854.3 739.5h0M855.7 711.5h0M853.8 730.2h0M854.6 726.7h0M852.0 737.4h0M854.6 710.6h0M856.4 734.9h0M863.5 740.7h0M852.3 737.9h0M857.0 739.2h0M853.6 738.9h0M863.0 736.3h0M859.5 738.5h0M858.1 737.5h0M855.3 732.9h0M856.9 740.3h0M862.0 731.0h0M855.3 725.1h0M858.4 740.2h0M861.6 739.8h0M860.3 740.2h0M854.0 730.3h0M857.4 740.9h0M861.5 738.2h0M860.3 738.0h0M857.0 719.7h0M861.5 740.3h0M857.5 733.1h0M862.9 740.7h0M853.8 725.7h0M865.3 739.9h0M861.3 725.4h0M853.7 734.3h0M860.6 722.7h0M862.0 738.6h0M860.7 733.2h0M859.5 722.5h0M857.7 732.7h0M852.6 718.9h0M857.3 737.6h0M857.7 738.6h0M851.8 733.3h0M852.5 729.6h0M853.0 734.4h0M856.5 740.0h0M856.5 733.0h0M856.4 738.8h0M860.5 740.0h0M852.0 736.2h0M861.5 735.7h0M851.7 737.3h0M860.1 737.7h0M856.2 735.4h0M859.3 738.4h0M857.9 731.7h0M853.1 734.7h0M857.5 736.5h0M853.8 740.8h0M856.8 739.8h0M859.6 740.2h0M861.7 734.6h0M865.7 740.2h0M854.1 726.1h0M860.0 739.9h0M851.6 740.8h0M852.5 731.6h0M859.5 738.0h0M857.2 736.6h0M857.3 732.4h0M858.0 736.6h0M855.4 735.2h0M857.2 726.7h0M862.4 729.5h0M854.4 701.7h0M851.9 703.1h0M857.6 734.6h0M859.9 736.8h0M860.0 736.0h0M858.9 735.4h0M860.8 726.9h0M863.3 737.5h0M853.6 726.6h0M852.4 714.9h0M860.3 731.5h0M855.8 729.8h0M855.4 739.7h0M861.0 729.8h0M865.1 740.8h0M854.3 738.8h0M861.2 739.6h0M865.3 740.0h0M854.1 740.5h0M859.4 723.3h0M859.8 734.4h0M854.6 713.6h0M858.2 732.2h0M860.7 737.7h0M852.1 718.0h0M863.7 736.2h0M854.2 737.0h0M862.5 737.7h0M863.2 740.7h0M853.0 740.3h0M857.3 731.4h0M854.4 727.0h0M863.7 736.8h0M861.9 739.7h0M853.0 715.3h0M863.6 739.5h0M864.0 738.8h0M859.2 733.3h0M859.1 730.4h0M857.6 739.4h0M851.7 740.4h0M855.6 736.3h0M858.6 734.7h0M857.3 738.6h0M857.2 737.0h0M856.8 739.5h0M860.2 735.6h0M863.0 739.9h0M856.3 739.2h0M852.4 735.6h0M858.0 738.3h0M865.2 740.3h0M863.8 740.7h0M854.6 737.4h0M862.5 737.5h0M857.6 737.6h0M860.5 740.7h0M856.7 738.2h0M860.4 733.1h0M852.2 739.1h0M855.0 716.4h0M860.5 739.4h0M859.8 740.3h0M854.7 724.5h0M861.9 737.4h0M859.7 740.2h0M859.5 734.9h0M855.3 740.3h0M856.5 722.6h0M858.5 721.0h0M856.8 728.6h0M855.8 733.7h0M860.8 740.2h0M861.0 739.8h0M861.0 740.0h0M863.3 735.6h0M855.0 731.7h0M853.9 740.6h0M860.2 723.1h0M863.8 740.2h0M852.4 733.6h0M857.7 732.7h0M855.9 733.8h0M853.0 733.9h0M860.0 740.5h0M862.6 739.6h0M855.8 740.2h0M856.5 740.3h0M859.7 730.6h0M852.0 727.1h0M857.3 728.5h0M860.6 730.8h0M860.3 733.8h0M859.5 729.3h0M851.7 740.8h0M859.9 722.0h0M852.1 731.5h0M854.7 728.2h0M852.2 734.7h0M852.8 730.2h0M859.9 734.7h0M860.3 739.3h0M852.4 740.3h0M856.7 738.2h0M856.5 730.5h0M857.8 732.9h0M858.2 724.1h0M852.9 736.4h0M860.2 732.3h0M856.6 740.3h0M861.1 726.8h0M853.4 730.0h0M855.8 739.4h0M854.7 739.6h0M863.2 740.5h0M859.2 732.4h0M857.7 714.4h0M861.8 740.3h0M855.2 737.0h0M859.2 732.1h0M851.9 735.0h0M859.1 730.1h0M853.8 733.4h0M860.3 735.4h0M864.8 739.5h0M865.7 740.9h0M856.8 738.8h0M860.6 726.8h0M857.3 735.7h0M860.2 732.4h0M859.7 740.8h0M853.7 727.7h0M860.8 732.2h0M854.6 727.0h0M857.8 727.3h0M852.0 740.3h0M860.9 734.0h0M854.9 736.5h0M854.3 737.9h0M857.0 736.0h0M854.7 739.0h0M862.2 730.8h0M858.2 737.7h0M858.7 739.1h0M862.0 739.8h0M862.8 740.2h0M858.2 734.8h0M852.1 737.0h0M862.1 738.4h0M864.1 737.1h0M853.3 739.8h0M854.8 731.0h0M854.8 738.0h0M862.3 739.7h0M853.7 740.6h0M860.0 737.5h0M855.3 731.3h0M863.0 739.8h0M859.3 739.7h0M861.1 732.9h0M854.9 739.9h0M862.3 736.9h0M856.8 735.7h0M853.2 734.3h0M853.2 706.4h0M852.9 738.2h0M860.4 735.4h0M863.0 736.0h0M860.8 736.4h0M862.9 740.8h0M852.2 736.0h0M857.7 713.7h0M858.2 740.1h0M865.3 740.5h0M858.8 734.4h0M855.4 739.9h0M852.9 738.8h0M858.1 739.4h0M857.9 740.2h0M857.7 714.6h0M860.9 737.9h0M862.5 736.0h0M860.4 730.5h0M862.4 740.6h0M864.5 737.3h0M858.5 733.8h0M859.6 732.5h0M863.4 738.4h0M853.4 726.7h0M853.2 737.7h0M852.3 732.2h0M857.9 738.7h0M857.0 718.4h0M860.3 736.3h0M864.0 736.1h0M853.5 731.9h0M862.0 730.2h0M860.4 730.4h0M852.2 735.1h0M856.2 727.7h0M861.7 733.7h0M863.5 735.5h0M856.6 740.5h0M856.8 740.7h0M854.6 735.2h0M860.1 740.4h0M863.5 738.5h0M859.4 730.5h0M862.9 735.1h0M863.5 734.3h0M856.2 730.4h0M861.1 736.2h0M854.6 727.2h0M862.4 740.2h0M858.0 736.1h0M855.8 726.2h0M861.7 731.6h0M860.8 731.0h0M865.0 738.0h0M855.1 732.3h0M853.3 737.6h0M852.6 740.4h0M860.8 736.6h0M853.6 734.6h0M858.6 731.0h0M858.1 734.9h0M864.7 740.5h0M858.7 735.5h0M862.0 734.8h0M852.3 738.8h0M860.2 728.0h0M854.1 739.3h0M859.9 735.5h0M863.1 736.3h0M857.4 739.6h0M855.0 733.3h0M853.8 718.5h0M853.2 734.4h0M863.4 735.4h0M855.7 736.8h0M856.9 736.6h0M854.3 739.8h0M853.4 738.7h0M856.6 725.4h0M855.4 740.0h0M855.0 739.5h0M859.6 720.5h0M856.3 738.6h0M852.0 740.7h0M855.2 740.0h0M857.7 718.7h0M862.1 735.1h0M858.6 724.7h0M860.3 739.4h0M856.3 734.1h0M862.7 734.5h0M859.0 738.6h0M857.0 726.4h0M851.9 724.2h0M854.8 735.3h0M858.7 737.0h0M863.2 733.0h0M856.1 732.1h0M864.5 737.4h0M855.5 728.0h0M864.2 740.3h0M855.2 727.3h0M853.8 730.5h0M861.6 738.8h0M856.0 730.1h0M853.6 735.4h0M864.3 736.1h0M864.9 737.9h0M864.6 740.3h0M861.4 739.7h0M861.8 739.5h0M862.4 739.9h0M858.0 725.4h0M858.9 739.2h0M862.0 737.1h0M853.5 727.9h0M852.0 726.1h0M857.3 737.7h0M860.9 729.2h0M858.8 733.7h0M861.2 740.0h0M855.3 736.0h0M853.6 736.1h0M852.9 726.7h0M864.1 735.5h0M859.8 738.4h0M857.8 734.9h0M851.6 734.7h0M861.0 735.1h0M852.1 737.3h0M864.3 740.7h0M855.0 732.3h0M854.7 712.9h0M859.6 736.5h0M860.3 738.0h0M860.3 736.0h0M855.0 734.8h0M856.7 735.9h0M862.5 729.9h0M864.2 738.4h0M854.2 705.6h0M860.0 734.1h0M853.5 729.6h0M859.1 738.6h0M863.7 738.2h0M861.2 727.5h0M857.7 732.1h0M863.5 738.1h0M857.9 737.9h0M861.2 731.2h0M865.3 740.1h0M858.4 732.0h0M862.3 740.7h0M858.8 722.5h0M863.9 738.0h0M854.4 736.0h0M857.6 737.0h0M852.9 718.6h0M855.9 738.7h0M853.5 720.6h0M859.6 739.7h0M860.1 740.0h0M851.9 736.3h0M852.9 736.4h0M851.7 739.8h0M856.4 740.8h0M852.2 737.9h0M857.2 738.1h0M856.6 736.7h0M859.3 726.0h0M860.2 732.1h0M852.0 738.6h0M851.7 735.0h0M860.2 732.9h0M854.7 724.5h0M852.6 734.5h0M854.3 736.6h0M864.3 740.2h0M852.9 708.0h0M852.5 735.5h0M856.9 739.7h0M854.5 718.1h0M859.8 736.7h0M852.8 730.6h0M857.7 739.7h0M856.3 733.7h0M854.8 732.2h0M862.3 738.7h0M857.2 730.8h0M862.7 734.0h0M856.0 736.9h0M855.6 735.6h0M855.5 719.8h0M856.9 725.5h0M863.1 731.8h0M859.6 721.5h0M861.2 736.4h0M854.7 717.0h0M859.9 740.3h0M860.2 737.7h0M853.1 737.8h0M864.2 740.7h0M862.4 738.5h0M851.8 733.7h0M854.7 729.3h0M856.1 739.9h0M862.2 740.5h0M865.5 740.6h0M855.0 735.3h0M853.1 731.8h0M861.9 733.1h0M855.1 737.8h0M857.8 731.8h0M853.3 737.2h0M857.4 729.1h0M851.7 730.3h0M852.7 740.1h0M852.5 723.2h0M860.7 737.0h0M865.7 740.6h0M858.9 726.8h0M854.8 737.8h0M854.3 739.7h0M853.3 736.2h0M852.6 731.7h0M856.6 736.0h0M859.0 731.7h0M859.4 734.3h0M862.5 740.7h0M855.5 740.3h0M854.1 732.9h0M863.8 740.6h0M856.5 738.6h0M860.1 730.3h0M855.5 717.4h0M862.2 737.1h0M856.0 737.9h0M860.7 735.9h0M853.7 738.6h0M861.4 732.3h0M861.0 739.6h0M860.9 740.1h0M861.2 740.4h0M855.7 732.4h0M862.0 739.4h0M854.4 731.9h0M857.3 728.4h0M852.9 736.0h0M860.5 730.0h0M859.0 740.8h0M853.0 704.1h0M852.0 740.8h0M854.0 737.6h0M854.5 728.8h0M857.9 717.1h0M861.6 740.4h0M862.0 730.0h0M855.1 737.5h0M854.9 740.7h0M854.3 739.7h0M856.4 739.5h0M852.1 739.5h0M859.5 739.1h0M853.3 724.4h0M859.6 740.4h0M859.8 737.6h0M863.9 740.3h0M863.7 735.8h0M854.5 739.0h0M854.3 738.8h0M858.7 735.3h0M851.7 740.7h0M854.7 718.0h0M857.1 737.7h0M854.5 738.1h0M856.1 737.5h0M860.1 734.0h0M855.9 736.7h0M851.9 733.1h0M860.0 736.5h0M859.4 737.1h0M863.4 734.3h0M854.0 740.9h0M859.9 729.3h0M852.5 733.1h0M856.6 737.5h0M858.5 718.7h0M863.3 737.6h0M857.7 738.5h0M853.4 737.3h0M860.6 734.4h0M861.8 733.5h0M854.0 734.8h0M856.2 737.7h0M858.8 722.2h0M853.9 737.3h0M853.3 713.4h0M861.7 738.5h0M862.3 737.4h0M853.6 737.0h0M863.2 739.2h0M857.9 738.2h0M862.0 739.5h0M863.9 738.0h0M852.9 733.1h0M854.5 725.7h0M853.6 730.3h0M856.1 740.9h0M852.5 740.7h0M855.3 718.5h0M851.8 735.2h0M856.8 730.9h0M861.3 734.5h0M858.1 739.3h0M861.8 738.3h0M860.6 735.2h0M861.3 729.5h0M855.2 729.7h0M859.0 740.5h0M860.1 739.7h0M860.4 727.4h0M863.2 738.2h0M859.3 740.7h0M857.7 725.8h0M864.0 735.8h0M854.8 740.4h0M854.5 740.4h0M860.4 739.4h0M855.8 734.2h0M860.4 734.7h0M861.7 735.8h0M852.9 732.5h0M857.6 740.8h0M859.3 738.5h0M857.2 715.1h0M856.3 735.3h0M854.5 732.4h0M857.5 730.5h0M855.2 730.4h0M857.9 716.6h0M853.9 724.7h0M860.6 727.6h0M852.5 737.8h0M851.9 735.7h0M857.4 740.3h0M857.5 738.4h0M862.3 737.2h0M854.1 729.0h0M858.1 734.5h0M861.6 735.0h0M860.6 735.0h0M852.4 728.5h0M858.6 740.8h0M863.8 737.7h0M861.0 735.6h0M856.1 738.0h0M859.3 724.4h0M861.9 738.1h0M862.2 733.0h0M853.5 734.9h0M859.8 739.7h0M852.5 739.6h0M863.8 740.1h0M853.1 702.1h0M859.0 730.3h0M854.1 740.8h0M854.1 737.3h0M861.3 738.1h0M855.7 737.5h0M854.5 737.4h0M853.5 737.8h0M858.5 731.1h0M858.5 737.8h0M865.3 739.8h0M861.5 727.9h0M853.5 735.5h0M861.3 731.9h0M856.1 737.8h0M861.1 740.8h0M859.9 726.0h0M852.5 738.4h0M852.6 730.0h0M853.0 730.0h0M855.5 736.4h0M855.9 735.9h0M851.8 738.1h0M852.0 740.8h0M853.5 738.9h0M854.6 735.1h0M854.3 737.1h0M851.7 735.5h0M858.0 738.5h0M857.2 732.1h0M859.0 734.8h0M855.4 739.4h0M860.1 735.6h0M858.6 725.2h0M857.8 732.7h0M853.6 733.2h0M860.6 740.0h0M863.9 739.0h0M855.8 735.5h0M859.8 731.5h0M860.2 727.8h0M855.1 735.6h0M859.0 734.0h0M860.8 733.9h0M861.5 730.6h0M853.5 726.6h0M859.2 737.6h0M859.4 739.6h0M852.9 735.4h0M860.0 738.4h0M853.7 737.0h0M854.0 736.8h0M862.8 731.7h0M861.8 735.9h0M861.4 737.7h0M854.5 732.0h0M856.5 739.0h0M853.1 711.6h0M859.0 734.2h0M862.6 738.9h0M858.2 739.3h0M853.1 720.7h0M859.9 727.2h0M860.1 738.7h0M861.6 727.4h0M861.0 725.6h0M854.8 737.1h0M855.3 728.1h0M856.2 734.9h0M858.8 717.3h0M860.0 739.8h0M855.6 737.1h0M855.4 735.7h0M852.5 714.5h0M852.4 738.8h0M864.6 738.7h0M862.6 729.9h0M857.8 733.1h0M863.4 738.2h0M856.4 728.8h0M860.4 735.0h0M860.0 740.0h0M862.9 738.8h0M856.5 738.3h0M853.1 736.6h0M855.1 735.7h0M863.6 738.6h0M851.8 734.5h0M857.6 737.4h0M858.3 728.3h0M858.0 737.4h0M856.6 736.7h0M856.5 731.4h0M853.2 737.4h0M858.0 737.6h0M854.1 731.8h0M862.9 736.4h0M856.1 735.5h0M855.8 737.1h0M852.1 717.1h0M856.9 740.8h0M855.3 738.7h0M856.3 728.6h0M854.9 738.8h0M860.7 739.7h0M854.3 739.1h0M857.3 737.8h0M859.3 731.8h0M861.9 735.1h0M853.3 736.8h0M861.0 733.1h0M853.0 736.6h0M862.9 739.3h0M856.4 734.5h0M856.9 733.2h0M861.6 738.7h0M861.7 735.2h0M862.8 739.5h0M862.9 735.6h0M860.3 725.5h0M857.4 737.7h0M852.6 736.8h0M854.3 706.4h0M853.4 739.7h0M856.5 734.4h0M856.9 723.8h0M863.4 740.0h0M864.2 736.8h0M855.9 731.4h0M860.4 739.8h0M854.5 737.9h0M864.3 739.0h0M853.0 730.6h0M856.3 715.6h0M856.2 728.7h0M857.7 737.4h0M855.7 739.5h0M855.7 733.2h0M863.6 733.8h0M854.0 738.1h0M852.5 725.3h0M860.4 737.9h0M851.7 740.6h0M863.5 738.1h0M857.0 739.7h0M855.7 719.4h0M861.1 729.6h0M863.8 736.4h0M864.6 740.1h0M852.2 724.5h0M854.5 715.5h0M860.2 734.1h0M858.3 735.3h0M852.3 737.0h0M862.2 737.5h0M858.5 724.5h0M852.6 731.3h0M853.8 738.0h0M855.5 735.9h0M855.0 738.2h0M859.8 740.4h0M853.3 733.8h0M853.5 733.1h0M856.8 715.6h0M855.6 737.5h0M858.6 724.6h0M854.2 740.6h0M861.8 736.0h0M858.2 739.8h0M861.9 737.6h0M856.8 710.0h0M865.2 738.6h0M854.4 738.3h0M859.5 735.0h0M862.0 733.9h0M861.5 740.4h0M859.0 728.8h0M854.9 732.5h0M857.8 737.8h0M861.9 734.0h0M856.9 738.7h0M862.9 735.6h0M861.8 739.6h0M859.5 729.4h0M863.0 737.1h0M854.3 708.3h0M852.5 704.2h0M854.4 733.3h0M862.5 739.5h0M854.2 721.2h0M863.4 735.7h0M854.2 732.7h0M860.6 735.3h0M854.5 738.4h0M862.8 740.4h0M851.7 739.5h0M853.8 720.9h0M861.1 736.9h0M863.4 735.2h0M859.0 730.4h0M859.3 739.9h0M859.0 732.3h0M853.0 735.6h0M858.2 728.1h0M865.5 740.3h0M855.3 734.5h0M861.9 739.2h0M859.5 738.4h0M860.5 738.6h0M854.5 730.8h0M856.3 737.6h0M862.6 735.5h0M859.9 730.8h0M859.8 725.5h0M858.6 732.9h0M857.9 731.3h0M853.1 719.5h0M852.1 735.0h0M864.9 738.9h0M860.0 738.8h0M853.5 702.4h0M858.1 734.1h0M854.5 733.0h0M861.4 740.5h0M860.5 738.5h0M852.1 732.7h0M852.4 723.8h0M861.3 739.2h0M857.9 738.1h0M859.2 723.2h0M856.6 734.5h0M856.1 735.3h0M859.1 737.0h0M862.1 736.3h0M852.1 735.8h0M853.2 736.7h0M855.2 719.0h0M857.8 726.2h0M863.6 735.4h0M858.1 740.3h0M854.3 736.4h0M852.8 733.0h0M862.6 734.2h0M859.9 735.7h0M859.4 730.4h0M857.8 716.7h0M856.9 727.0h0M855.4 737.7h0M864.2 736.1h0M852.2 736.5h0M862.5 733.6h0M863.0 734.4h0M859.2 739.8h0M854.7 729.4h0M857.3 730.9h0M852.0 735.3h0M852.8 733.6h0M865.3 739.8h0M863.0 733.2h0M856.8 736.2h0M854.4 730.6h0M859.8 737.0h0M854.5 724.1h0M860.2 737.0h0M853.9 734.0h0M861.2 739.6h0M853.8 732.3h0M858.6 740.1h0M855.4 738.9h0M855.3 734.6h0M855.6 735.0h0M852.2 736.9h0M857.2 736.6h0M859.3 737.7h0M858.2 732.4h0M862.3 737.7h0M854.1 723.3h0M852.5 732.1h0M860.4 740.5h0M857.0 717.5h0M852.0 736.0h0M854.1 730.0h0M863.7 740.7h0M857.6 723.2h0M852.4 740.5h0M860.8 726.3h0M859.4 732.7h0M863.3 733.3h0M855.0 732.0h0M856.6 725.4h0M851.8 731.0h0M854.4 730.4h0M864.0 737.7h0M863.8 740.0h0M860.3 722.1h0M876.0 729.3h0M874.6 726.5h0M871.8 734.7h0M874.4 730.3h0M880.1 740.5h0M878.7 739.1h0M881.0 728.0h0M874.5 739.8h0M880.0 721.5h0M875.5 736.0h0M876.5 731.5h0M881.7 740.3h0M873.5 740.7h0M875.9 708.3h0M876.5 717.4h0M875.5 734.6h0M873.3 738.2h0M880.3 740.5h0M882.3 709.3h0M874.1 714.2h0M881.0 722.0h0M871.2 740.6h0M875.1 723.8h0M871.0 730.4h0M881.5 735.8h0M872.4 730.8h0M876.1 726.4h0M880.3 721.8h0M876.4 728.5h0M872.9 739.8h0M877.4 731.4h0M873.8 732.7h0M875.2 720.6h0M878.9 725.6h0M876.8 740.9h0M879.0 730.7h0M880.6 725.8h0M872.5 739.4h0M876.6 732.0h0M877.1 738.7h0M878.5 739.9h0M875.0 739.6h0M877.3 735.0h0M882.2 738.4h0M877.1 731.4h0M872.5 729.5h0M873.4 739.6h0M878.3 740.3h0M878.9 724.0h0M881.4 728.5h0M872.9 739.1h0M875.8 724.5h0M881.5 737.7h0M882.2 726.0h0M869.2 738.9h0M874.5 726.5h0M878.4 729.0h0M882.3 730.3h0M881.3 731.6h0M873.9 736.8h0M876.3 723.4h0M877.3 734.5h0M881.9 730.2h0M873.7 737.5h0M872.7 740.6h0M881.6 706.0h0M878.8 698.5h0M876.8 732.8h0M876.8 740.0h0M881.5 738.0h0M875.1 727.0h0M874.2 739.1h0M879.0 719.6h0M879.0 737.4h0M877.4 732.5h0M874.7 737.4h0M875.5 733.3h0M882.0 736.7h0M880.5 733.8h0M876.7 718.0h0M880.5 735.0h0M880.1 739.3h0M873.0 729.2h0M882.3 706.6h0M877.9 696.5h0M871.8 738.6h0M875.5 738.8h0M878.4 733.1h0M874.7 729.0h0M876.1 736.2h0M882.4 716.0h0M876.5 740.0h0M872.5 725.5h0M874.8 719.7h0M880.4 734.3h0M873.0 736.8h0M870.5 732.7h0M874.6 736.1h0M881.0 736.7h0M875.4 735.5h0M880.7 723.7h0M877.9 739.2h0M879.9 735.7h0M879.0 736.7h0M874.9 739.4h0M878.6 707.4h0M871.5 729.0h0M882.2 725.7h0M872.5 740.1h0M880.2 732.8h0M872.4 728.2h0M873.8 732.4h0M878.7 739.3h0M882.4 733.0h0M878.6 738.1h0M880.2 728.7h0M875.0 734.1h0M879.4 725.5h0M881.0 737.7h0M880.5 737.7h0M876.2 730.5h0M877.5 728.8h0M877.9 734.7h0M877.5 740.2h0M876.2 718.6h0M875.9 722.1h0M872.9 737.4h0M882.4 714.3h0M881.4 699.7h0M879.2 738.9h0M877.4 725.3h0M871.9 736.1h0M874.3 734.3h0M880.9 729.2h0M876.7 737.8h0M870.9 730.1h0M879.9 738.7h0M875.1 722.0h0M871.7 737.0h0M868.8 740.7h0M878.9 727.4h0M874.5 740.8h0M876.0 737.3h0M875.0 733.5h0M876.2 717.5h0M881.1 703.2h0M880.6 729.9h0M872.9 738.4h0M879.4 730.8h0M872.9 740.3h0M872.3 728.8h0M880.1 707.9h0M879.7 737.1h0M870.0 735.4h0M881.0 731.7h0M878.2 699.5h0M874.9 722.0h0M882.0 727.7h0M881.9 732.5h0M871.6 729.5h0M872.2 739.3h0M876.0 739.4h0M878.6 720.3h0M880.7 739.7h0M873.8 739.9h0M872.9 733.3h0M871.3 732.9h0M875.8 737.3h0M880.0 729.6h0M870.3 737.6h0M881.2 704.8h0M879.3 716.2h0M873.9 732.2h0M878.6 732.7h0M876.9 740.1h0M872.4 738.0h0M870.1 738.6h0M877.8 735.6h0M877.5 728.7h0M874.7 736.4h0M877.4 723.4h0M881.8 705.8h0M878.9 704.7h0M875.0 734.0h0M878.4 740.0h0M875.1 727.2h0M873.7 730.0h0M880.1 704.3h0M873.9 737.7h0M876.8 738.9h0M877.5 724.2h0M876.3 722.0h0M873.4 725.0h0M877.0 737.9h0M879.8 737.7h0M879.0 721.5h0M880.9 740.3h0M878.1 730.1h0M872.0 733.7h0M881.3 740.2h0M881.1 740.8h0M874.5 723.6h0M876.1 731.3h0M876.8 723.1h0M879.8 740.3h0M874.6 739.4h0M877.4 702.3h0M876.0 717.1h0M877.0 734.9h0M875.6 728.4h0M878.0 729.9h0M873.6 724.0h0M881.7 722.9h0M878.9 734.0h0M880.7 740.0h0M875.0 716.5h0M876.4 734.1h0M869.6 738.8h0M882.1 720.0h0M875.9 730.3h0M875.4 740.2h0M872.9 730.2h0M872.5 735.8h0M875.8 736.4h0M879.3 710.6h0M874.2 735.0h0M874.8 737.5h0M874.9 734.4h0M869.0 739.2h0M877.1 736.5h0M881.1 721.4h0M881.5 740.0h0M880.0 738.4h0M881.7 723.2h0M880.2 734.3h0M876.7 735.6h0M870.6 736.2h0M876.0 724.3h0M871.5 732.0h0M871.4 730.0h0M878.6 719.5h0M869.4 737.7h0M880.4 728.6h0M873.2 726.4h0M875.3 727.7h0M877.5 728.5h0M870.1 736.2h0M876.6 735.5h0M875.4 737.5h0M872.3 736.5h0M877.7 731.1h0M878.5 737.2h0M877.5 707.7h0M869.8 736.4h0M874.0 727.3h0M878.3 721.3h0M875.9 740.8h0M881.2 722.9h0M878.2 736.5h0M872.6 721.3h0M872.4 740.7h0M876.4 717.1h0M876.2 737.1h0M881.8 716.5h0M881.3 727.7h0M869.6 737.2h0M881.8 738.7h0M871.5 737.7h0M881.0 731.0h0M872.1 732.2h0M881.8 721.3h0M879.1 738.2h0M881.2 713.5h0M876.4 737.1h0M879.9 736.9h0M870.4 736.9h0M872.5 727.9h0M879.8 737.9h0M876.6 720.2h0M875.7 738.5h0M876.0 715.8h0M870.4 735.0h0M878.4 708.9h0M870.8 738.6h0M871.9 735.4h0M874.8 740.9h0M872.8 727.0h0M879.6 739.7h0M880.4 738.9h0M880.2 713.9h0M869.4 740.6h0M874.9 739.9h0M881.8 711.3h0M875.7 740.3h0M875.7 719.4h0M876.1 727.8h0M881.4 735.7h0M876.0 737.0h0M877.5 727.7h0M872.1 723.8h0M880.0 734.3h0M880.6 735.8h0M871.5 735.5h0M873.0 723.3h0M878.3 739.8h0M870.7 735.9h0M878.3 721.3h0M875.0 728.8h0M875.7 722.1h0M881.5 726.3h0M881.6 733.4h0M875.1 735.3h0M871.2 728.6h0M880.6 737.2h0M872.2 725.4h0M879.6 737.6h0M876.9 731.7h0M879.8 739.6h0M877.6 728.4h0M877.2 730.1h0M870.7 736.9h0M872.2 739.6h0M878.8 708.9h0M869.0 739.3h0M871.9 728.3h0M873.4 735.3h0M879.9 740.3h0M877.2 737.7h0M878.7 732.7h0M876.9 728.4h0M879.2 733.2h0M880.5 740.4h0M880.0 734.2h0M877.5 721.7h0M876.3 738.8h0M874.0 734.3h0M870.6 732.6h0M873.9 726.3h0M869.9 740.9h0M881.3 738.6h0M870.1 737.3h0M874.6 720.3h0M876.9 727.4h0M875.7 714.0h0M871.6 731.2h0M877.3 739.5h0M877.1 737.6h0M878.9 735.3h0M873.8 736.0h0M873.7 736.8h0M873.8 734.1h0M870.0 737.9h0M874.1 738.2h0M879.0 700.3h0M879.0 740.6h0M876.2 726.4h0M881.2 740.2h0M882.2 731.3h0M870.7 732.5h0M870.5 735.4h0M882.4 738.9h0M880.4 708.9h0M879.0 729.1h0M872.6 740.2h0M874.7 721.4h0M880.4 732.9h0M881.0 730.6h0M881.9 740.6h0M874.8 740.3h0M881.2 735.8h0M876.3 710.1h0M882.1 726.9h0M870.2 738.2h0M872.8 734.2h0M873.1 737.0h0M880.9 715.9h0M875.2 731.4h0M872.9 728.5h0M874.8 730.7h0M881.6 733.3h0M870.0 739.9h0M873.2 736.5h0M879.3 730.1h0M882.4 709.3h0M876.1 718.2h0M878.6 731.3h0M881.8 731.9h0M878.0 712.8h0M872.7 732.9h0M879.9 715.8h0M880.2 730.1h0M881.0 738.1h0M874.0 734.5h0M881.1 740.8h0M877.9 731.4h0M873.2 739.5h0M879.3 721.2h0M870.3 737.0h0M871.0 736.4h0M872.6 724.3h0M875.0 736.3h0M882.5 737.9h0M877.9 736.4h0M874.7 733.2h0M873.3 738.0h0M874.6 740.5h0M879.8 736.9h0M877.0 707.3h0M881.7 716.1h0M874.0 740.1h0M876.8 734.6h0M869.6 736.2h0M880.0 738.7h0M876.9 738.4h0M875.9 733.2h0M875.8 730.2h0M870.5 731.7h0M881.6 721.2h0M870.5 737.2h0M870.3 739.0h0M870.7 730.8h0M871.4 738.0h0M876.7 732.7h0M876.1 729.0h0M880.9 735.0h0M873.1 731.2h0M881.6 734.8h0M881.1 735.8h0M878.5 729.8h0M873.0 732.6h0M872.4 740.2h0M882.4 723.2h0M879.5 726.2h0M881.3 722.9h0M878.4 715.0h0M878.8 736.5h0M882.4 696.3h0M872.4 731.3h0M880.2 740.4h0M876.8 739.5h0M873.4 720.2h0M874.0 731.6h0M878.3 733.6h0M880.2 733.2h0M871.7 731.1h0M880.0 738.4h0M874.0 729.8h0M877.9 702.6h0M870.3 734.7h0M869.2 738.9h0M873.9 737.1h0M882.3 740.0h0M881.6 728.2h0M880.2 734.0h0M881.0 725.1h0M874.7 711.0h0M875.2 737.4h0M879.8 721.5h0M879.1 729.0h0M875.0 735.9h0M878.8 737.5h0M873.1 723.5h0M880.2 739.0h0M877.2 733.1h0M877.2 738.7h0M873.6 734.0h0M878.6 739.4h0M876.2 722.4h0M875.9 739.1h0M869.3 740.5h0M875.5 723.5h0M878.0 739.2h0M881.8 715.8h0M880.3 730.2h0M873.4 740.0h0M873.5 725.2h0M881.8 740.8h0M869.8 740.5h0M881.8 712.3h0M879.6 726.5h0M881.0 735.0h0M881.0 730.4h0M882.1 733.9h0M877.6 731.1h0M871.0 736.7h0M872.7 733.3h0M870.0 734.6h0M875.2 740.5h0M876.3 729.1h0M870.2 737.0h0M869.4 738.9h0M875.0 737.8h0M880.2 711.6h0M870.3 740.3h0M878.8 738.3h0M870.1 737.7h0M873.6 736.3h0M879.5 730.7h0M875.5 738.4h0M877.5 738.7h0M874.2 733.0h0M873.7 733.8h0M879.6 737.6h0M873.2 737.4h0M878.3 734.6h0M875.3 736.7h0M877.8 732.4h0M871.0 733.6h0M878.0 709.2h0M872.8 739.0h0M875.7 733.4h0M879.1 720.5h0M870.3 739.0h0M871.1 739.1h0M872.5 730.5h0M878.8 737.8h0M873.9 726.8h0M877.2 740.0h0M877.0 733.3h0M879.5 740.3h0M879.4 724.7h0M877.1 735.6h0M879.2 724.3h0M878.1 733.1h0M876.8 738.1h0M881.1 738.9h0M878.8 739.8h0M870.1 737.0h0M870.0 736.0h0M869.5 737.7h0M876.0 740.3h0M877.6 740.3h0M874.4 732.6h0M874.0 733.5h0M880.3 731.9h0M879.8 738.5h0M872.6 732.6h0M880.8 734.1h0M877.9 719.7h0M878.6 739.1h0M873.1 734.0h0M876.5 720.9h0M878.5 720.7h0M880.9 737.5h0M877.5 740.2h0M875.3 735.6h0M879.5 724.0h0M877.0 740.5h0M875.9 717.2h0M870.5 733.0h0M876.6 732.9h0M878.2 739.0h0M876.6 716.2h0M880.2 721.1h0M882.2 696.3h0M880.1 737.5h0M871.8 740.6h0M875.3 730.4h0M882.3 730.9h0M873.2 734.9h0M880.5 736.7h0M882.2 740.5h0M878.9 734.8h0M881.0 726.1h0M881.7 720.9h0M873.0 728.0h0M869.2 740.5h0M876.3 731.4h0M878.4 736.1h0M878.5 738.6h0M878.0 726.3h0M872.6 740.6h0M875.6 724.1h0M882.2 722.9h0M875.7 737.9h0M871.9 738.0h0M870.3 740.4h0M878.0 738.0h0M879.7 736.3h0M869.8 740.9h0M882.4 737.3h0M874.2 735.1h0M882.4 738.8h0M880.3 731.8h0M878.9 728.8h0M879.1 720.6h0M876.7 739.4h0M871.9 740.3h0M877.1 739.6h0M879.3 740.5h0M877.6 735.9h0M875.2 739.5h0M880.7 711.3h0M878.4 736.4h0M874.0 737.7h0M869.4 738.5h0M881.4 738.4h0M881.5 720.9h0M877.6 735.0h0M874.3 737.7h0M870.5 738.7h0M872.3 733.7h0M877.7 740.7h0M882.4 737.9h0M879.8 703.1h0M882.5 739.2h0M882.5 737.5h0M878.8 738.7h0M876.0 740.7h0M877.5 739.4h0M871.8 726.7h0M882.1 732.7h0M881.3 731.8h0M872.6 721.1h0M875.7 711.9h0M876.5 731.8h0M876.9 732.6h0M870.9 729.5h0M878.0 736.6h0M880.1 732.7h0M871.8 734.4h0M873.6 735.2h0M876.0 738.6h0M872.2 725.4h0M879.4 739.3h0M880.5 740.0h0M879.2 701.3h0M880.3 734.8h0M878.0 732.3h0M876.8 731.7h0M875.1 727.0h0M871.9 740.4h0M879.3 726.1h0M872.0 738.7h0M881.8 738.0h0M880.2 718.0h0M881.2 716.4h0M878.5 733.8h0M872.9 733.5h0M874.5 724.4h0M871.3 733.8h0M870.8 736.7h0M873.1 731.2h0M873.6 731.9h0M877.5 722.7h0M873.5 738.5h0M881.6 723.3h0M879.6 705.8h0M876.0 733.0h0M873.0 729.4h0M876.2 731.2h0M878.1 698.9h0M874.4 733.7h0M873.7 730.7h0M881.8 738.4h0M874.0 737.7h0M878.0 727.1h0M879.9 736.0h0M872.6 724.8h0M882.0 737.0h0M876.9 722.8h0M880.0 734.3h0M876.4 736.3h0M871.0 737.4h0M874.7 718.9h0M877.0 740.9h0M881.0 735.1h0M876.5 734.2h0M872.5 737.2h0M876.7 738.0h0M878.8 739.8h0M878.2 734.0h0M877.0 734.7h0M870.3 740.5h0M878.5 733.6h0M880.4 730.6h0M875.0 726.1h0M876.6 739.5h0M877.8 718.7h0M877.3 731.0h0M876.4 735.3h0M879.4 738.3h0M870.7 738.8h0M879.0 733.4h0M880.4 740.2h0M878.5 712.8h0M882.4 726.5h0M876.9 715.5h0M878.7 734.0h0M881.9 732.8h0M875.3 714.3h0M872.8 726.3h0M873.2 722.9h0M874.1 731.7h0M877.6 731.5h0M881.9 701.7h0M877.9 729.7h0M880.9 712.2h0M873.9 729.8h0M874.7 728.2h0M882.2 735.8h0M878.3 740.2h0M880.4 714.2h0M870.7 735.2h0M874.5 712.1h0M874.5 723.2h0M879.5 729.5h0M878.9 740.0h0M882.2 740.3h0M879.6 732.4h0M874.6 728.3h0M872.8 739.3h0M873.2 728.6h0M874.5 736.8h0M881.6 737.0h0M878.7 739.0h0M869.6 740.9h0M871.1 734.8h0M879.9 727.4h0M876.4 733.5h0M873.0 732.6h0M879.5 738.1h0M873.8 720.5h0M873.9 739.2h0M875.3 738.2h0M877.4 738.1h0M880.7 728.7h0M874.0 725.8h0M880.2 722.9h0M878.6 710.2h0M872.8 730.6h0M880.0 728.6h0M873.4 732.5h0M881.5 694.8h0M879.1 728.1h0M871.5 734.0h0M875.8 736.1h0M878.9 733.4h0M876.8 723.0h0M882.0 737.2h0M880.3 727.6h0M881.4 734.7h0M876.0 736.7h0M878.4 732.2h0M874.8 716.7h0M874.4 727.6h0M873.0 734.6h0M877.0 719.8h0M874.2 740.1h0M872.5 739.5h0M870.7 732.9h0M878.1 739.3h0M876.9 734.0h0M875.1 734.7h0M874.4 725.8h0M871.8 729.5h0M881.6 737.8h0M881.7 735.6h0M882.2 714.9h0M869.1 740.8h0M870.4 736.0h0M879.1 735.4h0M881.0 737.5h0M878.0 727.5h0M873.9 736.3h0M874.0 740.3h0M877.6 731.0h0M881.4 727.5h0M869.8 740.7h0M882.5 727.4h0M869.5 736.8h0M881.7 709.2h0M879.8 736.2h0M880.3 732.4h0M879.0 722.1h0M873.0 739.8h0M878.9 730.9h0M870.7 732.3h0M874.8 725.6h0M879.8 728.0h0M873.2 732.6h0M877.3 701.6h0M882.2 705.5h0M879.3 737.4h0M874.7 735.3h0M879.5 734.4h0M877.3 724.9h0M880.0 740.4h0M882.4 733.7h0M880.9 732.0h0M875.3 736.7h0M877.2 733.0h0M873.0 738.9h0M872.2 736.8h0M878.9 738.5h0M873.4 740.7h0M879.6 696.0h0M869.9 738.6h0M882.4 720.4h0M870.8 740.4h0M878.8 711.2h0M881.4 694.4h0M877.2 721.5h0M875.1 736.5h0M876.6 705.7h0M875.6 738.8h0M875.8 728.7h0M878.8 717.4h0M872.9 739.7h0M880.9 684.7h0M876.9 732.2h0M878.7 738.6h0M871.4 735.6h0M871.1 738.1h0M881.3 739.7h0M874.9 740.6h0M870.7 738.8h0M877.9 721.2h0M880.9 728.1h0M881.5 726.3h0M870.9 740.5h0M877.6 739.1h0M869.7 740.1h0M870.2 738.9h0M879.1 725.1h0M877.6 736.3h0M875.0 737.8h0M871.1 737.4h0M875.7 713.0h0M871.2 735.3h0M879.0 738.1h0M882.4 727.4h0M878.8 728.8h0M880.8 733.1h0M874.6 740.4h0M878.9 739.9h0M874.5 736.1h0M881.6 737.9h0M880.0 726.3h0M880.4 738.6h0M880.5 738.4h0M880.0 740.5h0M876.7 714.1h0M873.8 725.9h0M873.0 718.9h0M880.9 731.1h0M882.0 734.9h0M881.3 739.5h0M872.9 731.9h0M871.4 731.5h0M879.4 710.5h0M872.4 736.6h0M879.0 735.7h0M879.2 739.9h0M874.3 715.0h0M874.3 725.9h0M878.9 731.3h0M873.5 730.3h0M873.2 737.0h0M878.8 733.5h0M877.6 738.3h0M878.5 724.5h0M878.1 736.0h0M873.0 724.8h0M871.3 731.7h0M870.5 740.1h0M881.7 740.4h0M880.4 740.3h0M879.1 702.7h0M877.9 721.7h0M871.7 728.5h0M877.5 736.9h0M877.1 712.4h0M882.1 725.2h0M876.0 738.2h0M881.5 722.5h0M869.5 737.9h0M879.6 720.3h0M872.2 726.1h0M876.2 736.2h0M881.5 733.9h0M873.6 737.5h0M878.0 740.2h0M874.1 723.0h0M877.7 709.1h0M880.1 731.7h0M882.5 732.5h0M875.9 731.6h0M876.8 736.5h0M872.3 733.6h0M872.4 739.5h0M877.1 727.9h0M875.1 721.6h0M882.0 717.1h0M876.1 723.8h0M873.4 718.1h0M876.2 737.6h0M874.8 734.4h0M870.7 738.3h0M881.3 711.3h0M873.6 736.7h0M874.9 731.0h0M877.9 738.6h0M878.5 739.8h0M876.8 725.8h0M872.4 727.9h0M877.8 733.3h0M872.5 734.0h0M878.6 734.1h0M872.2 731.9h0M874.3 728.3h0M880.4 733.4h0M880.8 733.5h0M872.9 735.3h0M881.5 739.8h0M873.5 728.6h0M881.6 734.0h0M871.4 731.8h0M874.9 716.8h0M878.1 738.0h0M876.1 739.0h0M870.8 735.7h0M878.7 737.8h0M879.7 738.1h0M875.9 722.3h0M877.2 730.5h0M876.9 725.5h0M869.3 739.6h0M881.0 703.4h0M875.7 729.3h0M874.1 725.3h0M870.1 737.9h0M876.2 735.2h0M871.2 729.2h0M879.2 716.9h0M877.8 737.0h0M877.3 732.0h0M872.9 733.5h0M875.6 737.4h0M880.3 726.5h0M870.9 736.8h0M875.5 736.7h0M879.2 723.0h0M874.9 740.7h0M881.2 709.5h0M869.8 736.4h0M880.3 705.1h0M872.3 731.0h0M882.4 740.7h0M880.7 724.8h0M874.2 736.4h0M871.0 730.5h0M871.6 740.1h0M873.9 736.5h0M879.4 731.8h0M874.1 737.8h0M880.0 723.2h0M879.9 738.8h0M869.1 739.9h0M877.7 729.7h0M878.0 719.0h0M878.2 713.7h0M870.1 734.9h0M869.1 738.7h0M874.7 733.3h0M878.1 724.7h0M871.2 737.2h0M874.6 733.5h0M868.8 740.5h0M879.6 725.5h0M878.9 691.5h0M881.7 730.7h0M872.5 732.8h0M878.3 739.4h0M878.1 730.3h0M875.1 736.3h0M876.6 719.0h0M870.2 740.7h0M880.5 731.9h0M879.1 722.5h0M872.2 734.9h0M872.2 732.6h0M874.2 740.7h0M870.7 736.2h0M875.6 734.9h0M870.6 736.3h0M871.3 729.7h0M881.9 733.0h0M881.7 727.6h0M880.1 740.4h0M874.1 740.2h0M870.6 738.4h0M872.9 732.3h0M870.7 740.7h0M875.8 736.6h0M872.1 740.6h0M878.2 737.6h0M877.0 729.6h0M872.8 733.5h0M876.7 737.9h0M874.6 737.4h0M880.0 736.8h0M879.1 725.2h0M880.5 734.4h0M879.1 725.3h0M876.8 739.8h0M881.2 740.2h0M880.9 731.5h0M879.8 738.4h0M876.3 738.8h0M874.7 738.0h0M879.7 740.0h0M882.4 734.5h0M870.0 738.6h0M874.0 727.4h0M872.2 726.9h0M872.7 732.6h0M871.1 739.7h0M877.2 727.4h0M876.2 736.8h0M878.6 739.5h0M881.1 739.0h0M873.1 729.4h0M872.3 733.4h0M871.1 739.5h0M881.2 712.5h0M875.6 723.2h0M877.4 740.0h0M873.2 728.8h0M870.3 739.4h0M874.7 726.2h0M873.5 738.2h0M880.3 739.0h0M875.3 731.4h0M876.6 732.3h0M876.1 730.6h0M876.7 715.7h0M882.2 734.1h0M876.2 731.5h0M873.0 733.2h0M871.5 737.6h0M877.1 735.8h0M874.7 717.7h0M875.3 728.3h0M874.1 721.0h0M880.5 738.6h0M876.4 727.7h0M870.6 735.8h0M879.4 722.0h0M871.5 728.2h0M879.7 729.6h0M880.0 712.2h0M869.5 740.0h0M875.8 740.4h0M880.2 713.5h0M882.1 737.4h0M876.6 726.9h0M876.4 723.5h0M876.0 733.6h0M871.3 731.9h0M879.0 723.4h0M882.0 734.0h0M878.8 732.4h0M878.3 732.3h0M882.1 737.5h0M873.0 721.2h0M875.1 733.2h0M877.9 730.0h0M869.9 737.0h0M877.7 730.6h0M874.5 731.6h0M873.9 733.8h0M871.8 732.3h0M875.8 738.2h0M880.1 728.3h0M882.4 739.7h0M878.4 723.6h0M880.6 715.5h0M879.9 737.3h0M874.5 738.2h0M875.3 737.8h0M879.4 737.1h0M880.5 739.5h0M879.0 721.8h0M871.8 737.0h0M875.6 728.6h0M878.2 738.1h0M871.0 730.8h0M878.3 723.6h0M871.5 733.9h0M875.3 721.1h0M881.5 739.5h0M873.8 739.7h0M870.3 739.2h0M875.1 733.1h0M881.4 738.4h0M871.7 729.4h0M870.5 732.6h0M876.3 730.6h0M879.6 736.6h0M879.3 731.7h0M869.3 739.0h0M876.9 721.9h0M876.8 736.8h0M879.5 733.3h0M873.2 730.9h0M878.0 728.8h0M876.4 711.6h0M877.5 733.9h0M878.2 740.0h0M875.5 739.2h0M880.3 740.4h0M878.3 739.9h0M871.1 729.2h0M877.9 701.6h0M874.0 719.0h0M875.0 727.3h0M870.9 739.5h0M877.4 735.7h0M882.4 739.8h0M874.2 734.7h0M875.7 734.0h0M880.3 740.2h0M869.9 735.4h0M875.6 739.5h0M870.4 736.8h0M882.0 723.5h0M881.3 722.3h0M876.1 722.6h0M878.9 728.6h0M881.2 739.8h0M876.2 730.8h0M880.5 735.5h0M873.4 726.8h0M869.5 739.5h0M881.0 717.5h0M876.5 729.5h0M869.7 739.6h0M871.3 732.9h0M871.4 737.1h0M870.8 740.6h0M868.9 740.5h0M880.3 733.7h0M877.5 740.0h0M882.0 733.2h0M876.6 740.2h0M880.1 733.4h0M872.7 738.7h0M880.4 720.4h0M877.9 737.3h0M877.4 724.6h0M876.8 736.5h0M880.1 705.4h0M881.7 722.6h0M874.8 740.2h0M877.2 722.5h0M875.0 721.3h0M869.6 736.8h0M871.7 727.6h0M872.3 731.8h0M880.9 736.1h0M876.1 723.1h0M881.3 709.6h0M878.7 735.6h0M874.6 735.4h0M881.5 736.7h0M873.4 740.1h0M871.5 739.5h0M874.4 728.6h0M881.9 722.6h0M870.7 738.8h0M876.9 735.8h0M870.9 736.4h0M876.5 734.5h0M873.8 737.2h0M873.0 725.9h0M872.8 739.7h0M877.5 740.7h0M872.5 724.5h0M878.4 738.8h0M880.5 716.6h0M877.6 737.8h0M881.8 735.2h0M872.7 733.8h0M874.6 737.7h0M875.1 727.4h0M880.1 730.7h0M870.0 740.3h0M882.2 734.9h0M879.6 738.9h0M872.8 738.3h0M876.1 740.5h0M879.8 739.2h0M872.9 736.2h0M875.0 738.5h0M879.1 727.7h0M873.9 740.3h0M880.4 737.0h0M878.8 734.0h0M879.3 740.8h0M879.5 724.6h0M880.6 727.2h0M875.9 736.6h0M874.9 739.3h0M879.1 738.2h0M876.2 736.9h0M876.2 737.2h0M875.1 717.9h0M877.2 730.4h0M877.5 739.9h0M873.0 732.8h0M878.2 733.5h0M876.5 726.1h0M879.3 728.7h0M877.9 739.2h0M882.2 739.6h0M872.0 740.2h0M874.9 735.1h0M875.4 739.1h0M871.9 738.4h0M881.8 736.1h0M873.5 731.8h0M874.7 737.8h0M873.0 734.7h0M880.9 723.5h0M870.6 739.4h0M878.0 730.7h0M875.5 731.3h0M873.2 740.7h0M869.5 740.1h0M880.1 735.5h0M870.6 739.8h0M874.6 718.6h0M872.6 736.5h0M875.5 730.6h0M872.2 733.3h0M882.3 723.9h0M876.0 733.3h0M874.6 715.7h0M871.3 732.9h0M881.4 730.0h0M874.3 733.8h0M882.4 722.0h0M879.5 736.9h0M878.0 732.9h0M881.4 733.6h0M878.8 739.4h0M877.3 716.0h0M876.4 717.1h0M880.4 728.5h0M869.0 739.2h0M880.6 693.9h0M880.2 736.2h0M879.9 730.2h0M877.0 734.3h0M877.0 740.0h0M881.1 725.0h0M880.1 729.8h0M876.5 736.8h0M879.3 732.5h0M877.2 712.7h0M881.7 736.2h0M874.0 729.5h0M873.7 736.1h0M878.6 737.1h0M881.0 727.5h0M871.7 734.6h0M880.2 738.6h0M875.9 734.8h0M877.6 725.8h0M873.5 739.2h0M877.6 714.0h0M872.6 739.8h0M876.1 715.3h0M878.8 713.9h0M881.4 729.3h0M872.9 726.5h0M875.8 732.1h0M871.8 729.3h0M881.5 693.1h0M871.5 733.5h0M880.5 705.7h0M878.8 720.2h0M876.9 726.1h0M873.4 736.8h0M874.0 734.4h0M880.0 725.0h0M879.3 697.7h0M874.7 714.3h0M872.9 729.4h0M870.9 735.1h0M882.3 735.1h0M873.5 720.3h0M881.1 736.5h0M872.3 731.7h0M879.4 734.7h0M871.8 737.6h0M881.0 724.0h0M878.0 732.0h0M872.1 729.6h0M880.6 725.1h0M878.1 730.5h0M874.3 735.6h0M871.5 740.6h0M872.1 731.9h0M881.4 736.4h0M882.0 736.4h0M881.2 727.6h0M882.1 721.1h0M879.0 716.0h0M880.6 739.6h0M873.8 718.9h0M874.6 715.8h0M877.1 726.2h0M877.0 722.2h0M880.3 731.0h0M882.1 724.1h0M871.6 738.5h0M873.1 730.7h0M870.7 734.2h0M874.4 737.3h0M873.1 735.7h0M879.0 730.5h0M873.9 734.7h0M877.7 739.0h0M872.6 738.3h0M874.7 737.2h0M872.5 733.2h0M872.9 738.9h0M878.8 739.9h0M876.3 738.9h0M873.8 739.8h0M874.2 739.4h0M874.1 734.3h0M880.9 734.4h0M875.2 739.2h0M877.2 740.3h0M872.5 740.5h0M881.0 736.7h0M872.7 727.7h0M879.1 739.5h0M881.4 737.3h0M877.2 729.7h0M874.4 740.6h0M881.5 739.5h0M881.1 722.5h0M881.6 739.1h0M878.3 730.0h0M879.6 713.2h0M881.1 730.8h0M879.6 740.6h0M869.5 739.5h0M880.8 739.3h0M879.9 727.6h0M869.7 737.8h0M880.5 729.8h0M880.8 735.4h0M881.5 725.5h0M880.7 722.1h0M875.7 731.6h0M876.3 739.8h0M871.1 739.0h0M875.9 733.0h0M872.3 739.4h0M878.5 722.5h0M870.5 732.4h0M872.1 731.8h0M872.4 731.5h0M874.8 737.8h0M881.2 705.5h0M875.8 737.2h0M879.7 740.1h0M877.1 736.1h0M878.5 730.0h0M871.2 739.7h0M877.4 723.4h0M880.2 730.1h0M877.3 734.5h0M873.0 739.1h0M874.7 735.8h0M882.1 696.9h0M881.1 733.7h0M877.6 740.6h0M876.9 737.7h0M882.2 740.9h0M872.0 736.1h0M876.3 728.5h0M878.9 740.0h0M872.8 739.0h0M879.6 737.7h0M879.3 724.1h0M868.8 740.7h0M881.7 699.6h0M874.5 736.1h0M872.8 738.9h0M875.5 721.7h0M874.1 738.2h0M873.4 737.2h0M877.4 739.0h0M877.4 740.3h0M880.8 729.0h0M872.0 737.0h0M879.0 717.0h0M875.1 726.0h0M882.4 731.8h0M881.1 732.1h0M875.0 740.8h0M869.1 739.4h0M872.3 724.6h0M875.2 733.3h0M880.2 731.3h0M882.1 736.0h0M878.4 732.5h0M881.5 715.8h0M876.4 738.2h0M874.0 734.6h0M872.5 738.3h0M872.8 740.7h0M875.6 737.1h0M879.4 725.7h0M881.0 718.6h0M878.2 740.2h0M881.4 730.0h0M873.7 736.1h0M869.1 739.4h0M873.5 737.0h0M876.5 719.7h0M874.4 724.6h0M872.3 738.0h0M871.5 740.3h0M872.0 735.9h0M875.0 723.6h0M874.7 727.2h0M882.3 725.2h0M878.0 719.8h0M877.9 720.5h0M876.5 731.4h0M882.2 738.4h0M880.8 740.0h0M871.6 726.3h0M875.5 718.1h0M869.1 740.5h0M869.9 740.8h0M878.6 732.0h0M872.7 736.4h0M877.8 739.1h0M874.0 725.1h0M869.3 738.8h0M881.0 721.6h0M880.2 739.0h0M882.1 738.9h0M872.6 724.8h0M880.4 737.8h0M876.3 733.7h0M876.7 726.8h0M877.2 738.2h0M875.6 733.6h0M874.3 726.6h0M880.3 727.6h0M873.1 736.9h0M874.1 727.7h0M877.6 720.4h0M875.6 733.8h0M876.9 726.6h0M882.1 740.6h0M874.6 735.6h0M880.6 733.8h0M874.1 740.5h0M876.0 736.6h0M882.0 738.1h0M879.4 726.4h0M872.7 739.8h0M882.2 736.3h0M869.7 740.2h0M880.0 715.2h0M879.1 703.5h0M881.8 735.9h0M878.5 724.3h0M878.9 725.8h0M878.4 726.2h0M878.0 738.2h0M881.0 727.9h0M877.3 736.8h0M881.7 726.1h0M882.0 720.7h0M875.7 723.3h0M873.0 739.7h0M869.4 737.3h0M881.0 733.3h0M875.9 733.8h0M874.4 738.0h0M877.5 737.4h0M873.7 737.9h0M880.2 735.0h0M875.6 739.4h0M876.6 739.7h0M870.2 738.3h0M878.8 731.9h0M877.8 740.0h0M874.1 731.4h0M876.5 730.2h0M877.5 738.9h0M880.4 739.0h0M875.1 717.8h0M874.4 725.4h0M874.1 733.1h0M879.3 740.4h0M874.4 736.2h0M882.0 729.2h0M875.4 740.8h0M873.5 730.9h0M878.0 737.9h0M873.8 738.7h0M874.1 724.8h0M873.5 725.3h0M873.5 730.1h0M879.3 736.8h0M880.1 734.6h0M878.6 724.9h0M872.2 729.4h0M878.4 740.7h0M869.2 740.0h0M869.9 740.6h0M875.6 722.8h0M875.2 738.4h0M875.0 726.7h0M870.1 735.0h0M879.3 737.8h0M872.1 734.6h0M880.7 734.2h0M879.3 734.3h0M870.0 734.7h0M878.9 732.2h0M877.5 736.0h0M880.6 734.4h0M881.9 740.1h0M870.6 740.6h0M882.5 729.7h0M877.0 718.2h0M880.4 730.3h0M878.4 714.5h0M871.6 738.0h0M879.4 736.3h0M871.0 738.9h0M876.1 711.8h0M875.0 737.8h0M875.1 739.4h0M872.9 737.0h0M877.6 739.1h0M881.2 706.4h0M871.1 732.0h0M873.5 736.7h0M881.3 724.5h0M876.1 727.5h0M879.2 728.5h0M873.7 720.9h0M869.9 739.1h0M881.6 729.2h0M875.1 729.2h0M875.1 738.9h0M877.2 738.9h0M868.9 739.8h0M873.3 732.5h0M876.4 739.7h0M881.1 737.4h0M877.0 737.3h0M877.2 721.7h0M876.3 739.0h0M876.5 740.4h0M875.6 739.6h0M874.9 739.0h0M873.1 719.3h0M872.0 734.6h0M873.1 732.2h0M877.0 724.4h0M881.8 736.3h0M882.4 739.5h0M877.3 736.8h0M875.9 721.3h0M877.4 739.5h0M877.4 726.7h0M872.3 738.5h0M879.0 724.7h0M877.6 740.7h0M875.7 734.6h0M878.3 729.2h0M877.5 730.3h0M879.4 739.3h0M878.5 693.4h0M880.4 735.2h0M877.2 737.1h0M873.6 737.9h0M873.3 739.6h0M872.8 739.8h0M880.0 737.6h0M881.9 739.4h0M881.8 714.5h0M869.6 736.4h0M878.6 735.8h0M875.1 716.4h0M878.1 739.1h0M875.2 740.9h0M869.6 739.4h0M874.9 722.4h0M877.1 737.3h0M882.0 732.7h0M875.5 725.2h0M877.5 726.5h0M873.9 727.5h0M876.7 736.2h0M878.4 733.1h0M873.5 736.8h0M877.2 740.8h0M869.5 738.1h0M879.9 734.6h0M877.7 737.5h0M877.9 733.9h0M874.5 734.1h0M873.4 735.7h0M880.5 723.0h0M871.2 735.4h0M870.5 737.6h0M877.1 739.0h0M870.3 739.9h0M881.3 732.0h0M874.5 725.9h0M875.0 735.6h0M874.3 729.8h0M876.9 740.6h0M872.4 740.1h0M876.0 724.2h0M879.8 739.6h0M879.3 739.2h0M880.1 729.5h0M870.0 740.9h0M870.8 737.7h0M879.2 730.6h0M882.0 738.1h0M879.1 735.3h0M881.6 735.3h0M881.3 706.4h0M869.9 740.4h0M881.5 726.9h0M876.9 722.9h0M869.9 740.6h0M878.3 735.5h0M878.6 711.2h0M881.9 736.9h0M878.7 734.5h0M879.8 725.0h0M874.3 717.5h0M873.4 730.9h0M877.5 710.5h0M869.4 737.1h0M881.5 717.7h0M874.9 734.3h0M878.0 721.2h0M877.6 722.2h0M880.4 715.5h0M880.9 739.0h0M877.3 737.1h0M874.0 728.3h0M877.4 735.5h0M880.5 740.5h0M873.2 732.7h0M879.7 734.8h0M875.0 713.8h0M875.9 729.5h0M877.5 710.3h0M874.5 732.3h0M880.8 737.0h0M875.8 727.6h0M877.3 733.0h0M874.1 733.4h0M880.2 701.1h0M878.6 738.4h0M878.5 739.7h0M873.4 726.8h0M876.5 739.2h0M871.4 734.0h0M873.4 735.9h0M874.4 715.3h0M872.9 739.3h0M872.8 735.3h0M872.1 737.4h0M879.8 730.1h0M874.0 723.2h0M877.1 740.6h0M876.0 718.3h0M882.5 737.3h0M873.2 729.1h0M880.5 700.5h0M876.6 739.9h0M874.4 730.0h0M877.2 735.9h0M880.9 699.0h0M880.4 739.6h0M875.8 719.0h0M881.5 737.2h0M878.3 740.0h0M870.5 738.9h0M875.7 738.1h0M877.3 740.2h0M881.4 738.4h0M874.3 736.2h0M872.4 738.7h0M870.8 739.5h0M876.9 731.9h0M881.9 737.4h0M880.5 689.9h0M870.3 739.8h0M877.7 736.1h0M881.3 722.8h0M876.7 738.6h0M878.1 735.0h0M880.0 740.6h0M882.1 733.6h0M871.3 739.6h0M871.2 738.8h0M873.6 740.7h0M874.2 740.0h0M881.2 733.9h0M882.3 738.3h0M880.3 739.8h0M881.7 737.4h0M869.4 739.0h0M872.0 736.9h0M873.5 734.3h0M879.9 740.6h0M878.9 721.0h0M881.0 731.4h0M873.2 724.2h0M879.4 738.9h0M877.3 735.6h0M880.0 737.3h0M875.4 737.9h0M879.6 739.4h0M882.0 734.8h0M875.9 733.7h0M876.9 733.6h0M869.6 737.5h0M875.4 716.0h0M882.4 715.5h0M870.2 733.5h0M873.5 738.4h0M873.6 735.2h0M876.6 730.1h0M877.8 737.3h0M874.1 722.9h0M875.3 724.4h0M877.4 714.0h0M870.6 737.9h0M873.7 732.7h0M877.2 699.6h0M872.0 740.5h0M881.2 722.7h0M871.2 739.6h0M876.8 740.9h0M880.7 732.0h0M880.8 720.7h0M873.6 736.9h0M872.3 737.2h0M874.6 732.6h0M871.0 730.6h0M874.0 739.5h0M877.4 719.4h0M873.8 723.4h0M873.6 737.7h0M879.8 733.9h0M877.5 714.0h0M875.9 736.3h0M879.7 737.2h0M876.6 735.2h0M880.9 734.9h0M878.4 738.6h0M870.4 738.9h0M875.8 733.3h0M873.8 737.9h0M880.4 738.8h0M874.3 726.0h0M878.7 736.7h0M871.0 735.2h0M881.7 735.4h0M881.4 735.9h0M877.9 726.4h0M872.8 735.0h0M877.2 731.6h0M877.5 736.4h0M882.0 719.0h0M873.7 736.1h0M874.8 740.3h0M876.9 718.7h0M878.9 723.8h0M882.0 739.6h0M875.3 727.0h0M872.6 740.5h0M874.6 739.7h0M880.5 717.8h0M882.2 737.4h0M881.4 729.9h0M852.8 740.5h0M867.5 740.2h0M867.6 740.6h0M872.5 739.4h0M876.2 739.7h0M865.4 740.8h0M879.7 740.2h0M860.0 740.1h0M855.6 740.7h0M871.7 739.8h0M857.6 740.2h0M882.0 740.8h0M870.4 740.9h0M860.5 740.0h0M882.0 739.6h0M875.0 739.8h0M874.2 740.9h0M873.7 740.6h0M868.5 740.4h0M872.7 740.4h0M855.0 740.0h0M876.1 740.3h0M883.2 740.8h0M871.8 740.1h0M881.3 740.7h0M872.7 740.1h0M878.3 740.6h0M871.0 739.7h0M850.1 739.9h0M861.8 739.5h0M853.9 740.9h0M870.9 740.5h0M884.0 739.4h0M881.6 740.6h0M875.4 740.0h0M871.7 740.1h0M874.7 739.9h0M879.6 740.8h0M870.2 739.9h0M864.7 740.8h0M881.4 740.7h0M864.6 739.9h0M871.2 740.4h0M868.3 740.4h0M868.7 740.6h0M859.6 740.9h0M858.0 740.4h0M870.2 740.3h0M882.0 740.0h0M878.9 740.4h0M872.3 740.8h0M850.4 739.4h0M859.5 740.1h0M851.8 739.7h0M856.7 739.5h0M850.6 740.0h0M867.8 740.3h0M872.3 739.8h0M874.9 740.2h0M878.1 740.3h0M857.8 740.8h0M854.2 740.6h0M852.3 739.7h0M860.5 740.1h0M860.0 739.7h0M863.8 740.4h0M881.5 740.2h0M869.0 740.6h0M875.1 740.3h0M856.6 739.7h0M859.5 740.7h0M880.6 739.4h0M877.1 740.3h0M884.0 740.7h0M874.1 740.2h0M870.4 740.7h0M870.4 740.1h0M877.9 740.3h0M874.5 739.9h0M855.1 740.5h0M855.6 740.9h0M866.5 740.8h0M880.1 739.7h0M877.6 740.6h0M867.3 740.9h0M868.1 740.3h0M871.2 739.5h0M882.9 739.6h0M872.9 740.5h0M880.4 739.7h0M864.9 739.4h0M862.5 740.1h0M873.8 739.9h0M858.8 740.1h0M883.3 740.3h0M869.0 739.7h0M863.6 739.8h0M858.4 740.3h0M876.8 739.5h0M874.8 740.9h0M858.1 740.3h0M883.0 740.5h0M864.4 740.8h0M867.8 740.6h0M857.4 740.4h0M865.3 740.8h0M862.1 740.9h0M868.4 740.8h0M857.3 739.9h0M880.9 739.9h0M862.4 740.6h0M854.8 739.8h0M883.2 739.4h0M856.4 739.5h0M884.2 739.9h0M872.2 740.7h0M882.0 740.2h0M854.0 739.7h0M862.4 740.7h0M873.2 740.2h0M870.5 740.7h0M863.8 739.9h0M863.0 739.8h0M869.3 740.9h0M864.2 740.5h0M857.6 740.6h0M878.4 739.6h0M854.6 740.9h0M858.8 740.8h0M856.3 739.6h0M876.3 739.3h0M864.6 740.7h0M879.8 739.8h0M869.0 739.9h0M850.7 739.7h0M857.3 739.8h0M851.9 740.7h0M858.2 740.3h0M870.4 740.9h0M881.1 739.7h0M877.5 739.7h0M882.8 739.5h0M851.5 739.9h0M863.7 740.1h0M857.2 740.6h0M850.4 740.9h0M882.1 740.4h0M875.9 740.7h0M863.6 740.8h0M869.3 740.5h0M875.9 739.6h0M854.7 740.6h0M850.1 740.9h0M872.5 740.0h0M864.0 739.5h0M874.5 740.1h0M856.8 740.7h0M851.6 740.9h0M863.9 739.5h0M864.0 739.6h0M854.9 739.6h0M865.0 740.7h0M880.1 739.4h0M866.4 740.8h0M855.1 739.6h0M858.7 740.8h0M873.1 740.4h0M881.6 739.9h0M862.9 740.9h0M880.9 740.8h0M856.8 740.8h0M854.1 739.8h0M863.0 739.6h0M860.9 739.9h0M860.5 739.8h0M859.0 740.4h0M870.5 740.9h0M875.0 740.8h0M883.9 740.4h0M857.1 740.5h0M877.9 740.7h0M862.3 740.0h0M867.0 740.2h0M857.6 740.9h0M877.8 740.1h0M883.6 740.0h0M875.2 740.1h0M878.5 740.2h0M853.6 740.8h0M873.5 739.8h0M869.9 739.6h0M864.2 740.8h0M878.3 739.4h0M852.6 739.4h0M876.3 739.5h0M878.0 739.8h0M860.7 740.8h0M853.4 739.4h0M858.2 740.6h0M865.7 740.4h0M851.1 740.8h0M871.6 739.8h0M880.3 739.9h0M873.2 739.8h0M874.1 739.7h0M861.2 740.2h0M871.0 740.7h0M860.5 739.7h0M878.6 740.3h0M876.7 740.0h0M860.5 740.3h0M869.5 739.7h0M865.7 740.8h0M860.9 740.0h0M881.0 739.7h0M859.1 740.2h0M871.3 740.8h0M856.3 740.7h0M862.0 740.7h0M852.6 740.8h0M858.3 740.2h0M861.4 740.9h0M870.7 740.0h0M870.7 739.8h0M857.7 740.5h0M862.3 740.8h0M872.5 740.4h0M851.6 740.1h0M860.0 740.9h0M879.5 740.1h0M853.8 740.4h0M853.0 739.4h0M869.2 740.1h0M875.5 740.8h0M881.2 739.9h0M856.0 740.1h0M863.5 740.6h0M858.0 740.9h0M857.9 739.5h0M859.3 740.0h0M850.5 740.2h0M871.4 740.2h0M852.9 740.8h0M851.9 740.9h0M875.7 739.6h0M874.1 740.9h0M881.2 740.0h0M851.7 740.9h0M881.2 740.7h0M854.8 740.7h0M857.8 740.1h0M870.9 740.0h0M862.7 740.5h0M854.2 740.7h0M870.9 740.4h0M865.9 740.8h0M869.1 740.5h0M873.3 740.6h0M857.0 739.3h0M868.9 740.3h0M874.4 739.6h0M864.3 740.4h0M872.7 740.9h0M858.4 740.2h0M857.8 740.2h0M873.6 740.2h0M857.7 740.3h0M868.0 740.8h0M862.2 740.7h0M857.8 740.3h0M873.8 740.0h0M884.0 740.0h0M860.2 739.7h0M869.1 740.9h0M878.7 739.6h0M870.0 740.2h0M857.0 740.8h0M851.1 740.9h0M875.2 740.1h0M857.5 740.0h0M856.6 739.8h0M852.6 739.6h0M874.1 740.7h0M850.9 739.4h0M873.9 740.9h0M870.0 739.7h0M873.5 740.2h0M860.3 740.1h0M852.1 740.1h0M880.9 739.5h0M857.3 739.5h0M868.6 740.7h0M862.9 740.6h0M874.7 740.8h0M865.2 740.2h0M866.1 739.5h0M881.9 740.5h0M863.0 739.8h0M861.9 740.3h0M871.1 740.7h0M877.3 739.6h0M881.9 740.4h0M871.7 740.7h0M856.6 740.0h0M877.1 740.8h0M855.0 740.0h0M876.1 740.3h0M869.0 739.3h0M873.2 740.6h0M870.4 740.1h0M866.3 739.8h0M872.2 739.6h0M856.4 740.8h0M870.7 740.8h0M854.1 740.1h0M873.0 739.4h0M856.6 739.6h0M854.5 740.9h0M862.1 739.7h0M883.9 740.8h0M859.6 740.2h0M861.3 739.6h0M864.8 739.5h0M866.8 740.5h0M854.4 740.9h0M865.7 739.3h0M854.3 740.9h0M870.4 740.8h0M869.8 740.4h0M877.1 740.6h0M872.6 739.4h0M851.6 739.5h0M862.8 739.5h0M867.9 740.8h0M853.9 740.5h0M867.7 740.8h0M868.3 740.0h0M855.7 740.9h0M876.0 740.6h0M863.8 740.7h0M871.9 739.6h0M867.0 740.9h0M850.0 740.4h0M856.0 740.3h0M852.4 740.7h0M883.1 739.6h0M859.3 740.3h0M879.5 739.6h0M855.1 739.3h0M870.1 740.9h0M867.5 740.5h0M877.7 740.2h0M870.4 740.3h0M855.4 740.0h0M861.2 740.5h0M856.8 740.7h0M883.1 740.2h0M868.6 739.4h0M864.6 739.3h0M858.9 739.7h0M852.2 740.1h0M878.4 739.7h0M856.2 740.6h0M868.1 740.2h0M871.0 739.5h0M867.8 740.8h0M852.7 740.9h0M854.1 740.5h0M862.2 740.8h0M872.2 740.7h0M871.4 739.4h0M880.7 740.5h0M881.7 740.5h0M857.2 739.4h0M858.5 740.9h0M859.5 739.7h0M852.0 740.9h0M855.4 740.3h0M863.6 740.9h0M874.2 740.4h0M869.4 739.8h0M884.0 740.6h0M869.9 740.3h0M861.4 740.4h0M865.6 740.7h0M863.4 739.6h0M867.1 740.5h0M865.5 740.5h0M851.5 740.9h0M863.5 740.3h0M884.1 740.5h0M864.6 740.1h0M866.9 739.6h0M872.1 740.9h0M875.0 740.5h0M851.8 739.5h0M879.2 740.9h0M858.6 740.7h0M864.2 740.8h0M878.3 740.4h0M880.4 696.6h0M880.9 690.0h0M881.3 683.0h0M880.0 688.5h0M881.1 675.6h0M882.0 682.7h0M880.8 688.9h0M880.5 679.8h0M882.3 679.4h0M882.3 689.7h0M881.2 695.3h0M881.6 680.3h0M853.3 710.7h0M852.8 703.4h0M852.4 699.4h0M853.1 706.5h0M852.9 704.5h0M854.7 707.8h0M854.7 707.1h0M854.2 707.4h0M853.4 706.1h0M854.7 706.4h0M840.0 740.5h0M848.2 740.9h0M849.1 740.5h0M841.5 740.6h0M844.7 740.8h0M839.2 740.3h0M848.6 740.6h0M845.9 740.3h0M834.8 740.9h0M844.7 740.3h0M845.8 740.7h0M837.3 740.1h0M838.1 740.2h0M836.8 740.4h0M843.4 740.5h0M840.7 740.7h0M839.5 740.1h0M846.7 740.8h0M843.4 740.4h0M839.1 740.7h0M887.1 740.2h0M899.5 740.8h0M887.2 740.6h0M899.6 740.6h0M897.7 740.5h0M895.8 740.4h0M887.2 740.3h0M894.5 740.8h0M890.8 740.4h0M888.9 740.5h0M902.0 740.3h0M898.8 740.4h0M893.5 740.1h0M900.5 740.8h0M885.5 740.3h0M902.3 740.6h0M902.2 740.2h0M884.8 740.9h0" stroke="#111" stroke-width="2.0" stroke-linecap="round" fill="none"/>
<path d="M843.9 737.6h0M850.1 736.2h0M848.9 737.3h0M850.4 736.4h0M833.6 738.0h0M843.4 735.8h0M845.0 735.1h0M842.2 738.2h0M851.5 734.2h0M850.3 738.8h0M849.9 739.2h0M838.7 738.7h0M851.8 736.8h0M848.3 739.2h0M845.0 737.0h0M844.0 737.0h0M836.8 737.8h0M846.0 737.7h0M843.5 734.3h0M847.7 737.8h0M805.3 737.4h0M847.7 739.1h0M828.3 735.3h0M844.8 734.8h0M850.8 731.6h0M851.7 738.1h0M850.2 735.9h0M850.6 723.8h0M842.4 736.9h0M843.4 733.3h0M848.0 725.3h0M849.2 736.7h0M836.0 737.5h0M848.3 739.2h0M850.5 734.7h0M851.1 734.6h0M848.7 733.9h0M848.9 736.7h0M845.6 736.9h0M847.0 733.5h0M840.7 733.9h0M839.1 739.2h0M851.5 739.3h0M844.5 732.0h0M851.9 735.9h0M842.1 739.3h0M840.5 734.2h0M849.6 738.8h0M848.7 738.0h0M834.2 736.0h0M840.3 731.4h0M843.4 735.4h0M848.7 733.8h0M844.7 737.1h0M848.7 738.4h0M847.9 735.1h0M839.1 733.7h0M850.0 737.2h0M842.5 729.7h0M846.9 736.4h0M825.2 733.4h0M842.3 733.7h0M844.7 738.8h0M839.5 738.9h0M836.4 734.6h0M847.0 735.3h0M832.3 737.4h0M848.0 739.3h0M850.7 735.1h0M839.5 735.6h0M826.3 737.2h0M842.7 737.9h0M846.0 736.6h0M848.0 729.4h0M845.7 733.3h0M849.4 732.9h0M850.5 734.1h0M842.2 737.5h0M851.8 734.1h0M845.9 737.6h0M847.0 737.2h0M850.0 733.2h0M850.0 734.9h0M848.8 733.4h0M849.5 737.0h0M846.4 734.4h0M844.0 734.9h0M841.1 732.6h0M833.3 737.9h0M851.3 739.2h0M850.2 738.8h0M841.6 737.4h0M850.7 735.5h0M850.7 732.0h0M851.2 738.5h0M847.1 735.5h0M841.5 734.5h0M832.6 736.7h0M846.6 737.5h0M841.5 730.8h0M851.6 738.4h0M834.8 734.5h0M850.1 738.7h0M842.4 738.6h0M847.7 729.0h0M842.0 737.1h0M850.1 738.5h0M850.3 732.6h0M840.3 738.1h0M846.0 737.9h0M851.5 738.4h0M848.1 738.7h0M851.3 735.4h0M835.7 737.8h0M835.9 736.1h0M848.9 738.6h0M841.5 736.1h0M834.1 735.4h0M849.5 737.1h0M848.1 737.8h0M851.3 734.2h0M841.5 737.5h0M847.9 735.9h0M851.5 732.5h0M849.6 738.3h0M836.3 737.2h0M837.3 735.7h0M834.6 737.1h0M835.2 738.0h0M850.0 733.1h0M850.8 734.8h0M843.2 738.8h0M839.7 737.2h0M826.1 731.8h0M846.4 731.7h0M844.0 738.6h0M828.4 736.9h0M844.6 739.0h0M841.1 737.5h0M848.8 737.0h0M844.3 739.3h0M840.1 737.3h0M832.2 734.5h0M842.3 739.1h0M850.4 726.5h0M848.3 735.5h0M839.0 739.1h0M846.3 723.1h0M843.5 739.2h0M849.4 732.4h0M850.7 735.3h0M841.9 734.1h0M838.1 737.4h0M849.0 735.8h0M850.9 739.2h0M831.1 738.6h0M845.5 739.0h0M850.2 737.8h0M846.7 731.1h0M851.8 736.7h0M848.9 738.1h0M847.9 730.8h0M846.0 735.6h0M849.4 732.6h0M842.0 729.2h0M848.0 738.1h0M849.9 736.2h0M849.4 731.0h0M850.8 733.6h0M849.9 735.9h0M847.4 738.9h0M834.2 737.8h0M849.8 737.1h0M846.2 737.8h0M850.5 737.9h0M849.5 735.4h0M847.8 739.2h0M851.2 733.7h0M851.7 736.5h0M850.2 737.8h0M841.5 736.4h0M845.8 739.3h0M826.8 734.5h0M839.7 723.1h0M840.1 737.1h0M836.5 737.7h0M849.2 739.0h0M851.5 734.6h0M832.8 731.6h0M838.3 736.4h0M850.0 737.7h0M848.0 736.5h0M846.4 735.0h0M840.4 737.4h0M834.3 736.4h0M851.7 735.5h0M845.2 739.3h0M839.5 738.9h0M845.5 739.2h0M835.1 733.1h0M848.9 727.6h0M839.0 718.4h0M847.3 729.6h0M848.6 734.8h0M843.5 734.6h0M833.0 739.2h0M842.4 734.8h0M834.8 739.0h0M849.1 737.6h0M851.5 738.6h0M848.2 738.0h0M849.4 732.5h0M849.3 739.3h0M851.1 738.7h0M836.1 736.4h0M851.3 736.3h0M845.5 727.2h0M848.6 736.0h0M836.2 735.2h0M843.2 737.4h0M847.9 738.7h0M848.6 726.3h0M846.4 739.2h0M838.4 737.3h0M844.5 738.2h0M848.0 735.4h0M851.0 738.7h0M849.1 737.3h0M799.8 737.9h0M829.0 738.9h0M837.8 737.8h0M848.6 739.1h0M845.7 739.0h0M845.3 732.2h0M849.1 738.4h0M850.8 734.9h0M850.3 738.2h0M835.6 736.2h0M847.6 735.4h0M850.9 738.0h0M851.4 731.3h0M851.9 735.8h0M835.8 739.1h0M832.6 732.7h0M847.5 734.4h0M847.3 736.7h0M850.8 736.6h0M831.7 736.3h0M851.7 738.2h0M832.1 738.9h0M846.7 736.4h0M841.5 739.0h0M851.6 739.1h0M850.0 737.3h0M840.0 731.2h0M850.0 737.9h0M849.2 738.1h0M846.6 735.7h0M826.1 738.6h0M847.1 732.1h0M829.4 738.9h0M850.2 738.9h0M844.8 738.6h0M831.8 734.0h0M850.8 738.8h0M846.7 729.4h0M842.8 732.7h0M850.7 736.7h0M845.8 738.2h0M851.8 736.4h0M849.8 738.6h0M849.8 736.6h0M851.6 737.6h0M839.9 736.3h0M850.3 732.7h0M848.0 738.8h0M845.9 738.9h0M847.1 729.5h0M845.9 736.5h0M850.3 731.3h0M849.3 739.0h0M843.7 736.9h0M850.3 727.9h0M847.6 738.1h0M840.0 734.6h0M843.4 734.8h0M844.1 738.0h0M848.8 734.5h0M851.5 738.0h0M851.6 736.2h0M850.8 736.2h0M838.8 737.4h0M849.7 732.6h0M851.3 739.2h0M848.9 736.2h0M843.0 731.6h0M848.5 739.2h0M850.4 735.3h0M848.6 738.6h0M845.2 738.0h0M846.9 737.9h0M842.2 736.4h0M847.7 732.8h0M850.8 736.2h0M844.1 727.7h0M846.4 723.0h0M849.5 738.1h0M849.3 737.6h0M837.4 735.3h0M842.3 737.7h0M842.3 737.9h0M851.5 739.0h0M844.3 736.5h0M843.5 737.4h0M846.7 736.8h0M850.6 732.8h0M846.7 734.0h0M847.0 738.9h0M850.7 738.7h0M841.8 726.0h0M845.7 737.6h0M841.2 738.0h0M842.7 738.4h0M843.0 736.6h0M851.1 739.2h0M844.6 737.6h0M848.5 729.8h0M850.4 738.8h0M839.4 738.9h0M851.2 734.3h0M840.9 728.3h0M850.8 731.1h0M850.3 735.0h0M843.3 737.7h0M848.0 737.6h0M842.2 739.0h0M845.0 736.0h0M851.5 739.2h0M850.6 730.2h0M845.3 735.1h0M843.6 721.3h0M844.7 734.8h0M846.1 732.6h0M849.3 734.9h0M849.5 735.7h0M846.8 733.4h0M845.3 727.3h0M831.0 736.1h0M834.7 732.0h0M837.1 739.1h0M844.2 738.3h0M851.0 738.8h0M851.0 734.8h0M844.6 728.2h0M841.5 738.6h0M850.6 725.5h0M838.3 732.9h0M842.7 734.9h0M847.0 735.1h0M851.1 735.4h0M850.0 737.6h0M833.5 738.0h0M847.1 729.0h0M845.7 736.9h0M845.8 735.7h0M844.1 737.5h0M851.1 739.0h0M850.9 736.1h0M831.2 734.7h0M851.5 739.1h0M834.0 739.0h0M846.4 733.0h0M850.1 739.0h0M836.6 729.5h0M847.9 734.9h0M839.7 736.1h0M849.2 739.2h0M850.9 736.8h0M851.9 738.6h0M851.2 733.9h0M845.5 738.7h0M851.2 737.8h0M836.0 736.7h0M845.7 738.0h0M842.5 731.6h0M850.4 737.5h0M823.1 733.9h0M848.8 737.2h0M844.0 737.4h0M849.8 739.0h0M851.2 732.7h0M848.9 739.0h0M851.8 739.1h0M845.4 737.8h0M842.7 734.0h0M836.2 737.4h0M845.2 730.6h0M850.9 739.3h0M843.5 737.7h0M849.3 737.7h0M848.4 735.6h0M842.5 734.4h0M816.5 738.5h0M850.6 734.6h0M832.7 738.9h0M849.9 736.2h0M848.1 734.1h0M829.2 738.9h0M839.7 737.7h0M845.6 737.3h0M825.0 735.5h0M816.5 737.7h0M840.9 736.9h0M843.7 738.2h0M839.9 726.4h0M847.8 737.4h0M849.6 735.0h0M843.4 737.6h0M849.1 736.7h0M842.5 734.7h0M850.6 736.4h0M844.8 729.8h0M842.1 738.8h0M851.1 738.5h0M846.1 733.7h0M849.0 734.2h0M850.6 739.3h0M849.6 720.0h0M847.3 725.6h0M837.8 730.9h0M840.9 738.6h0M837.3 735.3h0M850.6 738.4h0M849.9 737.1h0M828.9 736.6h0M846.3 738.9h0M829.9 736.5h0M843.2 733.1h0M846.8 735.0h0M847.7 729.6h0M847.2 738.3h0M850.3 739.3h0M850.2 737.7h0M851.0 738.5h0M851.1 738.4h0M845.6 731.3h0M851.2 733.8h0M846.5 734.2h0M846.4 737.9h0M821.1 739.3h0M841.8 735.9h0M838.5 738.1h0M849.5 731.2h0M838.2 731.9h0M846.1 739.1h0M847.7 728.9h0M830.8 734.8h0M838.1 735.7h0M847.3 737.9h0M850.2 731.7h0M845.6 734.4h0M848.8 738.9h0M851.6 734.4h0M846.1 734.1h0M851.6 713.5h0M849.3 731.2h0M843.3 733.7h0M836.6 709.1h0M851.3 739.2h0M849.0 730.5h0M846.7 733.5h0M840.1 739.2h0M851.6 728.2h0M849.6 734.1h0M847.0 732.8h0M851.4 730.1h0M851.0 719.7h0M840.9 733.2h0M843.0 736.0h0M840.0 738.1h0M837.2 738.4h0M846.5 738.4h0M836.1 734.1h0M850.1 736.2h0M846.8 733.3h0M845.3 730.0h0M850.5 721.8h0M841.5 738.2h0M848.9 735.1h0M844.0 739.1h0M849.9 738.5h0M851.1 731.9h0M848.9 738.3h0M843.6 731.1h0M851.6 728.3h0M850.1 738.5h0M851.5 736.7h0M851.1 736.9h0M851.6 732.8h0M849.0 737.8h0M836.3 739.3h0M851.8 735.8h0M851.2 738.6h0M838.8 738.6h0M847.5 733.7h0M849.3 725.6h0M850.0 734.9h0M847.2 736.5h0M846.3 734.4h0M851.1 737.1h0M845.5 732.0h0M850.5 721.5h0M849.1 732.5h0M850.3 737.2h0M846.2 724.2h0M850.8 730.0h0M833.7 730.8h0M837.5 737.2h0M851.2 737.8h0M850.7 735.0h0M846.7 735.9h0M845.2 732.0h0M851.8 724.6h0M832.4 731.4h0M828.9 735.5h0M850.6 734.5h0M851.3 727.9h0M839.3 738.7h0M847.9 731.4h0M845.0 727.9h0M838.9 725.9h0M834.0 738.6h0M850.6 713.5h0M849.3 723.9h0M842.2 736.0h0M824.7 728.9h0M843.1 736.1h0M847.4 737.9h0M847.6 738.5h0M846.3 733.7h0M846.9 731.3h0M817.4 738.9h0M847.8 737.6h0M847.5 738.1h0M841.7 737.8h0M851.3 736.8h0M844.0 735.7h0M823.9 729.4h0M847.0 731.9h0M849.6 727.4h0M851.5 739.1h0M847.4 736.9h0M845.1 738.9h0M850.4 733.1h0M848.6 736.2h0M849.3 735.4h0M828.3 733.1h0M846.8 738.8h0M848.8 736.9h0M845.6 737.2h0M851.0 736.4h0M847.1 730.8h0M849.8 738.4h0M842.5 738.9h0M851.3 726.2h0M847.7 708.3h0M850.1 728.9h0M850.0 727.7h0M833.0 739.0h0M840.4 733.1h0M847.9 729.2h0M848.7 727.7h0M851.3 736.5h0M838.8 738.7h0M847.8 730.2h0M845.9 732.3h0M836.1 734.6h0M845.5 739.3h0M851.8 737.5h0M846.8 729.1h0M851.0 716.4h0M851.3 727.8h0M799.5 738.3h0M845.4 718.0h0M845.9 733.8h0M843.9 703.8h0M848.7 725.7h0M841.8 735.4h0M832.1 735.2h0M851.5 724.2h0M836.6 714.2h0M848.1 734.1h0M844.7 732.4h0M840.3 737.8h0M844.8 721.7h0M844.0 738.3h0M850.2 726.8h0M836.8 737.4h0M851.6 739.1h0M850.6 726.6h0M847.5 738.0h0M848.7 731.6h0M844.1 731.9h0M848.3 737.4h0M844.8 723.4h0M847.3 738.4h0M844.1 737.9h0M827.3 737.5h0M843.2 735.9h0M849.5 731.5h0M843.6 731.4h0M832.6 735.3h0M847.7 736.6h0M847.9 735.3h0M848.9 736.3h0M846.4 732.3h0M850.1 730.4h0M850.2 736.1h0M843.7 734.6h0M851.8 728.0h0M848.3 735.0h0M844.8 730.8h0M847.5 722.5h0M849.1 738.2h0M849.3 734.3h0M847.8 731.3h0M849.7 732.0h0M848.9 732.3h0M844.2 739.2h0M851.2 732.1h0M849.3 738.3h0M845.3 737.4h0M848.9 739.0h0M851.0 739.2h0M851.1 728.7h0M844.1 737.8h0M844.1 731.5h0M847.8 732.9h0M846.7 724.9h0M850.9 732.1h0M848.1 733.4h0M849.8 715.3h0M844.2 738.5h0M849.6 733.8h0M844.9 738.6h0M829.8 738.5h0M850.3 735.0h0M845.9 733.8h0M851.9 735.2h0M838.0 739.2h0M849.9 726.7h0M850.2 736.5h0M851.8 738.9h0M842.5 730.7h0M851.0 738.0h0M837.3 738.7h0M844.1 733.2h0M844.9 736.3h0M845.6 731.8h0M837.2 729.8h0M845.9 737.0h0M848.7 697.1h0M851.4 734.9h0M837.2 736.6h0M844.8 717.2h0M850.6 722.6h0M843.0 735.9h0M838.3 724.9h0M848.0 732.7h0M847.7 737.6h0M850.1 735.0h0M848.4 739.3h0M836.3 737.1h0M846.8 734.3h0M847.1 717.1h0M851.8 721.1h0M829.0 737.3h0M844.6 730.0h0M851.3 730.7h0M845.6 729.6h0M847.9 732.9h0M851.6 733.0h0M846.5 732.2h0M844.0 730.9h0M846.8 739.2h0M847.1 722.5h0M847.2 738.3h0M845.1 735.2h0M831.5 736.6h0M851.3 737.5h0M849.2 721.2h0M848.7 738.0h0M850.4 736.9h0M845.4 735.9h0M850.1 734.7h0M845.0 730.0h0M847.5 734.0h0M849.2 736.3h0M847.1 718.3h0M845.8 726.6h0M849.5 726.8h0M832.3 730.9h0M842.8 737.1h0M850.7 699.6h0M845.6 736.0h0M846.3 733.7h0M848.9 728.9h0M851.8 737.6h0M849.7 725.1h0M839.3 734.0h0M828.3 736.1h0M850.2 739.0h0M849.1 734.6h0M845.9 734.9h0M840.5 733.3h0M839.5 733.6h0M848.9 729.9h0M837.1 738.5h0M847.9 735.8h0M830.2 733.5h0M847.4 739.2h0M849.9 725.4h0M838.8 737.3h0M841.3 732.6h0M848.9 732.2h0M837.8 737.5h0M850.4 724.6h0M849.5 733.6h0M848.9 736.2h0M838.2 737.8h0M849.0 730.1h0M849.5 727.5h0M841.2 733.6h0M845.3 736.8h0M830.8 734.4h0M851.5 724.0h0M838.3 738.3h0M843.5 732.2h0M851.0 728.2h0M846.3 723.3h0M848.7 738.7h0M849.5 732.2h0M846.8 731.8h0M849.7 737.6h0M849.7 728.8h0M849.8 731.3h0M837.9 738.6h0M849.2 730.3h0M840.9 739.3h0M850.3 732.9h0M838.2 723.8h0M844.6 738.5h0M842.5 734.3h0M846.4 734.4h0M845.2 730.2h0M841.1 732.3h0M837.6 730.8h0M843.8 726.5h0M842.9 736.8h0M851.4 733.5h0M830.7 735.8h0M845.8 735.7h0M842.6 738.9h0M850.6 733.7h0M844.7 737.1h0M849.2 732.1h0M831.1 738.4h0M845.6 738.5h0M848.9 735.1h0M851.0 716.8h0M843.2 731.6h0M838.9 733.3h0M844.8 735.8h0M844.8 738.0h0M845.5 731.6h0M849.8 728.4h0M851.4 738.2h0M848.9 732.4h0M843.6 737.5h0M848.8 737.7h0M824.1 739.0h0M847.7 703.0h0M847.0 737.4h0M846.1 722.3h0M849.0 728.8h0M850.4 739.1h0M851.5 715.2h0M843.0 726.6h0M851.8 734.2h0M842.3 738.9h0M850.6 720.1h0M850.8 725.4h0M851.5 737.5h0M844.5 721.6h0M835.7 737.7h0M851.0 729.0h0M848.8 728.9h0M845.6 721.8h0M843.7 727.7h0M836.9 736.6h0M848.9 733.7h0M846.0 738.0h0M850.1 730.7h0M847.4 731.0h0M829.4 738.6h0M843.0 731.2h0M850.7 737.0h0M851.2 734.1h0M847.8 727.1h0M837.4 733.9h0M834.4 724.6h0M850.1 720.0h0M848.8 734.6h0M840.8 739.2h0M850.5 738.5h0M846.1 738.4h0M849.7 736.4h0M851.9 737.5h0M850.8 721.2h0M850.9 738.2h0M844.4 738.6h0M845.8 739.0h0M826.0 735.4h0M848.9 736.7h0M837.4 738.9h0M849.7 726.5h0M846.8 724.9h0M848.5 737.2h0M845.2 738.8h0M843.7 733.6h0M849.7 729.9h0M834.8 738.5h0M846.0 715.2h0M844.0 737.8h0M847.1 734.8h0M849.2 735.7h0M842.1 737.7h0M849.5 738.2h0M826.7 732.8h0M845.7 725.5h0M844.8 734.3h0M846.6 738.8h0M851.2 735.3h0M847.3 735.5h0M850.0 730.9h0M851.9 725.8h0M833.1 731.3h0M850.7 737.3h0M829.4 737.1h0M851.6 736.3h0M882.8 737.8h0M901.2 737.6h0M882.6 719.5h0M896.3 734.1h0M893.2 736.5h0M887.6 736.0h0M884.6 732.3h0M883.2 738.8h0M901.8 739.2h0M882.9 733.3h0M883.8 738.6h0M882.3 739.2h0M891.6 736.4h0M892.5 730.7h0M895.5 737.8h0M885.3 724.2h0M886.0 733.3h0M896.4 738.2h0M887.8 737.3h0M882.8 738.3h0M886.8 738.3h0M882.6 730.7h0M882.6 735.0h0M890.7 735.2h0M893.5 724.0h0M884.4 736.7h0M891.5 719.8h0M882.6 729.6h0M891.7 721.6h0M885.7 737.1h0M884.4 726.1h0M894.7 738.1h0M883.7 738.1h0M893.0 731.4h0M896.4 738.3h0M884.1 738.1h0M882.3 735.8h0M890.6 732.1h0M896.8 732.6h0M886.2 734.0h0M883.8 733.6h0M882.6 736.1h0M889.1 725.3h0M882.7 738.1h0M890.8 737.5h0M891.6 722.2h0M883.7 715.9h0M882.9 727.4h0M908.2 733.4h0M887.3 739.2h0M891.2 736.2h0M887.9 734.6h0M888.2 733.6h0M890.8 716.9h0M892.7 715.8h0M897.9 730.1h0M884.7 736.3h0M889.8 737.9h0M892.2 728.2h0M890.2 733.4h0M889.9 734.0h0M891.4 738.0h0M912.0 730.4h0M893.6 735.6h0M889.4 731.0h0M889.7 731.9h0M887.5 729.1h0M896.7 729.2h0M883.5 736.8h0M923.3 737.1h0M897.3 737.9h0M890.6 739.0h0M889.1 732.8h0M894.2 734.9h0M884.1 737.9h0M886.2 737.7h0M901.2 737.9h0M902.7 738.6h0M891.1 735.3h0M911.6 737.2h0M888.4 728.3h0M885.3 734.2h0M888.7 728.4h0M899.0 734.2h0M885.4 737.0h0M889.6 729.9h0M890.3 738.7h0M891.8 738.2h0M890.3 738.6h0M914.2 734.8h0M887.9 738.9h0M897.1 735.1h0M921.8 738.0h0M893.9 734.3h0M911.0 736.0h0M882.7 738.2h0M882.8 737.1h0M903.0 737.1h0M885.6 735.8h0M883.0 731.5h0M887.3 737.1h0M882.3 736.3h0M891.5 737.6h0M940.7 735.0h0M892.7 726.3h0M891.1 736.9h0M900.7 739.0h0M890.2 737.5h0M884.0 731.0h0M884.9 736.1h0M884.8 738.2h0M888.1 734.1h0M883.4 729.3h0M902.3 735.3h0M883.5 734.3h0M886.3 732.4h0M885.8 738.7h0M903.4 733.4h0M892.3 730.0h0M882.5 727.9h0M897.8 739.1h0M883.1 729.9h0M888.8 737.5h0M886.4 736.3h0M886.1 731.4h0M892.7 725.4h0M896.6 739.1h0M891.1 733.1h0M883.0 728.0h0M882.7 733.7h0M885.2 737.5h0M891.0 730.6h0M890.8 737.1h0M889.4 734.6h0M883.7 737.2h0M891.8 737.7h0M885.9 734.1h0M917.0 731.8h0M895.6 735.1h0M882.8 738.5h0M886.5 738.1h0M894.1 735.0h0M882.7 730.0h0M883.2 734.0h0M891.2 732.8h0M890.6 729.0h0M883.7 726.2h0M928.2 729.4h0M893.7 733.7h0M885.6 736.3h0M885.7 734.1h0M884.3 737.9h0M889.3 728.8h0M893.8 738.5h0M886.5 727.2h0M907.8 730.0h0M896.1 736.1h0M887.1 738.0h0M884.3 729.7h0M917.6 737.4h0M893.7 736.2h0M887.0 734.8h0M894.3 737.0h0M890.1 732.7h0M883.3 736.9h0M913.1 739.0h0M882.9 737.6h0M884.7 736.7h0M888.4 736.9h0M886.3 738.9h0M900.1 735.3h0M898.3 735.4h0M884.6 735.7h0M884.5 737.3h0M893.1 731.1h0M883.5 738.5h0M900.9 738.1h0M884.4 736.5h0M885.8 734.5h0M887.1 736.8h0M883.0 738.2h0M883.1 735.2h0M887.3 738.4h0M887.3 737.1h0M887.3 735.1h0M893.8 735.9h0M882.5 735.6h0M884.5 738.3h0M888.9 737.0h0M885.2 736.4h0M885.6 738.5h0M883.9 732.4h0M888.9 737.7h0M888.4 735.5h0M901.0 735.1h0M904.0 736.7h0M882.6 733.9h0M884.6 733.0h0M890.7 737.7h0M939.4 738.5h0M899.6 732.7h0M893.2 738.6h0M896.0 733.8h0M901.1 733.2h0M895.7 739.2h0M883.9 726.2h0M882.8 735.8h0M886.4 737.4h0M900.1 735.5h0M888.6 734.0h0M882.4 738.2h0M938.5 707.9h0M882.8 739.3h0M882.8 737.5h0M884.6 728.3h0M885.8 730.0h0M883.8 737.4h0M885.7 737.7h0M883.0 725.9h0M885.0 736.7h0M890.4 738.1h0M927.1 737.3h0M890.2 732.8h0M889.0 731.2h0M883.7 738.7h0M884.2 732.3h0M882.9 734.5h0M887.1 730.9h0M895.5 731.9h0M886.0 735.2h0M890.2 737.1h0M895.0 735.8h0M887.5 733.3h0M884.8 736.8h0M882.7 735.8h0M890.5 732.5h0M883.8 736.9h0M908.9 732.9h0M882.5 733.4h0M886.9 738.0h0M893.5 735.2h0M895.8 728.0h0M887.5 726.2h0M889.4 727.6h0M885.6 738.7h0M886.5 737.8h0M884.3 726.7h0M904.0 736.8h0M883.3 731.1h0M903.6 737.9h0M893.7 736.0h0M885.9 732.0h0M920.6 728.8h0M899.0 736.4h0M883.4 719.4h0M886.0 738.8h0M884.4 724.6h0M907.3 736.3h0M882.5 735.9h0M907.0 736.8h0M895.1 733.4h0M896.5 734.5h0M886.5 725.0h0M882.7 735.4h0M903.4 729.8h0M883.2 737.9h0M883.0 737.4h0M887.8 739.3h0M886.8 737.6h0M888.6 732.2h0M886.4 739.2h0M887.3 724.2h0M887.0 733.8h0M885.8 738.3h0M908.9 735.5h0M907.9 737.8h0M884.4 738.0h0M882.9 717.8h0M886.7 737.1h0M884.3 738.8h0M882.6 738.4h0M886.3 732.6h0M885.7 719.8h0M885.0 734.1h0M901.8 737.0h0M890.5 731.2h0M885.7 734.6h0M886.5 737.7h0M891.5 737.4h0M887.8 727.8h0M888.4 732.7h0M907.9 730.2h0M900.0 727.1h0M882.4 732.1h0M890.2 705.6h0M887.3 739.0h0M885.6 736.5h0M884.0 735.0h0M898.9 739.3h0M885.5 738.6h0M889.8 728.2h0M884.9 737.7h0M903.0 739.0h0M882.8 717.3h0M898.0 735.4h0M886.3 736.2h0M889.6 733.2h0M884.7 737.2h0M902.2 739.2h0M885.3 737.1h0M890.6 736.4h0M883.4 738.2h0M893.8 736.4h0M885.8 735.8h0M893.5 737.6h0M908.4 736.7h0M882.6 728.1h0M898.4 733.2h0M887.1 737.5h0M882.3 737.5h0M894.2 722.9h0M892.2 728.0h0M887.6 730.8h0M895.5 730.0h0M886.0 737.7h0M894.6 738.1h0M886.7 738.8h0M897.0 739.0h0M894.8 736.8h0M888.5 738.9h0M889.3 735.0h0M889.0 739.1h0M885.6 736.5h0M883.6 732.6h0M890.0 731.9h0M885.0 733.0h0M903.4 731.9h0M884.2 739.1h0M900.7 735.4h0M883.6 738.3h0M889.4 726.5h0M903.9 732.6h0M888.8 736.2h0M884.3 726.2h0M884.1 734.7h0M884.6 737.6h0M906.5 737.0h0M896.2 735.6h0M888.0 729.1h0M893.3 736.2h0M898.2 737.8h0M884.1 736.2h0M884.4 739.3h0M882.5 734.0h0M922.7 735.8h0M892.5 734.5h0M884.7 732.8h0M886.0 736.9h0M903.5 729.3h0M914.3 730.8h0M885.4 738.2h0M904.9 724.8h0M903.1 732.8h0M883.8 735.6h0M910.5 734.6h0M885.7 730.7h0M911.6 737.0h0M884.5 733.3h0M898.1 727.6h0M892.2 731.9h0M904.3 732.2h0M885.2 738.0h0M886.9 738.9h0M892.4 738.3h0M931.4 728.9h0M883.7 732.5h0M884.6 721.6h0M896.5 739.0h0M884.4 724.5h0M886.6 735.4h0M886.4 736.7h0M889.2 731.1h0M890.8 734.4h0M886.5 727.7h0M899.2 728.6h0M891.0 736.3h0M897.8 736.2h0M882.7 738.3h0M882.9 735.7h0M891.2 720.0h0M883.8 738.6h0M887.8 737.2h0M907.5 731.0h0M903.0 722.1h0M890.0 738.2h0M898.9 736.9h0M892.5 737.8h0M883.6 732.6h0M886.2 739.1h0M892.1 736.3h0M886.6 723.9h0M887.5 735.7h0M883.5 738.6h0M888.0 734.1h0M886.4 733.4h0M890.5 733.2h0M884.0 719.3h0M893.8 734.9h0M895.5 736.3h0M889.9 738.2h0M883.2 730.2h0M882.3 713.1h0M883.3 713.3h0M882.4 726.2h0M884.0 730.2h0M887.6 739.1h0M888.3 725.7h0M902.1 734.5h0M884.0 725.0h0M884.7 701.7h0M898.2 737.4h0M885.2 716.2h0M885.4 724.1h0M884.9 733.8h0M894.0 731.3h0M897.3 733.5h0M882.4 721.2h0M882.4 728.4h0M887.0 697.9h0M883.5 729.3h0M889.7 735.1h0M885.0 733.8h0M884.9 731.6h0M890.3 732.3h0M884.3 712.2h0M904.2 727.4h0M886.2 727.8h0M883.0 687.6h0M889.6 733.1h0M886.0 723.3h0M912.4 739.3h0M883.6 728.7h0M890.2 729.6h0M886.0 735.3h0M884.9 722.2h0M885.3 728.8h0M891.1 738.1h0M886.0 737.4h0M885.6 737.7h0M883.6 718.1h0M882.3 722.2h0M895.3 734.2h0M884.6 739.2h0M883.9 737.1h0M887.7 734.3h0M884.8 734.8h0M885.8 738.5h0M882.9 714.6h0M888.1 730.7h0M884.1 735.1h0M884.5 723.3h0M889.7 737.1h0M882.4 711.1h0M883.0 738.5h0M886.4 738.7h0M884.1 724.3h0M892.1 735.3h0M889.6 739.3h0M887.5 735.0h0M885.3 738.7h0M887.3 728.1h0M891.3 735.4h0M890.3 738.6h0M890.9 737.3h0M894.7 728.9h0M882.9 730.1h0M888.4 714.0h0M887.6 724.7h0M883.9 722.0h0M889.7 739.2h0M900.4 739.3h0M894.0 733.4h0M890.1 736.8h0M885.4 736.5h0M892.9 706.3h0M887.4 695.8h0M884.0 737.6h0M902.5 738.4h0M882.8 717.7h0M893.7 735.2h0M900.0 731.3h0M887.7 731.0h0M890.1 730.0h0M884.6 734.6h0M892.5 739.2h0M900.6 738.2h0M884.2 732.2h0M908.5 727.1h0M882.3 736.3h0M885.0 725.3h0M884.8 734.4h0M882.6 736.9h0M885.4 713.9h0M887.4 730.1h0M884.5 737.2h0M884.4 721.5h0M884.4 738.4h0M889.5 735.3h0M891.6 737.1h0M888.2 739.2h0M887.8 736.4h0M884.2 731.5h0M889.0 721.0h0M909.9 736.6h0M886.2 729.1h0M895.8 737.0h0M893.8 739.3h0M884.9 701.0h0M898.3 734.9h0M902.4 738.8h0M888.4 728.4h0M884.0 735.9h0M902.9 733.7h0M885.8 717.9h0M885.1 737.0h0M892.6 726.0h0M885.8 732.2h0M897.1 737.4h0M882.4 738.1h0M913.6 737.7h0M883.1 731.8h0M884.2 732.9h0M904.7 736.9h0M887.3 699.8h0M885.6 724.3h0M888.9 726.9h0M883.5 731.7h0M885.6 717.9h0M887.4 731.9h0M908.8 731.6h0M890.6 729.7h0M892.3 723.7h0M883.2 731.6h0M893.2 732.2h0M883.1 739.3h0M897.0 731.8h0M883.8 732.0h0M893.4 716.0h0M883.2 728.8h0M886.8 735.9h0M885.7 728.1h0M907.5 738.2h0M882.5 736.4h0M882.6 726.5h0M883.8 725.1h0M906.3 731.3h0M887.9 724.8h0M885.1 729.6h0M883.4 710.3h0M885.3 734.6h0M893.1 739.2h0M891.2 720.5h0M893.0 724.9h0M886.4 738.3h0M889.0 730.6h0M886.1 728.8h0M894.0 729.3h0M883.0 737.8h0M893.2 729.2h0M893.0 736.3h0M892.2 734.3h0M899.2 738.4h0M885.4 737.5h0M931.5 738.7h0M899.2 738.6h0M892.3 736.7h0M883.0 731.2h0M896.9 723.3h0M888.2 735.1h0M883.1 730.2h0M885.6 738.3h0M885.1 730.2h0M888.0 739.3h0M886.7 710.5h0M886.3 731.0h0M885.1 735.6h0M885.2 702.6h0M884.3 710.0h0M888.0 738.7h0M889.8 732.1h0M891.6 731.5h0M886.8 738.9h0M886.5 738.3h0M884.6 736.8h0M918.4 739.1h0M915.6 737.9h0M895.7 735.4h0M886.0 736.6h0M886.8 723.4h0M890.0 729.8h0M901.0 736.6h0M888.0 723.3h0M901.5 732.5h0M882.9 714.2h0M888.3 731.3h0M892.9 718.3h0M884.0 734.1h0M883.3 738.1h0M893.6 733.1h0M891.3 724.8h0M910.2 737.5h0M894.0 737.5h0M899.4 737.1h0M883.2 729.6h0M885.7 729.4h0M889.0 734.6h0M882.7 730.4h0M903.2 735.1h0M898.9 735.9h0M886.8 738.7h0M893.7 739.0h0M884.0 738.6h0M884.6 732.6h0M885.0 728.6h0M907.6 735.4h0M892.3 735.1h0M883.2 738.9h0M886.9 735.6h0M896.0 709.7h0M885.4 718.5h0M917.0 738.0h0M894.2 730.3h0M890.5 733.0h0M887.7 734.0h0M892.1 738.5h0M882.5 736.7h0M895.1 735.9h0M887.4 737.6h0M887.6 728.6h0M884.4 735.4h0M884.1 724.8h0M882.5 739.1h0M882.7 735.0h0M883.8 713.7h0M892.6 731.9h0M890.5 720.2h0M885.8 737.5h0M884.2 734.0h0M893.9 732.0h0M887.0 733.4h0M889.7 739.0h0M888.9 739.2h0M891.5 719.8h0M886.0 730.7h0M886.5 726.1h0M893.7 738.6h0M885.5 731.1h0M884.7 725.2h0M892.4 738.9h0M895.4 737.9h0M890.2 726.9h0M888.8 717.1h0M898.9 735.2h0M887.4 738.2h0M884.1 737.4h0M882.4 723.4h0M894.2 736.5h0M888.6 733.6h0M882.7 738.6h0M891.3 728.9h0M887.0 712.1h0M887.1 706.2h0M892.7 718.6h0M893.9 736.3h0M903.4 739.1h0M911.5 732.7h0M883.6 688.3h0M884.4 735.5h0M900.2 733.5h0M882.8 722.1h0M891.5 729.9h0M882.5 726.0h0M905.0 735.6h0M882.8 737.4h0M899.8 737.8h0M882.8 716.5h0M887.5 737.6h0M884.4 733.6h0M890.4 700.4h0M882.5 689.7h0M884.3 739.0h0M884.9 739.0h0M895.9 736.3h0M891.9 738.2h0M893.4 724.4h0M884.4 735.1h0M887.7 729.1h0M892.6 703.9h0M883.8 732.7h0M890.9 733.4h0M903.2 733.9h0M883.0 716.9h0M889.9 735.7h0M890.2 737.0h0M928.1 739.1h0M889.5 732.0h0M895.3 738.2h0M887.0 732.3h0M886.1 735.8h0M885.3 671.5h0M888.1 737.8h0M891.6 733.3h0M884.5 729.6h0M899.1 738.2h0M889.5 727.2h0M891.3 737.7h0M884.9 721.4h0M890.1 714.4h0M887.4 726.4h0M893.7 738.4h0M891.1 735.8h0M885.1 731.0h0M898.1 737.4h0M887.7 737.1h0M894.2 736.1h0M890.6 731.3h0M882.5 738.4h0M890.8 732.2h0M883.0 699.9h0M887.4 738.8h0M884.4 737.3h0M902.6 737.7h0M889.6 728.6h0M884.7 729.4h0M903.9 729.7h0M890.4 738.8h0M889.8 736.8h0M891.1 731.1h0M893.9 739.1h0M883.3 729.8h0M896.8 725.2h0M883.4 733.2h0M895.8 728.4h0M927.1 736.1h0M883.7 726.1h0M890.5 736.4h0M891.7 738.2h0M884.0 731.6h0M891.3 736.7h0M883.6 727.0h0M827.3 733.9h0M813.0 725.8h0M834.9 729.4h0M818.1 738.4h0M848.4 735.2h0M845.8 727.3h0M824.2 725.2h0M849.4 737.9h0M847.7 738.7h0M826.6 732.5h0M814.1 735.2h0M847.7 725.3h0M846.2 726.1h0M830.8 728.9h0M851.1 738.2h0M849.5 739.1h0M824.3 736.5h0M833.4 733.6h0M833.4 729.6h0M820.7 727.5h0M846.5 732.9h0M846.3 738.6h0M837.0 728.0h0M850.9 735.2h0M832.3 726.5h0M836.1 728.7h0M842.9 738.7h0M851.2 739.1h0M837.5 731.9h0M836.4 727.1h0M833.4 730.4h0M826.4 727.8h0M837.5 738.5h0M842.6 731.2h0M830.2 739.2h0M831.2 731.5h0M823.9 727.9h0M851.5 727.3h0M848.2 738.7h0M849.5 729.6h0M851.1 725.5h0M847.7 734.0h0M817.5 739.2h0M851.4 730.8h0M814.3 736.8h0M839.9 737.1h0M846.0 729.4h0M824.3 730.2h0M826.5 738.7h0M833.5 727.5h0M834.4 727.7h0M837.7 728.0h0M834.9 735.9h0M831.7 739.1h0M842.0 728.8h0M851.1 729.1h0M813.1 738.5h0M841.7 737.6h0M823.3 738.9h0M836.3 733.8h0M833.2 736.2h0M818.9 734.1h0M849.2 729.1h0M823.2 731.0h0M845.4 731.2h0M832.4 737.1h0M812.0 728.3h0M847.0 731.2h0M823.1 737.6h0M811.9 733.4h0M830.7 736.4h0M851.4 734.5h0M849.2 736.5h0M851.4 737.5h0M837.4 734.9h0M840.3 729.7h0M845.5 726.0h0M817.0 726.9h0M830.4 731.9h0M833.7 728.8h0M850.9 733.8h0M823.0 734.4h0M847.1 738.8h0M812.1 731.0h0M843.5 739.1h0M830.0 728.9h0M812.8 734.3h0M837.2 726.1h0M822.5 732.5h0M840.4 738.0h0M839.0 738.2h0M839.7 730.8h0M824.5 738.4h0M835.8 729.2h0M849.6 732.7h0M842.8 730.0h0M843.9 738.9h0M851.5 737.3h0M833.6 733.1h0M849.3 738.1h0M849.6 733.2h0M845.1 733.7h0M843.6 736.7h0M840.9 736.3h0M818.9 731.9h0M830.4 731.0h0M843.6 736.1h0M828.3 735.0h0M839.9 736.9h0M814.9 739.0h0M894.7 730.8h0M895.6 665.1h0M882.5 710.5h0M897.0 701.5h0M887.6 693.2h0M882.9 727.8h0M885.0 736.5h0M882.5 727.4h0M883.7 694.4h0M884.9 725.4h0M883.2 724.9h0M884.0 643.2h0M892.0 700.2h0M898.1 718.2h0M884.8 695.3h0M882.7 724.8h0M882.9 688.7h0M882.6 708.5h0M885.6 656.9h0M898.6 725.5h0M891.4 733.5h0M886.1 736.7h0M890.5 713.1h0M883.7 697.0h0M894.1 736.7h0M887.7 709.0h0M896.4 697.5h0M894.7 675.2h0M884.4 662.0h0M884.6 728.6h0M891.0 734.1h0M892.0 722.7h0M890.8 643.0h0M887.4 736.1h0M889.7 655.1h0M882.8 710.3h0M897.2 736.3h0M897.1 667.5h0M893.2 669.1h0M882.8 733.0h0M896.4 649.2h0M900.2 736.1h0M882.8 677.7h0M894.9 650.5h0M898.3 735.9h0M888.0 736.7h0M893.3 676.7h0M888.7 675.1h0M882.9 661.1h0M900.0 736.9h0M884.4 661.8h0M900.8 710.4h0M890.4 706.4h0M884.3 685.9h0M889.9 709.5h0M901.0 734.1h0M882.7 733.3h0M883.3 699.1h0M891.7 734.3h0M901.2 705.7h0M884.1 719.8h0M884.4 686.1h0M889.9 707.1h0M885.8 709.5h0M893.5 707.7h0M888.3 731.0h0M889.8 702.6h0M895.1 689.3h0M882.4 646.1h0M894.3 692.5h0M894.5 694.4h0M886.5 665.6h0M897.9 695.0h0M895.6 735.3h0M882.6 730.3h0M886.2 720.1h0M893.1 678.5h0M882.7 699.1h0M897.6 673.7h0M882.7 700.4h0M886.6 735.9h0M885.1 700.9h0M883.7 733.2h0M890.0 645.1h0M891.5 713.5h0M882.9 708.0h0M884.3 702.3h0M891.3 736.5h0M892.3 732.1h0M895.4 736.9h0M883.0 668.6h0M884.8 736.9h0M884.4 687.2h0M887.6 692.6h0M897.9 685.2h0M896.9 707.6h0M896.8 673.0h0M891.5 643.6h0M889.3 727.3h0M895.4 700.7h0M901.3 730.0h0M886.7 716.1h0M882.8 658.6h0M883.3 650.6h0M882.3 736.9h0M888.3 736.7h0M882.6 720.7h0M885.9 701.4h0M884.9 703.1h0M894.0 736.6h0M900.1 733.8h0M892.6 733.8h0M893.1 736.2h0M892.8 699.4h0M884.3 694.7h0M889.2 704.9h0M897.3 714.1h0M893.5 721.5h0M886.2 721.2h0M893.7 644.6h0M884.9 662.0h0M893.7 733.7h0M884.3 665.3h0M896.2 714.7h0M893.8 701.1h0M897.5 722.1h0M894.0 736.6h0M882.8 722.3h0M886.9 734.1h0M900.5 685.1h0M882.5 733.1h0M898.8 729.6h0M894.1 676.3h0M893.6 679.2h0M889.9 658.6h0M888.5 712.7h0M887.1 735.7h0M896.9 724.0h0M888.3 671.2h0M888.6 704.7h0M884.3 678.7h0M897.5 719.3h0M884.8 656.5h0M887.5 731.6h0M894.8 656.1h0M883.5 729.6h0M900.8 723.1h0M886.0 663.6h0M884.6 713.0h0M890.3 689.7h0M883.2 682.4h0M893.3 701.9h0M900.6 708.0h0M882.3 703.7h0M885.4 727.3h0M887.4 736.7h0M883.3 712.8h0M882.8 704.6h0M888.2 661.3h0M883.2 735.3h0M882.8 695.0h0M896.2 664.6h0M886.3 724.1h0M882.9 696.5h0M898.8 736.9h0M899.8 704.5h0M891.3 720.0h0M888.4 692.5h0M887.4 731.3h0M890.8 726.5h0M895.1 701.3h0M885.2 694.7h0M886.2 711.4h0M887.7 705.3h0M882.7 734.6h0M887.2 650.6h0M884.3 696.5h0M890.7 734.4h0M886.1 663.2h0M901.4 678.3h0M887.3 648.3h0M883.3 677.3h0M882.3 736.4h0M882.6 713.1h0M887.3 736.9h0M900.2 723.6h0M885.3 735.6h0M900.0 728.3h0M883.3 736.2h0M889.8 736.5h0M889.1 685.7h0M900.6 655.6h0M889.8 658.0h0M882.3 653.4h0M901.1 642.7h0M899.9 656.4h0M882.5 722.2h0M883.6 651.6h0M882.4 681.1h0M900.0 731.5h0M894.2 662.2h0M882.8 736.8h0M892.4 655.9h0M897.4 698.7h0M887.8 727.0h0M899.9 734.8h0M900.5 728.0h0M883.9 702.7h0M882.6 730.3h0M898.8 699.9h0M882.7 704.6h0M887.1 662.3h0M883.2 644.6h0M897.0 713.0h0M888.5 666.3h0M893.5 728.3h0M889.1 675.2h0M888.6 723.4h0M889.6 705.8h0M885.2 699.5h0M884.9 695.3h0M899.9 733.0h0M884.5 736.9h0M886.0 733.1h0M884.1 688.2h0M900.1 715.7h0M900.5 696.0h0M884.7 645.3h0M901.1 713.2h0M882.9 687.5h0M887.4 730.6h0M883.5 736.2h0M882.4 733.3h0M896.8 722.2h0M893.3 712.8h0M900.5 665.0h0M891.5 714.9h0M897.1 686.6h0M896.3 705.1h0M886.5 726.9h0M896.4 736.5h0M892.8 736.0h0M891.0 734.4h0M882.6 684.5h0M883.6 723.1h0M889.9 685.8h0M894.5 712.7h0M885.6 705.7h0M897.1 659.0h0M899.9 710.0h0M883.2 648.6h0M884.4 718.3h0M888.1 710.7h0M895.2 647.0h0M896.1 683.2h0M887.1 697.5h0M883.1 674.2h0M883.6 728.0h0M890.5 700.7h0M888.3 667.2h0M891.2 727.8h0M885.8 727.1h0M891.9 666.3h0M890.4 716.5h0M894.1 731.2h0M891.1 715.5h0M899.7 719.0h0M888.4 709.9h0M882.3 686.7h0M888.7 725.3h0M886.6 657.5h0M896.4 732.3h0M898.1 736.9h0M897.5 717.7h0M889.6 670.0h0M885.1 660.3h0M894.3 655.4h0M882.3 659.2h0M882.4 707.1h0M887.8 678.9h0M903.1 728.3h0M919.9 726.5h0M889.0 719.6h0M911.3 727.5h0M931.8 678.8h0M927.1 699.3h0M936.9 698.8h0M917.9 695.1h0M887.9 683.2h0M914.8 690.1h0M915.1 718.1h0M893.7 724.6h0M888.9 723.5h0M932.1 713.1h0M908.7 685.5h0M934.8 722.3h0M902.9 702.4h0M908.8 679.2h0M900.3 716.3h0M896.3 714.7h0M903.4 728.1h0M900.6 729.0h0M893.0 710.5h0M904.8 694.1h0M910.7 725.1h0M937.9 716.3h0M927.5 722.9h0M928.8 675.5h0M900.5 689.7h0M912.0 693.1h0M918.8 681.9h0M921.0 689.9h0M937.1 692.1h0M929.0 722.9h0M895.6 677.1h0M937.4 728.7h0M905.1 692.9h0M892.6 681.1h0M911.8 678.4h0M913.1 695.7h0M899.5 687.7h0M928.4 717.7h0M912.1 726.3h0M887.4 725.9h0M907.1 698.8h0M932.4 698.1h0M895.3 686.0h0M889.2 700.6h0M911.5 719.6h0M888.2 680.8h0M888.9 716.6h0M933.6 724.8h0M931.5 728.4h0M923.9 707.3h0M889.3 703.1h0M916.1 676.2h0M923.0 705.1h0M930.8 729.0h0M893.7 714.9h0M923.3 682.2h0M909.2 687.3h0M891.3 685.6h0M937.0 687.4h0M890.1 691.0h0M894.1 684.7h0M912.5 674.6h0M898.9 681.1h0M889.0 703.7h0M926.6 717.0h0M895.4 694.2h0M895.6 706.5h0M901.4 696.1h0M903.9 701.3h0M927.2 702.5h0M913.7 689.9h0M959.1 723.3h0M922.7 735.9h0M918.0 730.1h0M947.6 736.9h0M932.6 730.3h0M912.2 724.3h0M921.0 736.2h0M928.4 735.8h0M913.8 722.4h0M922.4 727.9h0M933.3 726.4h0M921.9 731.9h0M948.3 733.9h0M949.0 735.9h0M959.5 726.4h0M938.6 725.6h0M938.6 731.8h0M927.0 734.8h0M910.9 725.5h0M911.6 731.0h0M911.3 735.5h0M943.2 726.1h0M949.7 728.8h0M935.0 734.6h0M941.4 722.7h0M945.7 729.2h0M948.4 730.4h0M914.7 723.7h0M948.2 734.2h0M921.9 735.9h0M839.4 714.7h0M847.6 707.6h0M849.4 726.6h0M841.7 725.9h0M850.1 721.8h0M851.7 730.4h0M838.3 730.8h0M843.9 714.7h0M844.3 730.8h0M840.3 712.4h0M843.8 727.6h0M838.8 716.8h0M838.3 731.1h0M841.0 710.2h0M837.1 725.7h0M845.7 724.0h0M839.9 731.1h0M841.2 731.4h0M849.1 708.0h0M839.1 731.2h0M839.5 731.2h0M840.6 716.0h0M846.1 730.1h0M840.4 723.9h0M838.3 729.4h0M840.5 720.4h0M847.6 727.9h0M846.8 725.5h0M844.8 731.0h0M837.2 707.6h0M847.1 728.3h0M846.8 718.4h0M849.7 730.7h0M851.0 713.4h0M847.2 724.3h0M851.0 718.3h0M845.4 727.8h0M843.7 731.0h0M848.4 725.3h0M837.2 724.6h0M814.8 732.9h0M807.1 737.4h0M817.7 736.8h0M819.0 735.9h0M816.8 735.7h0M806.4 737.6h0M815.5 733.2h0M820.1 736.4h0M811.8 735.0h0M809.2 737.5h0M803.5 734.3h0M816.6 733.8h0M886.4 638.0h0M890.1 624.7h0M885.5 617.0h0M890.2 618.5h0M890.5 632.9h0M898.6 617.0h0M887.2 637.4h0M896.7 629.1h0M891.9 620.4h0M898.8 627.2h0M897.9 639.8h0M888.9 629.3h0M887.7 632.1h0M892.8 637.4h0" stroke="#35625e" stroke-width="2.0" stroke-linecap="round" fill="none" stroke-opacity="0.78"/>
<path d="M923.7 523.2h0M921.3 533.5h0M893.9 564.3h0M931.5 587.4h0M887.7 590.1h0M909.8 599.9h0M911.5 599.2h0M892.2 601.0h0M922.3 595.4h0M883.5 594.2h0M905.2 605.0h0M881.7 604.0h0M885.4 617.0h0M897.2 616.4h0M901.8 620.9h0M889.7 622.7h0M893.8 626.2h0M886.5 626.2h0M883.5 633.5h0M902.9 634.8h0M908.6 636.4h0M933.3 635.7h0M982.1 659.2h0M926.9 650.6h0M916.2 652.4h0M910.2 652.4h0M928.0 676.8h0M945.8 691.2h0M947.0 707.2h0M940.6 712.4h0M949.0 715.1h0M960.0 727.7h0M954.3 728.8h0M802.5 735.2h0M808.3 736.1h0M819.7 728.4h0M909.8 611.3h0M923.0 607.0h0" stroke="#35625e" stroke-width="2.2" stroke-linecap="round" fill="none" stroke-opacity="0.78"/>
<path d="M853.9 670.7h0M879.0 650.6h0" stroke="#222" stroke-width="2.2" stroke-linecap="round" fill="none" stroke-opacity="0.85"/>
<line x1="916.2" y1="590.8" x2="910.9" y2="599.2" stroke="#333" stroke-width="0.5"/>
<line x1="905.2" y1="605.0" x2="909.8" y2="611.3" stroke="#333" stroke-width="0.5"/>
<text x="918.9" y="519.8" font-size="6.3" fill="#111" textLength="20.2" lengthAdjust="spacingAndGlyphs">HAPLN3</text>
<text x="904.9" y="540.7" font-size="6.3" fill="#111" textLength="23.2" lengthAdjust="spacingAndGlyphs">TSPAN33</text>
<text x="888.1" y="560.8" font-size="6.3" fill="#111" textLength="23.6" lengthAdjust="spacingAndGlyphs">TAMALIN</text>
<text x="929.6" y="584.0" font-size="6.3" fill="#111" textLength="15.5" lengthAdjust="spacingAndGlyphs">PITX3</text>
<text x="887.0" y="586.2" font-size="6.3" fill="#111" textLength="12.5" lengthAdjust="spacingAndGlyphs">ASS1</text>
<text x="866.0" y="590.3" font-size="6.3" fill="#111" textLength="15.9" lengthAdjust="spacingAndGlyphs">SNX21</text>
<text x="908.2" y="589.2" font-size="6.3" fill="#111" textLength="17.1" lengthAdjust="spacingAndGlyphs">NPTXR</text>
<text x="893.1" y="597.0" font-size="6.3" fill="#111" textLength="9.8" lengthAdjust="spacingAndGlyphs">PGF</text>
<text x="925.8" y="597.6" font-size="6.3" fill="#111" textLength="12.5" lengthAdjust="spacingAndGlyphs">HID1</text>
<text x="869.4" y="600.6" font-size="6.3" fill="#111" textLength="17.6" lengthAdjust="spacingAndGlyphs">ARMC5</text>
<text x="908.2" y="606.8" font-size="6.3" fill="#111" textLength="19.8" lengthAdjust="spacingAndGlyphs">RASSF5</text>
<text x="878.5" y="609.5" font-size="6.3" fill="#111" textLength="19.9" lengthAdjust="spacingAndGlyphs">NHERF1</text>
<text x="903.4" y="615.9" font-size="6.3" fill="#111" textLength="23.5" lengthAdjust="spacingAndGlyphs">DNAJC12</text>
</g>
<g id="G">
<text x="-3.6" y="862.2" font-size="33" textLength="24.8" lengthAdjust="spacingAndGlyphs">G</text>
<text x="364.9" y="857.6" font-size="25.8" textLength="435.0" lengthAdjust="spacingAndGlyphs">Comparison of Top Predicted Pathways</text>
<rect x="584.8" y="889.6" width="120.7" height="22.2" fill="#4b2d94"/>
<rect x="705.2" y="889.6" width="122.0" height="22.2" fill="#f79a44"/>
<rect x="826.9" y="889.6" width="122.4" height="22.2" fill="#fcab33"/>
<line x1="573.3" y1="899.7" x2="583.5" y2="899.7" stroke="#111" stroke-width="2.6"/>
<text x="271.7" y="905.9" font-size="18.5" fill="#111" font-weight="bold" textLength="299.2" lengthAdjust="spacingAndGlyphs">Signaling by Rho Family GTPases</text>
<line x1="584.8" y1="911.6" x2="705.2" y2="933.5" stroke="#111" stroke-width="1.3"/>
<line x1="584.8" y1="933.5" x2="705.2" y2="911.6" stroke="#111" stroke-width="1.3"/>
<rect x="705.2" y="911.6" width="122.0" height="22.2" fill="#f9dc25"/>
<rect x="826.9" y="911.6" width="122.4" height="22.2" fill="#eeea30"/>
<line x1="573.3" y1="921.8" x2="583.5" y2="921.8" stroke="#111" stroke-width="2.6"/>
<text x="404.3" y="928.0" font-size="18.5" fill="#111" font-weight="bold" textLength="166.6" lengthAdjust="spacingAndGlyphs">RHO GTPase cycle</text>
<rect x="584.8" y="933.5" width="120.7" height="22.2" fill="#cb4a7e"/>
<rect x="705.2" y="933.5" width="122.0" height="22.2" fill="#ede92a"/>
<rect x="826.9" y="933.5" width="122.4" height="22.2" fill="#fdc92b"/>
<line x1="573.3" y1="943.9" x2="583.5" y2="943.9" stroke="#111" stroke-width="2.6"/>
<text x="396.3" y="950.2" font-size="18.5" fill="#111" font-weight="bold" textLength="175.1" lengthAdjust="spacingAndGlyphs">FXR/RXR Activation</text>
<rect x="584.8" y="955.5" width="120.7" height="22.2" fill="#8b2f95"/>
<rect x="705.2" y="955.5" width="122.0" height="22.2" fill="#f0e727"/>
<rect x="826.9" y="955.5" width="122.4" height="22.2" fill="#f79544"/>
<line x1="573.3" y1="966.0" x2="583.5" y2="966.0" stroke="#111" stroke-width="2.6"/>
<text x="437.4" y="972.3" font-size="18.5" fill="#111" font-weight="bold" textLength="134.0" lengthAdjust="spacingAndGlyphs">RAR Activation</text>
<line x1="584.8" y1="977.4" x2="705.2" y2="999.4" stroke="#111" stroke-width="1.3"/>
<line x1="584.8" y1="999.4" x2="705.2" y2="977.4" stroke="#111" stroke-width="1.3"/>
<rect x="705.2" y="977.4" width="122.0" height="22.2" fill="#2b2d83"/>
<rect x="826.9" y="977.4" width="122.4" height="22.2" fill="#512d92"/>
<line x1="573.3" y1="988.1" x2="583.5" y2="988.1" stroke="#111" stroke-width="2.6"/>
<text x="364.8" y="994.5" font-size="18.5" fill="#111" font-weight="bold" textLength="206.6" lengthAdjust="spacingAndGlyphs">Interleukin-10 signaling</text>
<line x1="584.8" y1="999.4" x2="705.2" y2="1021.3" stroke="#111" stroke-width="1.3"/>
<line x1="584.8" y1="1021.3" x2="705.2" y2="999.4" stroke="#111" stroke-width="1.3"/>
<rect x="705.2" y="999.4" width="122.0" height="22.2" fill="#fcaa36"/>
<rect x="826.9" y="999.4" width="122.4" height="22.2" fill="#f0e926"/>
<line x1="573.3" y1="1010.2" x2="583.5" y2="1010.2" stroke="#111" stroke-width="2.6"/>
<text x="200.2" y="1016.6" font-size="18.5" fill="#111" font-weight="bold" textLength="370.1" lengthAdjust="spacingAndGlyphs">Human Embryonic Stem Cell Pluripotency</text>
<rect x="584.8" y="1021.3" width="120.7" height="22.2" fill="#fdc527"/>
<rect x="705.2" y="1021.3" width="122.0" height="22.2" fill="#8b2f95"/>
<rect x="826.9" y="1021.3" width="122.4" height="22.2" fill="#8b2f95"/>
<line x1="573.3" y1="1032.4" x2="583.5" y2="1032.4" stroke="#111" stroke-width="2.6"/>
<text x="409.0" y="1038.8" font-size="18.5" fill="#111" font-weight="bold" textLength="162.4" lengthAdjust="spacingAndGlyphs">RHOGDI Signaling</text>
<line x1="584.8" y1="1043.2" x2="705.2" y2="1065.2" stroke="#111" stroke-width="1.3"/>
<line x1="584.8" y1="1065.2" x2="705.2" y2="1043.2" stroke="#111" stroke-width="1.3"/>
<rect x="705.2" y="1043.2" width="122.0" height="22.2" fill="#fcd02a"/>
<rect x="826.9" y="1043.2" width="122.4" height="22.2" fill="#fca636"/>
<line x1="573.3" y1="1054.5" x2="583.5" y2="1054.5" stroke="#111" stroke-width="2.6"/>
<text x="379.5" y="1061.0" font-size="18.5" fill="#111" font-weight="bold" textLength="191.2" lengthAdjust="spacingAndGlyphs">Signaling by NOTCH1</text>
<line x1="584.8" y1="1065.2" x2="705.2" y2="1087.2" stroke="#111" stroke-width="1.3"/>
<line x1="584.8" y1="1087.2" x2="705.2" y2="1065.2" stroke="#111" stroke-width="1.3"/>
<rect x="705.2" y="1065.2" width="122.0" height="22.2" fill="#fdc72c"/>
<rect x="826.9" y="1065.2" width="122.4" height="22.2" fill="#fcab33"/>
<line x1="573.3" y1="1076.6" x2="583.5" y2="1076.6" stroke="#111" stroke-width="2.6"/>
<text x="376.0" y="1083.1" font-size="18.5" fill="#111" font-weight="bold" textLength="195.3" lengthAdjust="spacingAndGlyphs">Elastic fibre formation</text>
<line x1="584.8" y1="1087.2" x2="705.2" y2="1109.1" stroke="#111" stroke-width="1.3"/>
<line x1="584.8" y1="1109.1" x2="705.2" y2="1087.2" stroke="#111" stroke-width="1.3"/>
<rect x="705.2" y="1087.2" width="122.0" height="22.2" fill="#fcab35"/>
<rect x="826.9" y="1087.2" width="122.4" height="22.2" fill="#fcce2a"/>
<line x1="573.3" y1="1098.7" x2="583.5" y2="1098.7" stroke="#111" stroke-width="2.6"/>
<text x="288.6" y="1105.2" font-size="18.5" fill="#111" font-weight="bold" textLength="282.7" lengthAdjust="spacingAndGlyphs">Glycosaminoglycan metabolism</text>
<rect x="584.8" y="1109.1" width="120.7" height="22.2" fill="#8b2a93"/>
<rect x="705.2" y="1109.1" width="122.0" height="22.2" fill="#f69646"/>
<rect x="826.9" y="1109.1" width="122.4" height="22.2" fill="#fba638"/>
<line x1="573.3" y1="1120.8" x2="583.5" y2="1120.8" stroke="#111" stroke-width="2.6"/>
<text x="18.9" y="1127.4" font-size="18.5" fill="#111" font-weight="bold" textLength="551.3" lengthAdjust="spacingAndGlyphs">Role of Osteoclasts in Rheumatoid Arthritis Signaling Pathway</text>
<rect x="584.1" y="888.6" width="366.0" height="243.8" fill="none" stroke="#111" stroke-width="2.6"/>
<line x1="644.4" y1="1133.0" x2="644.4" y2="1142.7" stroke="#111" stroke-width="2.6"/>
<text x="644.4" y="1158.0" font-size="13" fill="#111" text-anchor="middle" font-weight="bold">TT</text>
<line x1="766.5" y1="1133.0" x2="766.5" y2="1142.7" stroke="#111" stroke-width="2.6"/>
<text x="766.5" y="1158.0" font-size="13" fill="#111" text-anchor="middle" font-weight="bold">TE12</text>
<line x1="888.1" y1="1133.0" x2="888.1" y2="1142.7" stroke="#111" stroke-width="2.6"/>
<text x="888.1" y="1158.0" font-size="13" fill="#111" text-anchor="middle" font-weight="bold">TE47</text>
<defs><linearGradient id="pg" x1="0" y1="0" x2="0" y2="1"><stop offset="0" stop-color="#f0f525"/><stop offset="0.165" stop-color="#fdc328"/><stop offset="0.3" stop-color="#f89540"/><stop offset="0.42" stop-color="#e56b5d"/><stop offset="0.51" stop-color="#c5407e"/><stop offset="0.6" stop-color="#a82a95"/><stop offset="0.72" stop-color="#7a2c9c"/><stop offset="0.85" stop-color="#4b2d93"/><stop offset="1" stop-color="#2c2f86"/></linearGradient></defs>
<rect x="979.2" y="888.6" width="30.7" height="243.4" fill="url(#pg)" stroke="#111" stroke-width="2.6"/>
<line x1="979.0" y1="929.3" x2="985.3" y2="929.3" stroke="#111" stroke-width="2.3"/>
<line x1="1003.7" y1="929.3" x2="1010.0" y2="929.3" stroke="#111" stroke-width="2.3"/>
<text x="1020.3" y="936.1" font-size="20" fill="#111">2</text>
<line x1="979.0" y1="1012.6" x2="985.3" y2="1012.6" stroke="#111" stroke-width="2.3"/>
<line x1="1003.7" y1="1012.6" x2="1010.0" y2="1012.6" stroke="#111" stroke-width="2.3"/>
<text x="1020.3" y="1019.4" font-size="20" fill="#111">0</text>
<line x1="979.0" y1="1095.6" x2="985.3" y2="1095.6" stroke="#111" stroke-width="2.3"/>
<line x1="1003.7" y1="1095.6" x2="1010.0" y2="1095.6" stroke="#111" stroke-width="2.3"/>
<text x="1020.8" y="1102.4" font-size="20" fill="#111">-2</text>
</g>
</svg>
</body></html>
